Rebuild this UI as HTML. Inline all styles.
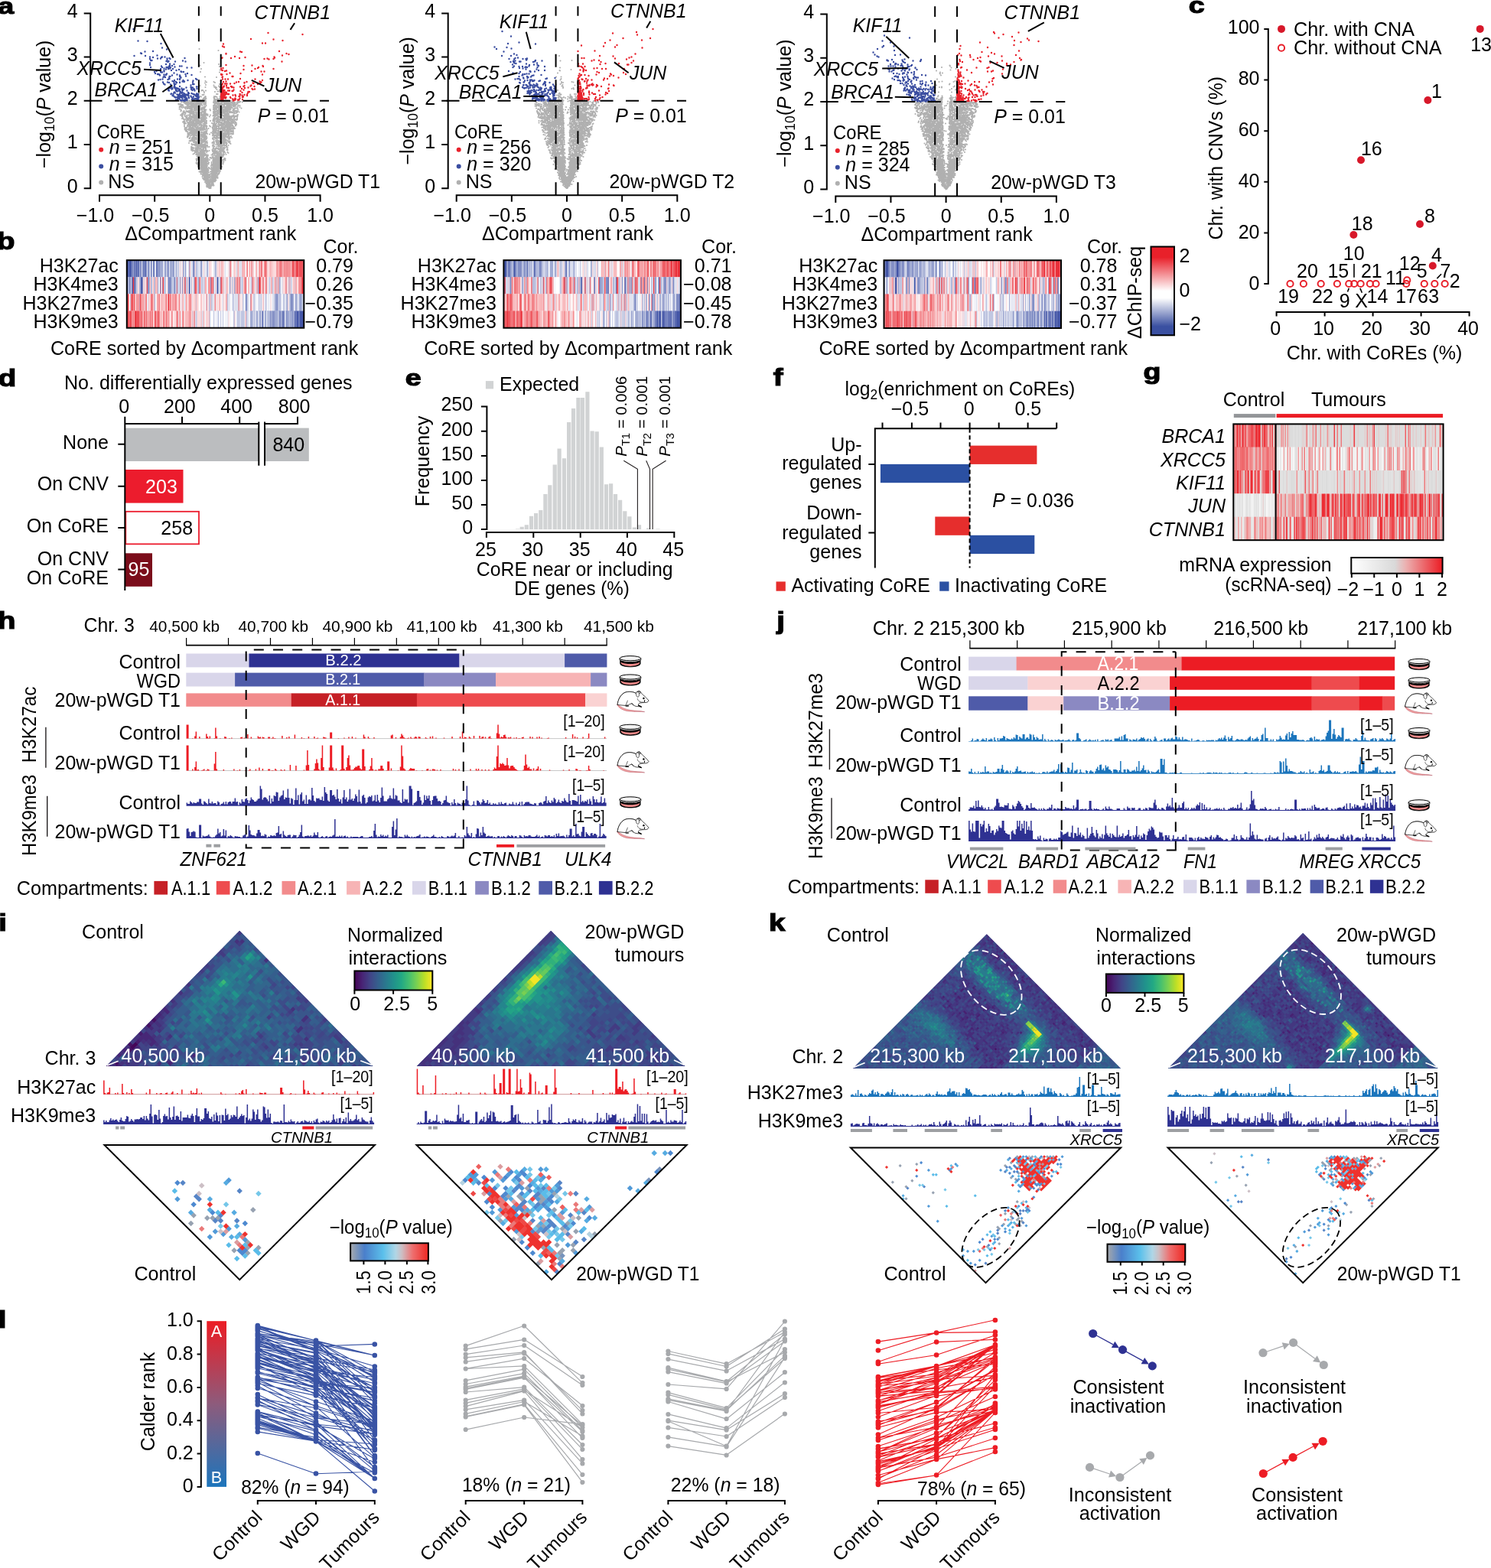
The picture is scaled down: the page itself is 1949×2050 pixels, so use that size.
<!DOCTYPE html>
<html lang="en"><head><meta charset="utf-8"><title>Figure</title>
<style>
html,body{margin:0;padding:0;background:#fff;}
body{width:1949px;height:2050px;overflow:hidden;}
svg{display:block;font-family:'Liberation Sans', sans-serif;font-size:25px;fill:#000;}
</style></head><body>
<svg width="1949" height="2050" viewBox="0 0 1949 2050">
<g id="panel_a">
<text transform="translate(-2.79 17.6) scale(1.25 1)" font-size="30" font-weight="bold" stroke="#000" stroke-width="1.2">a</text>
<polygon points="273.2,246.2 273.3,244.8 273.2,243.3 273.3,241.9 273,240.5 273.5,239 273,237.6 273.7,236.2 272.9,234.8 273.2,233.3 273.7,231.9 273.7,230.5 272.9,229 272.4,227.6 271.8,226.2 271.9,224.8 271.7,223.3 271.9,221.9 271.2,220.5 271.3,219 271.6,217.6 271.7,216.2 271.3,214.7 271.2,213.3 270.7,211.9 271.2,210.4 270.9,209 270.9,207.6 270.6,206.2 270.8,204.7 270.7,203.3 270.3,201.9 270.6,200.4 270.7,199 270.6,197.6 270.3,196.1 270,194.7 270,193.3 270.1,191.9 270.2,190.4 269.7,189 269.5,187.6 269.9,186.1 269.6,184.7 269.3,183.3 269.8,181.8 269.7,180.4 269.9,179 269.4,177.6 269.3,176.1 269.4,174.7 269.3,173.3 268.9,171.8 269.5,170.4 268.9,169 269.4,167.5 268.7,166.1 268.6,164.7 268.9,163.3 269.2,161.8 268.4,160.4 268.6,159 268.5,157.5 268.9,156.1 268.5,154.7 268.8,153.2 268.5,151.8 268.8,150.4 268.5,149 268.5,147.5 268.5,146.1 268.2,144.7 268.6,143.2 267.9,141.8 268.6,140.4 268,138.9 268.5,137.5 267.7,136.1 267.8,134.7 267.8,133.2 268,131.8 267.8,130.4 241.8,130.4 240.3,131.8 239.5,133.2 239.6,134.7 241.8,136.1 244.1,137.5 246.6,138.9 243.7,140.4 243.3,141.8 250.2,143.2 244,144.7 242.4,146.1 245.8,147.5 250.9,149 251.6,150.4 249.4,151.8 247.1,153.2 246.3,154.7 244.2,156.1 246.5,157.5 246.9,159 248.3,160.4 246.5,161.8 244.4,163.3 248.4,164.7 245.8,166.1 248.8,167.5 245.7,169 249.8,170.4 248.1,171.8 246.5,173.3 249.8,174.7 250.8,176.1 251.8,177.6 251.2,179 249.3,180.4 252.3,181.8 253.1,183.3 250.1,184.7 253.3,186.1 253.3,187.6 250.8,189 254.4,190.4 255.1,191.9 255.4,193.3 255.5,194.7 254.5,196.1 254,197.6 257,199 257.3,200.4 254.7,201.9 258.1,203.3 256.2,204.7 259,206.2 256.5,207.6 257.1,209 260.3,210.4 257.9,211.9 258.7,213.3 259.4,214.7 261.2,216.2 261.5,217.6 260.7,219 260.8,220.5 262.6,221.9 263,223.3 263.4,224.8 264.1,226.2 265.4,227.6 265.6,229 265.5,230.5 266.7,231.9 266.5,233.3 266.7,234.8 267.7,236.2 269.1,237.6 269.7,239 269.9,240.5 271,241.9 271.7,243.3 272.5,244.8 273.2,246.2" fill="#b0b0b0"/>
<polygon points="275.4,246.2 274.9,244.8 275.7,243.3 275.5,241.9 275.5,240.5 275.3,239 274.9,237.6 274.9,236.2 275.3,234.8 275.5,233.3 275.4,231.9 275.1,230.5 275.7,229 276,227.6 276.8,226.2 276.6,224.8 276.6,223.3 276.6,221.9 277.3,220.5 277.4,219 277.3,217.6 277,216.2 277.7,214.7 277.7,213.3 277.4,211.9 277.6,210.4 277.5,209 277.9,207.6 277.7,206.2 278.4,204.7 277.7,203.3 278.4,201.9 278.4,200.4 278.1,199 277.9,197.6 278.3,196.1 278.7,194.7 278.2,193.3 278.7,191.9 278.7,190.4 278.9,189 278.9,187.6 278.8,186.1 278.4,184.7 279.1,183.3 278.8,181.8 279.2,180.4 279.2,179 279,177.6 279.5,176.1 279.6,174.7 279,173.3 279.5,171.8 279.3,170.4 279.8,169 279.9,167.5 279.7,166.1 279.8,164.7 279.8,163.3 279.5,161.8 280.2,160.4 279.8,159 279.7,157.5 280.2,156.1 279.6,154.7 280,153.2 279.6,151.8 280.3,150.4 280.4,149 280.2,147.5 280.4,146.1 280.6,144.7 280.3,143.2 280.5,141.8 280.4,140.4 280.7,138.9 280.8,137.5 280.6,136.1 280.6,134.7 281,133.2 280.9,131.8 280.9,130.4 300.8,130.4 305.8,131.8 305.1,133.2 305.7,134.7 301.2,136.1 308.9,137.5 307.9,138.9 301.6,140.4 303.5,141.8 300.9,143.2 298.6,144.7 306.7,146.1 304.3,147.5 298.4,149 298.5,150.4 304.1,151.8 303.5,153.2 303.3,154.7 306.2,156.1 305.2,157.5 305.9,159 305.1,160.4 303.7,161.8 303.9,163.3 300.2,164.7 301.3,166.1 302.7,167.5 301.2,169 302.6,170.4 299.9,171.8 300.9,173.3 297.4,174.7 300.5,176.1 299.9,177.6 298.5,179 297.3,180.4 296.2,181.8 297.1,183.3 295.5,184.7 295.2,186.1 298.1,187.6 296.4,189 295.2,190.4 293.2,191.9 293.6,193.3 292.4,194.7 292.5,196.1 294.6,197.6 293.3,199 291,200.4 290.6,201.9 291.7,203.3 292.6,204.7 291,206.2 290.3,207.6 289.5,209 288.8,210.4 290.6,211.9 289.9,213.3 288.4,214.7 287.5,216.2 287.2,217.6 288.1,219 286.4,220.5 286.5,221.9 286.5,223.3 285.5,224.8 283.9,226.2 284.4,227.6 282.7,229 283.7,230.5 282.4,231.9 281.5,233.3 281.4,234.8 281,236.2 280.4,237.6 279.4,239 278.5,240.5 278.1,241.9 277,243.3 276,244.8 275.4,246.2" fill="#b0b0b0"/>
<path d="M243 131.5h0m3 0.5h0m3.5-1h0m18.5 1h0m33-1.5h0m1.5 2h0m-60 5h0m5.5 0h0m0-3.5h0m4.5-1h0m2 1.5h0m0.5-2h0m4 4.5h0m5.5-1h0m1.5 0h0m16.5 1h0m5.5-3.5h0m3.5 1.5h0m9 0.5h0m-57.5 3.5h0m2 0.5h0m1.5 2h0m1 0h0m5 0.5h0m5-1.5h0m5.5-0.5h0m0.5-1h0m0-0.5h0m1.5 0.5h0m1-1h0m0.5 0.5h0m1 1.5h0m0.5-1.5h0m16-0.5h0m0.5 4.5h0m4-4.5h0m2.5 0.5h0m1.5 3h0m2-3.5h0m0.5 0h0m7 0.5h0m1.5 0.5h0m-50.5 5h0m2 2h0m1.5-0.5h0m1 0h0m2 1h0m0.5-1.5h0m2 0.5h0m1-0.5h0m2.5-1h0m2 2.5h0m14.5-2.5h0m7.5 1h0m6 2h0m3-1h0m3.5-3h0m-47 6h0m5 0h0m3 3h0m2-4h0m18 4.5h0m0-5h0m3 3h0m1.5 1h0m0.5-3h0m1.5 0h0m1.5 4h0m1-3h0m2.5 1.5h0m0 0.5h0m4.5-3.5h0m0 2h0m1.5-1.5h0m4 0.5h0m-59 4h0m1.5 3.5h0m1-3.5h0m2.5 4h0m0.5 0h0m0.5-1h0m1.5-0.5h0m8.5 1h0m18 0.5h0m2-3h0m0.5 3h0m4.5 0h0m0.5-2.5h0m4.5-1h0m3.5-0.5h0m7-0.5h0m-54 7h0m1 2.5h0m1.5-4h0m1 0.5h0m3 1h0m8 2.5h0m1.5-0.5h0m1.5-1h0m1 0h0m0.5 0h0m0.5 1h0m1-4h0m0.5 3.5h0m12.5-2h0m0.5 1.5h0m2.5 1h0m3-0.5h0m1.5-2.5h0m2.5 1h0m2.5 1.5h0m2-3.5h0m4.5 1.5h0m0.5 0h0m1.5-1h0m-52 7.5h0m0.5 0.5h0m3-1h0m0 1.5h0m0.5-2h0m2.5 0.5h0m2-1.5h0m1 2h0m1.5-0.5h0m3 1h0m0.5-3h0m3.5 4h0m0.5-3.5h0m11 2.5h0m1.5 0.5h0m2-3.5h0m1 3.5h0m0.5-2.5h0m2.5 2h0m0.5-0.5h0m4-0.5h0m1-0.5h0m2-2h0m-44.5 7h0m4.5-1.5h0m3 1h0m3.5 3h0m1.5-0.5h0m2-2h0m0 2h0m0.5 0.5h0m1.5-1h0m1 0h0m14.5-0.5h0m1.5 1.5h0m0.5-2.5h0m2 0h0m1 1h0m2-0.5h0m4.5 0.5h0m1.5-2.5h0m-39 7.5h0m3.5 0h0m1.5-1h0m1-0.5h0m0 0h0m1.5 0h0m5.5 0.5h0m10.5 1h0m2-0.5h0m8.5-1.5h0m2-1h0m1.5 0h0m1 0.5h0m2 4h0m-41.5 1.5h0m0.5 1.5h0m1-1h0m0.5 1.5h0m4.5-2.5h0m1 1h0m2 2h0m15 0.5h0m1.5-2.5h0m3.5 3h0m1 0.5h0m0-4h0m0.5 3.5h0m9-1.5h0m0.5 1h0m-42.5 1h0m0.5 2h0m2-1h0m0.5 0.5h0m2.5 1.5h0m0.5 0h0m2.5 0.5h0m5 1h0m13.5-3.5h0m0.5 1.5h0m0.5 1.5h0m0.5-4h0m5.5 0.5h0m0 4h0m2-3h0m1.5-1h0m-37 4.5h0m2 4.5h0m1.5-2.5h0m3-1.5h0m1 4h0m4-4.5h0m15 2h0m0.5-2h0m0.5 3h0m0.5 1h0m0 1h0m0-5h0m0 2h0m1.5 1h0m4 0h0m3.5-2h0m1 3h0m2.5-3h0m-39.5 5h0m0.5 2h0m4.5 0h0m0 0.5h0m1 0h0m3-2h0m3.5 1h0m12 1h0m1-3h0m2.5 3h0m1-0.5h0m0.5-3h0m0.5 4.5h0m1 0h0m0.5-4h0m2 4h0m2-4h0m0.5 1.5h0m-32.5 5.5h0m1.5-2h0m8.5 1h0m1 1.5h0m12.5 1.5h0m4.5-3h0m3.5 0h0m0 0h0m0.5 0h0m0.5 1.5h0m0.5 2h0m-32 3.5h0m1 0h0m7-0.5h0m0.5-0.5h0m0.5-0.5h0m9.5-2h0m1 0h0m1 2h0m0.5 1.5h0m0.5-0.5h0m4-2h0m6 0h0" fill="none" stroke="#fff" stroke-width="1.3" stroke-linecap="round"/>
<path d="M260.5 64h0m25 2h0m-19 16h0m-5 3.5h0m24.5-1.5h0m1 3h0m-24 3h0m24.5 1.5h0m-25.5 2.5h0m25 0.5h0m-19 6h0m15 0.5h0m-14.5 5h0m1.5 1.5h0m9.5-0.5h0m-18 5h0m6.5-3.5h0m1 2.5h0m10.5 0.5h0m1.5-3.5h0m5 4.5h0m1-2.5h0m-18.5 4h0m11.5-0.5h0m1 0.5h0m0.5-0.5h0m0.5 1h0m0 1h0m1-1h0m0.5 2.5h0m3.5-3h0m-27 6h0m3.5-1.5h0m0.5-0.5h0m1 0h0m1.5 1.5h0m0.5 1.5h0m2-2.5h0m12 1.5h0m3.5-0.5h0m2 0h0m0.5-2h0m-26.5 5h0m1 3.5h0m1.5 0.5h0m1.5-2.5h0m1.5 0h0m0.5-0.5h0m1.5 3h0m0.5 0.5h0m0-1h0m0.5 1h0m0 0h0m10.5 0.5h0m0.5-0.5h0m0-1h0m1.5 0.5h0m0.5-0.5h0m1-3h0m0.5 4h0m1-4h0m3 3h0m-52.5 6h0m2.5 0h0m0.5 0h0m2.5 0.5h0m12.5-0.5h0m8.5-0.5h0m0-1h0m0.5 1h0m2.5-1h0m0.5-0.5h0m1-1.5h0m0 3h0m0.5 0h0m0-2.5h0m0.5-1h0m0.5 3h0m0.5-3h0m0 2.5h0m0.5-1.5h0m0.5 0h0m0 2.5h0m0.5-2.5h0m10 3h0m0.5-1h0m0-1.5h0m0-1.5h0m0 1h0m0.5 0h0m0 1.5h0m0-1.5h0m0.5 3h0m1-2h0m1.5 0.5h0m0 0.5h0m0.5-2h0m0.5 1h0m1.5-0.5h0m1.5-0.5h0m0-1h0m1 0.5h0m11 4h0m11.5-0.5h0m-77.5 3.5h0m0 0.5h0m0 0.5h0m1 0h0m1-0.5h0m0.5 0h0m1 0.5h0m0-3h0m0.5 3.5h0m1.5 0h0m0-4h0m1 0h0m0.5 1h0m0.5 0h0m1-0.5h0m0 2h0m0-3h0m1 0h0m0.5 0h0m0 3.5h0m1-0.5h0m0.5 0.5h0m0.5-3h0m1.5 1.5h0m0.5 1.5h0m0-0.5h0m0.5-1h0m0 1h0m1.5-2h0m0 1h0m2-1h0m0.5 2.5h0m0.5 1h0m0.5 0h0m0.5 0h0m0.5-3h0m5 2h0m1.5-3.5h0m0 5h0m2.5-1h0m4.5-0.5h0m0.5-1h0m0.5 1h0m0-2h0m0.5-0.5h0m0 2h0m0 0.5h0m0-1h0m0 1h0m0-3h0m0 2.5h0m10-1.5h0m0.5 0h0m0-1h0m0 1.5h0m0.5-2h0m0 1.5h0m0 0.5h0m0.5-1.5h0m0 4h0m0-3.5h0m0.5 1h0m0 1h0m7 0.5h0m1-3h0m0 2h0m1.5 2h0m0-3h0m5-1.5h0m1 1.5h0m1.5 2h0m1 0.5h0m1-1h0m1.5 1h0m0.5 0h0m0.5-3h0m1.5 2h0m1-2.5h0m0 2h0m0 2h0m0.5 0.5h0m0-1.5h0m1 0h0m0-2.5h0m0.5 0.5h0m0 0.5h0m0 1.5h0m0.5-1.5h0m1 2.5h0m1-2h0m0 1.5h0m0.5-3h0m0.5 1.5h0m1 2.5h0m0.5-4h0m0.5 0.5h0m0.5-1h0m0.5 0h0m1 0h0m2.5 0.5h0m-82.5 6.5h0m0 2.5h0m1-2.5h0m0-1.5h0m1.5-1h0m0 2h0m0-1h0m1 2.5h0m0.5-2.5h0m1 0.5h0m0.5 1.5h0m2-0.5h0m0 1.5h0m1 1h0m0.5-2.5h0m1-2h0m0.5 2h0m0 0h0m0 2h0m0.5-3h0m0 3h0m1.5-3h0m0 2h0m1-2.5h0m0 0h0m0 3.5h0m0-1h0m1.5-1.5h0m0.5 2.5h0m1-1.5h0m0.5 2h0m1-5h0m0.5 2.5h0m1.5-1.5h0m2 1.5h0m1-1.5h0m0.5 2h0m1 0.5h0m2-1h0m0.5-0.5h0m3.5 2h0m2-2h0m0.5 0.5h0m0.5 0h0m0.5-0.5h0m1-1.5h0m9.5 4h0m0-4h0m0 2h0m0.5 1.5h0m0-4h0m0 5h0m0.5-2h0m0.5-2.5h0m0 2.5h0m0.5 1.5h0m0-4h0m0.5 0h0m0 2h0m1 0.5h0m1-2.5h0m4 0h0m0 1h0m4 2h0m0.5-0.5h0m5.5-2.5h0m0.5 3.5h0m0.5-1.5h0m2-1.5h0m0-0.5h0m0.5 1.5h0m0.5 0.5h0m1-1h0m0.5 1.5h0m1.5 1h0m1.5-2h0m1 2h0m1 0h0m0.5-2h0m1.5 2h0m0.5-0.5h0m0.5-2h0m2.5 1h0m0-2h0m2 3.5h0m-80 1h0m1 2h0m0 1h0m0.5-1.5h0m2.5 2h0m0 1h0m1-1.5h0m0-0.5h0m0 0.5h0m1 1h0m0.5 0.5h0m0.5 0.5h0m1-2.5h0m0 0h0m1 1h0m3 0h0m1-1.5h0m1.5-1.5h0m0.5 4.5h0m2-1.5h0m1.5-1.5h0m0.5-1h0m2 2h0m2.5 0.5h0m4-3h0m2-0.5h0m2.5 0.5h0m0 3h0m1 1h0m0-3.5h0m0 0h0m0 2.5h0m0-1h0m1-1.5h0m5-0.5h0m0.5 1.5h0m4 1.5h0m0-2.5h0m0 3h0m0.5-3h0m0 3.5h0m0.5-4h0m0 0h0m0 3h0m0-2.5h0m0.5 3.5h0m0-1h0m0 1h0m0-2h0m0.5 1.5h0m1-3.5h0m2 4.5h0m1-1h0m4.5-4h0m2 2.5h0m4 1.5h0m0-3h0m1.5 3.5h0m0-0.5h0m1-2h0m0.5 0.5h0m1 1.5h0m0.5 0.5h0m0.5-2h0m0-2h0m1 0h0m0.5 3.5h0m2.5-2h0m0-0.5h0m0 0h0m0.5-0.5h0m0.5 3h0m0-2.5h0m0.5 0.5h0m0-1h0m0-0.5h0m0.5 4h0m1-1.5h0m0.5-0.5h0m0.5 0.5h0m0-1h0m0.5 0.5h0m1 2h0m0-0.5h0m1-1.5h0m0-2h0m1.5 3.5h0m-76.5 4h0m1.5-1h0m0 1h0m0.5 0.5h0m0-2.5h0m0 3h0m0.5-2.5h0m0 3h0m0 0h0m0-1h0m0.5-1.5h0m0.5-0.5h0m0.5-1.5h0m1.5 2h0m0 1.5h0m0 0.5h0m0.5-4h0m0 4.5h0m0.5-3.5h0m1.5 2.5h0m0.5 1.5h0m1.5-2h0m1.5 0h0m0.5 2h0m0-2h0m0.5-1.5h0m0-0.5h0m0.5 2.5h0m0-2h0m0.5 3h0m0.5-4.5h0m0 4.5h0m1-3h0m3.5 1h0m1 1.5h0m1.5-1.5h0m3 1h0m3.5 0h0m3.5-2.5h0m1 0h0m0-0.5h0m0 1.5h0m0.5-1h0m0.5 1.5h0m0 2h0m0-3.5h0m0 1.5h0m0-1h0m1 0h0m0 1h0m1.5 1h0m0-1.5h0m2.5 3h0m1-2h0m3.5 1h0m0.5 0h0m0-1h0m0 0h0m0-2.5h0m0.5 3h0m0 0.5h0m0.5-1.5h0m0 1h0m0.5-1.5h0m0 1h0m0-0.5h0m1-2h0m2.5 1h0m0-0.5h0m4.5 0.5h0m3.5 2.5h0m2-1h0m0 2h0m0-5h0m0 4h0m1-0.5h0m1.5 0h0m0.5-1h0m1-0.5h0m0.5 2.5h0m0-3.5h0m0 3h0m0-2h0m0.5 0h0m1 2h0m3 0h0m1-4h0m1 4h0m0-0.5h0m0 1h0m0-1.5h0m1-2h0m0.5 0h0m0.5 3h0m0.5 0h0m1-3.5h0m0.5 4h0m0-4.5h0m1 3h0m0 1.5h0m0.5 0h0m0.5-2h0m-73 2.5h0m0 2.5h0m1-1h0m0.5 0.5h0m0.5 1.5h0m1.5 0.5h0m0.5-0.5h0m1-3h0m0.5 1.5h0m0.5 2.5h0m0-2h0m0.5-1.5h0m0.5 3.5h0m0.5 0h0m0-2h0m0 1h0m0.5 0h0m0 1h0m1-3.5h0m0.5 2h0m1-3h0m1 4.5h0m0.5-0.5h0m1.5 0h0m2-1.5h0m2-0.5h0m6 0.5h0m2 2h0m3.5-2.5h0m0.5 1h0m0.5 0.5h0m0.5-1h0m0.5-0.5h0m0 2.5h0m0.5-3h0m0 0h0m0.5 0.5h0m8.5 3h0m0-0.5h0m0.5-1.5h0m0 2h0m0.5-2h0m0 2h0m0 0h0m0-2h0m0-1.5h0m1 3h0m0-3h0m1 1.5h0m3-2h0m1.5 3h0m2.5 0h0m2-1h0m0.5 0h0m2 1.5h0m2-4h0m1 0.5h0m2.5-1h0m1 2.5h0m1.5-0.5h0m0 2h0m0.5-2.5h0m0-1h0m1.5 0h0m0.5 0h0m0.5 4h0m1.5-2h0m0.5-2h0m0 4.5h0m0-4h0m0.5 0.5h0m0.5-1h0m0 3.5h0m0.5-4h0m0.5 3.5h0m1 1h0m1-0.5h0m0-1h0m0-1.5h0m-71 5.5h0m1-0.5h0m0-0.5h0m0.5 2.5h0m0.5 0.5h0m0 1h0m0-4h0m0.5 0h0m0 2h0m0-1h0m1 1.5h0m0.5 0.5h0m1-3.5h0m0.5 1h0m1 1h0m0 1h0m1-0.5h0m0.5 1h0m0.5-1.5h0m0.5-0.5h0m0 0h0m0.5 1.5h0m2 0h0m0.5-2h0m0.5 0.5h0m0.5 1.5h0m0.5-3h0m0-0.5h0m1 2.5h0m0-0.5h0m0-0.5h0m1.5 3h0m0.5-3.5h0m0 0h0m0 0h0m1 4h0m1.5-1h0m0-3.5h0m4 2.5h0m0.5 1.5h0m0.5-4h0m3.5 3.5h0m1-1.5h0m0.5 1h0m0 0h0m1 0.5h0m0-1.5h0m0.5-1h0m0-0.5h0m0 2h0m0-3h0m0.5 1h0m0-0.5h0m0 3.5h0m0-1h0m5-2.5h0m2 3h0m1.5 0.5h0m0-3h0m0.5 3h0m0-3.5h0m0.5 4h0m0-4h0m0.5 3h0m0-0.5h0m0.5-1h0m4.5 0h0m1.5-1h0m1 1.5h0m3.5-2.5h0m2.5 1h0m0 3h0m0.5-1h0m0 0.5h0m3-2h0m0-1.5h0m0.5 4h0m0-4h0m0.5 5h0m0.5-4.5h0m0.5 1h0m1 1.5h0m0.5-0.5h0m0 1.5h0m0 0.5h0m1-4h0m0 0h0m0.5 3h0m1-3h0m0 3h0m0 0h0m1-0.5h0m1 0.5h0m1-1.5h0m0.5-1.5h0m0.5 3.5h0m0.5-1.5h0m0.5-0.5h0m1 1.5h0m-68 3.5h0m0 0.5h0m0-0.5h0m0 0.5h0m0.5 2h0m1 0h0m1 0h0m0.5 0h0m0.5-1h0m0.5-2h0m1-1h0m0.5 2.5h0m0.5-0.5h0m0 0h0m0 0.5h0m0-2h0m0.5 1h0m1-1.5h0m0 3.5h0m0-1.5h0m0 1h0m0-0.5h0m0.5-2.5h0m0.5 3.5h0m0.5-3.5h0m0.5 3.5h0m0.5-2.5h0m0 3.5h0m1-2h0m0.5 1h0m0-1h0m0.5-1.5h0m1 0.5h0m0-1h0m0.5 1h0m0.5 1.5h0m1.5-1.5h0m2 0.5h0m6.5-0.5h0m0 2.5h0m1-2h0m1 0h0m1-1h0m1 0.5h0m0 0h0m0.5 1.5h0m0-2h0m0.5 3h0m0-2.5h0m0.5 0.5h0m3.5-0.5h0m1 1h0m2.5 1h0m0.5-0.5h0m0 0.5h0m0.5-3h0m0 2.5h0m0.5-2.5h0m0 1.5h0m0 1h0m0-2h0m0.5 1.5h0m0-3h0m0.5 2.5h0m0-0.5h0m0-1.5h0m0.5 1h0m0.5 2.5h0m2 1h0m1-2.5h0m1.5 0h0m2.5-1.5h0m2 0h0m1.5-0.5h0m0.5 2h0m0 0h0m0.5 1.5h0m0.5-1h0m1-2h0m1 2.5h0m0.5-3h0m0 3h0m0-1h0m1 2h0m0.5-3.5h0m0 2h0m0.5-1.5h0m0.5-1h0m0.5 1h0m1 0.5h0m0.5-1h0m0.5 2h0m0-2h0m0.5 0.5h0m0.5 0h0m0.5 1h0m0.5 2h0m1-2.5h0m0.5-1h0m0.5 3h0m0-1h0m0 1.5h0m0-2.5h0m1 2h0m0 0h0m0.5-0.5h0m1.5-3h0m0.5 1h0m0 0.5h0m1-2h0m0 0.5h0m-67.5 6h0m0.5 0h0m0-0.5h0m0.5 2h0m0-0.5h0m0.5 1.5h0m1 0.5h0m0-3h0m0 2h0m0-0.5h0m0.5-1h0m0.5 2.5h0m0 0h0m1-3h0m1 1.5h0m0-2.5h0m1 2h0m0-1.5h0m1 2h0m1-2.5h0m0 1.5h0m0 2h0m0-2h0m0.5 2.5h0m0-1.5h0m0-1h0m1.5 1.5h0m0.5 0h0m1-1h0m1 1.5h0m0-2.5h0m0.5 3h0m1-0.5h0m0.5-0.5h0m1 1.5h0m0-3.5h0m1.5 0h0m1.5-0.5h0m1.5 2h0m3-2h0m0 1h0m0.5-0.5h0m3 3h0m0.5 0h0m0 0h0m1-4h0m0-0.5h0m0 4h0m0.5-0.5h0m0-2h0m0 0.5h0m2-1.5h0m5.5 4h0m0-4h0m0.5 1h0m0 2.5h0m0-3h0m0 2.5h0m0-1.5h0m0.5 1h0m0 1.5h0m0-1h0m0-1h0m0-0.5h0m0-1.5h0m0 4h0m0.5-1.5h0m0.5-1h0m0 2.5h0m2.5-1.5h0m2 0h0m0.5 1h0m1-2.5h0m0 3h0m2 0h0m3 0h0m0-3.5h0m1 0.5h0m0.5 1.5h0m1-0.5h0m0.5 2h0m0-0.5h0m1 0h0m1.5-2.5h0m0.5 2.5h0m0-2h0m0.5-1h0m0.5 3.5h0m0.5-1h0m0.5-1h0m0.5-1.5h0m0.5-0.5h0m1 4.5h0m0.5-3.5h0m0 3h0m0-1h0m0.5-1h0m0.5-2h0m0.5 3.5h0m0.5 1h0m0-4.5h0m0.5 3h0m0.5 0h0m0 1h0m0-3.5h0m0 1h0m0.5 1.5h0m1-3h0m1 0h0m-61.5 7.5h0m0-2.5h0m0 1.5h0m0.5 0h0m0 2.5h0m0.5-1.5h0m1 1h0m0-1.5h0m0-1h0m0 1h0m0.5-1h0m0.5 0.5h0m0.5 3h0m0.5-3h0m0-1h0m0 1.5h0m0 0h0m0.5-1h0m0-1.5h0m0 0.5h0m0.5 4h0m0-3h0m0 0.5h0m0.5-1h0m0.5 1.5h0m0-0.5h0m0.5 1.5h0m1-2h0m0-0.5h0m0 2.5h0m0.5 1h0m0.5 0h0m1-1.5h0m0.5 0.5h0m0.5-1.5h0m0.5 0h0m4.5-1h0m0.5 1.5h0m0.5 1.5h0m1.5-3h0m3-1h0m0 3.5h0m2-3.5h0m0.5 1.5h0m0.5 0.5h0m0.5-1h0m0-0.5h0m0 0h0m0 0h0m0 1h0m0.5 0.5h0m0.5 0.5h0m3 0.5h0m2-2h0m2 4h0m0-3.5h0m0 3h0m0-2h0m0 0h0m0.5 1.5h0m0 0.5h0m0-1.5h0m0.5 1h0m0-1.5h0m0 0.5h0m0.5-2h0m1 3.5h0m1-3.5h0m0.5 0.5h0m3.5 1.5h0m0.5-1.5h0m1.5 3h0m3-2h0m0.5-2h0m2 3h0m0-0.5h0m0.5 1h0m0 0.5h0m0.5-4h0m0 3h0m0.5 1.5h0m0-3h0m1.5 1.5h0m0.5-2h0m1 0.5h0m1-0.5h0m0 0.5h0m0.5 1h0m0.5 1.5h0m0-2.5h0m1.5 0.5h0m1-2.5h0m0.5 2.5h0m0.5 0h0m0.5 0h0m0.5 0.5h0m0-0.5h0m1-2h0m0 2h0m-60 3h0m0 1.5h0m1-1h0m1.5 2.5h0m0.5-0.5h0m0 0.5h0m0.5-1.5h0m2 2.5h0m0.5-1.5h0m0.5 1.5h0m1-1.5h0m2 1h0m0.5-1h0m1-1h0m0.5 1h0m0.5 0h0m2-2.5h0m0.5 4.5h0m2-5h0m0 1h0m1.5-0.5h0m2 0.5h0m4.5 1h0m0-0.5h0m0 3h0m0.5-4h0m0 3.5h0m0.5-1.5h0m7.5 1.5h0m0-1h0m0.5 1.5h0m0-0.5h0m1-2h0m2 0.5h0m1.5 0h0m0.5 0h0m4.5-1.5h0m2 0h0m1 1h0m1 0h0m0 2.5h0m0-1h0m0.5-0.5h0m0.5-1.5h0m1.5 3h0m4-2.5h0m0 1.5h0m1-0.5h0m0-1.5h0m0 3.5h0m1-1.5h0m0 0h0m0-2h0m0.5 0h0m1-1h0m1 2h0m-56 7h0m0.5-2.5h0m0.5-0.5h0m1.5 0.5h0m0-1h0m1.5-0.5h0m1.5 1h0m0.5 2h0m0-3h0m1 0h0m0.5 1h0m0 2h0m1 0.5h0m1.5-0.5h0m1.5 0h0m0.5-0.5h0m0 1.5h0m0-1.5h0m2 1.5h0m1 0h0m4.5-3.5h0m3.5 2h0m0 0.5h0m0-0.5h0m0.5-1h0m0 2.5h0m0.5-0.5h0m0 0.5h0m6.5 0h0m0-0.5h0m0.5 0h0m0-0.5h0m1.5 1h0m9.5-0.5h0m2-3.5h0m0.5 3.5h0m0.5-2h0m2-1h0m0.5 0.5h0m0.5 3h0m1 0h0m0.5-1.5h0m1-2h0m1 1h0m0.5 1.5h0m1-0.5h0m0-0.5h0m0.5 1h0m0 1h0m0-2.5h0m-50.5 7.5h0m0.5-4h0m0 4h0m0.5-2.5h0m0.5 0h0m0-0.5h0m2.5 0.5h0m2-1.5h0m1.5 1.5h0m3 0h0m1 1.5h0m0.5 0.5h0m5 0h0m3.5-1.5h0m0.5-0.5h0m0 1.5h0m0.5 1h0m2 0h0m4.5-2.5h0m0 1.5h0m9.5 0.5h0m0.5-1h0m2.5 0h0m1.5-2.5h0m1 0.5h0m2 1.5h0m1-1.5h0m0 1h0m0 1.5h0m0.5 1h0m2-2h0m0 0h0m3-2h0m-51.5 8h0m0-2h0m0.5-1h0m0.5 1.5h0m0.5 3h0m0-1h0m0.5-0.5h0m0 0h0m0-3h0m1 3.5h0m0-2.5h0m0.5-0.5h0m2 0h0m0 2h0m1.5 0.5h0m0.5-3h0m1 2h0m2 1h0m10.5 1h0m2.5 0h0m4-1h0m0.5 0.5h0m0 0.5h0m0.5-2h0m0-1.5h0m0.5 3.5h0m6.5-2.5h0m2.5 0.5h0m0 1.5h0m1-1.5h0m0-0.5h0m0.5-0.5h0m0 1.5h0m0 0.5h0m0.5 1.5h0m0-4.5h0m1 2h0m0 2.5h0m1.5-2.5h0m0-0.5h0m1 0h0m0-1.5h0m2-0.5h0m1 3.5h0m0 0h0m0.5-1.5h0m0.5 2h0m0-4h0m0 2.5h0m-45 6.5h0m1.5-1h0m0-3h0m1 2h0m0.5-0.5h0m0.5-1h0m0.5 4h0m0-3h0m0.5 0.5h0m0 3h0m0-1.5h0m0.5 0.5h0m0.5-2.5h0m0 2h0m0 1h0m0.5-3.5h0m5 4h0m3-0.5h0m1 0.5h0m1.5 0h0m2.5 0h0m0-4.5h0m5 4.5h0m1.5-1.5h0m0 0.5h0m0-3.5h0m2.5 2.5h0m1.5-0.5h0m1-1.5h0m0.5 1h0m2.5 1.5h0m0-0.5h0m1-2.5h0m0.5 2h0m1-0.5h0m0.5-1.5h0m0 1.5h0m3 1.5h0m0.5 1h0m0.5 0h0m0-3h0m0.5 0h0m1 1h0m1 2h0m2-3h0m1 1h0m-40.5 7h0m1.5 0.5h0m0.5-3.5h0m0-0.5h0m0.5 3.5h0m0.5-3h0m0 1.5h0m2 2h0m5-4.5h0m2 0h0m0.5 2.5h0m0.5 0.5h0m0-1.5h0m0 0.5h0m0.5-1h0m0-1.5h0m0 4.5h0m0.5-4h0m2.5 3.5h0m0.5-0.5h0m1.5 1h0m1-2h0m0 0.5h0m0.5-3h0m0.5 4h0m2.5-0.5h0m4-2.5h0m0.5 3.5h0m0.5-4h0m1 0.5h0m1 2h0m0.5-1h0m1.5 1h0m1-2.5h0m0 1.5h0m1-1.5h0m0 0h0m1.5 4h0m-37 1h0m0.5 2h0m0 0.5h0m0.5-2h0m2-0.5h0m0.5 3h0m0.5 1h0m0 0h0m2-4.5h0m0.5 2h0m1 0.5h0m1.5 0h0m0 2h0m1.5-1h0m2.5-2h0m1.5-0.5h0m0.5 2h0m0 0.5h0m0.5-3h0m0 2h0m0-2h0m1 4.5h0m1-3.5h0m2.5 3h0m2-2h0m3-1h0m3.5 0h0m2 0.5h0m2.5 2h0m0.5-1.5h0m1-1h0m1 2.5h0m0.5-2.5h0m0 2.5h0m0 0h0m0-2.5h0m0.5-1h0m1.5 1.5h0m0-2h0m-38 5.5h0m0.5 0h0m0.5 1.5h0m1.5 2h0m0-1.5h0m0-1.5h0m0.5 0h0m0 1h0m0.5-1h0m0 2.5h0m0 0.5h0m1-1.5h0m0.5 1h0m1 1h0m0-3.5h0m0.5 2h0m0-0.5h0m0.5-0.5h0m1 2.5h0m4-1.5h0m2 1h0m0-2h0m0.5-1h0m0.5 0h0m1 1h0m0-0.5h0m3.5 2.5h0m0.5-2.5h0m0 2h0m0.5-1.5h0m0 0.5h0m1 1.5h0m4-3h0m0 1.5h0m1 1h0m0-0.5h0m3.5-2h0m0.5 3h0m0-1.5h0m1 1.5h0m0.5-1.5h0m0 1h0m0 0h0m3-1.5h0m0-1h0m-32.5 4.5h0m1 1.5h0m0-1.5h0m0.5 2h0m0-0.5h0m0 0.5h0m0.5 0.5h0m0 1h0m2-3.5h0m0.5 4h0m2-3h0m0.5 2.5h0m0.5-2h0m4.5 2.5h0m0-0.5h0m1-1.5h0m0.5 2h0m0 0.5h0m0.5-3.5h0m1 1h0m1.5 1h0m0.5-2.5h0m0 0h0m1 1.5h0m0 0h0m0 1.5h0m1-2h0m1 2h0m0.5-1.5h0m3 1.5h0m0.5-3h0m2.5 1h0m0.5 3h0m1-2h0m0.5-2h0m0.5 2h0m0.5-2h0m0 2h0m1.5-2.5h0m-29.5 6.5h0m1.5 0.5h0m0-1h0m0 0h0m0.5 1.5h0m0 2h0m0.5-2h0m0 2h0m0.5-3.5h0m1 0h0m1 0.5h0m0 2.5h0m0.5-1h0m0 0h0m0.5 0.5h0m1-3.5h0m1 3.5h0m0.5-0.5h0m1.5-3h0m0.5 4.5h0m0 0h0m1-3.5h0m0.5 1.5h0m0.5 0h0m2-1h0m1 2h0m0.5-2h0m0-1h0m1.5 0h0m1.5-0.5h0m4 1.5h0m0 2h0m0-3h0m0.5 0.5h0m0.5 3.5h0m1-3h0m0 2.5h0m1 0h0m0-1.5h0m0.5-0.5h0m0.5-2h0m0.5 0.5h0m-23.5 7.5h0m0-3h0m0.5 2h0m0-1h0m0.5-1h0m0 1h0m1.5 3h0m0-3h0m1 3.5h0m0.5-2.5h0m0 1h0m3.5-2h0m0.5 2.5h0m0.5-3.5h0m0 1h0m0.5-0.5h0m0.5 3h0m0 0h0m0.5 1h0m0-2h0m0 0h0m0-2h0m0 1.5h0m0 1h0m0.5-3.5h0m2 4h0m1-0.5h0m0.5 0.5h0m1.5-1.5h0m1.5-2h0m0.5 3h0m0.5-2.5h0m1 1.5h0m0 1.5h0m0.5-2h0m0 2h0m0.5 0h0m0.5-3h0m-20 4.5h0m0.5 0.5h0m0.5 0.5h0m0 0h0m0.5 1h0m0-2h0m0 0.5h0m0 1h0m0.5-1h0m1-0.5h0m0 0.5h0m0-0.5h0m0 0h0m0.5 3.5h0m0-1h0m2.5 0h0m0 1h0m0-1.5h0m0-1h0m0.5 0h0m1 2.5h0m0.5-1.5h0m0.5 2.5h0m0.5-5h0m0 4.5h0m0.5-1.5h0m0-2.5h0m0 4.5h0m0 0h0m0.5-3h0m0 0h0m0 0h0m0 0h0m0.5 3h0m1.5-4.5h0m1 2.5h0m0 0h0m0.5-3h0m1.5 3.5h0m0 0h0m0-0.5h0m0.5 0h0m0-3h0m0 1h0m0 2.5h0m0-0.5h0m0.5-2h0m0 1.5h0m1 1h0m0-3.5h0m0 1h0m0.5 2h0m1.5-3h0m0.5 0.5h0m-16.5 5h0m1.5 2h0m0-1h0m0.5 0h0m0 0h0m0.5 0h0m0-1h0m0 3.5h0m0.5-1h0m0 0.5h0m0 1.5h0m0.5-3h0m0 1h0m0.5 0.5h0m0-3.5h0m0 2h0m0.5-1h0m0 0h0m0.5 3h0m0.5-1h0m0 0h0m0-1.5h0m0 0h0m0.5 0h0m0.5 0.5h0m0 0.5h0m0.5 1.5h0m0 0.5h0m2-2h0m0-2h0m0.5 3h0m0.5 1h0m1-1.5h0m0.5 2h0m1.5-5h0m-11 5.5h0m0.5 1.5h0m0.5-0.5h0m0.5-0.5h0m0.5 0h0m0.5 0h0m0 1.5h0m0-1h0m0.5 0h0m0 1h0m0 0.5h0m0.5 0h0m0-2h0m0 2.5h0m0-0.5h0m0.5 0h0m0-1h0m0 0.5h0m0.5-2h0m0 3h0m0 0h0m0 0h0m0.5-0.5h0m0.5 0.5h0m0-1.5h0m0 0.5h0m0.5-2h0m2-0.5h0" fill="none" stroke="#b0b0b0" stroke-width="2.1" stroke-linecap="round"/>
<path d="M174.5 38h0m6 15.5h0m12 0.5h0m18 3h0m-10.5 10h0m0 0h0m12-4.5h0m6 2h0m-34 5h0m1 0.5h0m4.5-2.5h0m16 5h0m-30 0.5h0m14.5 0h0m6 1.5h0m0 2.5h0m4-2h0m6 1.5h0m4 0h0m1-1.5h0m1-0.5h0m3.5 0h0m3 2h0m3-0.5h0m1 1h0m19-1h0m-44.5 3h0m1.5 0h0m19 1h0m1-1.5h0m1 2.5h0m1-1h0m8.5 0.5h0m10-1h0m3.5 1h0m-46.5 4.5h0m0-2.5h0m15 4h0m6-2.5h0m4 2.5h0m1-3h0m0 2h0m0 1.5h0m3-1h0m2.5-2h0m1 3.5h0m6.5-1h0m2.5 0h0m-40.5 1.5h0m13 2h0m2-2h0m2.5 4h0m0-2.5h0m2.5 1h0m0.5-2.5h0m1 0h0m1.5 2h0m0.5-2h0m1.5 1.5h0m1-1h0m1 3.5h0m2-2h0m4.5 2h0m3.5-1h0m10.5-2.5h0m6 0h0m-48.5 5.5h0m1 2h0m1.5-3h0m1.5 4h0m1 0h0m3-3h0m1 0.5h0m1 0h0m2.5-1h0m3 3.5h0m0.5-0.5h0m9.5-1h0m4 2h0m5-4h0m1 0.5h0m2.5 0h0m2.5 3h0m2.5-1h0m-36.5 1.5h0m0.5 1h0m4.5 2.5h0m1-3.5h0m0 2h0m1.5 1.5h0m1-3h0m4 4h0m0.5-2h0m1 0h0m2.5-1.5h0m10 1.5h0m0-1.5h0m0.5 1h0m1 2h0m6.5-2h0m7.5-1.5h0m-43.5 6.5h0m2.5-0.5h0m3-0.5h0m7 0.5h0m2-1h0m4 3h0m2 1h0m0.5-2h0m2 2h0m2-3.5h0m3 0.5h0m0-1h0m0 4.5h0m3.5-1h0m1-1.5h0m1 2h0m0.5-0.5h0m4.5-1.5h0m7 0.5h0m3.5-2.5h0m1.5 1h0m-44.5 3.5h0m1 2h0m1.5 1h0m3.5-3h0m2 0.5h0m2 2.5h0m4.5-1.5h0m0.5 3.5h0m0-1.5h0m1.5-1h0m1.5-2h0m4 0h0m14.5 3.5h0m2.5-1.5h0m0-2.5h0m1.5 2.5h0m-33.5 6h0m0 0h0m1-0.5h0m1.5-0.5h0m2 1.5h0m0-2.5h0m1 2h0m2-2h0m1-0.5h0m0 1.5h0m1 1.5h0m1-1.5h0m0 2.5h0m1.5-2h0m0.5 0.5h0m1 0h0m1.5-3h0m0 4h0m2.5-1.5h0m2 1.5h0m1-0.5h0m3-2h0m6-0.5h0m0.5 2.5h0m0-0.5h0m0.5 1h0m0-2.5h0m1.5 0h0m1 2h0m1 0.5h0m0-0.5h0m3-3h0m0.5 2.5h0m2-2.5h0m-39.5 4.5h0m1 0.5h0m6.5 2.5h0m0.5-0.5h0m1 1h0m1-3h0m1 0.5h0m0.5 0.5h0m2-1h0m1.5 4h0m0-4h0m0.5 1.5h0m0.5 0.5h0m0-0.5h0m1.5 2h0m0.5-1h0m0-3.5h0m0.5 3.5h0m0-2.5h0m2 3.5h0m4-3.5h0m1.5 2.5h0m1 1h0m3.5 0h0m1-4h0m3 0.5h0m2.5 4h0m-33.5 0.5h0m0.5-0.5h0m1.5 2.5h0m1-2h0m0.5 2.5h0m1.5 1.5h0m0.5 0h0m0.5 0.5h0m2-0.5h0m0-3.5h0m1.5 2h0m0 0h0m0.5-1.5h0m0 2h0m0.5-0.5h0m0 0h0m0.5-1.5h0m0 1.5h0m0.5-0.5h0m0-0.5h0m0 1.5h0m1 1h0m0.5-2h0m0.5 2h0m1-0.5h0m0.5-2h0m0.5-0.5h0m0 2h0m0.5-1.5h0m0.5 0h0m1 3h0m0-3.5h0m0-1h0m0 3h0m0.5-0.5h0m0.5 0h0m0 0.5h0m0.5-0.5h0m0-1.5h0m0.5-0.5h0m1.5 0.5h0m0.5 0.5h0m1-2h0m0 1h0m0.5 1.5h0m0 2h0m3-1.5h0m0 0.5h0m1 1h0m2-4h0m0.5 3.5h0m1-3h0m0.5 0.5h0m1.5 1.5h0m0-1h0m1-1h0m0 1.5h0m0 1h0m0-2.5h0m0 0h0m1 2.5h0m0 0h0m0 0h0m0.5-3h0m0.5 1h0m0 3.5h0m0-4.5h0m0.5 2.5h0m0.5 2h0m-30 3h0m2-0.5h0m0.5-1.5h0m0.5-0.5h0m0.5 0.5h0m0.5 0.5h0m0-1.5h0m0.5 1h0m0 1h0m1.5 1.5h0m1 0.5h0m1-3.5h0m0 3h0m0.5-2.5h0m1 2.5h0m0.5 0.5h0m1.5 0.5h0m0-1.5h0m0.5-0.5h0m0.5 1h0m0.5-2h0m0-1.5h0m0.5 0.5h0m1 3h0m0-2h0m2.5-1h0m4 2h0m0.5-1h0m0.5 0h0m0.5 0h0m1 1h0m1.5-1h0m1 0.5h0m0.5-0.5h0m0.5 0h0m1 2.5h0m0-0.5h0m0 0h0m0 0.5h0m0.5-3.5h0m0 1.5h0m0 0h0m0 0h0m0.5 2h0m0-0.5h0m0-2h0m1 2.5h0" fill="none" stroke="#3a4da0" stroke-width="2.4" stroke-linecap="round"/>
<path d="M350.5 43h0m45 2h0m-67.5 6h0m29.5 0.5h0m-14.5 5h0m4 0h0m22.5-3.5h0m-78.5 7.5h0m1-3h0m1 4h0m21 6h0m51-0.5h0m-69.5 3h0m0 0.5h0m20.5-2.5h0m58.5 2h0m3 1h0m-87.5 5h0m0.5-0.5h0m11.5 0.5h0m5-2h0m6 2h0m7.5-1h0m25 2h0m4-0.5h0m8 0.5h0m1-2.5h0m0.5 1h0m10-3h0m-17.5 5h0m17 3h0m-73 4.5h0m23 1h0m11-0.5h0m14 0.5h0m0.5 1h0m-55 2.5h0m0.5 2h0m1.5 0.5h0m0.5-3h0m27 2h0m15-1h0m3.5-1h0m1-1h0m19.5 2h0m-68.5 7h0m1.5 0.5h0m3.5-4.5h0m2-0.5h0m0.5 4.5h0m4-1.5h0m14 0.5h0m14.5-3h0m12.5 0.5h0m4 0h0m-56 4.5h0m1 3h0m0.5-0.5h0m12.5-0.5h0m1 0h0m38.5-2.5h0m-54 8h0m2-2h0m1 3.5h0m2.5-3.5h0m1 3h0m2.5-3h0m11 4h0m3-0.5h0m2-4h0m8.5 4h0m11-3.5h0m6 3h0m1.5 1h0m0.5 0h0m1.5-2.5h0m-53 6h0m1-1.5h0m3 0h0m0.5 0h0m1.5 2.5h0m0.5-2.5h0m4.5 0h0m5.5-0.5h0m13-0.5h0m0 3.5h0m0-4h0m9 3.5h0m2-3h0m1 0.5h0m5.5 1h0m3-1h0m-51 6.5h0m0-2h0m0 2.5h0m0-3.5h0m0.5 4.5h0m1-1h0m0 1.5h0m0.5-3h0m0 1h0m0.5-2h0m1 0h0m0.5-1h0m3.5 2h0m2 0.5h0m0.5 0h0m3-2h0m1 1h0m0.5-0.5h0m2 4h0m0-3h0m8.5-1h0m2 2.5h0m2.5-3h0m0 4.5h0m1.5-2.5h0m4.5-0.5h0m3-2h0m2 3.5h0m1 1h0m2-4h0m0.5 3.5h0m-44 2h0m0 2h0m0-1h0m0.5 2.5h0m0-1h0m0 0h0m0.5-2.5h0m0.5 4h0m0.5 0h0m0-1h0m0-2h0m0.5-1h0m0 1h0m0.5-1h0m0.5-0.5h0m0.5 2.5h0m0.5-2.5h0m1 3h0m0.5-0.5h0m0.5 2h0m0.5-1.5h0m2-2.5h0m2 0h0m3.5 0.5h0m1 0h0m10 0h0m2 2h0m7.5 0.5h0m0.5-1.5h0m1.5 0h0m-37 6.5h0m0 0.5h0m0-0.5h0m0 0h0m0-1h0m0-2.5h0m0 2h0m0-0.5h0m0.5-1h0m0 3h0m0 0.5h0m0.5-1h0m0-0.5h0m0-0.5h0m0 1h0m0.5 1h0m0 0h0m0 0h0m0.5-4h0m0 0h0m0.5 2.5h0m0 1.5h0m0 0.5h0m0.5-2h0m0-1.5h0m0 3.5h0m1-0.5h0m0-2.5h0m0-1.5h0m0 2.5h0m1-1h0m1-1h0m0.5 3.5h0m2-4h0m1.5 0h0m2 4h0m3.5-2.5h0m3-0.5h0m0.5 1.5h0m4.5 0.5h0m1-0.5h0m0-2.5h0m0.5 0.5h0m2.5 1h0m0.5 2.5h0m1-0.5h0m1.5-2.5h0m3.5-0.5h0m0 1.5h0m-34 5h0m0 0h0m0 1h0m0-1.5h0m0.5 1h0m0-0.5h0m0-1h0m0 1h0m0-1.5h0m0 0h0m0 1h0m0 1.5h0m0-2h0m0 1.5h0m0.5-3h0m0 1h0m0 2h0m0-2.5h0m0 1.5h0m0.5 0.5h0m0-0.5h0m0 0.5h0m0-1h0m0-1h0m0 0h0m0.5 0.5h0m0-1h0m0 2h0m0 0.5h0m0.5-1h0m0 2.5h0m0-3h0m0-0.5h0m0.5 3.5h0m1-3.5h0m1.5-0.5h0m0.5 1h0m6.5-0.5h0m2.5 1.5h0m1 2h0m1-0.5h0m0.5-1.5h0m1 1h0m0-2h0m0.5 1h0m3 1h0m1.5 0h0m1-2h0m3.5 1.5h0" fill="none" stroke="#e8212b" stroke-width="2.4" stroke-linecap="round"/>
<line x1="259.87" y1="255.2" x2="259.87" y2="8.2" stroke="#000" stroke-width="2" stroke-dasharray="17 16.5"/>
<line x1="288.73" y1="255.2" x2="288.73" y2="8.2" stroke="#000" stroke-width="2" stroke-dasharray="17 16.5"/>
<line x1="430" y1="131.8" x2="109.7" y2="131.8" stroke="#000" stroke-width="2" stroke-dasharray="12 16.5 17 16.5 17 16.5 17 16.5 17 16.5 17 16.5 17 16.5 17 16.5 17 16.5 17 16.5"/>
<path d="M109.7 17.4H118.2V246.2H109.7M109.7 189H118.2M109.7 131.8H118.2M109.7 74.6H118.2" fill="none" stroke="#000" stroke-width="2"/>
<path d="M130 263.7V255.2H418.6V263.7M202.15 255.2v8.5M274.3 255.2v8.5M346.45 255.2v8.5" fill="none" stroke="#000" stroke-width="2"/>
<text x="101.7" y="251.6" font-size="24.9" text-anchor="end" textLength="13.93" lengthAdjust="spacingAndGlyphs">0</text>
<text x="101.7" y="194.4" font-size="24.9" text-anchor="end" textLength="13.93" lengthAdjust="spacingAndGlyphs">1</text>
<text x="101.7" y="137.2" font-size="24.9" text-anchor="end" textLength="13.93" lengthAdjust="spacingAndGlyphs">2</text>
<text x="101.7" y="80" font-size="24.9" text-anchor="end" textLength="13.93" lengthAdjust="spacingAndGlyphs">3</text>
<text x="101.7" y="22.8" font-size="24.9" text-anchor="end" textLength="13.93" lengthAdjust="spacingAndGlyphs">4</text>
<text x="124.5" y="289.7" font-size="24.9" text-anchor="middle" textLength="49.45" lengthAdjust="spacingAndGlyphs">−1.0</text>
<text x="196.65" y="289.7" font-size="24.9" text-anchor="middle" textLength="49.45" lengthAdjust="spacingAndGlyphs">−0.5</text>
<text x="274.3" y="289.7" font-size="24.9" text-anchor="middle" textLength="13.93" lengthAdjust="spacingAndGlyphs">0</text>
<text x="346.45" y="289.7" font-size="24.9" text-anchor="middle" textLength="34.82" lengthAdjust="spacingAndGlyphs">0.5</text>
<text x="418.6" y="289.7" font-size="24.9" text-anchor="middle" textLength="34.82" lengthAdjust="spacingAndGlyphs">1.0</text>
<text x="275.3" y="313.7" font-size="24.9" text-anchor="middle" textLength="224.15" lengthAdjust="spacingAndGlyphs">ΔCompartment rank</text>
<text x="65.7" y="136.3" font-size="24.9" text-anchor="middle" transform="rotate(-90 65.7 136.3)" textLength="167.34" lengthAdjust="spacingAndGlyphs">−log<tspan font-size="70%" dy="0.3em">10</tspan><tspan dy="-0.21em">(</tspan><tspan font-style="italic">P</tspan> value)</text>
<text x="126.4" y="181.2" font-size="24.9" textLength="63.4" lengthAdjust="spacingAndGlyphs">CoRE</text>
<circle cx="132.2" cy="195.7" r="3" fill="#e8212b"/>
<text x="142.7" y="201.4" font-size="24.9" textLength="84.27" lengthAdjust="spacingAndGlyphs"><tspan font-style="italic">n</tspan> = 251</text>
<circle cx="132.2" cy="217.5" r="3" fill="#3a4da0"/>
<text x="142.7" y="223.2" font-size="24.9" textLength="84.27" lengthAdjust="spacingAndGlyphs"><tspan font-style="italic">n</tspan> = 315</text>
<circle cx="132.2" cy="238.5" r="3" fill="#b0b0b0"/>
<text x="141.2" y="245.6" font-size="24.9" textLength="34.8" lengthAdjust="spacingAndGlyphs">NS</text>
<text x="430.2" y="160" font-size="24.9" text-anchor="end" textLength="93.55" lengthAdjust="spacingAndGlyphs"><tspan font-style="italic">P</tspan> = 0.01</text>
<text x="333.4" y="246" font-size="24.9" textLength="163.6" lengthAdjust="spacingAndGlyphs">20w-pWGD T1</text>
<text x="332.6" y="24.8" font-size="24.9" font-style="italic" textLength="99.39" lengthAdjust="spacingAndGlyphs">CTNNB1</text>
<line x1="385.1" y1="30.2" x2="379.5" y2="38.9" stroke="#000" stroke-width="2"/>
<text x="149.7" y="41.5" font-size="24.9" font-style="italic" textLength="64.44" lengthAdjust="spacingAndGlyphs">KIF11</text>
<line x1="209.8" y1="44" x2="226.5" y2="75.5" stroke="#000" stroke-width="2"/>
<text x="100.5" y="98" font-size="24.9" font-style="italic" textLength="84.21" lengthAdjust="spacingAndGlyphs">XRCC5</text>
<line x1="188" y1="90.8" x2="211" y2="92.1" stroke="#000" stroke-width="2"/>
<text x="123.6" y="125.9" font-size="24.9" font-style="italic" textLength="82.84" lengthAdjust="spacingAndGlyphs">BRCA1</text>
<line x1="212.4" y1="120.3" x2="225.2" y2="111.3" stroke="#000" stroke-width="2"/>
<text x="346" y="120.3" font-size="24.9" font-style="italic" textLength="48.31" lengthAdjust="spacingAndGlyphs">JUN</text>
<line x1="328.8" y1="104.9" x2="345.4" y2="112.6" stroke="#000" stroke-width="2"/>
<polygon points="740.3,246.2 739.6,244.8 740.3,243.3 740.1,241.9 740.2,240.5 740.1,239 739.6,237.6 739.6,236.2 740.4,234.8 739.9,233.3 740.3,231.9 739.9,230.5 739.2,229 739,227.6 738.7,226.2 738.3,224.8 738.3,223.3 738.3,221.9 738,220.5 738.5,219 738.1,217.6 737.6,216.2 737.9,214.7 737.7,213.3 737.9,211.9 737.6,210.4 737.5,209 737.5,207.6 737.4,206.2 736.9,204.7 737.3,203.3 736.8,201.9 737.1,200.4 737.4,199 737.3,197.6 737.1,196.1 737,194.7 737.2,193.3 736.5,191.9 736.9,190.4 737,189 736.3,187.6 736.5,186.1 736.4,184.7 736.3,183.3 736.1,181.8 736.1,180.4 736.3,179 735.9,177.6 735.7,176.1 736.1,174.7 736.1,173.3 735.8,171.8 736.1,170.4 735.4,169 736.1,167.5 736,166.1 736,164.7 736,163.3 735.9,161.8 735.3,160.4 735.2,159 735.6,157.5 735.8,156.1 735.4,154.7 735.1,153.2 735.5,151.8 735.6,150.4 734.8,149 735.1,147.5 735.1,146.1 735.5,144.7 734.7,143.2 735.3,141.8 734.6,140.4 734.7,138.9 734.5,137.5 734.5,136.1 734.9,134.7 734.7,133.2 734.2,131.8 734.3,130.4 707.1,130.4 713.4,131.8 708.3,133.2 714.2,134.7 710.8,136.1 710.7,137.5 714.8,138.9 716.7,140.4 713.6,141.8 715,143.2 711.3,144.7 717.4,146.1 712.2,147.5 712.1,149 712.2,150.4 716.5,151.8 712.3,153.2 712.9,154.7 709.5,156.1 714.4,157.5 709.7,159 713.3,160.4 713,161.8 714.3,163.3 711.5,164.7 715.3,166.1 714.9,167.5 716.9,169 715.2,170.4 716.8,171.8 714.9,173.3 718.2,174.7 715.7,176.1 715.2,177.6 716.3,179 717.4,180.4 715.4,181.8 717.9,183.3 716.9,184.7 716.9,186.1 719.5,187.6 718.7,189 719.3,190.4 720.1,191.9 721.9,193.3 721.7,194.7 721.3,196.1 720.3,197.6 722.6,199 721,200.4 723.4,201.9 723.9,203.3 725.2,204.7 723.7,206.2 724.5,207.6 725.7,209 725.9,210.4 724.8,211.9 726.7,213.3 726.8,214.7 728.6,216.2 728.9,217.6 727.8,219 729.6,220.5 728.1,221.9 730.1,223.3 730.7,224.8 730.3,226.2 730.3,227.6 731,229 731.7,230.5 733.2,231.9 732.9,233.3 733.8,234.8 734.4,236.2 735.2,237.6 735.5,239 736.4,240.5 737.4,241.9 738.5,243.3 739.5,244.8 740.3,246.2" fill="#b0b0b0"/>
<polygon points="742.1,246.2 741.7,244.8 741.9,243.3 742,241.9 741.7,240.5 742.3,239 742,237.6 741.6,236.2 742.2,234.8 742.3,233.3 741.6,231.9 742,230.5 742.9,229 743.1,227.6 743,226.2 743.7,224.8 743.8,223.3 743.7,221.9 743.5,220.5 743.4,219 743.7,217.6 743.8,216.2 744,214.7 743.9,213.3 744.2,211.9 744.6,210.4 744.5,209 744.9,207.6 744.2,206.2 744.7,204.7 744.4,203.3 744.6,201.9 744.5,200.4 745.2,199 745,197.6 745.1,196.1 745,194.7 745.6,193.3 745.2,191.9 744.9,190.4 745.7,189 745.3,187.6 745.1,186.1 745.3,184.7 745.9,183.3 745.6,181.8 745.8,180.4 746.1,179 745.7,177.6 746.1,176.1 745.8,174.7 746,173.3 746,171.8 746.2,170.4 745.9,169 746.4,167.5 746.3,166.1 746.4,164.7 746.1,163.3 746.3,161.8 746.3,160.4 746.6,159 746.5,157.5 746.8,156.1 746.7,154.7 746.9,153.2 746.9,151.8 746.7,150.4 746.4,149 746.6,147.5 746.6,146.1 746.9,144.7 747,143.2 747,141.8 746.9,140.4 746.7,138.9 747.5,137.5 747.3,136.1 747.5,134.7 747.2,133.2 747.4,131.8 747.8,130.4 772.3,130.4 768.1,131.8 766.8,133.2 768.5,134.7 769.3,136.1 771.2,137.5 766.7,138.9 767,140.4 771.9,141.8 767.2,143.2 766.2,144.7 765.2,146.1 773.1,147.5 768,149 769.7,150.4 765.5,151.8 764.3,153.2 768.2,154.7 768.4,156.1 768.7,157.5 772.6,159 771.2,160.4 769.5,161.8 769.4,163.3 769.5,164.7 766.7,166.1 769.8,167.5 769.2,169 769.3,170.4 765.2,171.8 766,173.3 768.2,174.7 764.5,176.1 765.8,177.6 762.8,179 765.3,180.4 763,181.8 763.8,183.3 761.8,184.7 762.3,186.1 763.6,187.6 763.3,189 762.6,190.4 762.1,191.9 760.9,193.3 759.3,194.7 761.7,196.1 758.7,197.6 761.6,199 758.1,200.4 758.1,201.9 757.6,203.3 759.7,204.7 757.3,206.2 758.5,207.6 756.3,209 756,210.4 756,211.9 755.1,213.3 754,214.7 753.4,216.2 755.3,217.6 753.1,219 752.9,220.5 753.5,221.9 752.8,223.3 752.8,224.8 751.8,226.2 750.6,227.6 751,229 749.2,230.5 748.5,231.9 749,233.3 748.6,234.8 747.7,236.2 746.8,237.6 746.1,239 745.7,240.5 744.3,241.9 743.4,243.3 742.5,244.8 742.1,246.2" fill="#b0b0b0"/>
<path d="M707 132h0m3 0h0m2 0h0m7-0.5h0m2 0.5h0m4 0h0m10-1h0m15 0.5h0m5.5 1h0m1.5-2h0m-49 5h0m0-1h0m6-1.5h0m0.5 0h0m1 2h0m0-1h0m7.5-0.5h0m4 2.5h0m1-3h0m0.5 2h0m0.5 1h0m0 0h0m3-1h0m19.5-2h0m6.5 3h0m3-1h0m8 0.5h0m0-2.5h0m1.5 2h0m1 0.5h0m1-2.5h0m-57 7h0m1-2h0m0.5 3.5h0m1-1.5h0m11-0.5h0m1.5-2h0m17 2.5h0m2.5-2h0m0.5 3.5h0m5.5-2.5h0m3.5 0.5h0m1 1h0m2-2.5h0m1.5 1h0m-38 7h0m25-3.5h0m1.5 4.5h0m1-1.5h0m0.5-1.5h0m3 3h0m1.5-2.5h0m1-0.5h0m2.5 2.5h0m0 0.5h0m2 0.5h0m2.5-2.5h0m2-1.5h0m-57.5 4h0m2 1.5h0m3.5 0h0m1 0.5h0m1-2h0m1.5 2h0m5.5 0h0m1 1h0m0 0.5h0m1.5-3.5h0m3 4.5h0m0.5-4h0m0.5 3.5h0m14.5-1h0m0.5-0.5h0m1.5 0.5h0m6-0.5h0m8-1h0m4.5-1.5h0m0.5 3h0m0 0h0m0.5-1.5h0m0.5 0.5h0m1.5 2h0m1-3h0m-57.5 6h0m1-1.5h0m3 4.5h0m2-2.5h0m0.5 0.5h0m0 2h0m0.5-1.5h0m2.5-3.5h0m0 4.5h0m24 0.5h0m5.5-1.5h0m14.5-2.5h0m-52.5 6h0m0-0.5h0m5.5-0.5h0m14.5 0.5h0m12 3.5h0m2-1.5h0m0 1h0m4.5-3.5h0m1 1.5h0m1-1.5h0m0.5 2h0m0 2h0m2-4.5h0m1 0.5h0m2.5 0h0m3.5 3.5h0m2.5-3.5h0m1.5-0.5h0m-54 6h0m0.5-1.5h0m3 0.5h0m3.5 3.5h0m7-2h0m4 0h0m0 1h0m2-1.5h0m0.5 2.5h0m1-0.5h0m12 0h0m0 0h0m2.5-2h0m4 3h0m5-2.5h0m5.5 2h0m0-2.5h0m2.5 1.5h0m0.5-2.5h0m-53 6h0m5.5-1h0m0.5 1h0m2-1.5h0m2 2h0m1.5-1.5h0m2 1.5h0m0 2.5h0m0.5-4.5h0m1.5 5h0m0.5-2.5h0m2-1.5h0m2-1h0m0.5 3.5h0m14.5-2.5h0m6.5-0.5h0m2.5 4.5h0m4-2.5h0m2.5-1.5h0m0 1h0m-45.5 5.5h0m3 0.5h0m2-2.5h0m1.5 2h0m4.5 2h0m0.5-0.5h0m1.5-1h0m13-1.5h0m1.5 1.5h0m0.5 2h0m2.5-2h0m6.5-1h0m5 2h0m1-2.5h0m1-1h0m1.5-0.5h0m-47.5 7.5h0m7 1.5h0m4-3h0m5.5 3.5h0m1 0.5h0m0.5-0.5h0m0-1.5h0m9.5-2h0m0.5 0.5h0m1.5 3h0m0.5-1h0m2 0.5h0m3.5 0h0m3.5-2.5h0m0.5 2.5h0m5.5-3.5h0m0.5 0.5h0m-42.5 9h0m2-1.5h0m1.5-2h0m0.5 0h0m6 2h0m0.5 1.5h0m15.5-0.5h0m4.5-0.5h0m4-2.5h0m1 0h0m1.5 3h0m3-3h0m0.5-1h0m-41 7.5h0m0.5-2.5h0m0.5 3.5h0m4.5-3.5h0m3.5 0.5h0m0.5 4h0m0.5-3h0m0.5 2.5h0m2.5-1h0m13.5-2.5h0m1.5 3.5h0m3-1h0m0.5 0.5h0m0-0.5h0m2.5-2.5h0m0.5 2h0m1 0h0m1-3h0m-35 6.5h0m2.5 3.5h0m3.5-4h0m4 4h0m1-4h0m4 0h0m9 2.5h0m1.5-0.5h0m4-1.5h0m1.5 2h0m0-0.5h0m1 1h0m4-1.5h0m1.5 1.5h0m-32 1.5h0m3.5-0.5h0m0 1h0m5.5 1.5h0m8.5-2h0m0 0.5h0m1.5 2.5h0m0.5-2h0m0-1h0m2 1h0m0-1.5h0m0.5 2h0m0.5 0.5h0m5.5-0.5h0m-27 4.5h0m0.5-1h0m3.5 0.5h0m0-0.5h0m1.5 1h0m0-1h0m10.5 0.5h0m0-0.5h0m3 2.5h0m0 0h0m2.5-1h0m2.5 1.5h0m2-2h0m1-1h0m1 0h0m0.5 1.5h0" fill="none" stroke="#fff" stroke-width="1.3" stroke-linecap="round"/>
<path d="M731 73h0m1.5 6.5h0m15-0.5h0m-16 13h0m0.5-3.5h0m14.5 2.5h0m-17.5 4.5h0m3-3h0m-5 8h0m6.5 0h0m-1 4h0m1-1.5h0m0.5 4h0m13.5 0h0m2 0.5h0m5.5-0.5h0m-28 3.5h0m5.5-0.5h0m1.5-1.5h0m0.5 4h0m1-1.5h0m0.5-3h0m15.5 3.5h0m-15.5 2h0m0 1.5h0m11.5 1h0m2-1h0m0.5 1.5h0m-23 2h0m0-0.5h0m2 0h0m2.5 3.5h0m23.5-1h0m-27.5 4h0m2 0h0m0.5 3h0m0.5-1h0m0-1.5h0m0-2.5h0m1 4h0m0.5-3.5h0m0.5 1h0m0 2.5h0m1-3h0m3 4h0m0.5-0.5h0m5.5-0.5h0m3-3h0m0 1h0m0 1h0m0.5 1h0m1 0.5h0m0-1h0m1 1h0m3-4h0m1 2.5h0m1-2.5h0m1.5 3.5h0m-56 6h0m8 0h0m2 0h0m6.5-0.5h0m0.5 0.5h0m1.5 0h0m10.5-4.5h0m0 3h0m3-0.5h0m0-1h0m0.5 0.5h0m1.5 2.5h0m0.5-5h0m1 1h0m0 0.5h0m0.5 0.5h0m0-1.5h0m0 1h0m0 1h0m0.5 1.5h0m0 0.5h0m0-0.5h0m0 0h0m0-0.5h0m0-1h0m0.5 2.5h0m0.5-1h0m0.5 0h0m2.5-3.5h0m3 1.5h0m0.5 3h0m2-4h0m0-1h0m0 4h0m1.5 0.5h0m0-4h0m0.5 0.5h0m0 3h0m0 0h0m0.5 0h0m0-1h0m0-2h0m0 2.5h0m0-2h0m0.5-1.5h0m1 2h0m0 0h0m0.5 0.5h0m0 0h0m1 0.5h0m0-1h0m1.5 1h0m0 0.5h0m0.5-2h0m0.5 1.5h0m0.5-3h0m0.5 0.5h0m0 0.5h0m1 2h0m10.5 1.5h0m11 0h0m2.5 0.5h0m2.5 0h0m1 0h0m-82.5 3.5h0m0.5-3h0m0.5 0.5h0m0.5 0.5h0m0 3h0m0.5-2.5h0m0-1h0m0.5 3h0m1.5 0.5h0m0.5-1.5h0m0.5 2h0m1.5-1.5h0m2 0.5h0m2.5-1.5h0m1 1h0m0.5-1.5h0m0-1h0m1 0.5h0m0 0.5h0m0.5 2.5h0m0-1h0m0-3.5h0m2.5 4h0m0.5 0.5h0m0.5-2.5h0m2 0h0m0 2h0m2-0.5h0m0.5 1h0m0.5-3.5h0m3 3.5h0m1.5-1.5h0m0-1.5h0m0 0.5h0m1 0.5h0m1-1.5h0m5 0.5h0m0-0.5h0m1.5 2.5h0m0.5 0h0m0 0h0m0-3.5h0m0 1.5h0m0.5 2.5h0m0 0h0m10 1h0m0-3h0m0.5 0h0m0 0h0m0 1.5h0m0-0.5h0m0 0.5h0m0-3h0m0 0h0m0.5 1.5h0m0 2h0m0 0h0m0-2h0m0.5 1.5h0m0 0.5h0m1-1h0m2-2.5h0m1 1.5h0m0-1.5h0m3 0.5h0m0.5 4h0m1.5-2h0m0 0.5h0m0.5-2.5h0m6.5 4h0m0.5-1h0m0.5-2h0m0.5 0h0m1-1.5h0m1.5 1h0m0 0h0m0.5 0.5h0m1 0.5h0m0-2.5h0m0 0.5h0m0 1.5h0m2.5-1.5h0m1 4.5h0m1-1h0m0.5 0h0m0-2.5h0m1 1.5h0m0.5-2h0m0.5 3h0m0.5 1h0m1-0.5h0m0.5 0h0m1-3.5h0m0.5 2h0m0-1.5h0m0 0.5h0m2.5-0.5h0m-82.5 4.5h0m1.5 3h0m0-2.5h0m1.5-1.5h0m1 5h0m0-4.5h0m0.5 4.5h0m0-4h0m2 0h0m0.5 2.5h0m0-1h0m1-1.5h0m0 1h0m0.5-0.5h0m0 2.5h0m1.5 0h0m1-1.5h0m0-2h0m1 4.5h0m1-3.5h0m2 2.5h0m0-2h0m0.5 1.5h0m1-3h0m1 3.5h0m0.5 0h0m0.5-1.5h0m0.5-1h0m1-1.5h0m4 4.5h0m0.5-2.5h0m1.5 1.5h0m1.5-1.5h0m2.5-1.5h0m0.5 1.5h0m0 1.5h0m1-2.5h0m2.5 2.5h0m0.5 0.5h0m0.5-3.5h0m0 4h0m0.5-1h0m0-2h0m0 1h0m5 0h0m5 1h0m1 1h0m0-0.5h0m0-2.5h0m0-0.5h0m0 0h0m0.5-0.5h0m0.5 3h0m0-0.5h0m0 1h0m5.5-3.5h0m1.5 2.5h0m0-0.5h0m2-2.5h0m1 0.5h0m3.5 4h0m1-4.5h0m1.5 3.5h0m0-2.5h0m3 0h0m1.5 4h0m2.5-1.5h0m0-3h0m1 1h0m0.5 0.5h0m0 2h0m0-1h0m0.5 2h0m0-3.5h0m0.5 1.5h0m0 1.5h0m1.5-3.5h0m1 2.5h0m0 1.5h0m0.5-4h0m0.5 1h0m2 3h0m0.5-4.5h0m0 0.5h0m1 2h0m0.5 1.5h0m0.5 0.5h0m0-1h0m0.5-1h0m0 0.5h0m2-3h0m-81 7.5h0m0 0.5h0m0-1h0m0.5 2h0m0.5-4h0m0 3.5h0m0.5 0h0m1-3.5h0m0.5 0.5h0m0 0h0m0 0h0m1 1.5h0m0 0h0m0.5-2h0m0 2.5h0m1 2h0m1 0h0m0.5-4.5h0m0.5 1h0m1.5 0.5h0m0.5 1.5h0m0-1.5h0m0.5 1.5h0m0.5 1h0m0-4h0m0.5 4h0m0-2h0m0.5 1h0m0.5 0h0m0.5-3h0m0.5 2h0m1.5 0.5h0m1 0.5h0m0-2h0m1.5-1h0m0 2h0m0.5 0.5h0m2.5-1h0m0-2h0m2 1.5h0m2.5-1h0m0.5 4.5h0m5.5-2.5h0m2.5 1.5h0m0 0h0m0-1.5h0m0 1.5h0m0.5-0.5h0m0 0h0m0 0.5h0m0-1.5h0m0.5-2h0m0.5 4h0m0 0h0m2.5-3.5h0m3 3h0m0.5 0.5h0m0.5-3.5h0m2.5 3h0m0-3h0m0.5 3.5h0m0-4.5h0m0 2h0m0-2h0m0 4h0m0.5 1h0m0-0.5h0m0-2.5h0m0 0h0m0-2h0m0 2h0m0.5-0.5h0m0-1h0m0 1.5h0m0.5 3h0m0-2h0m5.5-1.5h0m0.5 0.5h0m1.5 3h0m2.5-1h0m1-1.5h0m1.5 1h0m0.5 1.5h0m1-4h0m1-0.5h0m2 0h0m2 4h0m0-4h0m0.5 1h0m0.5 3.5h0m1-1h0m0.5 1h0m0.5-4h0m2.5 2h0m0 0h0m1-3h0m0.5 4h0m0-1h0m0 1h0m0-4h0m0.5 4.5h0m1.5 0h0m0-1.5h0m1 0h0m1 1.5h0m1.5-2h0m0.5-2.5h0m0.5 0.5h0m0-0.5h0m0.5 3.5h0m0-3.5h0m-77.5 6h0m1 3h0m0-1.5h0m0.5 1h0m0-2.5h0m0.5-0.5h0m0.5 1.5h0m1.5 0h0m0.5 1h0m0 1h0m0 0.5h0m0.5-3.5h0m1 0.5h0m0 0.5h0m0.5 0.5h0m1-2h0m0 1h0m1 2.5h0m0-2h0m0.5 2h0m1-3.5h0m0.5 0.5h0m1-1h0m1 3.5h0m0.5 0.5h0m0.5-4h0m0 3.5h0m0 0.5h0m3-0.5h0m0-0.5h0m0.5 0h0m0.5-2.5h0m0.5 3.5h0m0-2h0m1 3h0m4-0.5h0m2-2.5h0m0.5-1.5h0m0 2h0m3 0.5h0m1.5 1h0m0-3h0m1.5-1h0m0 2.5h0m0.5 1h0m0-2.5h0m0.5 2h0m0-1h0m0 2h0m0.5 1h0m0.5-0.5h0m0-2h0m0 1.5h0m5-3.5h0m4.5 1h0m0 1h0m1.5-2h0m1 3.5h0m2.5-1.5h0m0 2.5h0m2.5-4.5h0m3.5 4.5h0m3.5-2h0m1.5-1h0m1 3h0m0-2.5h0m0.5 0.5h0m0-1.5h0m1 0h0m1 0h0m0 2.5h0m0.5-4h0m3.5 5h0m0-3.5h0m1.5 1.5h0m0-3h0m0.5 4h0m0-2.5h0m0.5 1.5h0m0-1.5h0m0.5 2.5h0m0.5 0h0m0-1h0m0 1h0m0.5-3h0m0.5 2.5h0m0.5-1.5h0m0-0.5h0m0.5 0h0m1 2h0m1 1h0m0-0.5h0m0.5-1.5h0m0 1h0m0.5-2.5h0m0-1h0m0.5 1.5h0m1 2h0m-76 2h0m1.5 1h0m1-1h0m0 1h0m0.5-1h0m0.5 0h0m0.5 2h0m1-0.5h0m0 3h0m0.5-4.5h0m0.5 2.5h0m0-3h0m0.5 1h0m0.5 1h0m0.5 0h0m0.5-1.5h0m0.5 4h0m0.5-2.5h0m0.5 2.5h0m0-1h0m0.5-3.5h0m0.5 1h0m0.5 2.5h0m0-2.5h0m4.5 4h0m0.5-4.5h0m0 0.5h0m0.5 0h0m2 2h0m3-2.5h0m2-0.5h0m1.5 0.5h0m1 4h0m1.5-1.5h0m1 0h0m3.5-3h0m0 2h0m0 1h0m0 1.5h0m0 0h0m0.5-3.5h0m0 2h0m0 1h0m1-2h0m7.5 0h0m1 2h0m0-0.5h0m0 1.5h0m0-2.5h0m0 2h0m0 0.5h0m0.5-4.5h0m0 2h0m0-0.5h0m0.5 1.5h0m0-3h0m3 2h0m1.5-0.5h0m3-1.5h0m1 2.5h0m1.5-2h0m1 0h0m0 4h0m1 0h0m1.5-1h0m0.5 0.5h0m1 0h0m1.5-1.5h0m0.5 0h0m0.5 1h0m0-1.5h0m0 2h0m0.5-4h0m0 3.5h0m1-2h0m0.5-2h0m0 1.5h0m0.5 1h0m0.5-1.5h0m0 0.5h0m0.5 1h0m0.5-2h0m0.5 4h0m1-3.5h0m1 1.5h0m0 2h0m0.5-2h0m0-0.5h0m0.5 1.5h0m0.5 0.5h0m0 0h0m1 0.5h0m0-2h0m0 1.5h0m1 1h0m1-0.5h0m0-1.5h0m0.5-2.5h0m1.5 4h0m1-4h0m-73.5 7.5h0m0-2.5h0m2.5 0.5h0m0 0h0m0.5-0.5h0m0.5 3h0m1-2.5h0m0.5-0.5h0m0 2h0m0.5-0.5h0m1 1h0m0.5-2h0m0.5 2h0m2-2.5h0m0.5-0.5h0m0.5 3h0m1-0.5h0m0-2h0m1.5 1.5h0m2.5 1.5h0m1-1h0m1 1.5h0m0.5-2h0m3.5-1h0m3.5 1.5h0m1 0.5h0m0.5-2h0m4 2.5h0m0-2h0m1 3.5h0m0-3h0m0 2.5h0m0.5 0.5h0m0-4h0m0-0.5h0m0 0h0m0 3.5h0m0 0.5h0m0.5-1.5h0m0 1h0m7.5 0.5h0m0.5-1.5h0m0 0h0m0-0.5h0m0 2h0m0 0h0m0.5-4h0m0 4.5h0m0-2h0m0.5 1.5h0m0.5 0h0m0 0h0m1.5 0h0m6.5-1h0m3.5 0.5h0m2.5-1h0m0.5 1h0m1-1h0m1 0.5h0m0-1h0m1-1h0m0.5 1.5h0m0.5 2h0m0-4.5h0m1 4h0m1-2h0m0.5 1h0m1.5-0.5h0m0.5 0.5h0m0-3h0m0 0.5h0m1.5 1h0m0.5 0.5h0m0 1h0m0.5 0.5h0m1-2h0m1-2h0m0.5 0.5h0m0.5 4h0m0.5-0.5h0m-68 1.5h0m1 3.5h0m0-3.5h0m0.5-0.5h0m0.5 1h0m1 3h0m0-3h0m0 2.5h0m0 0h0m0-1.5h0m0.5 1.5h0m0 1h0m0.5-4h0m0.5 1h0m0.5 0.5h0m0.5 1.5h0m0.5 0h0m0 1h0m1-3.5h0m0.5 1.5h0m0-1h0m0.5 3.5h0m0.5-2h0m0.5-2h0m0.5 0.5h0m0.5-1h0m0.5 3h0m0.5 1h0m0.5-3h0m0 3h0m0 0.5h0m0-2.5h0m0.5 1h0m0-3h0m0.5 2h0m2 2.5h0m3.5-5h0m1 2.5h0m3 1.5h0m1-2.5h0m1.5 3h0m1.5-3h0m1 3.5h0m0.5-4.5h0m0 0.5h0m1-1h0m0 4h0m0-2.5h0m0.5-0.5h0m0 1.5h0m0 1h0m0 1h0m0.5 0.5h0m0 0h0m5.5-4h0m2.5 1.5h0m0.5 2h0m0-2h0m0.5 1h0m0 0h0m0 1h0m0.5-2h0m0.5 1h0m1.5-3h0m2.5 3.5h0m3-2.5h0m1.5 0h0m1 3h0m1.5-2h0m0 1.5h0m1.5-1h0m0 0h0m0.5 1.5h0m0.5-2h0m0.5 0.5h0m0-2.5h0m0 1h0m1 1h0m0.5-1.5h0m0.5 3h0m0 1h0m1.5-2.5h0m0 2.5h0m0-4h0m1.5 2.5h0m0.5-3h0m0 1.5h0m0.5-2h0m0 0.5h0m1 0.5h0m0.5-0.5h0m1.5-0.5h0m0.5 4.5h0m0.5-4h0m1 3.5h0m0.5 0.5h0m0-1h0m1 1h0m0.5-2h0m0.5-2.5h0m-65.5 7.5h0m1 0.5h0m0.5 1.5h0m0.5-4h0m1.5 0.5h0m0 2h0m1-1.5h0m1.5 1h0m0.5-2h0m0.5 1h0m2.5 1h0m1-1.5h0m0-0.5h0m0.5 4.5h0m0-3.5h0m1 0.5h0m0.5 1h0m1 0.5h0m0.5 1h0m0-1h0m1 0.5h0m1 0.5h0m1.5 0h0m5.5-0.5h0m2-3h0m1 2h0m0.5 1.5h0m0.5-1.5h0m0-1h0m0 0h0m0.5 0.5h0m0.5 2.5h0m0-5h0m0 3h0m0-2h0m8 4h0m0-0.5h0m0-1.5h0m0 0h0m0.5-1h0m0 2.5h0m1.5-2.5h0m1 1.5h0m1.5-1h0m2 0.5h0m2.5-3h0m6 3h0m0.5-0.5h0m0 1.5h0m0.5-3h0m0.5 4h0m1.5-1h0m0.5-2.5h0m0 3.5h0m1-1.5h0m0 1.5h0m0.5-3h0m0.5 1.5h0m0-0.5h0m0.5-1h0m0 1.5h0m0 0h0m1.5 0h0m0 0.5h0m1-1h0m0.5-1.5h0m0-0.5h0m0-0.5h0m0 4h0m1 0h0m0-1h0m0 0.5h0m0.5 0.5h0m0.5-2.5h0m1.5-1.5h0m0.5 2h0m0.5-2h0m0 1.5h0m-63.5 3h0m0.5 3.5h0m1.5-2.5h0m0.5 3h0m0 0h0m1.5-2.5h0m2 3h0m0-3h0m0-0.5h0m0-0.5h0m1 2.5h0m0 1.5h0m0 0.5h0m0-1.5h0m0-2.5h0m1.5 1.5h0m0 1.5h0m1-0.5h0m0-1h0m0.5-2.5h0m0 3h0m1 2h0m0.5-3h0m1.5 0.5h0m0.5-2.5h0m1 2h0m0 1.5h0m2-3.5h0m6.5 4h0m1.5-3.5h0m0.5 0h0m1-0.5h0m0 4.5h0m0.5-4.5h0m0 2.5h0m0 1.5h0m0.5-3h0m0 0.5h0m0-0.5h0m0.5 2.5h0m0 0.5h0m7-3.5h0m0.5 0.5h0m0 2h0m0 1h0m0 1h0m0-1h0m0 0h0m0-2h0m0.5 1h0m0-2h0m0 0h0m0.5-0.5h0m0 3h0m0 0h0m0.5 1h0m0.5 0h0m0.5-1h0m1-0.5h0m1.5-1h0m4.5 1.5h0m3 0.5h0m0-1.5h0m0-1h0m0 2.5h0m0.5-1h0m1-2.5h0m0 1.5h0m0.5 0h0m0.5 0h0m0.5 2h0m0.5-1h0m0 0h0m0.5-2h0m0.5 0.5h0m1.5-1h0m0 1.5h0m0.5 0.5h0m0.5-1.5h0m0.5 0.5h0m0 0h0m0-0.5h0m1 3.5h0m2-1h0m0 1.5h0m0.5-5h0m0 2h0m0 2.5h0m0.5-1.5h0m0.5 1h0m0.5-2.5h0m0 2h0m0-2.5h0m0.5 3.5h0m0-0.5h0m0 0h0m0-1h0m0.5-1h0m0.5 2h0m0.5-0.5h0m-60 6h0m1-1.5h0m0 0.5h0m0.5 0.5h0m1-3h0m1.5 2.5h0m3.5-2h0m0 0h0m0.5 3h0m2.5-2h0m2 1h0m2 0.5h0m9-1.5h0m0.5-2h0m0 4.5h0m0.5-1.5h0m0-1.5h0m0.5 3h0m0.5-3h0m0 1h0m7 1.5h0m0.5-4h0m0.5 0h0m0.5 2.5h0m0.5-2h0m10.5 2h0m0.5 1h0m0-2h0m0.5-0.5h0m0.5 1.5h0m0.5 1.5h0m1.5-1.5h0m2 1.5h0m0-4h0m2 0h0m1 4h0m0.5-0.5h0m0.5-1h0m0 0h0m0 0.5h0m1 0h0m0-3h0m2 1h0m1-1.5h0m0 1.5h0m-56.5 6h0m0.5 2h0m1.5-1h0m0-2h0m1.5 3h0m0-2.5h0m1.5 2h0m0-1h0m2-0.5h0m3-2.5h0m9.5 2h0m1-1h0m3 0h0m0 1.5h0m0 0h0m0 1.5h0m0-0.5h0m0-2.5h0m5.5 3.5h0m1.5-2.5h0m0-1h0m0 3.5h0m3-2h0m1 2h0m0.5-4h0m0.5 3h0m3 0h0m4 0.5h0m0-0.5h0m0.5-2h0m0 0.5h0m0 1h0m1 0h0m0.5 0h0m0 0.5h0m1.5-3h0m1 0.5h0m0 1.5h0m3-2.5h0m1.5 3h0m1-0.5h0m1-2h0m0.5 2.5h0m-53.5 2.5h0m0.5 0h0m0 1.5h0m0.5 0h0m0.5-0.5h0m0 1h0m1-2h0m0.5 3.5h0m0.5-3.5h0m1.5 1h0m3 1.5h0m3 1.5h0m0-0.5h0m0.5 0.5h0m2.5-3h0m1.5 1h0m6 1.5h0m0.5 0h0m1-3h0m0.5 0.5h0m6-1.5h0m1 2h0m8.5 0.5h0m0.5 1h0m1-0.5h0m1-1h0m0.5-0.5h0m1-0.5h0m0.5 2h0m1-2.5h0m0 0h0m1 0h0m0.5 3h0m0.5-0.5h0m1 1.5h0m0.5-2.5h0m0.5 1h0m0.5 0h0m0 0.5h0m1 0h0m2.5-1h0m0 0h0m-50.5 3h0m1 3h0m1 0.5h0m2-1h0m1-2h0m1 3.5h0m1-3.5h0m0 0.5h0m1 3h0m0-3h0m0 0.5h0m0.5 2h0m0.5-1.5h0m2.5 2h0m3.5-1h0m3.5-3h0m1 4h0m0-3.5h0m1 2h0m0.5 1h0m0.5-1h0m0-0.5h0m6 0h0m0 2h0m0-4h0m1.5 2h0m7 0.5h0m1 1.5h0m0.5-2.5h0m1.5 3h0m1-3h0m0 1h0m1-2h0m0 1.5h0m1 2.5h0m2-4.5h0m2 3h0m0-2.5h0m2 0.5h0m1 2.5h0m-46.5 1.5h0m0 1.5h0m0.5 1h0m2-0.5h0m0.5 0.5h0m0.5 1.5h0m0-1h0m2.5-2.5h0m0.5 0h0m2 3h0m0.5 0h0m0-1.5h0m1 0h0m0.5-1h0m7-0.5h0m0.5 1.5h0m0 2.5h0m1-2.5h0m0.5 0.5h0m5 1.5h0m1 0h0m0-2h0m0-1.5h0m0 3h0m0.5-3h0m0 1.5h0m0.5-2h0m1 4.5h0m3-0.5h0m4-2.5h0m2 2h0m3 0.5h0m0.5 0h0m1-3h0m0.5-1h0m0.5 2h0m0.5 1.5h0m0-3h0m0.5-1h0m0.5 2h0m0-0.5h0m1.5 0.5h0m-44 7h0m1 1h0m0-4h0m0.5-1h0m0.5 4.5h0m0-4.5h0m0.5 1h0m1 1.5h0m0.5 2h0m0-1.5h0m0.5-1h0m1 1.5h0m0.5-1h0m0.5-1.5h0m2 0h0m8 3.5h0m0-2.5h0m1 0.5h0m0.5 0.5h0m0.5 0.5h0m0 1h0m0-2h0m0.5 1.5h0m4.5-1.5h0m0.5 1h0m0.5-1h0m0.5 0h0m0 0h0m0 2h0m1-2.5h0m1.5-1h0m1 4h0m1-3.5h0m0.5 2.5h0m1-3h0m2.5 0h0m1 1h0m0.5-0.5h0m1 0h0m0 0h0m0.5-1h0m0-0.5h0m2 4h0m0-3h0m0.5 0h0m1.5 0.5h0m0-0.5h0m2 1.5h0m-38.5 5.5h0m0 0h0m1.5 0h0m1-2.5h0m2.5 2.5h0m1-1h0m0.5 1.5h0m0.5-2.5h0m2-0.5h0m1 2.5h0m3 2h0m0.5-1h0m0.5-2.5h0m0 1.5h0m0.5 1.5h0m0-1.5h0m0 1.5h0m0-2h0m0.5 0.5h0m2.5-3h0m1 0.5h0m1 0.5h0m0.5 4h0m0-4.5h0m2.5 3h0m1.5-1.5h0m1.5-1h0m0.5 1h0m1 0.5h0m1 1h0m0.5-3h0m0.5 4h0m0.5 0h0m3.5-2.5h0m0.5 2h0m0-1.5h0m1 2.5h0m0-3.5h0m1.5 1h0m0 0h0m-36.5 5h0m1.5-2.5h0m1.5 3.5h0m0-3h0m1 1.5h0m0.5-0.5h0m1.5 3h0m0.5-1.5h0m0.5 0.5h0m0.5 1.5h0m0.5-1.5h0m0-1.5h0m0 2.5h0m1-1h0m3.5-2.5h0m2 3h0m0-1.5h0m0.5-2.5h0m0 4.5h0m0.5-4h0m5 4.5h0m0.5-3h0m0.5-1.5h0m0 0.5h0m0.5 3.5h0m1 0h0m0.5-3h0m3.5 0.5h0m1 1.5h0m1.5-1.5h0m1-0.5h0m0-0.5h0m2.5 0.5h0m0.5 1.5h0m0 0h0m0.5-2h0m1 1h0m0 0h0m-33 6.5h0m1.5-2h0m0 0.5h0m0 0h0m0.5-1.5h0m0 2.5h0m0.5 0.5h0m1 1h0m0.5-4.5h0m1.5 2.5h0m0 0h0m0.5-1.5h0m0.5-0.5h0m0.5 0.5h0m3-1h0m0 2.5h0m0.5 1h0m2 1h0m0-4.5h0m0 0.5h0m0.5 1.5h0m0.5 1.5h0m0-3.5h0m2 4h0m2-3h0m0.5 3.5h0m0.5-3.5h0m0-1h0m3 2h0m1-2h0m0.5 4.5h0m0.5-1.5h0m0.5 2h0m2.5-2.5h0m0.5-1h0m0 2.5h0m1.5-2h0m0.5 2.5h0m0.5-2.5h0m0.5-0.5h0m1 0.5h0m-27.5 6h0m1 1h0m0-3h0m2-0.5h0m3.5 4h0m0.5-3.5h0m3 2.5h0m0 0.5h0m1-3h0m2 3.5h0m0.5-2h0m0 0.5h0m0-2h0m0-1h0m0 5h0m0-1.5h0m0.5-1.5h0m0.5-1h0m0.5 0.5h0m3 0h0m0.5 1h0m0.5 1.5h0m2 0h0m0.5-0.5h0m0-1h0m0.5-1.5h0m0 3h0m0.5-2h0m0.5-1h0m1 0.5h0m0-1.5h0m2 1.5h0m-25 5h0m1-1h0m0.5 2h0m0 1h0m0 0h0m0-2h0m0 3h0m0.5-3h0m0 0.5h0m0.5-1.5h0m1 0h0m0 2.5h0m0.5 1h0m0.5 0h0m0-2h0m0.5-0.5h0m0-0.5h0m1 1h0m0.5 2h0m0.5 0.5h0m0-3.5h0m1.5 3.5h0m0-0.5h0m0.5-2h0m1 3h0m0-1h0m1 0h0m0 0.5h0m0-4h0m0 3.5h0m0 0.5h0m0 0.5h0m0.5-1h0m0 0h0m0 0.5h0m1.5-4h0m2 1.5h0m0.5 2.5h0m0-1.5h0m0.5 1.5h0m1-2h0m0.5 0h0m1 2h0m0.5 0.5h0m0.5-2h0m0.5 1.5h0m0-2h0m0 0h0m0-1.5h0m0.5-0.5h0m0-0.5h0m0.5 4.5h0m1-3.5h0m1 2.5h0m-22 2h0m1 1.5h0m1 3h0m1-3h0m0.5-0.5h0m0 3h0m0-1.5h0m0.5 0h0m0-1h0m0 1h0m2-1h0m1.5 2.5h0m0.5-2h0m0 1h0m0-0.5h0m0.5-1h0m0 1h0m0.5 2h0m0.5-1.5h0m0-1.5h0m0-1h0m0 2.5h0m0.5-1.5h0m0-0.5h0m0 2h0m0-2h0m0 2.5h0m0-1h0m0.5 0h0m0 1.5h0m0-2.5h0m0-2h0m0.5 4.5h0m0.5-4.5h0m0.5 0.5h0m0.5 1.5h0m0.5 2.5h0m1 0h0m0 0h0m1 0h0m0.5-3.5h0m0 2.5h0m0-2h0m0.5 2h0m0-1h0m0-1.5h0m0.5 0.5h0m0.5 0.5h0m0-1h0m0-1h0m1 1.5h0m0.5 3h0m0-4.5h0m-14.5 5.5h0m0 0.5h0m0.5 0h0m0.5 3.5h0m0.5-1.5h0m1-2.5h0m0.5 2.5h0m0.5-2h0m2-0.5h0m0 4.5h0m0.5 0h0m0-1.5h0m0 1h0m0-4h0m0 1.5h0m0 0.5h0m0.5-2h0m0 2.5h0m0 0h0m0-2h0m0.5 2h0m0.5 2h0m0-0.5h0m0-2h0m0 1.5h0m0.5-0.5h0m0 1h0m0.5-0.5h0m0-0.5h0m0-0.5h0m0.5-1.5h0m0.5 0.5h0m0-1h0m0-0.5h0m0.5 2.5h0m0.5 0h0m0-0.5h0m0 1h0m0-2.5h0m0-0.5h0m0 1h0m2 2h0m-10 2.5h0m1.5 1h0m0-2h0m0.5 2.5h0m0.5-1.5h0m0 1.5h0m0.5 0h0m0 1h0m0-0.5h0m0 0.5h0m0 0h0m0.5 0h0m0-1.5h0m0-2h0m0.5 2h0m0 1h0m0-2.5h0m0 1.5h0m0 1.5h0m0-1h0m0.5 0h0m0 0.5h0m0-1h0m0 1h0m0 0h0m0.5-1h0m0-0.5h0m0 0.5h0m0.5-1.5h0m0.5 0h0m1 0h0" fill="none" stroke="#b0b0b0" stroke-width="2.1" stroke-linecap="round"/>
<path d="M656.5 41h0m11.5 6.5h0m-4 9.5h0m14.5-1.5h0m21.5 2h0m-53.5 4h0m16 0.5h0m-13.5 2h0m9.5 3.5h0m10-4h0m3.5 7h0m3.5 1.5h0m-19.5 1h0m9.5 4h0m2.5-4h0m5.5 3h0m3.5-0.5h0m6.5 1.5h0m4 0h0m1.5-0.5h0m-21.5 4.5h0m3.5-1h0m0.5 1.5h0m0.5-0.5h0m0-3.5h0m0.5 5h0m1-3h0m5.5 1h0m1.5 0h0m7.5-2h0m0.5-0.5h0m8.5 3h0m2-0.5h0m0.5-1h0m0 0.5h0m0.5-1h0m2 3.5h0m6.5-3h0m-38.5 5h0m2 2h0m2.5-3.5h0m4 4h0m4.5 0h0m5-3.5h0m3.5 3h0m0.5-1.5h0m6-0.5h0m4.5 0.5h0m1.5 1h0m8 1h0m-41.5 1h0m8.5 1h0m4.5 0.5h0m3-1.5h0m1 2.5h0m0-3h0m1.5 0.5h0m12.5 2.5h0m1-2.5h0m1.5 4h0m8 0h0m-47 1h0m5.5 2.5h0m8 0.5h0m1.5-2h0m3.5 3h0m2.5 0h0m2.5-0.5h0m3 0h0m1-3.5h0m1 0.5h0m0 0.5h0m5.5-0.5h0m-20.5 6.5h0m4-1.5h0m1-0.5h0m0.5 3.5h0m5-1.5h0m0.5 2h0m1-1h0m3.5-0.5h0m1.5-1.5h0m2-0.5h0m10-0.5h0m7.5 4.5h0m10.5-0.5h0m-52 1.5h0m3-0.5h0m2 0h0m1.5 1.5h0m4.5-2h0m0 5h0m0.5 0h0m1-2h0m3.5-0.5h0m3.5-0.5h0m0 1.5h0m2-1.5h0m1 1.5h0m0.5-0.5h0m1 0.5h0m1-1h0m6 1h0m1.5-0.5h0m6 1.5h0m1 0.5h0m0.5-4.5h0m-34.5 5h0m1 0.5h0m4 3h0m0.5-0.5h0m3 0h0m1 0.5h0m3-3h0m1 2h0m0-2.5h0m0.5 4h0m0.5-1h0m1 0.5h0m2 1h0m1-2h0m1.5 1h0m1.5 0.5h0m1-2.5h0m0.5 1.5h0m0.5 0h0m0-0.5h0m7.5 0h0m1-1.5h0m1-0.5h0m1 3.5h0m0-1.5h0m5.5-2.5h0m4.5 2.5h0m1.5 2h0m-41.5 1.5h0m1.5 1h0m1 0.5h0m1-0.5h0m2-0.5h0m1-1.5h0m0.5 0h0m0.5 0h0m0.5 2.5h0m2-1h0m3.5 0h0m1.5 2.5h0m0.5-3h0m0.5-0.5h0m3.5-0.5h0m0 0.5h0m1.5 1h0m1.5 2.5h0m0.5-1h0m0.5 0.5h0m0-2h0m1.5 1h0m4 1h0m2-1h0m2.5 2h0m2.5-1h0m0 1h0m0-3h0m1-0.5h0m0.5 0h0m0 2h0m4 0h0m0.5-2.5h0m0 2.5h0m0.5-1h0m0 1.5h0m0-2.5h0m-36 5.5h0m0 2.5h0m0.5-2h0m1-1.5h0m0.5 2.5h0m1.5 1h0m0-2.5h0m0 0.5h0m0.5 0h0m0-1.5h0m0.5 0.5h0m0.5 2h0m1-3h0m2 1.5h0m1.5-1h0m0.5 1.5h0m0.5 0h0m0.5 2.5h0m0.5-1.5h0m0.5-3h0m2.5 0h0m1.5 3h0m0.5-3.5h0m1 0h0m1 2.5h0m0 1h0m1.5-1h0m1 0h0m1.5-0.5h0m0-1h0m1 0.5h0m3.5-1.5h0m0 3.5h0m0.5-2.5h0m4-0.5h0m0-0.5h0m0.5 0.5h0m0 3.5h0m0.5-2.5h0m0.5 1.5h0m1.5-1.5h0m0 2.5h0m1 0.5h0m0-2h0m1-1.5h0m0 1.5h0m0.5-0.5h0m-34.5 3h0m0.5 1h0m3 1.5h0m1 2.5h0m1.5-3.5h0m1 1.5h0m0.5-1h0m0 2h0m0-3.5h0m0.5 3h0m1 0h0m0-1.5h0m0-1h0m0.5 4h0m0-4.5h0m0.5 4h0m0-1.5h0m1-2.5h0m0.5 3h0m0.5-3h0m1.5 3.5h0m0-2h0m0.5 2.5h0m0 0h0m0-0.5h0m0.5 0h0m1-2h0m0.5 2.5h0m0.5-3.5h0m0.5 2h0m0.5-3h0m0.5 4.5h0m1-1.5h0m0 0h0m1-0.5h0m0.5-2h0m1 1.5h0m1.5-2h0m0.5 2.5h0m1 1h0m1 1h0m1.5-4h0m4 0h0m0 2.5h0m0.5-2.5h0m1 2h0m0-2h0m0 1h0m-28.5 5.5h0m2-1h0m2 3h0m0-3h0m0.5-0.5h0m0.5 3h0m1-2h0m0.5 0.5h0m0.5 1.5h0m0.5-1h0m1-0.5h0m0 2h0m0 0h0m0-1h0m1.5 0h0m1-2.5h0m0 0h0m0.5 0h0m0 0h0m0.5 2h0m0 1.5h0m0-3.5h0m0 3.5h0m1-1.5h0m0-1h0m1.5 0.5h0m0 2h0m0-0.5h0m1.5-0.5h0m3.5 0h0m0 0h0m1 1.5h0m0-1.5h0m0.5 0.5h0m0.5-2.5h0m0 1h0m0.5 1.5h0m1.5-1.5h0m1 1.5h0m0 0h0m2.5 0h0m0-0.5h0m0.5-2.5h0m0 0.5h0m0.5 2.5h0m0-1h0m0 1h0m1 0h0m0.5-3h0m0 1.5h0m0 0.5h0m0.5 0.5h0m0.5-2h0" fill="none" stroke="#3a4da0" stroke-width="2.4" stroke-linecap="round"/>
<path d="M832 42h0m21.5-4h0m-52.5 5.5h0m32 2h0m-18.5 4.5h0m35.5 0h0m-59 6h0m6.5-3.5h0m41.5 0h0m-79 7h0m29 1h0m15 1h0m2.5-2.5h0m-51 8h0m22-0.5h0m62-4h0m-9 8h0m-70 5.5h0m3 0h0m20.5-3h0m17.5 0.5h0m2.5 3h0m18.5-1h0m3-1h0m-52 5h0m3-1h0m6.5 0.5h0m2.5 2h0m33.5-3.5h0m6.5 4.5h0m2.5-2.5h0m-72 4h0m1 3h0m2.5 0.5h0m2.5-3.5h0m2.5 3.5h0m20-3h0m7-1h0m17.5 0h0m11 1.5h0m1.5 0h0m-63 7h0m2.5-3.5h0m1.5 4h0m0-2.5h0m1 2h0m0 0h0m2.5 0.5h0m10.5-2.5h0m4-0.5h0m6.5 1h0m5 0h0m24 0h0m-58.5 6.5h0m5-3h0m18 0.5h0m2.5 1h0m15 1.5h0m17-1.5h0m3 2h0m-62 5h0m0.5-3h0m1 1.5h0m1.5-2h0m1-0.5h0m4.5 0h0m5 1h0m10-1.5h0m10.5 5h0m7-3h0m2-2h0m3 1.5h0m6.5 2.5h0m-53 1.5h0m0.5 3.5h0m1-1.5h0m1 2.5h0m2.5-4h0m1 0.5h0m2.5 2.5h0m0.5-0.5h0m1.5-3h0m1.5 3h0m1-1.5h0m5 0h0m15.5 0h0m5-1.5h0m-38.5 6.5h0m0-1.5h0m0.5 4.5h0m1.5-3h0m0 0.5h0m1 0h0m8.5-1.5h0m0.5 3h0m2 0.5h0m1-1h0m0 1h0m2.5-1.5h0m1.5 1h0m0-2h0m1 1.5h0m4.5 0h0m1 1h0m15-1.5h0m6 1h0m0.5 0.5h0m-47 2.5h0m0.5 3h0m0-0.5h0m0-2h0m0.5-2h0m0.5 3h0m1 0h0m0.5-1.5h0m0.5 1.5h0m0-3h0m0.5 2h0m3 2h0m3.5-1.5h0m1.5-1.5h0m0 1h0m12-1.5h0m6.5-0.5h0m0 0h0m9 3h0m0.5-0.5h0m-39.5 3h0m0 4h0m0-1h0m0-1h0m0.5-0.5h0m0-2.5h0m0 4.5h0m0.5 0h0m0-2h0m0.5-0.5h0m0.5 2h0m0.5 1h0m0-1.5h0m0-1.5h0m0.5-1h0m1 4h0m0-1h0m0 0h0m1.5-2h0m0-1.5h0m1.5 4h0m7-1h0m0-1.5h0m4 2h0m9-3h0m9 2.5h0m2 1h0m2-3h0m-40.5 6h0m0 1h0m0.5 1h0m0-0.5h0m0 0h0m0-0.5h0m0.5 1.5h0m0-1.5h0m0-3h0m0 3.5h0m0 0h0m0-1.5h0m0 2h0m0-4h0m0 0.5h0m0 3h0m0.5 0.5h0m0-3.5h0m0 2h0m0 0.5h0m0-1.5h0m0.5 2.5h0m0-2h0m0 2h0m0-0.5h0m0.5-2h0m0 2.5h0m0.5-1.5h0m0 0.5h0m0-0.5h0m0.5-1.5h0m0 2h0m0-2.5h0m0.5 0h0m0 1.5h0m0 1.5h0m0.5 0h0m0-2h0m0.5 1h0m0-1h0m1 3h0m1.5-3.5h0m6.5 3h0m1-3.5h0m5.5-0.5h0m2 0h0m1 4h0m5-2.5h0m3.5 2.5h0m4-3.5h0m-36 7h0m0-2h0m0 0.5h0m0 2.5h0m0.5-1.5h0m0-0.5h0m0 2h0m0-3.5h0m0.5 1.5h0m0-0.5h0m0 2.5h0m0 0h0m0-4h0m0.5 3.5h0m0-2.5h0m0 0h0m0 2h0m0-0.5h0m0-0.5h0m0-1h0m0.5-0.5h0m0 0h0m0 1h0m0 2.5h0m0-1.5h0m0.5-2.5h0m0 3.5h0m0 0.5h0m0-1h0m0-1.5h0m0 1h0m0.5-2.5h0m0 2.5h0m0-0.5h0m0.5 1.5h0m0.5-1.5h0m1-1.5h0m0.5 3h0m0.5-2h0m2 0.5h0m1-0.5h0m2 0h0m1 0.5h0m1.5 1h0m1-1h0m8 2h0m0-2.5h0m2.5 1.5h0m0.5 0.5h0m2.5-1h0m1-2h0" fill="none" stroke="#e8212b" stroke-width="2.4" stroke-linecap="round"/>
<line x1="726.57" y1="255.2" x2="726.57" y2="8.2" stroke="#000" stroke-width="2" stroke-dasharray="17 16.5"/>
<line x1="755.43" y1="255.2" x2="755.43" y2="8.2" stroke="#000" stroke-width="2" stroke-dasharray="17 16.5"/>
<line x1="897" y1="131.8" x2="577.2" y2="131.8" stroke="#000" stroke-width="2" stroke-dasharray="12 16.5 17 16.5 17 16.5 17 16.5 17 16.5 17 16.5 17 16.5 17 16.5 17 16.5 17 16.5"/>
<path d="M577.2 17.4H585.7V246.2H577.2M577.2 189H585.7M577.2 131.8H585.7M577.2 74.6H585.7" fill="none" stroke="#000" stroke-width="2"/>
<path d="M596.7 263.7V255.2H885.3V263.7M668.85 255.2v8.5M741 255.2v8.5M813.15 255.2v8.5" fill="none" stroke="#000" stroke-width="2"/>
<text x="569.2" y="251.6" font-size="24.9" text-anchor="end" textLength="13.93" lengthAdjust="spacingAndGlyphs">0</text>
<text x="569.2" y="194.4" font-size="24.9" text-anchor="end" textLength="13.93" lengthAdjust="spacingAndGlyphs">1</text>
<text x="569.2" y="137.2" font-size="24.9" text-anchor="end" textLength="13.93" lengthAdjust="spacingAndGlyphs">2</text>
<text x="569.2" y="80" font-size="24.9" text-anchor="end" textLength="13.93" lengthAdjust="spacingAndGlyphs">3</text>
<text x="569.2" y="22.8" font-size="24.9" text-anchor="end" textLength="13.93" lengthAdjust="spacingAndGlyphs">4</text>
<text x="591.2" y="289.7" font-size="24.9" text-anchor="middle" textLength="49.45" lengthAdjust="spacingAndGlyphs">−1.0</text>
<text x="663.35" y="289.7" font-size="24.9" text-anchor="middle" textLength="49.45" lengthAdjust="spacingAndGlyphs">−0.5</text>
<text x="741" y="289.7" font-size="24.9" text-anchor="middle" textLength="13.93" lengthAdjust="spacingAndGlyphs">0</text>
<text x="813.15" y="289.7" font-size="24.9" text-anchor="middle" textLength="34.82" lengthAdjust="spacingAndGlyphs">0.5</text>
<text x="885.3" y="289.7" font-size="24.9" text-anchor="middle" textLength="34.82" lengthAdjust="spacingAndGlyphs">1.0</text>
<text x="742" y="313.7" font-size="24.9" text-anchor="middle" textLength="224.15" lengthAdjust="spacingAndGlyphs">ΔCompartment rank</text>
<text x="540.7" y="131.8" font-size="24.9" text-anchor="middle" transform="rotate(-90 540.7 131.8)" textLength="167.34" lengthAdjust="spacingAndGlyphs">−log<tspan font-size="70%" dy="0.3em">10</tspan><tspan dy="-0.21em">(</tspan><tspan font-style="italic">P</tspan> value)</text>
<text x="593.9" y="181.2" font-size="24.9" textLength="63.4" lengthAdjust="spacingAndGlyphs">CoRE</text>
<circle cx="599.7" cy="195.7" r="3" fill="#e8212b"/>
<text x="610.2" y="201.4" font-size="24.9" textLength="84.27" lengthAdjust="spacingAndGlyphs"><tspan font-style="italic">n</tspan> = 256</text>
<circle cx="599.7" cy="217.5" r="3" fill="#3a4da0"/>
<text x="610.2" y="223.2" font-size="24.9" textLength="84.27" lengthAdjust="spacingAndGlyphs"><tspan font-style="italic">n</tspan> = 320</text>
<circle cx="599.7" cy="238.5" r="3" fill="#b0b0b0"/>
<text x="608.7" y="245.6" font-size="24.9" textLength="34.8" lengthAdjust="spacingAndGlyphs">NS</text>
<text x="897.7" y="160" font-size="24.9" text-anchor="end" textLength="93.55" lengthAdjust="spacingAndGlyphs"><tspan font-style="italic">P</tspan> = 0.01</text>
<text x="796.5" y="246" font-size="24.9" textLength="163.6" lengthAdjust="spacingAndGlyphs">20w-pWGD T2</text>
<text x="798.07" y="22.8" font-size="24.9" font-style="italic" textLength="99.39" lengthAdjust="spacingAndGlyphs">CTNNB1</text>
<line x1="850.27" y1="27.64" x2="845.15" y2="36.59" stroke="#000" stroke-width="2"/>
<text x="652.72" y="37" font-size="24.9" font-style="italic" textLength="64.44" lengthAdjust="spacingAndGlyphs">KIF11</text>
<line x1="687.78" y1="41.71" x2="693.66" y2="63.97" stroke="#000" stroke-width="2"/>
<text x="568.28" y="104" font-size="24.9" font-style="italic" textLength="84.21" lengthAdjust="spacingAndGlyphs">XRCC5</text>
<line x1="657.33" y1="100.31" x2="676.52" y2="95.19" stroke="#000" stroke-width="2"/>
<text x="599.75" y="128.5" font-size="24.9" font-style="italic" textLength="82.84" lengthAdjust="spacingAndGlyphs">BRCA1</text>
<line x1="684.2" y1="125.9" x2="711.58" y2="125.9" stroke="#000" stroke-width="2"/>
<text x="822.89" y="104" font-size="24.9" font-style="italic" textLength="48.31" lengthAdjust="spacingAndGlyphs">JUN</text>
<line x1="802.93" y1="81.37" x2="821.61" y2="95.19" stroke="#000" stroke-width="2"/>
<polygon points="1235.5,247.4 1235.8,246 1235.3,244.5 1235.9,243.1 1235.5,241.7 1235.2,240.2 1235.6,238.8 1235.5,237.4 1235.8,236 1236,234.5 1235.4,233.1 1235.3,231.7 1235,230.2 1235,228.8 1234,227.4 1234.5,225.9 1233.9,224.5 1234.2,223.1 1234.1,221.7 1233.8,220.2 1233.8,218.8 1233.9,217.4 1233.2,215.9 1233.4,214.5 1233.6,213.1 1233.4,211.7 1233.4,210.2 1233.4,208.8 1233.1,207.4 1233.1,205.9 1232.6,204.5 1233.2,203.1 1232.8,201.6 1233,200.2 1233,198.8 1232.6,197.3 1232.1,195.9 1232.7,194.5 1232.2,193.1 1232.6,191.6 1232,190.2 1232.2,188.8 1232.3,187.3 1231.6,185.9 1232.4,184.5 1231.7,183.1 1232.2,181.6 1231.6,180.2 1231.9,178.8 1231.5,177.3 1231.4,175.9 1231.3,174.5 1231.2,173 1231.4,171.6 1231.1,170.2 1231.2,168.8 1231.7,167.3 1231.2,165.9 1231.5,164.5 1230.8,163 1230.8,161.6 1231,160.2 1230.9,158.7 1230.6,157.3 1230.6,155.9 1231.2,154.4 1230.6,153 1231.2,151.6 1230.6,150.2 1230.5,148.7 1231.1,147.3 1230.8,145.9 1230.7,144.4 1230.8,143 1230.8,141.6 1230.8,140.2 1230.5,138.7 1230.8,137.3 1230.5,135.9 1230,134.4 1230.4,133 1230.4,131.6 1210.4,131.6 1208.1,133 1211.2,134.4 1208.9,135.9 1210.9,137.3 1205.4,138.7 1204,140.2 1211.4,141.6 1211.8,143 1208,144.4 1211.9,145.9 1205,147.3 1205.6,148.7 1205.6,150.2 1210.6,151.6 1206.9,153 1214.1,154.4 1207.2,155.9 1209.9,157.3 1204.6,158.7 1206.2,160.2 1210.4,161.6 1210.1,163 1208.3,164.5 1210.3,165.9 1210.8,167.3 1209.1,168.8 1210,170.2 1209.2,171.6 1208.6,173 1211.5,174.5 1209.2,175.9 1211.2,177.3 1211.6,178.8 1214,180.2 1213.7,181.6 1213.7,183.1 1213.7,184.5 1212.3,185.9 1214.3,187.3 1214.9,188.8 1214.7,190.2 1217.4,191.6 1215.9,193.1 1215.5,194.5 1217.4,195.9 1216.9,197.3 1216,198.8 1216.8,200.2 1218.3,201.6 1219.3,203.1 1218.9,204.5 1219.5,205.9 1219.4,207.4 1221.2,208.8 1222.1,210.2 1222.3,211.7 1222.7,213.1 1221.3,214.5 1223.7,215.9 1223.8,217.4 1223.9,218.8 1225.1,220.2 1224.9,221.7 1225.7,223.1 1224.4,224.5 1226.2,225.9 1227.2,227.4 1226.5,228.8 1226.6,230.2 1228,231.7 1228.3,233.1 1229,234.5 1229.9,236 1229.7,237.4 1230.9,238.8 1231.6,240.2 1232.2,241.7 1232.8,243.1 1233.9,244.5 1234.9,246 1235.5,247.4" fill="#b0b0b0"/>
<polygon points="1238,247.4 1237.3,246 1237.7,244.5 1237.5,243.1 1237.2,241.7 1237.9,240.2 1237.9,238.8 1237.9,237.4 1237.7,236 1237.3,234.5 1237.5,233.1 1237.4,231.7 1238.5,230.2 1238.3,228.8 1239.2,227.4 1238.9,225.9 1238.7,224.5 1238.9,223.1 1238.9,221.7 1239.3,220.2 1239.2,218.8 1239.8,217.4 1239.4,215.9 1240.1,214.5 1239.9,213.1 1240.3,211.7 1240.4,210.2 1240,208.8 1240.4,207.4 1240.3,205.9 1240.2,204.5 1240.4,203.1 1240.4,201.6 1240.3,200.2 1240.4,198.8 1240.5,197.3 1241.1,195.9 1241.1,194.5 1240.8,193.1 1240.7,191.6 1241.3,190.2 1240.9,188.8 1240.7,187.3 1241.2,185.9 1241.5,184.5 1241.4,183.1 1241.2,181.6 1241.3,180.2 1241.1,178.8 1241.8,177.3 1241.7,175.9 1241.5,174.5 1242,173 1241.7,171.6 1241.5,170.2 1241.4,168.8 1241.9,167.3 1242.1,165.9 1242.4,164.5 1241.9,163 1241.8,161.6 1242.3,160.2 1241.9,158.7 1242.1,157.3 1242.1,155.9 1242.4,154.4 1242,153 1242.2,151.6 1242.6,150.2 1242.6,148.7 1242.5,147.3 1242.8,145.9 1242.3,144.4 1243.1,143 1242.6,141.6 1242.9,140.2 1243,138.7 1242.9,137.3 1243,135.9 1243.1,134.4 1243.3,133 1243.3,131.6 1266.3,131.6 1270,133 1271.8,134.4 1268.1,135.9 1265.6,137.3 1270.6,138.7 1261.9,140.2 1270.3,141.6 1263.7,143 1263.7,144.4 1260.2,145.9 1261.8,147.3 1262.4,148.7 1263.3,150.2 1267.3,151.6 1263.9,153 1261.6,154.4 1265.3,155.9 1267.9,157.3 1263.7,158.7 1268.1,160.2 1264.2,161.6 1262.5,163 1263.2,164.5 1265.4,165.9 1261.2,167.3 1262.1,168.8 1262.4,170.2 1262.4,171.6 1261.5,173 1259.9,174.5 1259.4,175.9 1262.8,177.3 1260,178.8 1261.4,180.2 1261.8,181.6 1260.6,183.1 1258.6,184.5 1258.4,185.9 1257.2,187.3 1260.3,188.8 1258.5,190.2 1259,191.6 1256.1,193.1 1258.4,194.5 1257.8,195.9 1257.5,197.3 1254.9,198.8 1256.9,200.2 1254.2,201.6 1254.7,203.1 1254.2,204.5 1255.4,205.9 1253.6,207.4 1253,208.8 1254,210.2 1250.8,211.7 1252.9,213.1 1251.3,214.5 1249.6,215.9 1250.1,217.4 1249.8,218.8 1248.5,220.2 1248.2,221.7 1249,223.1 1247.7,224.5 1248,225.9 1247.2,227.4 1246.6,228.8 1246.3,230.2 1245.8,231.7 1245.4,233.1 1243.7,234.5 1243,236 1242.8,237.4 1242.3,238.8 1241.4,240.2 1241.1,241.7 1240.4,243.1 1239.5,244.5 1238.2,246 1238,247.4" fill="#b0b0b0"/>
<path d="M1258.5 132.5h0m-55 2h0m7 2.5h0m0.5-2h0m2 0.5h0m2 2h0m6.5-3.5h0m1-1h0m2 0h0m2.5 1h0m3-0.5h0m15.5 2.5h0m0.5-2.5h0m1 0.5h0m0.5-1.5h0m2 1.5h0m1 3h0m1.5-2h0m0.5 1.5h0m2 0h0m6-1h0m1.5 2h0m2.5-3h0m4.5 0h0m-64 7h0m0.5-3h0m7 3h0m9-1.5h0m0.5 2.5h0m8.5-1h0m15.5-3.5h0m0.5 0.5h0m0.5 1h0m0.5 1.5h0m2-0.5h0m2-2.5h0m1 1h0m5 0h0m3.5-0.5h0m1.5 1.5h0m2 0h0m1.5-2.5h0m-60 5h0m2 2.5h0m5 0h0m0.5 2.5h0m3-2h0m1 1.5h0m1.5-4.5h0m3 5h0m6.5 0h0m0-4.5h0m0.5 1h0m0.5 1h0m1 2.5h0m13.5-1h0m2.5-1h0m3 2h0m7-1.5h0m2.5-0.5h0m0.5-1.5h0m1.5 2h0m5.5 0h0m-60 1.5h0m4.5 3.5h0m4.5-2.5h0m6 0.5h0m4 1h0m0.5-1.5h0m2 3.5h0m2 0h0m1 0.5h0m12-2h0m1 0.5h0m0.5 0h0m0.5-2.5h0m1.5 0h0m5 1h0m3.5 0.5h0m0.5 0.5h0m0.5 1.5h0m2-2.5h0m3-0.5h0m1.5 3h0m2.5-2.5h0m0-0.5h0m1 3.5h0m-56.5 1.5h0m7.5 0h0m2 3h0m1-2.5h0m3 1.5h0m4 1h0m0.5-4.5h0m2 1h0m14 2.5h0m2.5 1.5h0m0.5-3h0m0.5-1.5h0m2.5 1h0m4 3.5h0m13-5h0m-53 6.5h0m0-1.5h0m1.5 0h0m2.5 3h0m0 0.5h0m6.5-1h0m3-2h0m15 4h0m6.5-1.5h0m1.5-0.5h0m3-0.5h0m1.5 0h0m5.5 2h0m1 1h0m0.5-1h0m2.5-3h0m-44 8.5h0m2.5-4.5h0m8.5 3.5h0m10.5-2h0m1.5 0h0m8 0.5h0m2 0.5h0m3.5-1h0m1-1h0m2 3h0m0-2h0m-46 4h0m4 4.5h0m0.5-4h0m11-0.5h0m2.5 3h0m0-0.5h0m11.5-0.5h0m2.5 0h0m2 1h0m6 1.5h0m0.5-3.5h0m0.5 0.5h0m1.5 0.5h0m4 1.5h0m2.5-1.5h0m-49.5 4.5h0m2.5 1h0m1 1h0m10.5-0.5h0m1.5-0.5h0m1.5 1h0m15 0.5h0m1.5 0h0m3.5-2.5h0m0.5-0.5h0m4.5 2h0m1-2.5h0m0.5 4h0m2-2.5h0m-44 4h0m4-0.5h0m2.5-0.5h0m1.5 4.5h0m3.5-3h0m4.5 2.5h0m10.5 0.5h0m2-4h0m0 1.5h0m1.5 0h0m1-0.5h0m0 0h0m1 2.5h0m0.5 0h0m2 0h0m0.5-1h0m2 0.5h0m1-4h0m3.5 1.5h0m3 0h0m-43.5 4h0m0.5 4h0m4.5-0.5h0m28 0.5h0m1.5-1.5h0m5-1h0m1.5 2h0m0.5-0.5h0m2-2h0m-40 4h0m2 2.5h0m2.5 2h0m3-4h0m0-1h0m1.5 2h0m2.5 2.5h0m0.5-2h0m11.5 0.5h0m2.5 0h0m2-2.5h0m2.5 3.5h0m7.5-3.5h0m1 0h0m-40.5 6h0m0.5 0.5h0m0 0.5h0m2.5-0.5h0m2-2h0m1 3h0m1-2h0m5-0.5h0m13.5-0.5h0m2.5 4h0m0-2h0m1 2.5h0m1-2h0m1-0.5h0m4.5-1h0m1.5 2.5h0m0.5-1.5h0m-37 4h0m1 2h0m1-2.5h0m1.5 3.5h0m3.5-3.5h0m0.5 0h0m0 0h0m2 1h0m2.5 3.5h0m2-1h0m9-1h0m1-1.5h0m0.5 1h0m1.5-2h0m1 2.5h0m0-2h0m0.5 3.5h0m7-2.5h0m-32 5.5h0m1-1h0m0-1.5h0m0.5 3h0m3.5 1.5h0m0-2h0m0.5 0h0m4.5 1h0m1 0.5h0m8.5 0.5h0m0-1.5h0m0.5 0h0m3.5 1.5h0m0.5-1h0m1 0.5h0m2-1.5h0m0.5 1.5h0m3 0h0m1-1h0m0.5-2.5h0m0 2h0m0.5-2.5h0m1 1h0m0-1h0" fill="none" stroke="#fff" stroke-width="1.3" stroke-linecap="round"/>
<path d="M1241.5 85.5h0m0.5 1h0m-11 1.5h0m11.5 3.5h0m1-3h0m6 1.5h0m-25.5 2.5h0m4.5 3.5h0m0.5 0.5h0m0-2h0m3 1h0m-2 3h0m19 2h0m-24 3h0m2.5 3.5h0m4-0.5h0m15 0.5h0m2-1h0m-26 4h0m1.5 1.5h0m17-1h0m0.5-1h0m6.5 3h0m-25.5 2.5h0m5.5-1h0m3 0.5h0m0-1h0m13 2.5h0m2.5-2.5h0m3.5 3h0m-27.5 4.5h0m4.5-0.5h0m14.5-3h0m2.5 3h0m5-3h0m-26.5 6h0m3.5 3h0m0.5-1.5h0m5 0.5h0m0 2h0m11 0h0m0.5-2.5h0m0.5 2.5h0m0.5-0.5h0m2 0.5h0m2.5 0h0m1-1h0m-26 5h0m0 1h0m0.5-4h0m0 0.5h0m0.5 0.5h0m0.5-0.5h0m1 2.5h0m1-1h0m0-0.5h0m1 2.5h0m0-2h0m1.5 1h0m0-2h0m1-1.5h0m0 0h0m0.5 3h0m0 0h0m0-1h0m0.5-0.5h0m0-0.5h0m0 1h0m0.5-2.5h0m9.5 1h0m1 0h0m0 1.5h0m0-1h0m0 1h0m0.5 2h0m0.5 0h0m0-4h0m0.5 2h0m0.5 2h0m0.5-2.5h0m2 2.5h0m0.5-1h0m1-0.5h0m1-3h0m0 3.5h0m0.5-2h0m-55 4.5h0m1 3.5h0m1-1h0m0.5-1.5h0m1-0.5h0m0.5 1h0m0-1.5h0m0.5 1.5h0m0-1.5h0m0.5 3h0m0.5-2.5h0m0.5 0.5h0m1 1.5h0m0-0.5h0m0.5-2.5h0m0.5 1h0m1.5 0.5h0m1 1.5h0m1-1.5h0m1 3h0m1.5-1h0m0.5-3.5h0m1 0.5h0m1 3.5h0m1.5-2.5h0m0.5 2.5h0m0.5-2h0m2 0h0m5 0.5h0m2-2.5h0m2 2h0m4-2.5h0m0.5 3.5h0m1-3h0m0 3h0m0-1h0m0-1h0m0-1h0m0 0h0m0 3h0m0.5-1h0m0-2.5h0m0 4h0m0.5-3h0m7 2h0m0.5-3h0m2.5 2.5h0m0 0h0m0 2h0m0-1.5h0m0-2h0m0.5 2h0m0-2.5h0m0 4.5h0m0.5-4.5h0m0 1h0m1 0h0m6 0h0m1-1h0m8 3h0m0-2h0m0.5 1h0m1.5 1.5h0m0.5 0.5h0m0.5-2.5h0m0.5 2.5h0m0-1.5h0m1-2h0m0.5 2h0m1-1.5h0m0 0.5h0m2 2h0m0.5 0h0m0.5-2h0m0.5 1h0m0.5 0h0m0.5 1.5h0m0-2h0m0.5-1.5h0m0 0h0m0 4h0m1-3h0m0.5-0.5h0m1 1.5h0m0.5 1h0m0.5-2.5h0m1 0h0m0.5-0.5h0m0 0h0m0 1.5h0m0.5-1h0m0.5 2.5h0m0.5-1h0m0-1h0m0.5-1.5h0m0 3h0m0.5 1h0m0 0h0m0-1.5h0m0.5 1.5h0m-81.5 3.5h0m0.5 1h0m1 0.5h0m0-4.5h0m0.5 2h0m0-1.5h0m0 2.5h0m0 1.5h0m1-1.5h0m0-2h0m0.5 3.5h0m0-3.5h0m0.5 3.5h0m0-4.5h0m0.5 4.5h0m1 0h0m0.5-3h0m0 2h0m0-2h0m0-0.5h0m1.5 2.5h0m0 1h0m0.5-0.5h0m0.5-3.5h0m0 1.5h0m1 0h0m0 0.5h0m0 2h0m1-1h0m0-1h0m0 0.5h0m1-1h0m0 2.5h0m1-2h0m0-1.5h0m0 2.5h0m0.5-2.5h0m0 4h0m2.5-2h0m0.5-1h0m1 0h0m0 3h0m1-3h0m2.5-1.5h0m2 4.5h0m3-4.5h0m1 1h0m3.5 2h0m1-3h0m0 1.5h0m3 2.5h0m0-4h0m0.5-0.5h0m0 3.5h0m0 0.5h0m0-3.5h0m0.5 2h0m0 1h0m0.5-0.5h0m0.5 2h0m2.5-1h0m0.5-3h0m2-0.5h0m4.5 0.5h0m0 0h0m0 2.5h0m0-2.5h0m0 1.5h0m0 0h0m0 1h0m0 1.5h0m0-3.5h0m0.5 0.5h0m0-1h0m0.5 0.5h0m0 1h0m0-2h0m0-0.5h0m0.5 1.5h0m0 0.5h0m0.5-1h0m0.5 3h0m11.5-1h0m0.5 0.5h0m4.5 1h0m1.5 0.5h0m1.5-3h0m1-0.5h0m0.5 1.5h0m0 1h0m2 0h0m0.5 0h0m1-3.5h0m0.5 0h0m0.5 1h0m0.5-1.5h0m0.5 4.5h0m0.5-3.5h0m0 3.5h0m0-3.5h0m1.5 4h0m1-3.5h0m0.5-1h0m0.5 0.5h0m0.5 0.5h0m0.5 0h0m0 1.5h0m0-2h0m1 1.5h0m0.5-0.5h0m0.5 0.5h0m1-0.5h0m-80.5 5.5h0m0.5-0.5h0m0.5 1h0m0 0.5h0m0 0h0m1-2.5h0m0 4h0m0-4h0m1.5 3.5h0m0.5-4.5h0m1 2h0m1 2.5h0m1-3h0m0.5 2.5h0m0.5-2.5h0m0.5 1h0m0.5-2h0m0.5 0h0m0.5-0.5h0m2.5 0.5h0m0 1h0m1.5 3h0m0.5-2h0m0.5-1h0m2 1.5h0m2-1h0m0 0h0m0.5 2.5h0m0.5-1h0m2.5-3h0m1 1h0m0.5 2.5h0m6.5-3h0m1 3.5h0m0.5-0.5h0m0.5 0h0m0-2h0m0-0.5h0m0 0h0m0.5 2.5h0m0.5-4h0m0 0.5h0m0 0.5h0m0.5 0.5h0m0 2.5h0m0 0h0m9-3.5h0m0.5 1.5h0m0 1.5h0m0.5 1h0m0-3h0m0 0.5h0m0 2.5h0m0-1h0m0-2.5h0m0 0h0m0.5 1.5h0m0.5-1h0m0-0.5h0m2 0h0m0.5-0.5h0m0.5 0h0m1 0h0m3.5 2h0m2 1h0m1.5-1.5h0m0 0h0m1 0h0m0.5 0.5h0m1.5 1h0m0-3h0m0 0.5h0m0.5 1.5h0m1-1h0m0-0.5h0m1-0.5h0m1.5 3.5h0m1-3.5h0m1 2.5h0m0 1.5h0m1-4h0m0.5 4h0m0.5-0.5h0m0-0.5h0m0.5-2h0m1.5-1h0m0.5 1h0m0.5-1h0m0.5 4h0m0.5-2.5h0m0 3h0m0.5-1.5h0m0-2.5h0m1 2h0m0 1.5h0m1.5 0h0m2-3.5h0m0 0h0m0.5 3.5h0m0.5-1.5h0m0-2.5h0m0.5 3.5h0m0.5-1.5h0m-79.5 4h0m3 1.5h0m0.5 0.5h0m0-1h0m0 1.5h0m0.5 0.5h0m0.5 0h0m1-1h0m0.5 0h0m0-2h0m0 0.5h0m0 2h0m0.5-2h0m0.5-1h0m0.5 1h0m0 0.5h0m1.5-2h0m0.5 0.5h0m1 1h0m1 2h0m0-2.5h0m1 0h0m0-1h0m0.5 4.5h0m0.5-3h0m1.5-0.5h0m0 3.5h0m1-4.5h0m1.5 3.5h0m2.5 0.5h0m1.5-0.5h0m0.5-1.5h0m2.5 1h0m0.5-1h0m1 0h0m0.5 0h0m1-0.5h0m0.5 3h0m4.5-1.5h0m1 1h0m0.5-2.5h0m0.5 1.5h0m0-0.5h0m0 2h0m0.5-3.5h0m0 1.5h0m0.5-1.5h0m0 2.5h0m0-4h0m0 2h0m1.5 0.5h0m6 2h0m2 0h0m0-1h0m0-2h0m0 0.5h0m0.5 1h0m0-1h0m0 0.5h0m1.5-1.5h0m1 3.5h0m3-3h0m5 0.5h0m0 1.5h0m3 1.5h0m0-2h0m4-2h0m0 1.5h0m1.5 2.5h0m1.5-4h0m0 2h0m0.5 0.5h0m0.5 0.5h0m0-3h0m1 2h0m0.5 0.5h0m0.5 0.5h0m0-1.5h0m2 0.5h0m0-1h0m0-2h0m1 2h0m0.5-0.5h0m1 3h0m0.5-3.5h0m0 1.5h0m0.5-2.5h0m0.5 0.5h0m0 3h0m0-0.5h0m0-2h0m0 2h0m0.5 1.5h0m1-4h0m1 3h0m-71.5 4.5h0m1-1.5h0m1 3.5h0m0.5-1h0m2-2h0m0.5-1h0m0-0.5h0m1 3h0m0 1h0m1.5-4h0m0 3.5h0m0-2.5h0m2 2.5h0m0.5-4h0m1 4.5h0m1 0h0m0.5-2.5h0m0.5-0.5h0m0 3h0m1-4.5h0m0 2.5h0m0-0.5h0m0-2h0m0.5 0h0m1 1.5h0m0.5 1.5h0m5.5-0.5h0m4.5-2h0m2 0.5h0m0-0.5h0m0.5 0.5h0m0.5 2.5h0m0-2.5h0m0 2h0m0-0.5h0m0.5-1.5h0m0 3h0m0-2.5h0m2 0h0m2.5 1h0m1.5 1h0m0.5-2h0m2.5 1.5h0m0-1.5h0m0 2.5h0m0-3.5h0m0.5 1h0m0 2.5h0m0-3.5h0m0 1.5h0m0 3h0m0-1h0m0-1h0m0.5 1.5h0m0-3.5h0m0-1h0m2 3.5h0m0.5-1.5h0m3.5 2h0m1-3.5h0m2.5 0.5h0m1.5 3h0m2-3.5h0m1 0h0m0.5 3.5h0m0.5-1h0m0 0.5h0m0-0.5h0m0.5-0.5h0m0.5 0h0m1 0h0m0.5-2h0m0 1.5h0m1.5-1.5h0m0 3h0m1-2h0m0 2.5h0m0.5 0.5h0m0.5-0.5h0m0-3.5h0m0 0h0m0.5 1.5h0m1-1.5h0m1 2h0m0 0h0m0.5-1h0m0.5 0h0m0.5 0h0m0 1h0m0 0h0m0.5 1.5h0m1-0.5h0m0 0h0m1.5-3h0m0 3h0m0.5 0h0m0.5-0.5h0m0-2h0m0 0h0m0.5-0.5h0m0 0.5h0m1.5-0.5h0m1-0.5h0m-73.5 7.5h0m0.5-1.5h0m2.5 2.5h0m0.5 1h0m0-3h0m0.5 0h0m1.5 2h0m0.5-1h0m0 0.5h0m0-1h0m0.5-1.5h0m1.5 1.5h0m0 0h0m0-0.5h0m1 1.5h0m0.5 1h0m0.5-1h0m1.5 1h0m0-3.5h0m0.5 1h0m0 0.5h0m1 1h0m0-1h0m0.5 1h0m0 0h0m0.5 1.5h0m0-0.5h0m0-3h0m1 2.5h0m1-3h0m1 4h0m0.5-1h0m0.5-0.5h0m1.5-0.5h0m0.5 0h0m1 0.5h0m0.5 0.5h0m3.5 0.5h0m0.5-3h0m0.5 2.5h0m4.5 1h0m0-0.5h0m0 1h0m0-2.5h0m0.5-2.5h0m0.5 1.5h0m0.5 2h0m0-1h0m3.5 1.5h0m5-1.5h0m0 1.5h0m0-0.5h0m0.5-2h0m0-0.5h0m0 2.5h0m0-3h0m0.5 4.5h0m0-0.5h0m0-2.5h0m0 0.5h0m0.5-2h0m1 4h0m4-1h0m1.5 1h0m4.5-4.5h0m2.5 1.5h0m2-1h0m0 1h0m0.5-1h0m0 3h0m0.5 0h0m0-2h0m0.5 3h0m0 0h0m0.5-2h0m1-2.5h0m1 3.5h0m0.5-2.5h0m0 1.5h0m0 1.5h0m1-1h0m0 1.5h0m0.5 0h0m1-2.5h0m0.5 2h0m0.5-2.5h0m1 3h0m0.5-3h0m0.5 3h0m0.5-1.5h0m0 0h0m1 0h0m0.5 2h0m0-4.5h0m0 4h0m0-3.5h0m0.5 0h0m0.5-0.5h0m0 4h0m0-0.5h0m1-1.5h0m0-2h0m-68.5 8h0m0.5-1.5h0m0.5 2h0m0-2h0m2 1.5h0m1 0h0m0-1.5h0m0.5 0h0m0.5-1h0m0 2.5h0m1-3h0m2 1h0m0.5 1h0m1-1h0m0-1h0m0.5 1.5h0m0.5 0.5h0m0.5 0h0m0-2.5h0m0 2h0m0.5 0.5h0m0.5-2h0m1 3h0m0 0h0m0.5 0h0m0-1h0m1.5-1.5h0m0.5 0.5h0m0.5-0.5h0m2 4h0m0.5-2h0m1 2h0m0.5-2.5h0m1.5 1h0m0-3.5h0m3.5 0.5h0m0.5 4h0m0.5 0.5h0m2-1.5h0m0 0.5h0m0.5-1h0m0-2h0m0 2h0m0-0.5h0m0.5 0h0m0 1h0m0 1.5h0m8-2h0m0.5-0.5h0m0 1.5h0m0.5 0h0m0-1.5h0m1.5 0h0m0-0.5h0m0.5 1.5h0m2-2h0m2.5 1h0m1-1.5h0m0.5 1.5h0m3.5 1h0m1-2h0m0 0h0m0-0.5h0m0.5 1h0m0 0.5h0m0.5 2.5h0m1-0.5h0m0-1.5h0m1-1h0m1-0.5h0m0.5-0.5h0m0.5-0.5h0m1 0.5h0m0 0.5h0m2.5 3.5h0m0-1.5h0m0.5 0h0m1-3h0m0.5-0.5h0m0.5 2h0m0 2.5h0m0-0.5h0m0-3.5h0m1.5 0.5h0m1 2h0m0.5-2.5h0m0 1.5h0m0.5 2h0m0-1h0m0 1h0m1 0.5h0m0.5-3.5h0m1 1h0m-66.5 4.5h0m0.5-0.5h0m0.5 3h0m0 0h0m0.5 0h0m0-0.5h0m0-3.5h0m0.5 1.5h0m0 2h0m0.5 0.5h0m1.5-3.5h0m0.5 1.5h0m0 2.5h0m0.5-3.5h0m0.5 2.5h0m0-0.5h0m0.5 1.5h0m0-2.5h0m0-1h0m0 2.5h0m0.5 0.5h0m0.5 0h0m0.5-2.5h0m0.5 3.5h0m1-2h0m0-2h0m1.5-0.5h0m0 2h0m0.5-2h0m0.5 3.5h0m0.5 0.5h0m2-3h0m0.5 1.5h0m0.5 1.5h0m0.5-4h0m0 3h0m3.5 1h0m6.5-2.5h0m0 0.5h0m1-1h0m1-1h0m0 2h0m0 2.5h0m0.5-4h0m0-1h0m0 3h0m2 0.5h0m2 0.5h0m4-3h0m0-0.5h0m0 1h0m0.5-1.5h0m0.5 0h0m0 2.5h0m1.5 2h0m0.5-2.5h0m1.5-1.5h0m0.5 2h0m1.5 1h0m7.5-0.5h0m2 1h0m0.5-1.5h0m0 0.5h0m1 1h0m0.5-2.5h0m0 2h0m1 1h0m0-0.5h0m0.5 1h0m0-4h0m0.5-1h0m0.5 5h0m0-4h0m1 0h0m0 0.5h0m0.5 1.5h0m0.5-0.5h0m0-1h0m0.5 2.5h0m1-0.5h0m0-0.5h0m0 1.5h0m0-2h0m1.5 2h0m0.5-0.5h0m0.5-2.5h0m0-1h0m1 0.5h0m0.5 1.5h0m0-1h0m-62 6h0m0.5 1.5h0m0-1h0m0.5-1h0m0.5 1.5h0m0 1h0m0-3h0m0 2h0m0.5-3.5h0m0 1h0m0 2.5h0m0.5 0h0m0-3h0m0 4h0m0.5 0.5h0m1.5-1.5h0m0 1h0m2.5-1h0m0.5-0.5h0m0.5 0h0m0 1h0m2-4h0m1 1.5h0m1 0.5h0m2.5 2h0m3 1h0m1.5-4.5h0m1 0h0m0 1.5h0m0 0h0m1.5-2h0m2 4h0m0.5-2h0m1-0.5h0m0 0h0m0.5-0.5h0m0 0.5h0m0 2h0m0.5-3h0m0 0h0m0 3h0m0 1h0m0-1h0m0-3h0m0.5 2h0m0 0.5h0m0 1.5h0m6-1.5h0m1.5 0h0m0.5 0.5h0m0-1.5h0m0 1.5h0m0 0h0m1-2h0m0.5-1h0m1.5 3.5h0m0.5-1h0m4.5 1h0m1 0h0m1.5 0h0m0.5-0.5h0m0.5 1h0m0.5-2.5h0m1.5 2.5h0m0.5 0.5h0m0.5-4h0m1-0.5h0m0.5 4.5h0m1-2h0m0.5 0.5h0m0.5-2.5h0m0.5 0.5h0m0.5 0h0m0-1h0m1 2h0m0 2h0m0.5-2.5h0m0.5 1.5h0m0.5-3.5h0m1 4.5h0m0 0.5h0m1-4.5h0m0-0.5h0m0.5 2h0m0.5 3h0m0-1h0m0.5-2.5h0m1.5 1.5h0m-60.5 2.5h0m1.5-0.5h0m0.5 4h0m0-1h0m0-2.5h0m0.5 4h0m1-4.5h0m0.5 4h0m0-1.5h0m0-2.5h0m0.5 0h0m0 2h0m0.5-2h0m1.5 0h0m0.5 2.5h0m0-1h0m0.5-0.5h0m2.5-0.5h0m1 1h0m2 3.5h0m0.5 0h0m0.5-1.5h0m0-3h0m1 0h0m0 0h0m2.5 3h0m5-3h0m1 0h0m1-0.5h0m0.5 2h0m0 1.5h0m0-3.5h0m0.5 4h0m0-3h0m0.5 3h0m7-0.5h0m1.5-3.5h0m1 1.5h0m0.5 2.5h0m0.5-3.5h0m5.5 2.5h0m0-0.5h0m3.5-2h0m1.5 2h0m5-1.5h0m0-1h0m0 1h0m1-0.5h0m0.5 0.5h0m0.5 0h0m0 0h0m1 0h0m1 0h0m0.5 3h0m0.5-3h0m0 0h0m1 4h0m0.5-2h0m0-2h0m0 3h0m-54.5 1.5h0m0-0.5h0m0.5 0.5h0m0 3h0m0.5-1h0m0.5 1h0m0.5-1h0m1-2.5h0m0.5 4.5h0m0.5-2h0m0.5 1.5h0m0.5 0.5h0m0-1h0m0-3.5h0m1 4h0m0-4h0m0 2.5h0m0.5 0h0m0 1h0m0.5-0.5h0m2.5-1.5h0m1.5 0h0m8 2.5h0m1 0h0m0.5-3.5h0m0.5-0.5h0m0.5 0h0m0.5 1h0m7.5 1h0m0-0.5h0m8.5-1.5h0m0.5 3.5h0m4-3h0m0.5 0h0m0 2.5h0m0.5-1h0m0.5-1.5h0m2 2.5h0m0 2h0m0.5-3h0m0.5-2h0m0 1.5h0m4-1h0m1 1.5h0m-54.5 3h0m1.5 2h0m0.5-0.5h0m0 0h0m1-1.5h0m1.5 3.5h0m0-1.5h0m1.5 3h0m1.5-4h0m1.5 4h0m0-3.5h0m1.5 1.5h0m1-0.5h0m0.5-0.5h0m1 0h0m1 3h0m8 0h0m1-3.5h0m0 3.5h0m1-1.5h0m0.5-2h0m4 1h0m2.5 2.5h0m0-0.5h0m0.5 0h0m0-3h0m0 2.5h0m1-2.5h0m0 2h0m1 1.5h0m13-5h0m0 4h0m0-3h0m1.5 3.5h0m0.5-4h0m0.5 0h0m0 4h0m1.5 0h0m0.5-3h0m0.5 3.5h0m0.5-3h0m1-1h0m0 2h0m0-1.5h0m0.5 2h0m1-2.5h0m0.5 0h0m0.5 0.5h0m-53 3.5h0m0.5 0h0m0.5 1h0m0-0.5h0m0.5 1h0m1 2.5h0m0.5-2h0m0-1h0m1 3.5h0m3-3h0m0.5 1h0m0.5 0.5h0m0 0h0m1 1h0m0-1h0m0.5 0h0m0 0.5h0m0.5-0.5h0m6 0.5h0m5.5-1h0m0.5 0h0m0.5-1h0m0.5 1h0m6 1h0m1 0h0m2.5-1.5h0m5.5-0.5h0m1 3h0m1-1h0m0-1.5h0m2.5-0.5h0m1-1h0m0.5 0.5h0m0.5 4h0m0-5h0m0 1.5h0m4 1.5h0m0 1.5h0m0-1h0m0-2.5h0m1.5-1h0m1 3h0m-48.5 2.5h0m1 3.5h0m1-3h0m2 0h0m1-1h0m0 2.5h0m0.5 1.5h0m0-1h0m0 0h0m0.5 2h0m1-1h0m2-2h0m2-0.5h0m3.5 2.5h0m1-1h0m0.5 1h0m1-2h0m3-1h0m0-0.5h0m0 1h0m6 0h0m0 1.5h0m9-1h0m0.5 2.5h0m0.5-2h0m0 2h0m1.5-0.5h0m0.5 1h0m1.5-5h0m1.5 2h0m0.5 1h0m1 0h0m1.5-0.5h0m3.5-1h0m-45 6h0m1 0.5h0m1 1h0m0-3.5h0m0 4.5h0m0-3h0m0 0.5h0m2 1.5h0m0.5-3.5h0m0 3.5h0m0.5-2.5h0m0.5 3h0m1.5-3.5h0m1.5-0.5h0m3.5 3h0m1.5-0.5h0m2-0.5h0m1 0h0m0.5 1h0m0-2.5h0m0.5-0.5h0m5 0.5h0m0.5 3.5h0m0-0.5h0m0.5-1h0m0.5 2h0m0-3.5h0m0-1.5h0m1.5 2.5h0m4-2h0m4 1.5h0m0.5-1h0m2.5 3h0m0-1.5h0m0-1.5h0m1 3.5h0m0.5-4.5h0m0 0.5h0m0 3.5h0m1 0h0m0 1h0m1.5-2.5h0m0-2h0m1.5 0.5h0m-38.5 5h0m0.5 2.5h0m1-1h0m5.5 0h0m0.5-0.5h0m0.5 0.5h0m0-1h0m0.5 1h0m2.5 2h0m0 0h0m0-0.5h0m3-2.5h0m0 1h0m0.5-0.5h0m0.5 2h0m0-0.5h0m5-2.5h0m0.5 3h0m2-3.5h0m0.5 1h0m5-1.5h0m0 1h0m4 1h0m0 0.5h0m0-2.5h0m0.5 3h0m2-1h0m0-0.5h0m0.5-0.5h0m0 3.5h0m2.5-3h0m-38 5.5h0m1 0.5h0m0.5-2.5h0m1 5h0m0-1.5h0m0.5 0.5h0m3 0h0m0 1h0m1.5-3h0m0.5 2.5h0m1.5-3.5h0m0.5 2.5h0m4 1.5h0m0-2h0m1.5-2.5h0m0 3h0m0.5-2h0m2 0h0m1.5 1.5h0m0.5-1h0m0 1.5h0m0 1h0m0.5-1h0m1-1h0m1.5-1h0m0 0h0m4.5-0.5h0m1 1h0m1-1h0m0 1h0m1 1h0m2-1.5h0m1-1h0m0 2.5h0m0.5 1h0m1.5-2h0m-33 6.5h0m0.5 1h0m0.5-4h0m0-0.5h0m0.5 0.5h0m0.5 3.5h0m1-0.5h0m0-1h0m0 0.5h0m0.5 1h0m1.5 0.5h0m0.5 0.5h0m1.5-5h0m5 2h0m0.5-0.5h0m0.5 2.5h0m0.5-2.5h0m3-0.5h0m0.5-0.5h0m0.5 4h0m1-3h0m1.5 2.5h0m1.5-1.5h0m1-1.5h0m0.5 1h0m1 1h0m0.5-1h0m1.5 2.5h0m0.5-1h0m0-2.5h0m0 0.5h0m0-0.5h0m1 1.5h0m0.5 0.5h0m0.5-2.5h0m1 4.5h0m0-3.5h0m-29 3.5h0m0.5 1h0m0.5-0.5h0m0 0h0m0 0.5h0m0-0.5h0m1.5 3h0m1-0.5h0m0.5-2.5h0m0 3.5h0m0.5-0.5h0m0.5-1.5h0m0-1h0m0.5 1.5h0m0 0h0m0 0h0m1 0h0m0-1h0m1 1.5h0m4.5-2h0m0-1h0m0 1.5h0m0.5 2h0m0.5-1h0m0 1.5h0m0.5 0h0m0.5-3h0m1 3h0m1-4h0m0.5 1h0m0 4h0m0-0.5h0m2-2.5h0m0-1.5h0m1 3h0m3-2.5h0m0 0.5h0m0.5 3.5h0m0-1.5h0m1-3h0m0.5 0.5h0m0.5 4h0m0-3.5h0m0.5-0.5h0m0.5-0.5h0m0.5 4h0m1-4h0m-25.5 5.5h0m0.5-0.5h0m1 1h0m0.5-1h0m0.5 2.5h0m0.5 1.5h0m0.5-2.5h0m0-0.5h0m0.5 1.5h0m0 1h0m1-1h0m0-2.5h0m0.5 0h0m0.5 2h0m1 2h0m3-4h0m0.5 3.5h0m1-1.5h0m0-0.5h0m0-1h0m0.5 3h0m0.5 1h0m0-0.5h0m0-1h0m0 0h0m0.5 0.5h0m0-3h0m1.5 0h0m0.5 0h0m1.5 0h0m1 3h0m1 1h0m2-3.5h0m0 2.5h0m0-2h0m1 1h0m1 1.5h0m0.5 0h0m0-2h0m0-0.5h0m1.5-0.5h0m0 0h0m-22 6.5h0m0.5-3h0m1 4.5h0m0-4.5h0m0 1.5h0m0 0.5h0m0.5 0h0m0-0.5h0m0 2h0m0.5-1h0m1-1h0m0 2h0m1 0.5h0m0.5 0.5h0m1.5-3h0m0 2h0m0.5-2h0m0 0h0m0.5-1h0m0.5 0h0m0-0.5h0m0.5 2h0m1 2.5h0m0-1h0m0.5 1h0m0.5 0.5h0m0-3.5h0m0 2h0m0-1h0m0.5 1.5h0m3.5 0.5h0m0-3.5h0m0 0.5h0m0.5-0.5h0m0 3h0m0.5-1.5h0m0 1h0m2-1.5h0m0 3h0m0-3.5h0m1 1.5h0m-14.5 2.5h0m0.5 3h0m0.5 0.5h0m0 1h0m0-4h0m0 3h0m0.5-2.5h0m0 1.5h0m0-1.5h0m0 1h0m0-0.5h0m0.5 0h0m0 1.5h0m0-1.5h0m0.5 1h0m0-2.5h0m0 2h0m0 2h0m0.5-3.5h0m0 3.5h0m0-4h0m0 4h0m1-1h0m0-3.5h0m1 4.5h0m1 0h0m0 0h0m0-2h0m1-1h0m0.5 0h0m0.5 0.5h0m0 0.5h0m0-0.5h0m1.5 1h0m0.5-3h0m0 2.5h0m0.5 1.5h0m0-4h0m0 2h0m0.5 2.5h0m0.5-1h0m0 1.5h0m0.5-4h0m0.5 1.5h0m0-1.5h0m0.5 0h0m0.5-1h0m-12 5.5h0m0.5 0.5h0m0.5-0.5h0m1 0.5h0m0.5-0.5h0m0 2.5h0m0-1h0m0 1h0m0-1.5h0m0.5 1.5h0m0-2h0m0 1h0m0.5 1.5h0m0-1h0m0 0.5h0m0-0.5h0m0 0h0m0 1h0m0.5-2h0m0.5 3h0m0-4h0m0 2.5h0m0-2.5h0m0 4.5h0m0.5-1h0m0-3h0m0 2.5h0m0-1.5h0m0.5 1.5h0m0 1h0m0-2.5h0m0.5 0.5h0m0 1.5h0m0.5-2.5h0m0 1.5h0m0.5-2h0m0-0.5h0m0.5-0.5h0m0 2h0m0.5-2h0m0.5 0.5h0" fill="none" stroke="#b0b0b0" stroke-width="2.1" stroke-linecap="round"/>
<path d="M1156 46.5h0m33 3h0m-35.5 4h0m10.5 2h0m-10.5 6h0m1.5-1.5h0m13.5 0.5h0m-21.5 3.5h0m22 2h0m-27.5 2.5h0m2 3h0m26.5 0.5h0m7-0.5h0m-30.5 2h0m2 1h0m11 4h0m0 0.5h0m1.5 0.5h0m5-1.5h0m2 3h0m11.5-2.5h0m0.5 1.5h0m1 1h0m1.5-3.5h0m0.5 4.5h0m10.5-2.5h0m9.5 0.5h0m0.5-0.5h0m0.5-1.5h0m-42.5 8.5h0m2.5-2.5h0m0.5 2.5h0m3 0h0m2.5-2h0m0.5-1.5h0m0 4.5h0m1-4h0m2.5 1h0m3.5 1.5h0m1-2.5h0m0.5 2h0m1 1h0m6.5-2h0m0 2.5h0m2 0h0m2.5-1h0m1-1h0m-31 5h0m1.5 1h0m5 1h0m1-0.5h0m5.5-2h0m4.5 3h0m1.5-2h0m0.5-2h0m2 3h0m2-1.5h0m2-1h0m2 2.5h0m0.5-1h0m7.5-2h0m0 0.5h0m2 2h0m-36 2.5h0m3 0h0m2.5 2.5h0m4.5 0h0m3 1h0m4.5-0.5h0m0 0h0m0.5-1h0m1.5 0h0m1-3h0m3.5 2h0m0 0h0m0.5 0.5h0m4.5 0h0m3 2.5h0m0.5-1h0m0-2.5h0m-28.5 8.5h0m3-2.5h0m1.5-0.5h0m1.5 1h0m1.5 1h0m0-1.5h0m6 1h0m0.5 1h0m2.5-1.5h0m2.5-3h0m1 2.5h0m0 0.5h0m7.5 1.5h0m1.5-2h0m1 1h0m1.5 0.5h0m2 0h0m5-3.5h0m5 0.5h0m-41 5.5h0m4.5 1h0m2 0h0m1.5 1h0m3.5-0.5h0m0.5-2h0m0 2h0m1-1h0m2.5 2.5h0m2.5-1h0m0-3.5h0m0.5 1h0m1.5 0.5h0m0 0h0m1.5 3h0m0.5 0h0m0.5-1.5h0m3-2.5h0m3.5 1.5h0m5 2h0m2.5-0.5h0m5 1.5h0m6.5-1.5h0m-40 3h0m2.5 0h0m2 2h0m2-2.5h0m1 3h0m0.5 0h0m0-3.5h0m2 1.5h0m2.5 3h0m2.5-3h0m1.5 3h0m2.5-1.5h0m7-1.5h0m2 1h0m1-1.5h0m3.5 2h0m0.5-0.5h0m0 1.5h0m3.5-0.5h0m5-2.5h0m-36.5 7.5h0m0-0.5h0m1-0.5h0m0-1h0m2.5 2.5h0m0-4h0m0.5 3.5h0m3.5 1h0m1.5-2.5h0m0.5-1.5h0m1.5 3h0m0.5-1.5h0m0.5-1h0m0.5 3h0m1-3.5h0m1.5 0.5h0m1.5 2h0m0.5 1h0m1.5 0h0m0.5-1.5h0m1 1.5h0m0.5-0.5h0m0.5 0h0m0.5-3h0m0.5 3h0m2 1h0m1.5-1.5h0m3 0h0m2.5 1h0m0.5 0h0m2.5-0.5h0m0.5-2.5h0m1.5 2.5h0m0 0.5h0m1.5-2h0m0.5-1.5h0m0.5 4h0m1-3h0m0.5-1h0m-40.5 5h0m0.5-1h0m2 1h0m3.5 2h0m0-2.5h0m1.5 1h0m0 2h0m2 0h0m0 1h0m0.5-2h0m1-0.5h0m2-1h0m1 1.5h0m0.5 1.5h0m1.5 0h0m0-0.5h0m0.5-1.5h0m0.5 1h0m0 1h0m1.5-0.5h0m1.5-3h0m1 2.5h0m2.5 1h0m0.5-0.5h0m0 0h0m1.5-0.5h0m0-0.5h0m1.5 2h0m1-4.5h0m0.5 4h0m1.5 1h0m1-0.5h0m0 0.5h0m0.5-1h0m1.5-2h0m2.5 1.5h0m1 1h0m0.5-3h0m0 0.5h0m2.5 0h0m0.5 0h0m0-0.5h0m-36 4.5h0m2.5 0.5h0m0.5-0.5h0m1 1.5h0m0.5 0h0m5.5 2h0m0.5-3h0m1-1h0m2 3h0m0-3.5h0m0.5 2h0m1.5 0h0m0-1.5h0m0.5 0h0m2 1.5h0m0.5-0.5h0m0-1.5h0m0.5 4.5h0m0.5-1h0m1-3h0m0 4h0m1-1h0m1-3h0m1.5 2.5h0m0-2h0m3.5 1h0m1 3h0m1.5-2h0m0.5 1.5h0m1-1.5h0m0.5 2h0m2.5-4h0m0 1h0m0-1h0m0.5 1.5h0m0-0.5h0m1 0h0m-29.5 5h0m0.5 1.5h0m2-3h0m0.5 4h0m0-3h0m1 2.5h0m1-4h0m0 1h0m0.5 2h0m0-1h0m1.5 2.5h0m0.5-1h0m0.5-1h0m0 1.5h0m0 0h0m0.5-3h0m0.5-0.5h0m0 0h0m1 4h0m0.5-4.5h0m1.5 0.5h0m0.5 0.5h0m0 3.5h0m0 0h0m0.5-1.5h0m0-1.5h0m1 0.5h0m0-0.5h0m0.5 3h0m1-1h0m0-0.5h0m0.5 0.5h0m0.5-1h0m0-2.5h0m0 0h0m1 5h0m1-1.5h0m0 1.5h0m1-3.5h0m0.5 2h0m0-2h0m1.5-1h0m0.5 4h0m0-1h0m0.5-3h0m0.5 4.5h0m1-4h0m1 2h0m1.5 1h0m0-3.5h0m1 3h0m0-2.5h0m0 1.5h0m0.5 1.5h0m0-0.5h0m1 0.5h0m0-3h0m0.5 2.5h0m0.5 0.5h0m-22.5 1h0m4 0.5h0m6-0.5h0m4 0h0m3 0h0" fill="none" stroke="#3a4da0" stroke-width="2.4" stroke-linecap="round"/>
<path d="M1299 42h0m32.5 0.5h0m-31.5 1h0m11.5 1.5h0m-6 4.5h0m17.5-1.5h0m20 2.5h0m2 2h0m-64 3h0m45-2.5h0m8.5 2h0m23-1h0m-102 6h0m35.5 2h0m34.5-3h0m-71 5h0m77.5 2.5h0m-80 5.5h0m2-2h0m2.5 2.5h0m11.5-0.5h0m15.5-4h0m12.5 1h0m4 1.5h0m28 1.5h0m-59.5 2.5h0m9.5 1.5h0m3.5-1h0m10.5-1.5h0m17.5 0h0m23.5 2.5h0m-78.5 2h0m0.5 2h0m3 1h0m14.5-3h0m8 1.5h0m1.5 1h0m12.5 1.5h0m9 0h0m6.5-2.5h0m15.5 1.5h0m9-2.5h0m0.5-0.5h0m-83.5 6h0m1.5-1h0m0 1.5h0m63 0.5h0m0-2h0m5 1.5h0m-68.5 7h0m3.5-3h0m1-0.5h0m7 3.5h0m12.5-3h0m14 0.5h0m2-1h0m18.5 2.5h0m-58.5 6h0m0-3.5h0m0.5 1.5h0m2 2h0m0.5-2h0m0 0h0m14.5 0.5h0m21-1.5h0m5 0h0m2-1h0m12 4h0m-58.5 6h0m1-4.5h0m0 2.5h0m0.5-2h0m1 2h0m0.5-0.5h0m1-2h0m0-0.5h0m1 2h0m3 2h0m39.5 0.5h0m-47.5 2.5h0m0.5 3h0m1-3h0m0.5 0.5h0m0.5 1.5h0m3-0.5h0m8.5-0.5h0m8.5 1.5h0m6 0h0m13 0.5h0m4-1.5h0m0.5-3h0m-45 7.5h0m0 1h0m0 0.5h0m0.5-4h0m1 0h0m0.5 2h0m1.5-1h0m0 1.5h0m2-0.5h0m3.5-0.5h0m7 2h0m1.5-1.5h0m4 1.5h0m2.5 0.5h0m21.5-1.5h0m-46.5 3.5h0m0.5 0.5h0m0.5 1.5h0m0 0h0m0-2h0m1-0.5h0m0 2.5h0m0.5-1.5h0m1.5-0.5h0m1.5-0.5h0m0 1.5h0m0.5-1h0m0 0.5h0m4.5 1.5h0m5 1h0m10.5-2.5h0m0-1h0m2 0.5h0m4 3.5h0m6-4h0m-38.5 6.5h0m0 1.5h0m1-0.5h0m0.5-2h0m0.5 2.5h0m0.5-3h0m0 0.5h0m0.5 0.5h0m0 2.5h0m0.5 0h0m0.5-0.5h0m1.5-2.5h0m8.5-1h0m2 4h0m1-3h0m1.5 0.5h0m1 2h0m4-4h0m5 1h0m0.5 0.5h0m0.5 1h0m4.5 0h0m0.5 2h0m1-2h0m4 2h0m-39.5 2h0m0.5 2h0m0-0.5h0m0 0.5h0m0-1.5h0m0 2.5h0m0.5-2.5h0m0-0.5h0m0 0h0m0 0h0m0 0h0m0.5 2h0m0 1h0m0-3h0m0 1.5h0m0.5 0.5h0m0 1h0m0-2h0m0-1h0m0.5 3h0m0-1h0m0 1h0m0-1h0m0.5-0.5h0m0 0.5h0m0 1h0m0-1h0m0-3h0m0.5 2h0m1 1h0m0-0.5h0m0.5 0.5h0m0-1h0m0.5 0h0m0.5-2.5h0m1.5 4.5h0m1-2.5h0m3.5 3h0m0-0.5h0m3-3h0m0.5 3.5h0m1-4h0m3.5 3.5h0m0-4.5h0m1.5 2h0m2 2.5h0m0.5-3h0m1.5 0h0m0.5 1.5h0m0.5 0.5h0m5-0.5h0m3-1h0m3.5-1h0m-38 7h0m0-2h0m0 2.5h0m0.5-3.5h0m0 0.5h0m0 1h0m0-1h0m0 3h0m0-2h0m0 1.5h0m0 1.5h0m0-3.5h0m0.5 0.5h0m0 2h0m0 1h0m0 0h0m0-2.5h0m0 2.5h0m0-4h0m0 4h0m0 0.5h0m0-1.5h0m0.5-1.5h0m0-1h0m0 3.5h0m0-2.5h0m0 2.5h0m0-3h0m0 2.5h0m0.5-0.5h0m0.5-2h0m0 1h0m0 1h0m0-2.5h0m0 4h0m0-3h0m0-1h0m0 3.5h0m0.5-2h0m0 0.5h0m0-0.5h0m0.5 0.5h0m0-2h0m0 3.5h0m0.5-3h0m0-0.5h0m0 0.5h0m0.5-0.5h0m0 3.5h0m0 0.5h0m0-4h0m0.5-1h0m0 1h0m0.5 0.5h0m0.5 1.5h0m1-1.5h0m0.5 2.5h0m0.5-3h0m0 2.5h0m2-2h0m0.5 0h0m3 3h0m1-3.5h0m0.5 2h0m0.5 1.5h0m3.5-0.5h0m2.5-1h0m1.5 0.5h0m1.5 0h0m1 1h0m0 0h0m2.5-2h0m1 0h0m2.5-0.5h0m-31 3.5h0m0-0.5h0m0 0h0m0.5 0.5h0m6.5-0.5h0m2 0.5h0m14.5-0.5h0" fill="none" stroke="#e8212b" stroke-width="2.4" stroke-linecap="round"/>
<line x1="1222.17" y1="256.4" x2="1222.17" y2="8.2" stroke="#000" stroke-width="2" stroke-dasharray="17 16.5"/>
<line x1="1251.03" y1="256.4" x2="1251.03" y2="8.2" stroke="#000" stroke-width="2" stroke-dasharray="17 16.5"/>
<line x1="1392.3" y1="133" x2="1072.3" y2="133" stroke="#000" stroke-width="2" stroke-dasharray="12 16.5 17 16.5 17 16.5 17 16.5 17 16.5 17 16.5 17 16.5 17 16.5 17 16.5 17 16.5"/>
<path d="M1072.3 18.6H1080.8V247.4H1072.3M1072.3 190.2H1080.8M1072.3 133H1080.8M1072.3 75.8H1080.8" fill="none" stroke="#000" stroke-width="2"/>
<path d="M1092.3 264.9V256.4H1380.9V264.9M1164.45 256.4v8.5M1236.6 256.4v8.5M1308.75 256.4v8.5" fill="none" stroke="#000" stroke-width="2"/>
<text x="1064.3" y="252.8" font-size="24.9" text-anchor="end" textLength="13.93" lengthAdjust="spacingAndGlyphs">0</text>
<text x="1064.3" y="195.6" font-size="24.9" text-anchor="end" textLength="13.93" lengthAdjust="spacingAndGlyphs">1</text>
<text x="1064.3" y="138.4" font-size="24.9" text-anchor="end" textLength="13.93" lengthAdjust="spacingAndGlyphs">2</text>
<text x="1064.3" y="81.2" font-size="24.9" text-anchor="end" textLength="13.93" lengthAdjust="spacingAndGlyphs">3</text>
<text x="1064.3" y="24" font-size="24.9" text-anchor="end" textLength="13.93" lengthAdjust="spacingAndGlyphs">4</text>
<text x="1086.8" y="290.9" font-size="24.9" text-anchor="middle" textLength="49.45" lengthAdjust="spacingAndGlyphs">−1.0</text>
<text x="1158.95" y="290.9" font-size="24.9" text-anchor="middle" textLength="49.45" lengthAdjust="spacingAndGlyphs">−0.5</text>
<text x="1236.6" y="290.9" font-size="24.9" text-anchor="middle" textLength="13.93" lengthAdjust="spacingAndGlyphs">0</text>
<text x="1308.75" y="290.9" font-size="24.9" text-anchor="middle" textLength="34.82" lengthAdjust="spacingAndGlyphs">0.5</text>
<text x="1380.9" y="290.9" font-size="24.9" text-anchor="middle" textLength="34.82" lengthAdjust="spacingAndGlyphs">1.0</text>
<text x="1237.6" y="314.9" font-size="24.9" text-anchor="middle" textLength="224.15" lengthAdjust="spacingAndGlyphs">ΔCompartment rank</text>
<text x="1034" y="135" font-size="24.9" text-anchor="middle" transform="rotate(-90 1034 135)" textLength="167.34" lengthAdjust="spacingAndGlyphs">−log<tspan font-size="70%" dy="0.3em">10</tspan><tspan dy="-0.21em">(</tspan><tspan font-style="italic">P</tspan> value)</text>
<text x="1089" y="182.4" font-size="24.9" textLength="63.4" lengthAdjust="spacingAndGlyphs">CoRE</text>
<circle cx="1094.8" cy="196.9" r="3" fill="#e8212b"/>
<text x="1105.3" y="202.6" font-size="24.9" textLength="84.27" lengthAdjust="spacingAndGlyphs"><tspan font-style="italic">n</tspan> = 285</text>
<circle cx="1094.8" cy="218.7" r="3" fill="#3a4da0"/>
<text x="1105.3" y="224.4" font-size="24.9" textLength="84.27" lengthAdjust="spacingAndGlyphs"><tspan font-style="italic">n</tspan> = 324</text>
<circle cx="1094.8" cy="239.7" r="3" fill="#b0b0b0"/>
<text x="1103.8" y="246.8" font-size="24.9" textLength="34.8" lengthAdjust="spacingAndGlyphs">NS</text>
<text x="1392.8" y="161.2" font-size="24.9" text-anchor="end" textLength="93.55" lengthAdjust="spacingAndGlyphs"><tspan font-style="italic">P</tspan> = 0.01</text>
<text x="1295.2" y="247.2" font-size="24.9" textLength="163.6" lengthAdjust="spacingAndGlyphs">20w-pWGD T3</text>
<text x="1312.61" y="24.5" font-size="24.9" font-style="italic" textLength="99.39" lengthAdjust="spacingAndGlyphs">CTNNB1</text>
<line x1="1343.83" y1="40.94" x2="1364.81" y2="29.43" stroke="#000" stroke-width="2"/>
<text x="1114.81" y="41.5" font-size="24.9" font-style="italic" textLength="64.44" lengthAdjust="spacingAndGlyphs">KIF11</text>
<line x1="1158.31" y1="47.85" x2="1188.25" y2="76" stroke="#000" stroke-width="2"/>
<text x="1063.63" y="99" font-size="24.9" font-style="italic" textLength="84.21" lengthAdjust="spacingAndGlyphs">XRCC5</text>
<line x1="1153.19" y1="89.56" x2="1186.46" y2="89.05" stroke="#000" stroke-width="2"/>
<text x="1086.15" y="129.3" font-size="24.9" font-style="italic" textLength="82.84" lengthAdjust="spacingAndGlyphs">BRCA1</text>
<line x1="1169.83" y1="126.66" x2="1194.14" y2="127.18" stroke="#000" stroke-width="2"/>
<text x="1309.28" y="102.5" font-size="24.9" font-style="italic" textLength="48.31" lengthAdjust="spacingAndGlyphs">JUN</text>
<line x1="1293.42" y1="79.84" x2="1312.61" y2="88.79" stroke="#000" stroke-width="2"/>
</g>
<g id="panel_b">
<text transform="translate(-3.89 325.6) scale(1.22 1)" font-size="31.5" font-weight="bold" stroke="#000" stroke-width="1.2">b</text>
<path d="M165.8 351.3h2.3M168.8 351.3h3.3M174.8 351.3h1.3M177.8 351.3h1.3M179.8 351.3h1.3M199.7 351.3h1.3M204.7 351.3h1.3M226.7 351.3h1.3M262.6 351.3h1.3" fill="none" stroke="#4456a7" stroke-width="22.32"/>
<path d="M167.8 351.3h1.3M172.8 351.3h1.3M176.8 351.3h1.3M180.8 351.3h1.3M183.8 351.3h1.3M186.8 351.3h1.3M188.8 351.3h3.3M197.7 351.3h1.3M203.7 351.3h1.3M218.7 351.3h1.3M241.6 351.3h1.3M246.6 351.3h1.3" fill="none" stroke="#6372b6" stroke-width="22.32"/>
<path d="M171.8 351.3h1.3M175.8 351.3h1.3M178.8 351.3h1.3M182.8 351.3h1.3M185.8 351.3h1.3M187.8 351.3h1.3M192.7 351.3h2.3M196.7 351.3h1.3M200.7 351.3h1.3M206.7 351.3h2.3M211.7 351.3h1.3M215.7 351.3h1.3M219.7 351.3h1.3M229.7 351.3h1.3M238.6 351.3h1.3M251.6 351.3h3.3M280.6 351.3h1.3" fill="none" stroke="#828ec5" stroke-width="22.32"/>
<path d="M173.8 351.3h1.3M181.8 351.3h1.3M194.7 351.3h1.3M201.7 351.3h1.3M205.7 351.3h1.3M208.7 351.3h3.3M214.7 351.3h1.3M221.7 351.3h5.3M239.6 351.3h1.3M255.6 351.3h1.3M261.6 351.3h1.3M269.6 351.3h2.3M293.5 351.3h1.3M299.5 351.3h1.3" fill="none" stroke="#a1abd3" stroke-width="22.32"/>
<path d="M216.7 351.3h2.3M228.7 351.3h1.3M231.7 351.3h2.3M235.6 351.3h1.3M242.6 351.3h1.3M256.6 351.3h2.3M267.6 351.3h1.3M271.6 351.3h1.3M281.6 351.3h2.3M308.5 351.3h1.3M312.5 351.3h1.3" fill="none" stroke="#c1c7e2" stroke-width="22.32"/>
<path d="M184.8 351.3h1.3M191.7 351.3h1.3M195.7 351.3h1.3M212.7 351.3h2.3M220.7 351.3h1.3M230.7 351.3h1.3M233.7 351.3h1.3M240.6 351.3h1.3M245.6 351.3h1.3M248.6 351.3h3.3M258.6 351.3h3.3M263.6 351.3h2.3M266.6 351.3h1.3M278.6 351.3h2.3M287.5 351.3h1.3M295.5 351.3h1.3M297.5 351.3h1.3M303.5 351.3h1.3M309.5 351.3h1.3M313.5 351.3h3.3M320.5 351.3h1.3M329.4 351.3h1.3M332.4 351.3h1.3M336.4 351.3h1.3" fill="none" stroke="#e0e3f0" stroke-width="22.32"/>
<path d="M198.7 351.3h1.3M202.7 351.3h1.3M227.7 351.3h1.3M236.6 351.3h1.3M243.6 351.3h2.3M268.6 351.3h1.3M272.6 351.3h1.3M274.6 351.3h1.3M276.6 351.3h2.3M290.5 351.3h1.3M292.5 351.3h1.3M294.5 351.3h1.3M296.5 351.3h1.3M302.5 351.3h1.3M304.5 351.3h1.3M321.5 351.3h1.3M323.5 351.3h2.3M331.4 351.3h1.3M333.4 351.3h1.3M337.4 351.3h1.3M340.4 351.3h1.3M343.4 351.3h1.3M350.4 351.3h1.3M354.4 351.3h1.3" fill="none" stroke="#ffffff" stroke-width="22.32"/>
<path d="M234.7 351.3h1.3M237.6 351.3h1.3M254.6 351.3h1.3M265.6 351.3h1.3M275.6 351.3h1.3M283.5 351.3h3.3M288.5 351.3h1.3M298.5 351.3h1.3M306.5 351.3h2.3M311.5 351.3h1.3M317.5 351.3h1.3M319.5 351.3h1.3M326.5 351.3h2.3M335.4 351.3h1.3M342.4 351.3h1.3M349.4 351.3h1.3M352.4 351.3h1.3M356.4 351.3h5.3M363.4 351.3h1.3" fill="none" stroke="#fbdcde" stroke-width="22.32"/>
<path d="M247.6 351.3h1.3M273.6 351.3h1.3M286.5 351.3h1.3M291.5 351.3h1.3M301.5 351.3h1.3M305.5 351.3h1.3M330.4 351.3h1.3M344.4 351.3h1.3M348.4 351.3h1.3M351.4 351.3h1.3M355.4 351.3h1.3M369.4 351.3h1.3M377.3 351.3h1.3M379.3 351.3h2.3" fill="none" stroke="#f8babd" stroke-width="22.32"/>
<path d="M289.5 351.3h1.3M310.5 351.3h1.3M316.5 351.3h1.3M318.5 351.3h1.3M325.5 351.3h1.3M334.4 351.3h1.3M339.4 351.3h1.3M353.4 351.3h1.3M362.4 351.3h1.3M365.4 351.3h1.3M367.4 351.3h2.3M370.4 351.3h1.3M372.4 351.3h2.3M375.3 351.3h1.3M385.3 351.3h1.3" fill="none" stroke="#f4979c" stroke-width="22.32"/>
<path d="M300.5 351.3h1.3M328.4 351.3h1.3M338.4 351.3h1.3M345.4 351.3h1.3M347.4 351.3h1.3M361.4 351.3h1.3M364.4 351.3h1.3M371.4 351.3h1.3M374.3 351.3h1.3M376.3 351.3h1.3M378.3 351.3h1.3M381.3 351.3h1.3M384.3 351.3h1.3M389.3 351.3h1.3M395.3 351.3h1.3" fill="none" stroke="#f1757b" stroke-width="22.32"/>
<path d="M322.5 351.3h1.3M346.4 351.3h1.3M366.4 351.3h1.3M383.3 351.3h1.3M386.3 351.3h1.3M390.3 351.3h2.3M393.3 351.3h1.3" fill="none" stroke="#ed525a" stroke-width="22.32"/>
<path d="M341.4 351.3h1.3M382.3 351.3h1.3M387.3 351.3h2.3M392.3 351.3h1.3M394.3 351.3h1.3M396.3 351.3h1.3" fill="none" stroke="#ea2f39" stroke-width="22.32"/>
<path d="M166.8 373.4h1.3M168.8 373.4h1.3M171.8 373.4h1.3M183.8 373.4h2.3M208.7 373.4h1.3M234.7 373.4h1.3M237.6 373.4h1.3M246.6 373.4h2.3M274.6 373.4h1.3M283.5 373.4h2.3M313.5 373.4h1.3M377.3 373.4h1.3" fill="none" stroke="#4456a7" stroke-width="22.32"/>
<path d="M172.8 373.4h1.3M174.8 373.4h2.3M185.8 373.4h1.3M219.7 373.4h1.3M222.7 373.4h1.3M243.6 373.4h1.3M263.6 373.4h1.3M299.5 373.4h1.3M315.5 373.4h1.3M328.4 373.4h1.3" fill="none" stroke="#6372b6" stroke-width="22.32"/>
<path d="M169.8 373.4h1.3M176.8 373.4h1.3M192.7 373.4h2.3M197.7 373.4h1.3M205.7 373.4h1.3M214.7 373.4h1.3M220.7 373.4h2.3M226.7 373.4h2.3M231.7 373.4h1.3M240.6 373.4h1.3M249.6 373.4h1.3M258.6 373.4h1.3M265.6 373.4h1.3M360.4 373.4h1.3" fill="none" stroke="#828ec5" stroke-width="22.32"/>
<path d="M181.8 373.4h2.3M194.7 373.4h1.3M201.7 373.4h1.3M211.7 373.4h1.3M224.7 373.4h1.3M229.7 373.4h1.3M252.6 373.4h2.3M282.5 373.4h1.3M287.5 373.4h1.3M300.5 373.4h1.3M303.5 373.4h1.3M305.5 373.4h2.3M336.4 373.4h2.3M362.4 373.4h1.3M364.4 373.4h2.3M368.4 373.4h1.3" fill="none" stroke="#a1abd3" stroke-width="22.32"/>
<path d="M177.8 373.4h2.3M187.8 373.4h1.3M190.7 373.4h1.3M196.7 373.4h1.3M200.7 373.4h1.3M215.7 373.4h1.3M218.7 373.4h1.3M223.7 373.4h1.3M228.7 373.4h1.3M245.6 373.4h1.3M257.6 373.4h1.3M259.6 373.4h1.3M262.6 373.4h1.3M270.6 373.4h1.3M278.6 373.4h1.3M280.6 373.4h1.3M286.5 373.4h1.3M291.5 373.4h1.3M302.5 373.4h1.3M316.5 373.4h1.3M321.5 373.4h1.3M326.5 373.4h1.3M333.4 373.4h1.3M351.4 373.4h2.3M355.4 373.4h2.3M366.4 373.4h1.3M374.3 373.4h1.3M379.3 373.4h2.3M385.3 373.4h1.3" fill="none" stroke="#c1c7e2" stroke-width="22.32"/>
<path d="M165.8 373.4h1.3M167.8 373.4h1.3M170.8 373.4h1.3M206.7 373.4h1.3M210.7 373.4h1.3M213.7 373.4h1.3M225.7 373.4h1.3M232.7 373.4h2.3M236.6 373.4h1.3M242.6 373.4h1.3M266.6 373.4h1.3M279.6 373.4h1.3M285.5 373.4h1.3M293.5 373.4h2.3M308.5 373.4h1.3M327.5 373.4h1.3M334.4 373.4h1.3M344.4 373.4h1.3M348.4 373.4h1.3M350.4 373.4h1.3M357.4 373.4h1.3M381.3 373.4h1.3" fill="none" stroke="#e0e3f0" stroke-width="22.32"/>
<path d="M198.7 373.4h1.3M207.7 373.4h1.3M216.7 373.4h1.3M248.6 373.4h1.3M251.6 373.4h1.3M264.6 373.4h1.3M269.6 373.4h1.3M271.6 373.4h1.3M276.6 373.4h1.3M298.5 373.4h1.3M314.5 373.4h1.3M317.5 373.4h1.3M319.5 373.4h1.3M322.5 373.4h2.3M325.5 373.4h1.3M367.4 373.4h1.3M388.3 373.4h1.3" fill="none" stroke="#ffffff" stroke-width="22.32"/>
<path d="M179.8 373.4h2.3M186.8 373.4h1.3M188.8 373.4h2.3M217.7 373.4h1.3M235.6 373.4h1.3M238.6 373.4h1.3M244.6 373.4h1.3M250.6 373.4h1.3M261.6 373.4h1.3M273.6 373.4h1.3M281.6 373.4h1.3M292.5 373.4h1.3M297.5 373.4h1.3M301.5 373.4h1.3M304.5 373.4h1.3M332.4 373.4h1.3M340.4 373.4h1.3M342.4 373.4h1.3M345.4 373.4h1.3M349.4 373.4h1.3M353.4 373.4h1.3M369.4 373.4h3.3M375.3 373.4h2.3M382.3 373.4h1.3M389.3 373.4h1.3" fill="none" stroke="#fbdcde" stroke-width="22.32"/>
<path d="M195.7 373.4h1.3M199.7 373.4h1.3M202.7 373.4h3.3M209.7 373.4h1.3M239.6 373.4h1.3M256.6 373.4h1.3M267.6 373.4h1.3M289.5 373.4h1.3M295.5 373.4h2.3M310.5 373.4h1.3M331.4 373.4h1.3M341.4 373.4h1.3M346.4 373.4h1.3M358.4 373.4h1.3M361.4 373.4h1.3M372.4 373.4h1.3M378.3 373.4h1.3M383.3 373.4h2.3M387.3 373.4h1.3" fill="none" stroke="#f8babd" stroke-width="22.32"/>
<path d="M230.7 373.4h1.3M268.6 373.4h1.3M290.5 373.4h1.3M307.5 373.4h1.3M311.5 373.4h1.3M324.5 373.4h1.3M330.4 373.4h1.3M335.4 373.4h1.3M354.4 373.4h1.3M359.4 373.4h1.3M363.4 373.4h1.3M386.3 373.4h1.3M391.3 373.4h1.3M393.3 373.4h1.3" fill="none" stroke="#f4979c" stroke-width="22.32"/>
<path d="M312.5 373.4h1.3M318.5 373.4h1.3M329.4 373.4h1.3M373.4 373.4h1.3M390.3 373.4h1.3M392.3 373.4h1.3M396.3 373.4h1.3" fill="none" stroke="#f1757b" stroke-width="22.32"/>
<path d="M191.7 373.4h1.3M241.6 373.4h1.3M254.6 373.4h2.3M260.6 373.4h1.3M272.6 373.4h1.3M275.6 373.4h1.3M309.5 373.4h1.3M343.4 373.4h1.3M347.4 373.4h1.3" fill="none" stroke="#ed525a" stroke-width="22.32"/>
<path d="M173.8 373.4h1.3M212.7 373.4h1.3M277.6 373.4h1.3M288.5 373.4h1.3M320.5 373.4h1.3M338.4 373.4h2.3M394.3 373.4h2.3" fill="none" stroke="#ea2f39" stroke-width="22.32"/>
<path d="M321.5 395.5h1.3M375.3 395.5h1.3M378.3 395.5h1.3M381.3 395.5h1.3" fill="none" stroke="#4456a7" stroke-width="22.32"/>
<path d="M320.5 395.5h1.3M331.4 395.5h1.3M360.4 395.5h1.3M373.4 395.5h1.3M380.3 395.5h1.3M386.3 395.5h1.3M391.3 395.5h1.3" fill="none" stroke="#6372b6" stroke-width="22.32"/>
<path d="M201.7 395.5h1.3M276.6 395.5h1.3M296.5 395.5h1.3M303.5 395.5h1.3M346.4 395.5h1.3M361.4 395.5h2.3M365.4 395.5h1.3M383.3 395.5h1.3M392.3 395.5h1.3M394.3 395.5h1.3" fill="none" stroke="#828ec5" stroke-width="22.32"/>
<path d="M240.6 395.5h1.3M273.6 395.5h1.3M278.6 395.5h1.3M290.5 395.5h1.3M310.5 395.5h1.3M317.5 395.5h1.3M326.5 395.5h1.3M337.4 395.5h1.3M340.4 395.5h1.3M350.4 395.5h1.3M358.4 395.5h2.3M371.4 395.5h1.3M379.3 395.5h1.3M382.3 395.5h1.3M385.3 395.5h1.3M387.3 395.5h1.3M393.3 395.5h1.3M396.3 395.5h1.3" fill="none" stroke="#a1abd3" stroke-width="22.32"/>
<path d="M169.8 395.5h1.3M181.8 395.5h1.3M192.7 395.5h1.3M255.6 395.5h1.3M268.6 395.5h1.3M272.6 395.5h1.3M275.6 395.5h1.3M299.5 395.5h1.3M304.5 395.5h1.3M307.5 395.5h1.3M312.5 395.5h1.3M316.5 395.5h1.3M322.5 395.5h2.3M333.4 395.5h1.3M338.4 395.5h1.3M341.4 395.5h1.3M344.4 395.5h1.3M347.4 395.5h1.3M356.4 395.5h1.3M363.4 395.5h2.3M366.4 395.5h1.3M369.4 395.5h2.3M374.3 395.5h1.3M388.3 395.5h1.3M390.3 395.5h1.3" fill="none" stroke="#c1c7e2" stroke-width="22.32"/>
<path d="M188.8 395.5h1.3M235.6 395.5h1.3M237.6 395.5h1.3M250.6 395.5h1.3M265.6 395.5h1.3M270.6 395.5h1.3M281.6 395.5h1.3M297.5 395.5h2.3M301.5 395.5h1.3M305.5 395.5h2.3M308.5 395.5h2.3M324.5 395.5h1.3M330.4 395.5h1.3M332.4 395.5h1.3M335.4 395.5h1.3M339.4 395.5h1.3M348.4 395.5h1.3M352.4 395.5h1.3M355.4 395.5h1.3M357.4 395.5h1.3M367.4 395.5h1.3M389.3 395.5h1.3M395.3 395.5h1.3" fill="none" stroke="#e0e3f0" stroke-width="22.32"/>
<path d="M165.8 395.5h1.3M168.8 395.5h1.3M191.7 395.5h1.3M202.7 395.5h2.3M208.7 395.5h1.3M223.7 395.5h1.3M230.7 395.5h1.3M232.7 395.5h1.3M239.6 395.5h1.3M241.6 395.5h1.3M244.6 395.5h1.3M259.6 395.5h2.3M263.6 395.5h1.3M267.6 395.5h1.3M277.6 395.5h1.3M279.6 395.5h1.3M285.5 395.5h1.3M287.5 395.5h1.3M289.5 395.5h1.3M292.5 395.5h1.3M300.5 395.5h1.3M302.5 395.5h1.3M314.5 395.5h1.3M318.5 395.5h2.3M325.5 395.5h1.3M334.4 395.5h1.3M336.4 395.5h1.3M342.4 395.5h1.3M345.4 395.5h1.3M349.4 395.5h1.3M351.4 395.5h1.3M354.4 395.5h1.3M368.4 395.5h1.3M372.4 395.5h1.3M377.3 395.5h1.3M384.3 395.5h1.3" fill="none" stroke="#ffffff" stroke-width="22.32"/>
<path d="M176.8 395.5h1.3M183.8 395.5h1.3M185.8 395.5h1.3M193.7 395.5h2.3M213.7 395.5h1.3M217.7 395.5h1.3M234.7 395.5h1.3M236.6 395.5h1.3M251.6 395.5h3.3M257.6 395.5h2.3M261.6 395.5h1.3M264.6 395.5h1.3M266.6 395.5h1.3M271.6 395.5h1.3M282.5 395.5h3.3M288.5 395.5h1.3M291.5 395.5h1.3M293.5 395.5h2.3M313.5 395.5h1.3M315.5 395.5h1.3M328.4 395.5h2.3M353.4 395.5h1.3M376.3 395.5h1.3" fill="none" stroke="#fbdcde" stroke-width="22.32"/>
<path d="M167.8 395.5h1.3M173.8 395.5h1.3M175.8 395.5h1.3M187.8 395.5h1.3M195.7 395.5h2.3M199.7 395.5h2.3M204.7 395.5h1.3M206.7 395.5h1.3M209.7 395.5h4.3M214.7 395.5h2.3M218.7 395.5h1.3M226.7 395.5h1.3M231.7 395.5h1.3M243.6 395.5h1.3M245.6 395.5h2.3M249.6 395.5h1.3M254.6 395.5h1.3M256.6 395.5h1.3M262.6 395.5h1.3M274.6 395.5h1.3M343.4 395.5h1.3" fill="none" stroke="#f8babd" stroke-width="22.32"/>
<path d="M177.8 395.5h4.3M186.8 395.5h1.3M189.7 395.5h1.3M198.7 395.5h1.3M205.7 395.5h1.3M220.7 395.5h2.3M224.7 395.5h2.3M227.7 395.5h2.3M238.6 395.5h1.3M242.6 395.5h1.3M248.6 395.5h1.3M269.6 395.5h1.3M286.5 395.5h1.3M295.5 395.5h1.3M311.5 395.5h1.3" fill="none" stroke="#f4979c" stroke-width="22.32"/>
<path d="M170.8 395.5h1.3M184.8 395.5h1.3M190.7 395.5h1.3M207.7 395.5h1.3M216.7 395.5h1.3M222.7 395.5h1.3M229.7 395.5h1.3M233.7 395.5h1.3M247.6 395.5h1.3M280.6 395.5h1.3M327.5 395.5h1.3" fill="none" stroke="#f1757b" stroke-width="22.32"/>
<path d="M171.8 395.5h2.3M174.8 395.5h1.3M197.7 395.5h1.3" fill="none" stroke="#ed525a" stroke-width="22.32"/>
<path d="M166.8 395.5h1.3M182.8 395.5h1.3M219.7 395.5h1.3" fill="none" stroke="#ea2f39" stroke-width="22.32"/>
<path d="M339.4 417.6h1.3M342.4 417.6h2.3M346.4 417.6h1.3M349.4 417.6h1.3M364.4 417.6h1.3M368.4 417.6h1.3M379.3 417.6h1.3M387.3 417.6h3.3M391.3 417.6h6.3" fill="none" stroke="#4456a7" stroke-width="22.32"/>
<path d="M329.4 417.6h1.3M353.4 417.6h1.3M355.4 417.6h1.3M358.4 417.6h1.3M369.4 417.6h2.3M374.3 417.6h1.3M377.3 417.6h1.3M384.3 417.6h3.3M390.3 417.6h1.3" fill="none" stroke="#6372b6" stroke-width="22.32"/>
<path d="M273.6 417.6h1.3M284.5 417.6h1.3M305.5 417.6h1.3M321.5 417.6h1.3M331.4 417.6h1.3M334.4 417.6h1.3M352.4 417.6h1.3M356.4 417.6h2.3M365.4 417.6h2.3M371.4 417.6h1.3M373.4 417.6h1.3M375.3 417.6h1.3M381.3 417.6h2.3" fill="none" stroke="#828ec5" stroke-width="22.32"/>
<path d="M278.6 417.6h1.3M287.5 417.6h1.3M290.5 417.6h1.3M312.5 417.6h1.3M315.5 417.6h1.3M317.5 417.6h1.3M326.5 417.6h3.3M335.4 417.6h2.3M338.4 417.6h1.3M345.4 417.6h1.3M351.4 417.6h1.3M354.4 417.6h1.3M359.4 417.6h4.3M367.4 417.6h1.3M376.3 417.6h1.3M380.3 417.6h1.3M383.3 417.6h1.3" fill="none" stroke="#a1abd3" stroke-width="22.32"/>
<path d="M250.6 417.6h1.3M255.6 417.6h2.3M264.6 417.6h1.3M281.6 417.6h1.3M294.5 417.6h1.3M304.5 417.6h1.3M309.5 417.6h3.3M314.5 417.6h1.3M316.5 417.6h1.3M318.5 417.6h1.3M322.5 417.6h1.3M324.5 417.6h1.3M332.4 417.6h1.3M340.4 417.6h2.3M347.4 417.6h1.3M350.4 417.6h1.3M363.4 417.6h1.3M378.3 417.6h1.3" fill="none" stroke="#c1c7e2" stroke-width="22.32"/>
<path d="M232.7 417.6h1.3M236.6 417.6h1.3M252.6 417.6h1.3M254.6 417.6h1.3M261.6 417.6h1.3M263.6 417.6h1.3M267.6 417.6h1.3M271.6 417.6h1.3M279.6 417.6h1.3M283.5 417.6h1.3M285.5 417.6h1.3M288.5 417.6h1.3M291.5 417.6h1.3M296.5 417.6h2.3M300.5 417.6h1.3M308.5 417.6h1.3M313.5 417.6h1.3M319.5 417.6h1.3M323.5 417.6h1.3M330.4 417.6h1.3M333.4 417.6h1.3M337.4 417.6h1.3M348.4 417.6h1.3M372.4 417.6h1.3" fill="none" stroke="#e0e3f0" stroke-width="22.32"/>
<path d="M208.7 417.6h1.3M221.7 417.6h1.3M225.7 417.6h1.3M228.7 417.6h1.3M235.6 417.6h1.3M240.6 417.6h1.3M268.6 417.6h1.3M274.6 417.6h4.3M280.6 417.6h1.3M282.5 417.6h1.3M286.5 417.6h1.3M289.5 417.6h1.3M292.5 417.6h2.3M295.5 417.6h1.3M299.5 417.6h1.3M301.5 417.6h3.3M307.5 417.6h1.3M325.5 417.6h1.3M344.4 417.6h1.3" fill="none" stroke="#ffffff" stroke-width="22.32"/>
<path d="M186.8 417.6h1.3M199.7 417.6h2.3M210.7 417.6h2.3M222.7 417.6h1.3M226.7 417.6h2.3M233.7 417.6h1.3M249.6 417.6h1.3M257.6 417.6h4.3M266.6 417.6h1.3M270.6 417.6h1.3M298.5 417.6h1.3M306.5 417.6h1.3" fill="none" stroke="#fbdcde" stroke-width="22.32"/>
<path d="M172.8 417.6h1.3M174.8 417.6h1.3M185.8 417.6h1.3M192.7 417.6h1.3M194.7 417.6h1.3M204.7 417.6h1.3M214.7 417.6h2.3M218.7 417.6h1.3M220.7 417.6h1.3M237.6 417.6h1.3M239.6 417.6h1.3M241.6 417.6h5.3M251.6 417.6h1.3M262.6 417.6h1.3M265.6 417.6h1.3M269.6 417.6h1.3M272.6 417.6h1.3M320.5 417.6h1.3" fill="none" stroke="#f8babd" stroke-width="22.32"/>
<path d="M168.8 417.6h1.3M183.8 417.6h1.3M188.8 417.6h2.3M191.7 417.6h1.3M193.7 417.6h1.3M196.7 417.6h2.3M203.7 417.6h1.3M209.7 417.6h1.3M212.7 417.6h1.3M217.7 417.6h1.3M219.7 417.6h1.3M223.7 417.6h2.3M229.7 417.6h2.3M246.6 417.6h3.3" fill="none" stroke="#f4979c" stroke-width="22.32"/>
<path d="M170.8 417.6h2.3M173.8 417.6h1.3M178.8 417.6h1.3M180.8 417.6h3.3M190.7 417.6h1.3M195.7 417.6h1.3M198.7 417.6h1.3M201.7 417.6h1.3M206.7 417.6h2.3M213.7 417.6h1.3M216.7 417.6h1.3M231.7 417.6h1.3M234.7 417.6h1.3M238.6 417.6h1.3M253.6 417.6h1.3" fill="none" stroke="#f1757b" stroke-width="22.32"/>
<path d="M165.8 417.6h3.3M175.8 417.6h1.3M177.8 417.6h1.3M184.8 417.6h1.3M187.8 417.6h1.3M202.7 417.6h1.3M205.7 417.6h1.3" fill="none" stroke="#ed525a" stroke-width="22.32"/>
<path d="M169.8 417.6h1.3M176.8 417.6h1.3M179.8 417.6h1.3" fill="none" stroke="#ea2f39" stroke-width="22.32"/>
<rect x="165.8" y="340.2" width="231.5" height="88.5" fill="none" stroke="#000" stroke-width="2"/>
<text x="154.8" y="355.8" font-size="24.9" text-anchor="end" textLength="103.04" lengthAdjust="spacingAndGlyphs">H3K27ac</text>
<text x="461.9" y="355.8" font-size="24.9" text-anchor="end" textLength="48.75" lengthAdjust="spacingAndGlyphs">0.79</text>
<text x="154.8" y="380.15" font-size="24.9" text-anchor="end" textLength="111.38" lengthAdjust="spacingAndGlyphs">H3K4me3</text>
<text x="461.9" y="380.15" font-size="24.9" text-anchor="end" textLength="48.75" lengthAdjust="spacingAndGlyphs">0.26</text>
<text x="154.8" y="404.5" font-size="24.9" text-anchor="end" textLength="125.31" lengthAdjust="spacingAndGlyphs">H3K27me3</text>
<text x="461.9" y="404.5" font-size="24.9" text-anchor="end" textLength="63.38" lengthAdjust="spacingAndGlyphs">−0.35</text>
<text x="154.8" y="428.85" font-size="24.9" text-anchor="end" textLength="111.38" lengthAdjust="spacingAndGlyphs">H3K9me3</text>
<text x="461.9" y="428.85" font-size="24.9" text-anchor="end" textLength="63.38" lengthAdjust="spacingAndGlyphs">−0.79</text>
<text x="468.4" y="330.7" font-size="24.9" text-anchor="end" textLength="45.94" lengthAdjust="spacingAndGlyphs">Cor.</text>
<text x="66" y="463.5" font-size="24.9" textLength="402.3" lengthAdjust="spacingAndGlyphs">CoRE sorted by Δcompartment rank</text>
<path d="M658.4 351.3h4.3M664.4 351.3h1.3M666.4 351.3h1.3M671.4 351.3h2.3M677.4 351.3h1.3M679.4 351.3h1.3M685.3 351.3h1.3M694.3 351.3h1.3M701.3 351.3h1.3" fill="none" stroke="#4456a7" stroke-width="22.32"/>
<path d="M663.4 351.3h1.3M665.4 351.3h1.3M668.4 351.3h1.3M670.4 351.3h1.3M673.4 351.3h1.3M681.4 351.3h1.3M688.3 351.3h2.3M697.3 351.3h3.3M739.2 351.3h2.3M758.2 351.3h1.3" fill="none" stroke="#6372b6" stroke-width="22.32"/>
<path d="M674.4 351.3h1.3M676.4 351.3h1.3M678.4 351.3h1.3M680.4 351.3h1.3M684.3 351.3h1.3M691.3 351.3h1.3M704.3 351.3h4.3M709.3 351.3h1.3M714.3 351.3h1.3M722.3 351.3h1.3M726.3 351.3h1.3M733.2 351.3h1.3M738.2 351.3h1.3M743.2 351.3h2.3M750.2 351.3h1.3M773.2 351.3h1.3M781.1 351.3h1.3" fill="none" stroke="#828ec5" stroke-width="22.32"/>
<path d="M662.4 351.3h1.3M667.4 351.3h1.3M675.4 351.3h1.3M683.3 351.3h1.3M686.3 351.3h2.3M692.3 351.3h1.3M703.3 351.3h1.3M712.3 351.3h1.3M715.3 351.3h1.3M718.3 351.3h4.3M724.3 351.3h2.3M749.2 351.3h1.3M772.2 351.3h1.3" fill="none" stroke="#a1abd3" stroke-width="22.32"/>
<path d="M669.4 351.3h1.3M682.3 351.3h1.3M690.3 351.3h1.3M693.3 351.3h1.3M696.3 351.3h1.3M700.3 351.3h1.3M702.3 351.3h1.3M708.3 351.3h1.3M711.3 351.3h1.3M713.3 351.3h1.3M716.3 351.3h1.3M731.2 351.3h2.3M735.2 351.3h1.3M737.2 351.3h1.3M746.2 351.3h1.3M748.2 351.3h1.3M756.2 351.3h1.3M763.2 351.3h1.3M766.2 351.3h1.3M768.2 351.3h1.3M771.2 351.3h1.3M776.1 351.3h1.3M778.1 351.3h1.3M790.1 351.3h1.3M799.1 351.3h1.3M812.1 351.3h1.3" fill="none" stroke="#c1c7e2" stroke-width="22.32"/>
<path d="M695.3 351.3h1.3M710.3 351.3h1.3M727.3 351.3h1.3M730.2 351.3h1.3M734.2 351.3h1.3M741.2 351.3h2.3M745.2 351.3h1.3M747.2 351.3h1.3M751.2 351.3h3.3M760.2 351.3h1.3M764.2 351.3h1.3M767.2 351.3h1.3M775.1 351.3h1.3M777.1 351.3h1.3M784.1 351.3h1.3M796.1 351.3h2.3M800.1 351.3h1.3M814.1 351.3h2.3M825 351.3h1.3" fill="none" stroke="#e0e3f0" stroke-width="22.32"/>
<path d="M717.3 351.3h1.3M723.3 351.3h1.3M754.2 351.3h2.3M757.2 351.3h1.3M759.2 351.3h1.3M769.2 351.3h2.3M782.1 351.3h2.3M785.1 351.3h1.3M793.1 351.3h1.3M806.1 351.3h4.3M821 351.3h1.3M823 351.3h1.3M831 351.3h1.3" fill="none" stroke="#ffffff" stroke-width="22.32"/>
<path d="M736.2 351.3h1.3M761.2 351.3h2.3M765.2 351.3h1.3M774.1 351.3h1.3M779.1 351.3h2.3M787.1 351.3h1.3M792.1 351.3h1.3M798.1 351.3h1.3M801.1 351.3h1.3M824 351.3h1.3M829 351.3h1.3M832 351.3h1.3M841 351.3h1.3M848 351.3h2.3M862 351.3h1.3" fill="none" stroke="#fbdcde" stroke-width="22.32"/>
<path d="M728.2 351.3h2.3M788.1 351.3h2.3M794.1 351.3h1.3M802.1 351.3h4.3M811.1 351.3h1.3M813.1 351.3h1.3M819.1 351.3h1.3M830 351.3h1.3M837 351.3h1.3M839 351.3h1.3M843 351.3h1.3M845 351.3h1.3M852 351.3h1.3M857 351.3h1.3M861 351.3h1.3" fill="none" stroke="#f8babd" stroke-width="22.32"/>
<path d="M786.1 351.3h1.3M791.1 351.3h1.3M810.1 351.3h1.3M816.1 351.3h3.3M822 351.3h1.3M828 351.3h1.3M835 351.3h2.3M838 351.3h1.3M840 351.3h1.3M844 351.3h1.3M851 351.3h1.3M853 351.3h1.3M855 351.3h1.3M858 351.3h3.3M863 351.3h3.3M873.9 351.3h1.3M878.9 351.3h1.3" fill="none" stroke="#f4979c" stroke-width="22.32"/>
<path d="M795.1 351.3h1.3M820.1 351.3h1.3M826 351.3h2.3M833 351.3h1.3M842 351.3h1.3M847 351.3h1.3M850 351.3h1.3M866.9 351.3h1.3M868.9 351.3h3.3M874.9 351.3h2.3M884.9 351.3h1.3" fill="none" stroke="#f1757b" stroke-width="22.32"/>
<path d="M834 351.3h1.3M846 351.3h1.3M854 351.3h1.3M856 351.3h1.3M866 351.3h1.3M867.9 351.3h1.3M871.9 351.3h2.3M877.9 351.3h1.3M879.9 351.3h3.3" fill="none" stroke="#ed525a" stroke-width="22.32"/>
<path d="M876.9 351.3h1.3M882.9 351.3h2.3M885.9 351.3h4.3" fill="none" stroke="#ea2f39" stroke-width="22.32"/>
<path d="M658.4 373.4h1.3M667.4 373.4h1.3M682.3 373.4h1.3M687.3 373.4h1.3M709.3 373.4h1.3M759.2 373.4h2.3M784.1 373.4h1.3M786.1 373.4h1.3M792.1 373.4h1.3M795.1 373.4h1.3M805.1 373.4h1.3M813.1 373.4h1.3M816.1 373.4h2.3M822 373.4h1.3M824 373.4h1.3M842 373.4h1.3M861 373.4h1.3M867.9 373.4h1.3M869.9 373.4h1.3M874.9 373.4h1.3M888.9 373.4h1.3" fill="none" stroke="#4456a7" stroke-width="22.32"/>
<path d="M697.3 373.4h1.3M703.3 373.4h1.3M713.3 373.4h1.3M740.2 373.4h1.3M749.2 373.4h1.3M770.2 373.4h1.3M776.1 373.4h2.3M793.1 373.4h1.3M819.1 373.4h1.3M838 373.4h1.3M846 373.4h1.3M857 373.4h1.3" fill="none" stroke="#6372b6" stroke-width="22.32"/>
<path d="M660.4 373.4h1.3M663.4 373.4h1.3M666.4 373.4h1.3M738.2 373.4h1.3M754.2 373.4h1.3M757.2 373.4h1.3M765.2 373.4h1.3M783.1 373.4h1.3M788.1 373.4h1.3M794.1 373.4h1.3M864 373.4h1.3M866 373.4h1.3M878.9 373.4h2.3" fill="none" stroke="#828ec5" stroke-width="22.32"/>
<path d="M665.4 373.4h1.3M683.3 373.4h1.3M695.3 373.4h1.3M732.2 373.4h1.3M742.2 373.4h1.3M755.2 373.4h1.3M758.2 373.4h1.3M767.2 373.4h1.3M801.1 373.4h2.3M804.1 373.4h1.3M825 373.4h1.3M829 373.4h1.3M851 373.4h1.3M856 373.4h1.3M860 373.4h1.3M868.9 373.4h1.3M872.9 373.4h1.3" fill="none" stroke="#a1abd3" stroke-width="22.32"/>
<path d="M681.4 373.4h1.3M696.3 373.4h1.3M698.3 373.4h3.3M705.3 373.4h3.3M712.3 373.4h1.3M731.2 373.4h1.3M733.2 373.4h1.3M741.2 373.4h1.3M751.2 373.4h2.3M763.2 373.4h1.3M780.1 373.4h1.3M785.1 373.4h1.3M787.1 373.4h1.3M808.1 373.4h3.3M812.1 373.4h1.3M827 373.4h1.3M834 373.4h1.3M836 373.4h1.3M852 373.4h1.3M855 373.4h1.3M863 373.4h1.3M866.9 373.4h1.3M871.9 373.4h1.3M873.9 373.4h1.3M875.9 373.4h2.3M880.9 373.4h1.3M887.9 373.4h1.3" fill="none" stroke="#c1c7e2" stroke-width="22.32"/>
<path d="M661.4 373.4h2.3M670.4 373.4h1.3M684.3 373.4h1.3M686.3 373.4h1.3M723.3 373.4h1.3M725.3 373.4h1.3M753.2 373.4h1.3M768.2 373.4h1.3M772.2 373.4h1.3M774.1 373.4h1.3M779.1 373.4h1.3M789.1 373.4h1.3M791.1 373.4h1.3M800.1 373.4h1.3M803.1 373.4h1.3M818.1 373.4h1.3M831 373.4h1.3M835 373.4h1.3M847 373.4h1.3M849 373.4h1.3M853 373.4h1.3M859 373.4h1.3M881.9 373.4h3.3M885.9 373.4h2.3" fill="none" stroke="#e0e3f0" stroke-width="22.32"/>
<path d="M693.3 373.4h1.3M704.3 373.4h1.3M711.3 373.4h1.3M717.3 373.4h1.3M724.3 373.4h1.3M726.3 373.4h5.3M743.2 373.4h1.3M773.2 373.4h1.3M781.1 373.4h1.3M797.1 373.4h1.3M814.1 373.4h1.3M850 373.4h1.3M858 373.4h1.3M865 373.4h1.3" fill="none" stroke="#ffffff" stroke-width="22.32"/>
<path d="M664.4 373.4h1.3M671.4 373.4h1.3M679.4 373.4h2.3M690.3 373.4h3.3M701.3 373.4h1.3M708.3 373.4h1.3M721.3 373.4h1.3M746.2 373.4h1.3M748.2 373.4h1.3M761.2 373.4h2.3M766.2 373.4h1.3M769.2 373.4h1.3M775.1 373.4h1.3M778.1 373.4h1.3M796.1 373.4h1.3M811.1 373.4h1.3M815.1 373.4h1.3M823 373.4h1.3M828 373.4h1.3M833 373.4h1.3M870.9 373.4h1.3M877.9 373.4h1.3M884.9 373.4h1.3" fill="none" stroke="#fbdcde" stroke-width="22.32"/>
<path d="M673.4 373.4h1.3M677.4 373.4h1.3M715.3 373.4h1.3M734.2 373.4h2.3M756.2 373.4h1.3M799.1 373.4h1.3M821 373.4h1.3M839 373.4h1.3M844 373.4h1.3" fill="none" stroke="#f8babd" stroke-width="22.32"/>
<path d="M668.4 373.4h1.3M676.4 373.4h1.3M688.3 373.4h1.3M716.3 373.4h1.3M722.3 373.4h1.3M739.2 373.4h1.3M747.2 373.4h1.3M798.1 373.4h1.3M820.1 373.4h1.3M841 373.4h1.3M843 373.4h1.3M845 373.4h1.3M848 373.4h1.3" fill="none" stroke="#f4979c" stroke-width="22.32"/>
<path d="M669.4 373.4h1.3M674.4 373.4h2.3M678.4 373.4h1.3M685.3 373.4h1.3M689.3 373.4h1.3M702.3 373.4h1.3M714.3 373.4h1.3M736.2 373.4h1.3M744.2 373.4h1.3M771.2 373.4h1.3M807.1 373.4h1.3M826 373.4h1.3M837 373.4h1.3M840 373.4h1.3" fill="none" stroke="#f1757b" stroke-width="22.32"/>
<path d="M694.3 373.4h1.3M710.3 373.4h1.3M719.3 373.4h1.3M745.2 373.4h1.3M750.2 373.4h1.3M764.2 373.4h1.3M782.1 373.4h1.3M862 373.4h1.3" fill="none" stroke="#ed525a" stroke-width="22.32"/>
<path d="M659.4 373.4h1.3M672.4 373.4h1.3M718.3 373.4h1.3M720.3 373.4h1.3M737.2 373.4h1.3M790.1 373.4h1.3M806.1 373.4h1.3M830 373.4h1.3M832 373.4h1.3M854 373.4h1.3" fill="none" stroke="#ea2f39" stroke-width="22.32"/>
<path d="M788.1 395.5h1.3M830 395.5h1.3M852 395.5h1.3M887.9 395.5h1.3" fill="none" stroke="#4456a7" stroke-width="22.32"/>
<path d="M797.1 395.5h1.3M869.9 395.5h1.3M883.9 395.5h1.3" fill="none" stroke="#6372b6" stroke-width="22.32"/>
<path d="M816.1 395.5h1.3M842 395.5h1.3M848 395.5h1.3M855 395.5h1.3M866 395.5h1.3M867.9 395.5h1.3M879.9 395.5h1.3M884.9 395.5h3.3" fill="none" stroke="#828ec5" stroke-width="22.32"/>
<path d="M720.3 395.5h1.3M774.1 395.5h1.3M784.1 395.5h1.3M795.1 395.5h1.3M800.1 395.5h1.3M808.1 395.5h1.3M811.1 395.5h1.3M828 395.5h2.3M832 395.5h1.3M840 395.5h1.3M844 395.5h2.3M849 395.5h1.3M853 395.5h2.3M859 395.5h1.3M862 395.5h2.3M866.9 395.5h1.3M873.9 395.5h1.3M875.9 395.5h1.3M880.9 395.5h1.3" fill="none" stroke="#a1abd3" stroke-width="22.32"/>
<path d="M714.3 395.5h1.3M725.3 395.5h1.3M743.2 395.5h1.3M754.2 395.5h1.3M756.2 395.5h1.3M761.2 395.5h2.3M772.2 395.5h1.3M776.1 395.5h1.3M786.1 395.5h1.3M792.1 395.5h3.3M798.1 395.5h1.3M806.1 395.5h1.3M809.1 395.5h1.3M818.1 395.5h2.3M839 395.5h1.3M865 395.5h1.3M871.9 395.5h2.3M878.9 395.5h1.3M881.9 395.5h1.3" fill="none" stroke="#c1c7e2" stroke-width="22.32"/>
<path d="M683.3 395.5h1.3M711.3 395.5h1.3M724.3 395.5h1.3M744.2 395.5h1.3M755.2 395.5h1.3M757.2 395.5h1.3M767.2 395.5h2.3M771.2 395.5h1.3M778.1 395.5h1.3M780.1 395.5h1.3M783.1 395.5h1.3M785.1 395.5h1.3M799.1 395.5h1.3M802.1 395.5h1.3M804.1 395.5h2.3M813.1 395.5h2.3M822 395.5h6.3M831 395.5h1.3M833 395.5h1.3M835 395.5h1.3M837 395.5h1.3M857 395.5h2.3M861 395.5h1.3M864 395.5h1.3M870.9 395.5h1.3M877.9 395.5h1.3M882.9 395.5h1.3M888.9 395.5h1.3" fill="none" stroke="#e0e3f0" stroke-width="22.32"/>
<path d="M661.4 395.5h1.3M674.4 395.5h1.3M676.4 395.5h1.3M682.3 395.5h1.3M688.3 395.5h1.3M708.3 395.5h1.3M713.3 395.5h1.3M729.2 395.5h1.3M732.2 395.5h1.3M740.2 395.5h1.3M742.2 395.5h1.3M746.2 395.5h2.3M750.2 395.5h2.3M760.2 395.5h1.3M769.2 395.5h1.3M781.1 395.5h1.3M787.1 395.5h1.3M791.1 395.5h1.3M803.1 395.5h1.3M834 395.5h1.3M836 395.5h1.3M841 395.5h1.3M846 395.5h1.3M850 395.5h1.3M868.9 395.5h1.3M874.9 395.5h1.3M876.9 395.5h1.3" fill="none" stroke="#ffffff" stroke-width="22.32"/>
<path d="M670.4 395.5h1.3M677.4 395.5h1.3M693.3 395.5h1.3M696.3 395.5h1.3M698.3 395.5h1.3M702.3 395.5h1.3M712.3 395.5h1.3M717.3 395.5h1.3M719.3 395.5h1.3M721.3 395.5h1.3M727.3 395.5h2.3M733.2 395.5h2.3M739.2 395.5h1.3M745.2 395.5h1.3M748.2 395.5h1.3M752.2 395.5h1.3M777.1 395.5h1.3M782.1 395.5h1.3M810.1 395.5h1.3M820.1 395.5h1.3M838 395.5h1.3M843 395.5h1.3M860 395.5h1.3" fill="none" stroke="#fbdcde" stroke-width="22.32"/>
<path d="M659.4 395.5h2.3M664.4 395.5h1.3M671.4 395.5h3.3M678.4 395.5h1.3M681.4 395.5h1.3M684.3 395.5h1.3M687.3 395.5h1.3M691.3 395.5h1.3M694.3 395.5h1.3M699.3 395.5h1.3M703.3 395.5h4.3M715.3 395.5h1.3M718.3 395.5h1.3M726.3 395.5h1.3M731.2 395.5h1.3M735.2 395.5h4.3M749.2 395.5h1.3M753.2 395.5h1.3M758.2 395.5h1.3M763.2 395.5h4.3M770.2 395.5h1.3M779.1 395.5h1.3M789.1 395.5h1.3M796.1 395.5h1.3M807.1 395.5h1.3M821 395.5h1.3M847 395.5h1.3M856 395.5h1.3" fill="none" stroke="#f8babd" stroke-width="22.32"/>
<path d="M668.4 395.5h1.3M689.3 395.5h1.3M692.3 395.5h1.3M700.3 395.5h2.3M707.3 395.5h1.3M709.3 395.5h2.3M716.3 395.5h1.3M722.3 395.5h1.3M730.2 395.5h1.3M741.2 395.5h1.3M773.2 395.5h1.3M775.1 395.5h1.3M801.1 395.5h1.3M812.1 395.5h1.3M815.1 395.5h1.3M817.1 395.5h1.3M851 395.5h1.3" fill="none" stroke="#f4979c" stroke-width="22.32"/>
<path d="M658.4 395.5h1.3M665.4 395.5h2.3M669.4 395.5h1.3M675.4 395.5h1.3M685.3 395.5h2.3M723.3 395.5h1.3M790.1 395.5h1.3" fill="none" stroke="#f1757b" stroke-width="22.32"/>
<path d="M663.4 395.5h1.3M679.4 395.5h2.3M690.3 395.5h1.3M695.3 395.5h1.3M697.3 395.5h1.3M759.2 395.5h1.3" fill="none" stroke="#ed525a" stroke-width="22.32"/>
<path d="M662.4 395.5h1.3M667.4 395.5h1.3" fill="none" stroke="#ea2f39" stroke-width="22.32"/>
<path d="M839 417.6h1.3M851 417.6h1.3M858 417.6h2.3M861 417.6h3.3M866 417.6h2.3M876.9 417.6h1.3M881.9 417.6h1.3M883.9 417.6h6.3" fill="none" stroke="#4456a7" stroke-width="22.32"/>
<path d="M789.1 417.6h1.3M825 417.6h1.3M827 417.6h1.3M845 417.6h1.3M850 417.6h1.3M853 417.6h1.3M856 417.6h1.3M865 417.6h1.3M867.9 417.6h2.3M870.9 417.6h1.3M872.9 417.6h4.3M879.9 417.6h1.3M882.9 417.6h1.3" fill="none" stroke="#6372b6" stroke-width="22.32"/>
<path d="M792.1 417.6h1.3M810.1 417.6h1.3M814.1 417.6h1.3M816.1 417.6h1.3M844 417.6h1.3M846 417.6h2.3M849 417.6h1.3M855 417.6h1.3M857 417.6h1.3M860 417.6h1.3M869.9 417.6h1.3M871.9 417.6h1.3M878.9 417.6h1.3M880.9 417.6h1.3" fill="none" stroke="#828ec5" stroke-width="22.32"/>
<path d="M773.2 417.6h1.3M781.1 417.6h1.3M783.1 417.6h1.3M788.1 417.6h1.3M796.1 417.6h2.3M800.1 417.6h1.3M804.1 417.6h1.3M806.1 417.6h1.3M812.1 417.6h1.3M821 417.6h1.3M830 417.6h4.3M835 417.6h1.3M837 417.6h1.3M840 417.6h3.3M877.9 417.6h1.3" fill="none" stroke="#a1abd3" stroke-width="22.32"/>
<path d="M805.1 417.6h1.3M807.1 417.6h2.3M818.1 417.6h1.3M820.1 417.6h1.3M822 417.6h1.3M834 417.6h1.3M836 417.6h1.3M843 417.6h1.3M848 417.6h1.3M854 417.6h1.3M864 417.6h1.3" fill="none" stroke="#c1c7e2" stroke-width="22.32"/>
<path d="M729.2 417.6h1.3M746.2 417.6h1.3M753.2 417.6h2.3M760.2 417.6h1.3M764.2 417.6h1.3M767.2 417.6h1.3M772.2 417.6h1.3M777.1 417.6h1.3M779.1 417.6h2.3M782.1 417.6h1.3M784.1 417.6h1.3M787.1 417.6h1.3M790.1 417.6h1.3M794.1 417.6h1.3M802.1 417.6h2.3M813.1 417.6h1.3M815.1 417.6h1.3M819.1 417.6h1.3M823 417.6h2.3M826 417.6h1.3M829 417.6h1.3M838 417.6h1.3M852 417.6h1.3" fill="none" stroke="#e0e3f0" stroke-width="22.32"/>
<path d="M723.3 417.6h2.3M728.2 417.6h1.3M730.2 417.6h2.3M741.2 417.6h1.3M750.2 417.6h3.3M755.2 417.6h2.3M766.2 417.6h1.3M770.2 417.6h1.3M775.1 417.6h2.3M785.1 417.6h1.3M791.1 417.6h1.3M798.1 417.6h2.3M801.1 417.6h1.3M809.1 417.6h1.3M828 417.6h1.3" fill="none" stroke="#ffffff" stroke-width="22.32"/>
<path d="M708.3 417.6h2.3M727.3 417.6h1.3M732.2 417.6h1.3M736.2 417.6h1.3M745.2 417.6h1.3M748.2 417.6h1.3M761.2 417.6h3.3M769.2 417.6h1.3M786.1 417.6h1.3M793.1 417.6h1.3M811.1 417.6h1.3M817.1 417.6h1.3" fill="none" stroke="#fbdcde" stroke-width="22.32"/>
<path d="M673.4 417.6h1.3M682.3 417.6h3.3M700.3 417.6h1.3M703.3 417.6h1.3M705.3 417.6h3.3M711.3 417.6h1.3M713.3 417.6h3.3M719.3 417.6h2.3M726.3 417.6h1.3M733.2 417.6h2.3M738.2 417.6h3.3M744.2 417.6h1.3M747.2 417.6h1.3M759.2 417.6h1.3M765.2 417.6h1.3M771.2 417.6h1.3M774.1 417.6h1.3M778.1 417.6h1.3M795.1 417.6h1.3" fill="none" stroke="#f8babd" stroke-width="22.32"/>
<path d="M659.4 417.6h1.3M668.4 417.6h1.3M674.4 417.6h1.3M676.4 417.6h1.3M678.4 417.6h1.3M685.3 417.6h3.3M690.3 417.6h2.3M695.3 417.6h1.3M697.3 417.6h2.3M704.3 417.6h1.3M712.3 417.6h1.3M718.3 417.6h1.3M721.3 417.6h2.3M725.3 417.6h1.3M735.2 417.6h1.3M742.2 417.6h2.3M757.2 417.6h2.3M768.2 417.6h1.3" fill="none" stroke="#f4979c" stroke-width="22.32"/>
<path d="M661.4 417.6h1.3M664.4 417.6h1.3M666.4 417.6h1.3M670.4 417.6h1.3M672.4 417.6h1.3M689.3 417.6h1.3M692.3 417.6h2.3M696.3 417.6h1.3M699.3 417.6h1.3M702.3 417.6h1.3M710.3 417.6h1.3M717.3 417.6h1.3M737.2 417.6h1.3M749.2 417.6h1.3" fill="none" stroke="#f1757b" stroke-width="22.32"/>
<path d="M667.4 417.6h1.3M669.4 417.6h1.3M677.4 417.6h1.3M679.4 417.6h1.3M688.3 417.6h1.3" fill="none" stroke="#ed525a" stroke-width="22.32"/>
<path d="M658.4 417.6h1.3M660.4 417.6h1.3M662.4 417.6h2.3M665.4 417.6h1.3M671.4 417.6h1.3M675.4 417.6h1.3M680.4 417.6h2.3M694.3 417.6h1.3M701.3 417.6h1.3M716.3 417.6h1.3" fill="none" stroke="#ea2f39" stroke-width="22.32"/>
<rect x="658.4" y="340.2" width="231.5" height="88.5" fill="none" stroke="#000" stroke-width="2"/>
<text x="648.9" y="355.8" font-size="24.9" text-anchor="end" textLength="103.04" lengthAdjust="spacingAndGlyphs">H3K27ac</text>
<text x="956.5" y="355.8" font-size="24.9" text-anchor="end" textLength="48.75" lengthAdjust="spacingAndGlyphs">0.71</text>
<text x="648.9" y="380.15" font-size="24.9" text-anchor="end" textLength="111.38" lengthAdjust="spacingAndGlyphs">H3K4me3</text>
<text x="956.5" y="380.15" font-size="24.9" text-anchor="end" textLength="63.38" lengthAdjust="spacingAndGlyphs">−0.08</text>
<text x="648.9" y="404.5" font-size="24.9" text-anchor="end" textLength="125.31" lengthAdjust="spacingAndGlyphs">H3K27me3</text>
<text x="956.5" y="404.5" font-size="24.9" text-anchor="end" textLength="63.38" lengthAdjust="spacingAndGlyphs">−0.45</text>
<text x="648.9" y="428.85" font-size="24.9" text-anchor="end" textLength="111.38" lengthAdjust="spacingAndGlyphs">H3K9me3</text>
<text x="956.5" y="428.85" font-size="24.9" text-anchor="end" textLength="63.38" lengthAdjust="spacingAndGlyphs">−0.78</text>
<text x="963" y="330.7" font-size="24.9" text-anchor="end" textLength="45.94" lengthAdjust="spacingAndGlyphs">Cor.</text>
<text x="554.2" y="463.5" font-size="24.9" textLength="403" lengthAdjust="spacingAndGlyphs">CoRE sorted by Δcompartment rank</text>
<path d="M1155.5 351.4h1.3M1157.5 351.4h4.3M1167.5 351.4h1.3M1171.5 351.4h3.3M1198.4 351.4h1.3M1201.4 351.4h1.3M1222.4 351.4h1.3M1228.3 351.4h1.3" fill="none" stroke="#4456a7" stroke-width="22.37"/>
<path d="M1156.5 351.4h1.3M1174.5 351.4h1.3M1178.5 351.4h1.3M1181.4 351.4h1.3M1185.4 351.4h2.3M1192.4 351.4h1.3M1195.4 351.4h1.3M1207.4 351.4h1.3M1214.4 351.4h1.3M1218.4 351.4h1.3M1223.4 351.4h1.3M1227.3 351.4h1.3M1245.3 351.4h1.3" fill="none" stroke="#6372b6" stroke-width="22.37"/>
<path d="M1161.5 351.4h2.3M1164.5 351.4h3.3M1169.5 351.4h2.3M1175.5 351.4h2.3M1179.4 351.4h2.3M1187.4 351.4h2.3M1191.4 351.4h1.3M1193.4 351.4h1.3M1202.4 351.4h1.3M1204.4 351.4h1.3M1216.4 351.4h1.3M1219.4 351.4h1.3M1231.3 351.4h1.3M1241.3 351.4h1.3M1248.3 351.4h1.3" fill="none" stroke="#828ec5" stroke-width="22.37"/>
<path d="M1163.5 351.4h1.3M1168.5 351.4h1.3M1177.5 351.4h1.3M1183.4 351.4h1.3M1189.4 351.4h2.3M1196.4 351.4h2.3M1199.4 351.4h1.3M1203.4 351.4h1.3M1206.4 351.4h1.3M1213.4 351.4h1.3M1217.4 351.4h1.3M1220.4 351.4h1.3M1230.3 351.4h1.3M1246.3 351.4h1.3M1251.3 351.4h1.3M1267.3 351.4h1.3M1298.2 351.4h1.3M1313.2 351.4h1.3" fill="none" stroke="#a1abd3" stroke-width="22.37"/>
<path d="M1184.4 351.4h1.3M1194.4 351.4h1.3M1205.4 351.4h1.3M1208.4 351.4h2.3M1212.4 351.4h1.3M1215.4 351.4h1.3M1224.4 351.4h1.3M1229.3 351.4h1.3M1234.3 351.4h2.3M1249.3 351.4h1.3M1259.3 351.4h2.3M1263.3 351.4h1.3M1272.2 351.4h1.3M1274.2 351.4h2.3M1326.1 351.4h1.3" fill="none" stroke="#c1c7e2" stroke-width="22.37"/>
<path d="M1182.4 351.4h1.3M1200.4 351.4h1.3M1210.4 351.4h2.3M1221.4 351.4h1.3M1226.3 351.4h1.3M1232.3 351.4h1.3M1236.3 351.4h1.3M1238.3 351.4h3.3M1244.3 351.4h1.3M1254.3 351.4h2.3M1257.3 351.4h1.3M1262.3 351.4h1.3M1266.3 351.4h1.3M1268.3 351.4h3.3M1299.2 351.4h1.3M1321.1 351.4h1.3" fill="none" stroke="#e0e3f0" stroke-width="22.37"/>
<path d="M1225.3 351.4h1.3M1233.3 351.4h1.3M1242.3 351.4h2.3M1247.3 351.4h1.3M1250.3 351.4h1.3M1253.3 351.4h1.3M1256.3 351.4h1.3M1279.2 351.4h3.3M1283.2 351.4h2.3M1286.2 351.4h1.3M1291.2 351.4h3.3M1295.2 351.4h1.3M1303.2 351.4h1.3M1306.2 351.4h1.3M1309.2 351.4h1.3M1314.2 351.4h1.3M1316.2 351.4h1.3M1328.1 351.4h1.3M1330.1 351.4h1.3M1349.1 351.4h2.3M1367 351.4h1.3" fill="none" stroke="#ffffff" stroke-width="22.37"/>
<path d="M1237.3 351.4h1.3M1252.3 351.4h1.3M1258.3 351.4h1.3M1261.3 351.4h1.3M1264.3 351.4h1.3M1276.2 351.4h1.3M1278.2 351.4h1.3M1282.2 351.4h1.3M1285.2 351.4h1.3M1287.2 351.4h2.3M1290.2 351.4h1.3M1296.2 351.4h1.3M1300.2 351.4h3.3M1305.2 351.4h1.3M1310.2 351.4h3.3M1317.2 351.4h1.3M1322.1 351.4h2.3M1342.1 351.4h1.3M1352.1 351.4h3.3M1360.1 351.4h1.3" fill="none" stroke="#fbdcde" stroke-width="22.37"/>
<path d="M1265.3 351.4h1.3M1271.2 351.4h1.3M1273.2 351.4h1.3M1277.2 351.4h1.3M1294.2 351.4h1.3M1304.2 351.4h1.3M1308.2 351.4h1.3M1331.1 351.4h1.3M1333.1 351.4h2.3M1336.1 351.4h2.3M1340.1 351.4h1.3M1344.1 351.4h1.3M1358.1 351.4h1.3M1363.1 351.4h1.3M1374 351.4h1.3" fill="none" stroke="#f8babd" stroke-width="22.37"/>
<path d="M1289.2 351.4h1.3M1297.2 351.4h1.3M1315.2 351.4h1.3M1318.1 351.4h2.3M1324.1 351.4h2.3M1327.1 351.4h1.3M1329.1 351.4h1.3M1335.1 351.4h1.3M1345.1 351.4h1.3M1347.1 351.4h1.3M1359.1 351.4h1.3M1366 351.4h1.3M1369 351.4h2.3M1379 351.4h1.3" fill="none" stroke="#f4979c" stroke-width="22.37"/>
<path d="M1320.1 351.4h1.3M1332.1 351.4h1.3M1339.1 351.4h1.3M1343.1 351.4h1.3M1346.1 351.4h1.3M1348.1 351.4h1.3M1351.1 351.4h1.3M1356.1 351.4h1.3M1361.1 351.4h1.3M1371 351.4h2.3M1378 351.4h1.3M1385 351.4h1.3" fill="none" stroke="#f1757b" stroke-width="22.37"/>
<path d="M1307.2 351.4h1.3M1338.1 351.4h1.3M1355.1 351.4h1.3M1357.1 351.4h1.3M1365 351.4h1.3M1375 351.4h1.3" fill="none" stroke="#ed525a" stroke-width="22.37"/>
<path d="M1341.1 351.4h1.3M1362.1 351.4h1.3M1364 351.4h1.3M1368 351.4h1.3M1373 351.4h1.3M1376 351.4h2.3M1380 351.4h5.3M1386 351.4h1.3" fill="none" stroke="#ea2f39" stroke-width="22.37"/>
<path d="M1155.5 373.6h1.3M1169.5 373.6h3.3M1173.5 373.6h1.3M1184.4 373.6h1.3M1187.4 373.6h1.3M1194.4 373.6h2.3M1201.4 373.6h1.3M1203.4 373.6h1.3M1205.4 373.6h1.3M1208.4 373.6h1.3M1211.4 373.6h1.3M1222.4 373.6h1.3M1228.3 373.6h1.3M1252.3 373.6h1.3M1259.3 373.6h1.3M1281.2 373.6h1.3M1309.2 373.6h1.3M1314.2 373.6h1.3M1364 373.6h1.3" fill="none" stroke="#4456a7" stroke-width="22.37"/>
<path d="M1158.5 373.6h1.3M1167.5 373.6h1.3M1199.4 373.6h1.3M1212.4 373.6h1.3M1243.3 373.6h1.3M1265.3 373.6h1.3M1273.2 373.6h2.3M1376 373.6h1.3M1379 373.6h1.3" fill="none" stroke="#6372b6" stroke-width="22.37"/>
<path d="M1177.5 373.6h1.3M1185.4 373.6h1.3M1188.4 373.6h1.3M1196.4 373.6h1.3M1198.4 373.6h1.3M1200.4 373.6h1.3M1207.4 373.6h1.3M1231.3 373.6h1.3M1237.3 373.6h1.3M1247.3 373.6h2.3M1270.3 373.6h1.3M1302.2 373.6h1.3M1313.2 373.6h1.3M1318.1 373.6h1.3M1362.1 373.6h1.3M1370 373.6h1.3M1382 373.6h2.3" fill="none" stroke="#828ec5" stroke-width="22.37"/>
<path d="M1159.5 373.6h1.3M1163.5 373.6h1.3M1175.5 373.6h1.3M1183.4 373.6h1.3M1210.4 373.6h1.3M1214.4 373.6h1.3M1226.3 373.6h1.3M1262.3 373.6h1.3M1266.3 373.6h1.3M1279.2 373.6h1.3M1282.2 373.6h1.3M1285.2 373.6h1.3M1294.2 373.6h1.3M1308.2 373.6h1.3M1311.2 373.6h1.3M1315.2 373.6h1.3M1330.1 373.6h1.3M1347.1 373.6h1.3M1359.1 373.6h1.3" fill="none" stroke="#a1abd3" stroke-width="22.37"/>
<path d="M1157.5 373.6h1.3M1161.5 373.6h1.3M1174.5 373.6h1.3M1176.5 373.6h1.3M1180.4 373.6h1.3M1191.4 373.6h1.3M1202.4 373.6h1.3M1225.3 373.6h1.3M1234.3 373.6h1.3M1242.3 373.6h1.3M1244.3 373.6h1.3M1269.3 373.6h1.3M1295.2 373.6h1.3M1319.1 373.6h1.3M1374 373.6h1.3" fill="none" stroke="#c1c7e2" stroke-width="22.37"/>
<path d="M1178.5 373.6h1.3M1193.4 373.6h1.3M1204.4 373.6h1.3M1206.4 373.6h1.3M1213.4 373.6h1.3M1238.3 373.6h1.3M1241.3 373.6h1.3M1246.3 373.6h1.3M1257.3 373.6h1.3M1283.2 373.6h1.3M1286.2 373.6h1.3M1291.2 373.6h1.3M1297.2 373.6h1.3M1301.2 373.6h1.3M1306.2 373.6h1.3M1317.2 373.6h1.3M1333.1 373.6h1.3M1343.1 373.6h1.3M1360.1 373.6h1.3M1363.1 373.6h1.3M1365 373.6h1.3M1384 373.6h1.3M1386 373.6h1.3" fill="none" stroke="#e0e3f0" stroke-width="22.37"/>
<path d="M1156.5 373.6h1.3M1160.5 373.6h1.3M1181.4 373.6h1.3M1218.4 373.6h1.3M1221.4 373.6h1.3M1229.3 373.6h1.3M1239.3 373.6h1.3M1261.3 373.6h1.3M1267.3 373.6h2.3M1280.2 373.6h1.3M1290.2 373.6h1.3M1293.2 373.6h1.3M1296.2 373.6h1.3M1298.2 373.6h3.3M1310.2 373.6h1.3M1325.1 373.6h1.3M1331.1 373.6h1.3M1337.1 373.6h1.3M1340.1 373.6h1.3M1357.1 373.6h1.3M1369 373.6h1.3M1375 373.6h1.3" fill="none" stroke="#ffffff" stroke-width="22.37"/>
<path d="M1164.5 373.6h1.3M1168.5 373.6h1.3M1172.5 373.6h1.3M1182.4 373.6h1.3M1189.4 373.6h2.3M1192.4 373.6h1.3M1197.4 373.6h1.3M1209.4 373.6h1.3M1215.4 373.6h3.3M1220.4 373.6h1.3M1232.3 373.6h1.3M1235.3 373.6h1.3M1251.3 373.6h1.3M1253.3 373.6h2.3M1256.3 373.6h1.3M1258.3 373.6h1.3M1284.2 373.6h1.3M1287.2 373.6h2.3M1303.2 373.6h1.3M1305.2 373.6h1.3M1307.2 373.6h1.3M1322.1 373.6h1.3M1341.1 373.6h1.3M1346.1 373.6h1.3M1348.1 373.6h1.3M1352.1 373.6h1.3M1355.1 373.6h2.3M1361.1 373.6h1.3M1368 373.6h1.3M1385 373.6h1.3" fill="none" stroke="#fbdcde" stroke-width="22.37"/>
<path d="M1162.5 373.6h1.3M1186.4 373.6h1.3M1223.4 373.6h1.3M1236.3 373.6h1.3M1240.3 373.6h1.3M1245.3 373.6h1.3M1278.2 373.6h1.3M1289.2 373.6h1.3M1292.2 373.6h1.3M1320.1 373.6h2.3M1326.1 373.6h1.3M1335.1 373.6h1.3M1349.1 373.6h1.3M1380 373.6h1.3" fill="none" stroke="#f8babd" stroke-width="22.37"/>
<path d="M1165.5 373.6h2.3M1219.4 373.6h1.3M1224.4 373.6h1.3M1250.3 373.6h1.3M1260.3 373.6h1.3M1272.2 373.6h1.3M1276.2 373.6h1.3M1304.2 373.6h1.3M1312.2 373.6h1.3M1324.1 373.6h1.3M1332.1 373.6h1.3M1351.1 373.6h1.3M1354.1 373.6h1.3M1358.1 373.6h1.3M1366 373.6h2.3M1372 373.6h1.3" fill="none" stroke="#f4979c" stroke-width="22.37"/>
<path d="M1179.4 373.6h1.3M1263.3 373.6h1.3M1328.1 373.6h2.3M1334.1 373.6h1.3M1336.1 373.6h1.3M1344.1 373.6h2.3M1353.1 373.6h1.3M1377 373.6h2.3M1381 373.6h1.3" fill="none" stroke="#f1757b" stroke-width="22.37"/>
<path d="M1227.3 373.6h1.3M1233.3 373.6h1.3M1255.3 373.6h1.3M1264.3 373.6h1.3M1275.2 373.6h1.3M1316.2 373.6h1.3M1323.1 373.6h1.3M1339.1 373.6h1.3M1350.1 373.6h1.3M1373 373.6h1.3" fill="none" stroke="#ed525a" stroke-width="22.37"/>
<path d="M1230.3 373.6h1.3M1249.3 373.6h1.3M1271.2 373.6h1.3M1277.2 373.6h1.3M1327.1 373.6h1.3M1338.1 373.6h1.3M1342.1 373.6h1.3M1371 373.6h1.3" fill="none" stroke="#ea2f39" stroke-width="22.37"/>
<path d="M1337.1 395.7h1.3M1340.1 395.7h1.3M1345.1 395.7h1.3M1365 395.7h1.3M1383 395.7h1.3" fill="none" stroke="#6372b6" stroke-width="22.37"/>
<path d="M1298.2 395.7h1.3M1307.2 395.7h1.3M1319.1 395.7h1.3M1349.1 395.7h3.3M1361.1 395.7h2.3M1376 395.7h1.3M1385 395.7h1.3" fill="none" stroke="#828ec5" stroke-width="22.37"/>
<path d="M1180.4 395.7h1.3M1212.4 395.7h1.3M1263.3 395.7h1.3M1267.3 395.7h2.3M1276.2 395.7h1.3M1310.2 395.7h2.3M1325.1 395.7h1.3M1334.1 395.7h1.3M1348.1 395.7h1.3M1357.1 395.7h2.3M1366 395.7h2.3M1371 395.7h1.3M1374 395.7h1.3M1380 395.7h2.3M1384 395.7h1.3" fill="none" stroke="#a1abd3" stroke-width="22.37"/>
<path d="M1266.3 395.7h1.3M1274.2 395.7h1.3M1281.2 395.7h1.3M1288.2 395.7h2.3M1295.2 395.7h1.3M1299.2 395.7h1.3M1308.2 395.7h1.3M1313.2 395.7h1.3M1322.1 395.7h1.3M1328.1 395.7h1.3M1330.1 395.7h1.3M1342.1 395.7h1.3M1346.1 395.7h1.3M1364 395.7h1.3M1369 395.7h2.3M1377 395.7h1.3M1382 395.7h1.3M1386 395.7h1.3" fill="none" stroke="#c1c7e2" stroke-width="22.37"/>
<path d="M1168.5 395.7h1.3M1183.4 395.7h1.3M1186.4 395.7h1.3M1198.4 395.7h1.3M1224.4 395.7h1.3M1226.3 395.7h1.3M1233.3 395.7h1.3M1237.3 395.7h1.3M1244.3 395.7h1.3M1247.3 395.7h1.3M1251.3 395.7h1.3M1257.3 395.7h1.3M1261.3 395.7h1.3M1270.3 395.7h1.3M1272.2 395.7h1.3M1280.2 395.7h1.3M1283.2 395.7h1.3M1287.2 395.7h1.3M1290.2 395.7h1.3M1303.2 395.7h1.3M1305.2 395.7h1.3M1309.2 395.7h1.3M1318.1 395.7h1.3M1320.1 395.7h1.3M1323.1 395.7h1.3M1329.1 395.7h1.3M1332.1 395.7h1.3M1335.1 395.7h2.3M1343.1 395.7h2.3M1352.1 395.7h1.3M1354.1 395.7h2.3M1359.1 395.7h2.3M1363.1 395.7h1.3M1368 395.7h1.3M1375 395.7h1.3M1378 395.7h1.3" fill="none" stroke="#e0e3f0" stroke-width="22.37"/>
<path d="M1161.5 395.7h1.3M1169.5 395.7h1.3M1181.4 395.7h1.3M1192.4 395.7h1.3M1197.4 395.7h1.3M1200.4 395.7h2.3M1213.4 395.7h1.3M1242.3 395.7h1.3M1246.3 395.7h1.3M1253.3 395.7h1.3M1259.3 395.7h1.3M1262.3 395.7h1.3M1271.2 395.7h1.3M1273.2 395.7h1.3M1275.2 395.7h1.3M1277.2 395.7h1.3M1282.2 395.7h1.3M1286.2 395.7h1.3M1291.2 395.7h1.3M1296.2 395.7h1.3M1300.2 395.7h3.3M1304.2 395.7h1.3M1312.2 395.7h1.3M1314.2 395.7h1.3M1316.2 395.7h2.3M1321.1 395.7h1.3M1324.1 395.7h1.3M1326.1 395.7h1.3M1333.1 395.7h1.3M1339.1 395.7h1.3M1341.1 395.7h1.3M1372 395.7h2.3" fill="none" stroke="#ffffff" stroke-width="22.37"/>
<path d="M1163.5 395.7h2.3M1174.5 395.7h1.3M1178.5 395.7h1.3M1188.4 395.7h1.3M1199.4 395.7h1.3M1203.4 395.7h1.3M1206.4 395.7h1.3M1208.4 395.7h1.3M1222.4 395.7h1.3M1229.3 395.7h2.3M1232.3 395.7h1.3M1234.3 395.7h1.3M1240.3 395.7h2.3M1250.3 395.7h1.3M1254.3 395.7h1.3M1278.2 395.7h2.3M1285.2 395.7h1.3M1292.2 395.7h2.3M1306.2 395.7h1.3M1315.2 395.7h1.3M1338.1 395.7h1.3M1347.1 395.7h1.3M1353.1 395.7h1.3M1379 395.7h1.3" fill="none" stroke="#fbdcde" stroke-width="22.37"/>
<path d="M1162.5 395.7h1.3M1165.5 395.7h1.3M1170.5 395.7h4.3M1177.5 395.7h1.3M1179.4 395.7h1.3M1182.4 395.7h1.3M1185.4 395.7h1.3M1187.4 395.7h1.3M1191.4 395.7h1.3M1193.4 395.7h2.3M1196.4 395.7h1.3M1202.4 395.7h1.3M1204.4 395.7h1.3M1210.4 395.7h1.3M1214.4 395.7h1.3M1217.4 395.7h1.3M1221.4 395.7h1.3M1223.4 395.7h1.3M1227.3 395.7h1.3M1235.3 395.7h2.3M1245.3 395.7h1.3M1248.3 395.7h1.3M1252.3 395.7h1.3M1260.3 395.7h1.3M1269.3 395.7h1.3M1327.1 395.7h1.3M1331.1 395.7h1.3M1356.1 395.7h1.3" fill="none" stroke="#f8babd" stroke-width="22.37"/>
<path d="M1155.5 395.7h2.3M1166.5 395.7h1.3M1176.5 395.7h1.3M1184.4 395.7h1.3M1189.4 395.7h2.3M1195.4 395.7h1.3M1205.4 395.7h1.3M1215.4 395.7h1.3M1219.4 395.7h2.3M1231.3 395.7h1.3M1249.3 395.7h1.3M1255.3 395.7h2.3M1265.3 395.7h1.3M1284.2 395.7h1.3" fill="none" stroke="#f4979c" stroke-width="22.37"/>
<path d="M1157.5 395.7h2.3M1167.5 395.7h1.3M1175.5 395.7h1.3M1209.4 395.7h1.3M1211.4 395.7h1.3M1218.4 395.7h1.3M1225.3 395.7h1.3M1238.3 395.7h2.3M1243.3 395.7h1.3M1264.3 395.7h1.3M1294.2 395.7h1.3" fill="none" stroke="#f1757b" stroke-width="22.37"/>
<path d="M1160.5 395.7h1.3M1228.3 395.7h1.3M1258.3 395.7h1.3M1297.2 395.7h1.3" fill="none" stroke="#ed525a" stroke-width="22.37"/>
<path d="M1159.5 395.7h1.3M1207.4 395.7h1.3M1216.4 395.7h1.3" fill="none" stroke="#ea2f39" stroke-width="22.37"/>
<path d="M1346.1 417.9h1.3M1357.1 417.9h1.3M1364 417.9h1.3M1368 417.9h1.3M1371 417.9h1.3M1373 417.9h1.3M1375 417.9h1.3M1379 417.9h2.3M1382 417.9h5.3" fill="none" stroke="#4456a7" stroke-width="22.37"/>
<path d="M1303.2 417.9h1.3M1311.2 417.9h1.3M1314.2 417.9h1.3M1329.1 417.9h1.3M1349.1 417.9h1.3M1352.1 417.9h1.3M1355.1 417.9h1.3M1359.1 417.9h1.3M1361.1 417.9h1.3M1365 417.9h1.3M1367 417.9h1.3M1370 417.9h1.3M1376 417.9h1.3M1378 417.9h1.3M1381 417.9h1.3" fill="none" stroke="#6372b6" stroke-width="22.37"/>
<path d="M1288.2 417.9h1.3M1308.2 417.9h1.3M1324.1 417.9h1.3M1330.1 417.9h1.3M1337.1 417.9h2.3M1341.1 417.9h3.3M1348.1 417.9h1.3M1351.1 417.9h1.3M1356.1 417.9h1.3M1366 417.9h1.3M1372 417.9h1.3" fill="none" stroke="#828ec5" stroke-width="22.37"/>
<path d="M1276.2 417.9h1.3M1285.2 417.9h2.3M1293.2 417.9h1.3M1301.2 417.9h1.3M1305.2 417.9h1.3M1320.1 417.9h1.3M1322.1 417.9h1.3M1325.1 417.9h1.3M1328.1 417.9h1.3M1331.1 417.9h1.3M1333.1 417.9h1.3M1335.1 417.9h1.3M1340.1 417.9h1.3M1344.1 417.9h2.3M1347.1 417.9h1.3M1350.1 417.9h1.3M1353.1 417.9h1.3M1360.1 417.9h1.3M1362.1 417.9h1.3M1374 417.9h1.3M1377 417.9h1.3" fill="none" stroke="#a1abd3" stroke-width="22.37"/>
<path d="M1192.4 417.9h1.3M1232.3 417.9h1.3M1258.3 417.9h1.3M1260.3 417.9h1.3M1273.2 417.9h1.3M1282.2 417.9h1.3M1289.2 417.9h2.3M1292.2 417.9h1.3M1294.2 417.9h4.3M1302.2 417.9h1.3M1306.2 417.9h1.3M1310.2 417.9h1.3M1312.2 417.9h1.3M1316.2 417.9h3.3M1323.1 417.9h1.3M1327.1 417.9h1.3M1332.1 417.9h1.3M1334.1 417.9h1.3M1339.1 417.9h1.3M1354.1 417.9h1.3M1369 417.9h1.3" fill="none" stroke="#c1c7e2" stroke-width="22.37"/>
<path d="M1253.3 417.9h1.3M1261.3 417.9h3.3M1266.3 417.9h1.3M1277.2 417.9h1.3M1281.2 417.9h1.3M1283.2 417.9h1.3M1287.2 417.9h1.3M1291.2 417.9h1.3M1298.2 417.9h1.3M1307.2 417.9h1.3M1309.2 417.9h1.3M1313.2 417.9h1.3M1315.2 417.9h1.3M1319.1 417.9h1.3M1321.1 417.9h1.3M1336.1 417.9h1.3M1358.1 417.9h1.3M1363.1 417.9h1.3" fill="none" stroke="#e0e3f0" stroke-width="22.37"/>
<path d="M1217.4 417.9h1.3M1223.4 417.9h1.3M1244.3 417.9h1.3M1250.3 417.9h2.3M1256.3 417.9h1.3M1265.3 417.9h1.3M1269.3 417.9h2.3M1272.2 417.9h1.3M1278.2 417.9h1.3M1280.2 417.9h1.3M1284.2 417.9h1.3M1299.2 417.9h1.3M1326.1 417.9h1.3" fill="none" stroke="#ffffff" stroke-width="22.37"/>
<path d="M1180.4 417.9h1.3M1190.4 417.9h1.3M1211.4 417.9h1.3M1214.4 417.9h1.3M1226.3 417.9h1.3M1230.3 417.9h2.3M1233.3 417.9h1.3M1236.3 417.9h2.3M1239.3 417.9h1.3M1242.3 417.9h1.3M1245.3 417.9h3.3M1252.3 417.9h1.3M1254.3 417.9h2.3M1257.3 417.9h1.3M1259.3 417.9h1.3M1264.3 417.9h1.3M1267.3 417.9h1.3M1271.2 417.9h1.3M1279.2 417.9h1.3M1300.2 417.9h1.3M1304.2 417.9h1.3" fill="none" stroke="#fbdcde" stroke-width="22.37"/>
<path d="M1164.5 417.9h1.3M1179.4 417.9h1.3M1199.4 417.9h3.3M1205.4 417.9h1.3M1208.4 417.9h1.3M1210.4 417.9h1.3M1219.4 417.9h1.3M1221.4 417.9h2.3M1225.3 417.9h1.3M1227.3 417.9h3.3M1234.3 417.9h1.3M1240.3 417.9h1.3M1248.3 417.9h1.3M1268.3 417.9h1.3" fill="none" stroke="#f8babd" stroke-width="22.37"/>
<path d="M1156.5 417.9h1.3M1165.5 417.9h1.3M1170.5 417.9h1.3M1173.5 417.9h1.3M1175.5 417.9h1.3M1191.4 417.9h1.3M1194.4 417.9h1.3M1197.4 417.9h2.3M1203.4 417.9h2.3M1207.4 417.9h1.3M1209.4 417.9h1.3M1213.4 417.9h1.3M1216.4 417.9h1.3M1220.4 417.9h1.3M1224.4 417.9h1.3M1235.3 417.9h1.3M1238.3 417.9h1.3M1241.3 417.9h1.3M1243.3 417.9h1.3M1274.2 417.9h2.3" fill="none" stroke="#f4979c" stroke-width="22.37"/>
<path d="M1155.5 417.9h1.3M1159.5 417.9h1.3M1161.5 417.9h2.3M1166.5 417.9h1.3M1168.5 417.9h1.3M1176.5 417.9h2.3M1183.4 417.9h1.3M1185.4 417.9h2.3M1188.4 417.9h1.3M1193.4 417.9h1.3M1195.4 417.9h1.3M1202.4 417.9h1.3M1206.4 417.9h1.3M1212.4 417.9h1.3M1215.4 417.9h1.3M1218.4 417.9h1.3M1249.3 417.9h1.3" fill="none" stroke="#f1757b" stroke-width="22.37"/>
<path d="M1157.5 417.9h1.3M1163.5 417.9h1.3M1167.5 417.9h1.3M1169.5 417.9h1.3M1171.5 417.9h1.3M1178.5 417.9h1.3M1181.4 417.9h2.3M1187.4 417.9h1.3" fill="none" stroke="#ed525a" stroke-width="22.37"/>
<path d="M1158.5 417.9h1.3M1160.5 417.9h1.3M1172.5 417.9h1.3M1174.5 417.9h1.3M1184.4 417.9h1.3M1189.4 417.9h1.3M1196.4 417.9h1.3" fill="none" stroke="#ea2f39" stroke-width="22.37"/>
<rect x="1155.5" y="340.3" width="231.5" height="88.7" fill="none" stroke="#000" stroke-width="2"/>
<text x="1147.2" y="355.9" font-size="24.9" text-anchor="end" textLength="103.04" lengthAdjust="spacingAndGlyphs">H3K27ac</text>
<text x="1460.4" y="355.9" font-size="24.9" text-anchor="end" textLength="48.75" lengthAdjust="spacingAndGlyphs">0.78</text>
<text x="1147.2" y="380.25" font-size="24.9" text-anchor="end" textLength="111.38" lengthAdjust="spacingAndGlyphs">H3K4me3</text>
<text x="1460.4" y="380.25" font-size="24.9" text-anchor="end" textLength="48.75" lengthAdjust="spacingAndGlyphs">0.31</text>
<text x="1147.2" y="404.6" font-size="24.9" text-anchor="end" textLength="125.31" lengthAdjust="spacingAndGlyphs">H3K27me3</text>
<text x="1460.4" y="404.6" font-size="24.9" text-anchor="end" textLength="63.38" lengthAdjust="spacingAndGlyphs">−0.37</text>
<text x="1147.2" y="428.95" font-size="24.9" text-anchor="end" textLength="111.38" lengthAdjust="spacingAndGlyphs">H3K9me3</text>
<text x="1460.4" y="428.95" font-size="24.9" text-anchor="end" textLength="63.38" lengthAdjust="spacingAndGlyphs">−0.77</text>
<text x="1466.9" y="330.8" font-size="24.9" text-anchor="end" textLength="45.94" lengthAdjust="spacingAndGlyphs">Cor.</text>
<text x="1070.4" y="463.6" font-size="24.9" textLength="403.6" lengthAdjust="spacingAndGlyphs">CoRE sorted by Δcompartment rank</text>
<defs><linearGradient id="gb" x1="0" y1="0" x2="0" y2="1"><stop offset="0" stop-color="#e8202a"/><stop offset="0.12" stop-color="#e8202a"/><stop offset="0.5" stop-color="#fff"/><stop offset="0.58" stop-color="#fff"/><stop offset="0.9" stop-color="#3a50a1"/><stop offset="1" stop-color="#3a50a1"/></linearGradient></defs>
<rect x="1504.5" y="322.5" width="30.5" height="115.8" fill="url(#gb)" stroke="#000" stroke-width="2"/>
<text x="1541.5" y="343.4" font-size="24.9" textLength="13.93" lengthAdjust="spacingAndGlyphs">2</text>
<text x="1541.5" y="387.6" font-size="24.9" textLength="13.93" lengthAdjust="spacingAndGlyphs">0</text>
<text x="1541.5" y="432.2" font-size="24.9" textLength="28.56" lengthAdjust="spacingAndGlyphs">−2</text>
<text x="1491.5" y="382.5" font-size="24.9" text-anchor="middle" transform="rotate(-90 1491.5 382.5)" textLength="121.15" lengthAdjust="spacingAndGlyphs">ΔChIP-seq</text>
</g>
<g id="panel_c">
<text transform="translate(1553.86 17.4) scale(1.25 1)" font-size="30" font-weight="bold" stroke="#000" stroke-width="1.2">c</text>
<path d="M1652.3 37.9H1657.8V371H1652.3M1652.3 304.38H1657.8M1652.3 237.76H1657.8M1652.3 171.14H1657.8M1652.3 104.52H1657.8" fill="none" stroke="#000" stroke-width="2"/>
<path d="M1668.6 413.6V408.1H1920.6V413.6M1731.6 408.1v5.5M1794.6 408.1v5.5M1857.6 408.1v5.5" fill="none" stroke="#000" stroke-width="2"/>
<text x="1646.5" y="378.9" font-size="24.9" text-anchor="end" textLength="13.93" lengthAdjust="spacingAndGlyphs">0</text>
<text x="1646.5" y="311.82" font-size="24.9" text-anchor="end" textLength="27.86" lengthAdjust="spacingAndGlyphs">20</text>
<text x="1646.5" y="244.74" font-size="24.9" text-anchor="end" textLength="27.86" lengthAdjust="spacingAndGlyphs">40</text>
<text x="1646.5" y="177.66" font-size="24.9" text-anchor="end" textLength="27.86" lengthAdjust="spacingAndGlyphs">60</text>
<text x="1646.5" y="110.58" font-size="24.9" text-anchor="end" textLength="27.86" lengthAdjust="spacingAndGlyphs">80</text>
<text x="1646.5" y="43.5" font-size="24.9" text-anchor="end" textLength="41.79" lengthAdjust="spacingAndGlyphs">100</text>
<text x="1667.1" y="437.6" font-size="24.9" text-anchor="middle" textLength="13.93" lengthAdjust="spacingAndGlyphs">0</text>
<text x="1730.1" y="437.6" font-size="24.9" text-anchor="middle" textLength="27.86" lengthAdjust="spacingAndGlyphs">10</text>
<text x="1793.1" y="437.6" font-size="24.9" text-anchor="middle" textLength="27.86" lengthAdjust="spacingAndGlyphs">20</text>
<text x="1856.1" y="437.6" font-size="24.9" text-anchor="middle" textLength="27.86" lengthAdjust="spacingAndGlyphs">30</text>
<text x="1919.1" y="437.6" font-size="24.9" text-anchor="middle" textLength="27.86" lengthAdjust="spacingAndGlyphs">40</text>
<text x="1796.5" y="469.9" font-size="24.9" text-anchor="middle" textLength="229.66" lengthAdjust="spacingAndGlyphs">Chr. with CoREs (%)</text>
<text x="1598" y="313.5" font-size="24.9" transform="rotate(-90 1598 313.5)" textLength="213.6" lengthAdjust="spacingAndGlyphs">Chr. with CNVs (%)</text>
<circle cx="1675" cy="37.9" r="5" fill="#d7182a"/>
<text x="1691" y="46.5" font-size="24.9" textLength="157.9" lengthAdjust="spacingAndGlyphs">Chr. with CNA</text>
<circle cx="1675" cy="62.7" r="4.1" fill="#fff" stroke="#e8202a" stroke-width="2"/>
<text x="1691" y="71.4" font-size="24.9" textLength="193.7" lengthAdjust="spacingAndGlyphs">Chr. without CNA</text>
<circle cx="1934.7" cy="37.9" r="5" fill="#d7182a"/>
<circle cx="1866.4" cy="131" r="5" fill="#d7182a"/>
<circle cx="1779" cy="209.3" r="5" fill="#d7182a"/>
<circle cx="1856" cy="293" r="5" fill="#d7182a"/>
<circle cx="1769.4" cy="307" r="5" fill="#d7182a"/>
<circle cx="1872.8" cy="347.5" r="5" fill="#d7182a"/>
<circle cx="1686.5" cy="371" r="4.1" fill="none" stroke="#e8202a" stroke-width="2"/>
<circle cx="1703.9" cy="371" r="4.1" fill="none" stroke="#e8202a" stroke-width="2"/>
<circle cx="1726.68" cy="371" r="4.1" fill="none" stroke="#e8202a" stroke-width="2"/>
<circle cx="1747.92" cy="371" r="4.1" fill="none" stroke="#e8202a" stroke-width="2"/>
<circle cx="1763.27" cy="371" r="4.1" fill="none" stroke="#e8202a" stroke-width="2"/>
<circle cx="1770.18" cy="371" r="4.1" fill="none" stroke="#e8202a" stroke-width="2"/>
<circle cx="1778.62" cy="371" r="4.1" fill="none" stroke="#e8202a" stroke-width="2"/>
<circle cx="1790.9" cy="371" r="4.1" fill="none" stroke="#e8202a" stroke-width="2"/>
<circle cx="1798.58" cy="371" r="4.1" fill="none" stroke="#e8202a" stroke-width="2"/>
<circle cx="1838.24" cy="371" r="4.1" fill="none" stroke="#e8202a" stroke-width="2"/>
<circle cx="1861.78" cy="371" r="4.1" fill="none" stroke="#e8202a" stroke-width="2"/>
<circle cx="1875.35" cy="371" r="4.1" fill="none" stroke="#e8202a" stroke-width="2"/>
<circle cx="1888.65" cy="371" r="4.1" fill="none" stroke="#e8202a" stroke-width="2"/>
<circle cx="1839.27" cy="366.41" r="4.1" fill="none" stroke="#e8202a" stroke-width="2"/>
<text x="1922.2" y="67" font-size="24.9" textLength="27.86" lengthAdjust="spacingAndGlyphs">13</text>
<text x="1871.02" y="128.2" font-size="24.9" textLength="13.93" lengthAdjust="spacingAndGlyphs">1</text>
<text x="1778.9" y="203" font-size="24.9" textLength="27.86" lengthAdjust="spacingAndGlyphs">16</text>
<text x="1862.06" y="290.7" font-size="24.9" textLength="13.93" lengthAdjust="spacingAndGlyphs">8</text>
<text x="1766.87" y="301" font-size="24.9" textLength="27.86" lengthAdjust="spacingAndGlyphs">18</text>
<text x="1755.87" y="340.3" font-size="24.9" textLength="27.86" lengthAdjust="spacingAndGlyphs">10</text>
<text x="1871.02" y="342" font-size="24.9" textLength="13.93" lengthAdjust="spacingAndGlyphs">4</text>
<text x="1828.8" y="352.8" font-size="24.9" textLength="27.86" lengthAdjust="spacingAndGlyphs">12</text>
<text x="1694.97" y="362.5" font-size="24.9" textLength="27.86" lengthAdjust="spacingAndGlyphs">20</text>
<text x="1735.4" y="362.5" font-size="24.9" textLength="27.86" lengthAdjust="spacingAndGlyphs">15</text>
<text x="1778.9" y="362.5" font-size="24.9" textLength="27.86" lengthAdjust="spacingAndGlyphs">21</text>
<text x="1810.89" y="371.5" font-size="24.9" textLength="26" lengthAdjust="spacingAndGlyphs">11</text>
<text x="1851.83" y="363" font-size="24.9" textLength="13.93" lengthAdjust="spacingAndGlyphs">5</text>
<text x="1882.53" y="362.5" font-size="24.9" textLength="13.93" lengthAdjust="spacingAndGlyphs">7</text>
<text x="1894.82" y="375.9" font-size="24.9" textLength="13.93" lengthAdjust="spacingAndGlyphs">2</text>
<text x="1670.15" y="395.8" font-size="24.9" textLength="27.86" lengthAdjust="spacingAndGlyphs">19</text>
<text x="1714.93" y="395.8" font-size="24.9" textLength="27.86" lengthAdjust="spacingAndGlyphs">22</text>
<text x="1750.75" y="401.7" font-size="24.9" textLength="13.93" lengthAdjust="spacingAndGlyphs">9</text>
<text x="1771.22" y="402" font-size="24.9" textLength="16.71" lengthAdjust="spacingAndGlyphs">X</text>
<text x="1786.58" y="395.8" font-size="24.9" textLength="27.86" lengthAdjust="spacingAndGlyphs">14</text>
<text x="1824.19" y="395.8" font-size="24.9" textLength="27.86" lengthAdjust="spacingAndGlyphs">17</text>
<text x="1853.11" y="395.8" font-size="24.9" textLength="13.93" lengthAdjust="spacingAndGlyphs">6</text>
<text x="1867.18" y="395.8" font-size="24.9" textLength="13.93" lengthAdjust="spacingAndGlyphs">3</text>
<line x1="1770" y1="345" x2="1770" y2="362.8" stroke="#000" stroke-width="1.6"/>
<line x1="1763.3" y1="376.9" x2="1761.5" y2="381.5" stroke="#000" stroke-width="1.6"/>
<line x1="1777.9" y1="376.9" x2="1780.4" y2="382.8" stroke="#000" stroke-width="1.6"/>
<line x1="1878.4" y1="364.1" x2="1884" y2="358.2" stroke="#000" stroke-width="1.6"/>
</g>
<g id="panel_d">
<text transform="translate(-2.28 504.9) scale(1.22 1)" font-size="31.5" font-weight="bold" stroke="#000" stroke-width="1.2">d</text>
<text x="84" y="509" font-size="24.9" textLength="376.6" lengthAdjust="spacingAndGlyphs">No. differentially expressed genes</text>
<text x="162.2" y="539.7" font-size="24.9" text-anchor="middle" textLength="13.93" lengthAdjust="spacingAndGlyphs">0</text>
<text x="234.9" y="539.7" font-size="24.9" text-anchor="middle" textLength="41.79" lengthAdjust="spacingAndGlyphs">200</text>
<text x="309.1" y="539.7" font-size="24.9" text-anchor="middle" textLength="41.79" lengthAdjust="spacingAndGlyphs">400</text>
<text x="384.6" y="539.7" font-size="24.9" text-anchor="middle" textLength="41.79" lengthAdjust="spacingAndGlyphs">800</text>
<rect x="163.3" y="559.6" width="240.5" height="43.4" fill="#bbbdbf"/>
<rect x="338.3" y="551" width="7.7" height="58" fill="#fff"/>
<rect x="163.3" y="614" width="76.2" height="43.6" fill="#ec1c2d"/>
<rect x="164.3" y="668.8" width="95.7" height="42.5" fill="#fff" stroke="#ec1c2d" stroke-width="1.8"/>
<rect x="163.3" y="723.3" width="35.7" height="43.5" fill="#7b0d1b"/>
<path d="M163.3 772V544.7M163.3 553.9H337.8M346 553.9H389V544.7M238 553.9V544.7M313.2 553.9V544.7M338.3 551.4V608.7M346 551.4V608.7M154.3 580.8H163.3M154.3 635.8H163.3M154.3 690H163.3M154.3 744.6H163.3" fill="none" stroke="#000" stroke-width="2"/>
<text x="356.4" y="589.6" font-size="24.9" textLength="41.79" lengthAdjust="spacingAndGlyphs">840</text>
<text x="190.1" y="644.6" font-size="24.9" fill="#fff" textLength="41.79" lengthAdjust="spacingAndGlyphs">203</text>
<text x="210.3" y="698.8" font-size="24.9" textLength="41.79" lengthAdjust="spacingAndGlyphs">258</text>
<text x="167.6" y="753.4" font-size="24.9" fill="#fff" textLength="27.86" lengthAdjust="spacingAndGlyphs">95</text>
<text x="142" y="587.1" font-size="24.9" text-anchor="end" textLength="59.88" lengthAdjust="spacingAndGlyphs">None</text>
<text x="142" y="640.9" font-size="24.9" text-anchor="end" textLength="93.26" lengthAdjust="spacingAndGlyphs">On CNV</text>
<text x="142" y="695.9" font-size="24.9" text-anchor="end" textLength="107.19" lengthAdjust="spacingAndGlyphs">On CoRE</text>
<text x="142" y="739.4" font-size="24.9" text-anchor="end" textLength="93.26" lengthAdjust="spacingAndGlyphs">On CNV</text>
<text x="142" y="763.7" font-size="24.9" text-anchor="end" textLength="107.19" lengthAdjust="spacingAndGlyphs">On CoRE</text>
</g>
<g id="panel_e">
<text transform="translate(529.86 503.8) scale(1.25 1)" font-size="30" font-weight="bold" stroke="#000" stroke-width="1.2">e</text>
<rect x="634.9" y="498.1" width="10.2" height="10.3" fill="#d1d3d4"/>
<text x="653" y="511" font-size="24.9" textLength="104.2" lengthAdjust="spacingAndGlyphs">Expected</text>
<path d="M674 692.11V691.6h5.2V692.11zM679.6 692.11V688.8h5.2V692.11zM685.7 692.11V686.2h5.2V692.11zM691.9 692.11V674.7h5.2V692.11zM698 692.11V671.1h5.2V692.11zM704.2 692.11V667h5.2V692.11zM710.3 692.11V646h5.2V692.11zM716.2 692.11V634.3h5.2V692.11zM722.6 692.11V607.4h5.2V692.11zM728.5 692.11V586.4h5.2V692.11zM734.9 692.11V599.2h5.2V692.11zM741 692.11V551.9h5.2V692.11zM746.9 692.11V534h5.2V692.11zM753.3 692.11V519.9h5.2V692.11zM758.9 692.11V519.9h5.2V692.11zM765.3 692.11V512.2h5.2V692.11zM771.5 692.11V563.4h5.2V692.11zM777.6 692.11V564.2h5.2V692.11zM783.7 692.11V584.6h5.2V692.11zM789.9 692.11V633.3h5.2V692.11zM796 692.11V632.2h5.2V692.11zM801.9 692.11V646h5.2V692.11zM808 692.11V653.7h5.2V692.11zM814.2 692.11V668.3h5.2V692.11zM820.3 692.11V675.2h5.2V692.11zM826.7 692.11V689.5h5.2V692.11zM832.9 692.11V686.2h5.2V692.11zM845.1 692.11V690.6h5.2V692.11zM857.4 692.11V691.6h5.2V692.11z" fill="#d1d3d4"/>
<path d="M628.9 531.4H636.4V692.1H628.9M628.9 563.7H636.4M628.9 595.9H636.4M628.9 628.1H636.4M628.9 660.1H636.4" fill="none" stroke="#000" stroke-width="2"/>
<path d="M635.9 703V696H881.3V703M697.3 696v7M758.7 696v7M819.9 696v7" fill="none" stroke="#000" stroke-width="2"/>
<text x="618.2" y="537.3" font-size="24.9" text-anchor="end" textLength="41.79" lengthAdjust="spacingAndGlyphs">250</text>
<text x="618.2" y="569.6" font-size="24.9" text-anchor="end" textLength="41.79" lengthAdjust="spacingAndGlyphs">200</text>
<text x="618.2" y="601.8" font-size="24.9" text-anchor="end" textLength="41.79" lengthAdjust="spacingAndGlyphs">150</text>
<text x="618.2" y="634" font-size="24.9" text-anchor="end" textLength="41.79" lengthAdjust="spacingAndGlyphs">100</text>
<text x="618.2" y="666" font-size="24.9" text-anchor="end" textLength="27.86" lengthAdjust="spacingAndGlyphs">50</text>
<text x="618.2" y="698" font-size="24.9" text-anchor="end" textLength="13.93" lengthAdjust="spacingAndGlyphs">0</text>
<text x="634.9" y="727.4" font-size="24.9" text-anchor="middle" textLength="27.86" lengthAdjust="spacingAndGlyphs">25</text>
<text x="696.3" y="727.4" font-size="24.9" text-anchor="middle" textLength="27.86" lengthAdjust="spacingAndGlyphs">30</text>
<text x="757.7" y="727.4" font-size="24.9" text-anchor="middle" textLength="27.86" lengthAdjust="spacingAndGlyphs">35</text>
<text x="818.9" y="727.4" font-size="24.9" text-anchor="middle" textLength="27.86" lengthAdjust="spacingAndGlyphs">40</text>
<text x="880.3" y="727.4" font-size="24.9" text-anchor="middle" textLength="27.86" lengthAdjust="spacingAndGlyphs">45</text>
<text x="622.8" y="753" font-size="24.9" textLength="256.7" lengthAdjust="spacingAndGlyphs">CoRE near or including</text>
<text x="672.2" y="777.8" font-size="24.9" textLength="150.7" lengthAdjust="spacingAndGlyphs">DE genes (%)</text>
<text x="561.4" y="603" font-size="24.9" text-anchor="middle" transform="rotate(-90 561.4 603)" textLength="118.34" lengthAdjust="spacingAndGlyphs">Frequency</text>
<path d="M833.4 692.1V613.3L815.3 602.3" fill="none" stroke="#231f20" stroke-width="1.1"/>
<path d="M849.5 692.1V613.3L844.7 602.3M853.1 692.1V613.3L870.5 602.3" fill="none" stroke="#231f20" stroke-width="1.1"/>
<text x="818.6" y="596.7" font-size="21" transform="rotate(-90 818.6 596.7)" textLength="105" lengthAdjust="spacingAndGlyphs"><tspan font-style="italic">P</tspan><tspan font-size="72%" dy="0.3em">T1</tspan><tspan dy="-0.216em"> = 0.006</tspan></text>
<text x="846" y="596.7" font-size="21" transform="rotate(-90 846 596.7)" textLength="105" lengthAdjust="spacingAndGlyphs"><tspan font-style="italic">P</tspan><tspan font-size="72%" dy="0.3em">T2</tspan><tspan dy="-0.216em"> = 0.001</tspan></text>
<text x="876.2" y="596.7" font-size="21" transform="rotate(-90 876.2 596.7)" textLength="105" lengthAdjust="spacingAndGlyphs"><tspan font-style="italic">P</tspan><tspan font-size="72%" dy="0.3em">T3</tspan><tspan dy="-0.216em"> = 0.001</tspan></text>
</g>
<g id="panel_f">
<text transform="translate(1010.86 503.8) scale(1.22 1)" font-size="31.5" font-weight="bold" stroke="#000" stroke-width="1.2">f</text>
<text x="1104.6" y="517" font-size="24.9" textLength="300.7" lengthAdjust="spacingAndGlyphs">log<tspan font-size="70%" dy="0.3em">2</tspan><tspan dy="-0.21em">(enrichment on CoREs)</tspan></text>
<text x="1164.7" y="543" font-size="24.9" textLength="49.45" lengthAdjust="spacingAndGlyphs">−0.5</text>
<text x="1266.6" y="543" font-size="24.9" text-anchor="middle" textLength="13.93" lengthAdjust="spacingAndGlyphs">0</text>
<text x="1343.9" y="543" font-size="24.9" text-anchor="middle" textLength="34.82" lengthAdjust="spacingAndGlyphs">0.5</text>
<rect x="1267.6" y="582.6" width="87.8" height="24.3" fill="#e62e2d"/>
<rect x="1150.9" y="606.9" width="116.7" height="24.3" fill="#2b50a2"/>
<rect x="1222.3" y="675.5" width="45.3" height="24.3" fill="#e62e2d"/>
<rect x="1267.6" y="699.8" width="84.7" height="24.3" fill="#2b50a2"/>
<path d="M1143.8 742.5V560.3H1381.2M1153.5 560.3V552.4M1191.9 560.3V552.4M1229.5 560.3V552.4M1267.6 560.3V552.4M1305.7 560.3V552.4M1343.6 560.3V552.4M1381.2 560.3V552.4M1135.3 606.9H1143.8M1135.3 696.5H1143.8" fill="none" stroke="#000" stroke-width="2"/>
<line x1="1267.6" y1="560.3" x2="1267.6" y2="742.5" stroke="#000" stroke-width="2" stroke-dasharray="5.5 3.5"/>
<text x="1126.6" y="590" font-size="24.9" text-anchor="end" textLength="40.36" lengthAdjust="spacingAndGlyphs">Up-</text>
<text x="1126.6" y="614" font-size="24.9" text-anchor="end" textLength="104.44" lengthAdjust="spacingAndGlyphs">regulated</text>
<text x="1126.6" y="638.8" font-size="24.9" text-anchor="end" textLength="68.24" lengthAdjust="spacingAndGlyphs">genes</text>
<text x="1126.6" y="679.2" font-size="24.9" text-anchor="end" textLength="72.38" lengthAdjust="spacingAndGlyphs">Down-</text>
<text x="1126.6" y="704.6" font-size="24.9" text-anchor="end" textLength="104.44" lengthAdjust="spacingAndGlyphs">regulated</text>
<text x="1126.6" y="729.6" font-size="24.9" text-anchor="end" textLength="68.24" lengthAdjust="spacingAndGlyphs">genes</text>
<text x="1297.3" y="663.2" font-size="24.9" textLength="106.7" lengthAdjust="spacingAndGlyphs"><tspan font-style="italic">P</tspan> = 0.036</text>
<rect x="1014.5" y="760.4" width="12.3" height="12.3" fill="#e62e2d"/>
<text x="1034.5" y="774.3" font-size="24.9" textLength="181.4" lengthAdjust="spacingAndGlyphs">Activating CoRE</text>
<rect x="1228.2" y="760.4" width="12.3" height="12.3" fill="#2b50a2"/>
<text x="1247.9" y="774.3" font-size="24.9" textLength="199.1" lengthAdjust="spacingAndGlyphs">Inactivating CoRE</text>
</g>
<g id="panel_g">
<text transform="translate(1494.44 496) scale(1.25 1)" font-size="30" font-weight="bold" stroke="#000" stroke-width="1.2">g</text>
<text x="1598.7" y="530.6" font-size="24.9" textLength="80.6" lengthAdjust="spacingAndGlyphs">Control</text>
<text x="1713.9" y="530.6" font-size="24.9" textLength="98" lengthAdjust="spacingAndGlyphs">Tumours</text>
<rect x="1612.8" y="541.1" width="54.5" height="4.9" fill="#939598"/>
<rect x="1668.6" y="541.1" width="217.5" height="4.9" fill="#ec1c24"/>
<path d="M1639.4 569.6h1.3M1647.5 569.6h2.3M1650.5 569.6h1.3M1656.5 569.6h1.3M1663.6 569.6h1.3" fill="none" stroke="#dcdcdc" stroke-width="30.56"/>
<path d="M1618.3 569.6h1.3M1622.4 569.6h1.3M1658.6 569.6h1.3M1664.6 569.6h1.3" fill="none" stroke="#e1c9c9" stroke-width="30.56"/>
<path d="M1612.3 569.6h1.3M1615.3 569.6h1.3M1629.4 569.6h2.3M1632.4 569.6h1.3M1634.4 569.6h1.3M1637.4 569.6h1.3M1657.5 569.6h1.3M1660.6 569.6h2.3M1665.6 569.6h1.3" fill="none" stroke="#f0a8a8" stroke-width="30.56"/>
<path d="M1614.3 569.6h1.3M1621.3 569.6h1.3M1625.4 569.6h2.3M1628.4 569.6h1.3" fill="none" stroke="#ef898b" stroke-width="30.56"/>
<path d="M1613.3 569.6h1.3M1654.5 569.6h1.3" fill="none" stroke="#ee6a6d" stroke-width="30.56"/>
<path d="M1619.3 569.6h1.3M1631.4 569.6h1.3M1643.5 569.6h1.3M1653.5 569.6h1.3M1655.5 569.6h1.3M1659.6 569.6h1.3M1666.6 569.6h1.3" fill="none" stroke="#ed4b50" stroke-width="30.56"/>
<path d="M1616.3 569.6h2.3M1620.3 569.6h1.3M1623.4 569.6h2.3M1627.4 569.6h1.3M1633.4 569.6h1.3M1635.4 569.6h2.3M1638.4 569.6h1.3M1640.5 569.6h3.3M1644.5 569.6h3.3M1649.5 569.6h1.3M1651.5 569.6h2.3M1662.6 569.6h1.3" fill="none" stroke="#ec2c33" stroke-width="30.56"/>
<path d="M1680.6 569.6h1.3M1690.6 569.6h1.3M1694.6 569.6h1.3M1698.6 569.6h1.3M1708.6 569.6h2.3M1821.6 569.6h1.3M1835.6 569.6h1.3M1855.6 569.6h1.3M1858.6 569.6h1.3M1873.6 569.6h1.3M1878.6 569.6h2.3" fill="none" stroke="#e2e2e2" stroke-width="30.56"/>
<path d="M1667.6 569.6h2.3M1670.6 569.6h3.3M1675.6 569.6h1.3M1677.6 569.6h1.3M1681.6 569.6h1.3M1683.6 569.6h1.3M1685.6 569.6h5.3M1691.6 569.6h3.3M1695.6 569.6h3.3M1699.6 569.6h3.3M1703.6 569.6h2.3M1706.6 569.6h1.3M1710.6 569.6h1.3M1712.6 569.6h3.3M1720.6 569.6h5.3M1726.6 569.6h3.3M1730.6 569.6h4.3M1737.6 569.6h6.3M1744.6 569.6h3.3M1748.6 569.6h4.3M1753.6 569.6h11.3M1765.6 569.6h3.3M1771.6 569.6h3.3M1775.6 569.6h8.3M1784.6 569.6h2.3M1787.6 569.6h1.3M1791.6 569.6h2.3M1794.6 569.6h1.3M1796.6 569.6h5.3M1802.6 569.6h8.3M1811.6 569.6h1.3M1814.6 569.6h1.3M1816.6 569.6h1.3M1818.6 569.6h3.3M1822.6 569.6h1.3M1824.6 569.6h1.3M1826.6 569.6h2.3M1829.6 569.6h6.3M1837.6 569.6h3.3M1841.6 569.6h1.3M1843.6 569.6h3.3M1847.6 569.6h3.3M1851.6 569.6h4.3M1857.6 569.6h1.3M1859.6 569.6h3.3M1864.6 569.6h2.3M1868.6 569.6h3.3M1874.6 569.6h1.3M1876.6 569.6h2.3M1880.6 569.6h1.3M1883.6 569.6h2.3" fill="none" stroke="#dcdcdc" stroke-width="30.56"/>
<path d="M1669.6 569.6h1.3M1673.6 569.6h1.3M1678.6 569.6h1.3M1684.6 569.6h1.3M1702.6 569.6h1.3M1705.6 569.6h1.3M1711.6 569.6h1.3M1716.6 569.6h3.3M1729.6 569.6h1.3M1735.6 569.6h2.3M1764.6 569.6h1.3M1768.6 569.6h1.3M1770.6 569.6h1.3M1774.6 569.6h1.3M1783.6 569.6h1.3M1788.6 569.6h3.3M1801.6 569.6h1.3M1810.6 569.6h1.3M1812.6 569.6h1.3M1815.6 569.6h1.3M1817.6 569.6h1.3M1823.6 569.6h1.3M1825.6 569.6h1.3M1828.6 569.6h1.3M1846.6 569.6h1.3M1850.6 569.6h1.3M1856.6 569.6h1.3M1863.6 569.6h1.3M1866.6 569.6h2.3M1871.6 569.6h2.3" fill="none" stroke="#e1c9c9" stroke-width="30.56"/>
<path d="M1674.6 569.6h1.3M1676.6 569.6h1.3M1679.6 569.6h1.3M1682.6 569.6h1.3M1715.6 569.6h1.3M1725.6 569.6h1.3M1734.6 569.6h1.3M1786.6 569.6h1.3M1793.6 569.6h1.3M1842.6 569.6h1.3M1875.6 569.6h1.3M1882.6 569.6h1.3" fill="none" stroke="#ef898b" stroke-width="30.56"/>
<path d="M1707.6 569.6h1.3M1719.6 569.6h1.3M1747.6 569.6h1.3M1752.6 569.6h1.3M1813.6 569.6h1.3M1840.6 569.6h1.3M1862.6 569.6h1.3M1881.6 569.6h1.3" fill="none" stroke="#ee6a6d" stroke-width="30.56"/>
<path d="M1836.6 569.6h1.3M1885.6 569.6h1.3" fill="none" stroke="#ed4b50" stroke-width="30.56"/>
<path d="M1743.6 569.6h1.3M1769.6 569.6h1.3M1795.6 569.6h1.3" fill="none" stroke="#ec2c33" stroke-width="30.56"/>
<path d="M1638.4 599.9h2.3M1643.5 599.9h1.3M1647.5 599.9h2.3" fill="none" stroke="#e1c9c9" stroke-width="30.56"/>
<path d="M1631.4 599.9h2.3M1637.4 599.9h1.3M1645.5 599.9h1.3M1652.5 599.9h1.3M1658.6 599.9h1.3M1660.6 599.9h1.3M1663.6 599.9h1.3" fill="none" stroke="#f0a8a8" stroke-width="30.56"/>
<path d="M1613.3 599.9h1.3M1617.3 599.9h1.3M1619.3 599.9h2.3M1627.4 599.9h1.3M1634.4 599.9h3.3M1640.5 599.9h1.3M1642.5 599.9h1.3M1644.5 599.9h1.3M1649.5 599.9h2.3M1653.5 599.9h1.3M1655.5 599.9h1.3M1661.6 599.9h1.3M1664.6 599.9h2.3" fill="none" stroke="#ef898b" stroke-width="30.56"/>
<path d="M1612.3 599.9h1.3M1615.3 599.9h2.3M1618.3 599.9h1.3M1622.4 599.9h1.3M1624.4 599.9h3.3M1628.4 599.9h1.3M1630.4 599.9h1.3M1633.4 599.9h1.3M1641.5 599.9h1.3M1651.5 599.9h1.3M1654.5 599.9h1.3M1657.5 599.9h1.3M1659.6 599.9h1.3M1662.6 599.9h1.3M1666.6 599.9h1.3" fill="none" stroke="#ee6a6d" stroke-width="30.56"/>
<path d="M1614.3 599.9h1.3M1621.3 599.9h1.3M1623.4 599.9h1.3M1629.4 599.9h1.3M1646.5 599.9h1.3M1656.5 599.9h1.3" fill="none" stroke="#ed4b50" stroke-width="30.56"/>
<path d="M1674.6 599.9h2.3M1686.6 599.9h1.3M1695.6 599.9h1.3M1705.6 599.9h1.3M1719.6 599.9h1.3M1726.6 599.9h1.3M1735.6 599.9h1.3M1752.6 599.9h1.3M1770.6 599.9h1.3M1791.6 599.9h1.3M1799.6 599.9h1.3M1805.6 599.9h1.3M1844.6 599.9h1.3M1848.6 599.9h1.3M1853.6 599.9h1.3M1864.6 599.9h1.3M1871.6 599.9h1.3" fill="none" stroke="#fcfcfc" stroke-width="30.56"/>
<path d="M1668.6 599.9h1.3M1671.6 599.9h2.3M1679.6 599.9h2.3M1684.6 599.9h1.3M1689.6 599.9h2.3M1697.6 599.9h1.3M1721.6 599.9h1.3M1725.6 599.9h1.3M1727.6 599.9h1.3M1734.6 599.9h1.3M1741.6 599.9h1.3M1743.6 599.9h3.3M1748.6 599.9h1.3M1755.6 599.9h2.3M1768.6 599.9h1.3M1774.6 599.9h1.3M1776.6 599.9h1.3M1781.6 599.9h1.3M1785.6 599.9h1.3M1790.6 599.9h1.3M1795.6 599.9h1.3M1803.6 599.9h1.3M1806.6 599.9h1.3M1810.6 599.9h1.3M1819.6 599.9h1.3M1822.6 599.9h1.3M1827.6 599.9h1.3M1830.6 599.9h1.3M1845.6 599.9h1.3M1866.6 599.9h1.3M1877.6 599.9h1.3M1881.6 599.9h1.3" fill="none" stroke="#f6f6f6" stroke-width="30.56"/>
<path d="M1667.6 599.9h1.3M1670.6 599.9h1.3M1676.6 599.9h1.3M1681.6 599.9h1.3M1683.6 599.9h1.3M1688.6 599.9h1.3M1691.6 599.9h1.3M1698.6 599.9h1.3M1702.6 599.9h1.3M1709.6 599.9h1.3M1713.6 599.9h1.3M1716.6 599.9h1.3M1720.6 599.9h1.3M1730.6 599.9h1.3M1737.6 599.9h1.3M1749.6 599.9h1.3M1753.6 599.9h1.3M1759.6 599.9h1.3M1761.6 599.9h1.3M1765.6 599.9h1.3M1769.6 599.9h1.3M1771.6 599.9h2.3M1775.6 599.9h1.3M1777.6 599.9h1.3M1782.6 599.9h2.3M1797.6 599.9h2.3M1823.6 599.9h1.3M1832.6 599.9h1.3M1834.6 599.9h1.3M1855.6 599.9h1.3M1857.6 599.9h2.3M1862.6 599.9h1.3M1865.6 599.9h1.3M1868.6 599.9h1.3M1880.6 599.9h1.3" fill="none" stroke="#efefef" stroke-width="30.56"/>
<path d="M1687.6 599.9h1.3M1708.6 599.9h1.3M1715.6 599.9h1.3M1717.6 599.9h1.3M1742.6 599.9h1.3M1751.6 599.9h1.3M1757.6 599.9h1.3M1788.6 599.9h1.3M1801.6 599.9h1.3M1807.6 599.9h1.3M1812.6 599.9h1.3M1816.6 599.9h1.3M1821.6 599.9h1.3M1829.6 599.9h1.3M1831.6 599.9h1.3M1838.6 599.9h1.3M1849.6 599.9h1.3M1851.6 599.9h1.3M1872.6 599.9h1.3M1874.6 599.9h1.3" fill="none" stroke="#e9e9e9" stroke-width="30.56"/>
<path d="M1669.6 599.9h1.3M1673.6 599.9h1.3M1678.6 599.9h1.3M1692.6 599.9h1.3M1694.6 599.9h1.3M1699.6 599.9h2.3M1703.6 599.9h1.3M1706.6 599.9h1.3M1711.6 599.9h1.3M1722.6 599.9h1.3M1729.6 599.9h1.3M1732.6 599.9h2.3M1736.6 599.9h1.3M1739.6 599.9h2.3M1754.6 599.9h1.3M1758.6 599.9h1.3M1764.6 599.9h1.3M1767.6 599.9h1.3M1778.6 599.9h1.3M1786.6 599.9h2.3M1792.6 599.9h2.3M1802.6 599.9h1.3M1804.6 599.9h1.3M1808.6 599.9h1.3M1811.6 599.9h1.3M1814.6 599.9h1.3M1818.6 599.9h1.3M1824.6 599.9h1.3M1835.6 599.9h1.3M1843.6 599.9h1.3M1850.6 599.9h1.3M1852.6 599.9h1.3M1854.6 599.9h1.3M1856.6 599.9h1.3M1863.6 599.9h1.3M1876.6 599.9h1.3M1878.6 599.9h1.3M1882.6 599.9h4.3" fill="none" stroke="#e2e2e2" stroke-width="30.56"/>
<path d="M1693.6 599.9h1.3M1707.6 599.9h1.3M1784.6 599.9h1.3M1825.6 599.9h1.3M1840.6 599.9h1.3M1860.6 599.9h1.3M1873.6 599.9h1.3M1875.6 599.9h1.3" fill="none" stroke="#dcdcdc" stroke-width="30.56"/>
<path d="M1677.6 599.9h1.3M1723.6 599.9h2.3M1731.6 599.9h1.3M1746.6 599.9h1.3M1760.6 599.9h1.3M1780.6 599.9h1.3M1833.6 599.9h1.3M1839.6 599.9h1.3M1841.6 599.9h1.3M1846.6 599.9h1.3M1867.6 599.9h1.3M1869.6 599.9h1.3" fill="none" stroke="#f0a8a8" stroke-width="30.56"/>
<path d="M1682.6 599.9h1.3M1685.6 599.9h1.3M1696.6 599.9h1.3M1701.6 599.9h1.3M1712.6 599.9h1.3M1714.6 599.9h1.3M1718.6 599.9h1.3M1728.6 599.9h1.3M1763.6 599.9h1.3M1766.6 599.9h1.3M1773.6 599.9h1.3M1779.6 599.9h1.3M1789.6 599.9h1.3M1800.6 599.9h1.3M1809.6 599.9h1.3M1813.6 599.9h1.3M1820.6 599.9h1.3M1828.6 599.9h1.3M1836.6 599.9h2.3M1847.6 599.9h1.3M1870.6 599.9h1.3" fill="none" stroke="#ef898b" stroke-width="30.56"/>
<path d="M1704.6 599.9h1.3M1710.6 599.9h1.3M1738.6 599.9h1.3M1747.6 599.9h1.3M1750.6 599.9h1.3M1762.6 599.9h1.3M1794.6 599.9h1.3M1796.6 599.9h1.3M1815.6 599.9h1.3M1817.6 599.9h1.3M1826.6 599.9h1.3M1842.6 599.9h1.3M1859.6 599.9h1.3M1861.6 599.9h1.3M1879.6 599.9h1.3" fill="none" stroke="#ee6a6d" stroke-width="30.56"/>
<path d="M1637.4 630.3h2.3M1641.5 630.3h1.3M1652.5 630.3h1.3M1661.6 630.3h1.3" fill="none" stroke="#e9e9e9" stroke-width="30.56"/>
<path d="M1633.4 630.3h1.3" fill="none" stroke="#e2e2e2" stroke-width="30.56"/>
<path d="M1615.3 630.3h1.3M1619.3 630.3h1.3M1622.4 630.3h1.3M1629.4 630.3h1.3M1646.5 630.3h2.3M1662.6 630.3h1.3" fill="none" stroke="#dcdcdc" stroke-width="30.56"/>
<path d="M1624.4 630.3h3.3M1632.4 630.3h1.3M1648.5 630.3h1.3M1650.5 630.3h1.3M1658.6 630.3h1.3M1660.6 630.3h1.3" fill="none" stroke="#e1c9c9" stroke-width="30.56"/>
<path d="M1612.3 630.3h1.3" fill="none" stroke="#f0a8a8" stroke-width="30.56"/>
<path d="M1642.5 630.3h1.3" fill="none" stroke="#ef898b" stroke-width="30.56"/>
<path d="M1623.4 630.3h1.3M1628.4 630.3h1.3M1649.5 630.3h1.3M1659.6 630.3h1.3M1666.6 630.3h1.3" fill="none" stroke="#ee6a6d" stroke-width="30.56"/>
<path d="M1613.3 630.3h1.3M1620.3 630.3h1.3M1639.4 630.3h1.3M1643.5 630.3h1.3M1645.5 630.3h1.3M1655.5 630.3h1.3M1664.6 630.3h1.3" fill="none" stroke="#ed4b50" stroke-width="30.56"/>
<path d="M1614.3 630.3h1.3M1616.3 630.3h3.3M1621.3 630.3h1.3M1627.4 630.3h1.3M1630.4 630.3h2.3M1634.4 630.3h3.3M1640.5 630.3h1.3M1644.5 630.3h1.3M1651.5 630.3h1.3M1653.5 630.3h2.3M1656.5 630.3h2.3M1663.6 630.3h1.3M1665.6 630.3h1.3" fill="none" stroke="#ec2c33" stroke-width="30.56"/>
<path d="M1701.6 630.3h1.3M1716.6 630.3h1.3M1737.6 630.3h1.3M1745.6 630.3h1.3M1764.6 630.3h1.3M1826.6 630.3h1.3M1857.6 630.3h1.3M1862.6 630.3h1.3" fill="none" stroke="#e9e9e9" stroke-width="30.56"/>
<path d="M1673.6 630.3h3.3M1678.6 630.3h2.3M1682.6 630.3h2.3M1685.6 630.3h1.3M1692.6 630.3h2.3M1696.6 630.3h3.3M1707.6 630.3h1.3M1717.6 630.3h2.3M1724.6 630.3h1.3M1726.6 630.3h1.3M1729.6 630.3h1.3M1731.6 630.3h1.3M1735.6 630.3h1.3M1739.6 630.3h1.3M1741.6 630.3h1.3M1746.6 630.3h1.3M1748.6 630.3h1.3M1758.6 630.3h1.3M1762.6 630.3h1.3M1768.6 630.3h1.3M1774.6 630.3h1.3M1787.6 630.3h2.3M1794.6 630.3h1.3M1805.6 630.3h2.3M1809.6 630.3h4.3M1815.6 630.3h1.3M1817.6 630.3h3.3M1823.6 630.3h2.3M1834.6 630.3h1.3M1838.6 630.3h1.3M1843.6 630.3h1.3M1846.6 630.3h1.3M1849.6 630.3h2.3M1852.6 630.3h5.3M1858.6 630.3h3.3M1864.6 630.3h2.3M1868.6 630.3h1.3M1873.6 630.3h1.3M1878.6 630.3h1.3M1884.6 630.3h2.3" fill="none" stroke="#e2e2e2" stroke-width="30.56"/>
<path d="M1668.6 630.3h1.3M1670.6 630.3h1.3M1672.6 630.3h1.3M1676.6 630.3h2.3M1680.6 630.3h1.3M1684.6 630.3h1.3M1686.6 630.3h6.3M1695.6 630.3h1.3M1699.6 630.3h2.3M1702.6 630.3h2.3M1709.6 630.3h1.3M1711.6 630.3h2.3M1714.6 630.3h1.3M1720.6 630.3h1.3M1722.6 630.3h2.3M1725.6 630.3h1.3M1727.6 630.3h2.3M1730.6 630.3h1.3M1732.6 630.3h3.3M1736.6 630.3h1.3M1738.6 630.3h1.3M1740.6 630.3h1.3M1742.6 630.3h3.3M1749.6 630.3h2.3M1752.6 630.3h4.3M1759.6 630.3h3.3M1765.6 630.3h2.3M1770.6 630.3h4.3M1775.6 630.3h1.3M1777.6 630.3h6.3M1784.6 630.3h3.3M1789.6 630.3h1.3M1791.6 630.3h2.3M1796.6 630.3h2.3M1799.6 630.3h6.3M1808.6 630.3h1.3M1813.6 630.3h2.3M1816.6 630.3h1.3M1820.6 630.3h1.3M1822.6 630.3h1.3M1825.6 630.3h1.3M1827.6 630.3h3.3M1832.6 630.3h1.3M1836.6 630.3h1.3M1840.6 630.3h1.3M1845.6 630.3h1.3M1851.6 630.3h1.3M1867.6 630.3h1.3M1869.6 630.3h4.3M1874.6 630.3h2.3M1877.6 630.3h1.3M1879.6 630.3h5.3" fill="none" stroke="#dcdcdc" stroke-width="30.56"/>
<path d="M1667.6 630.3h1.3M1669.6 630.3h1.3M1681.6 630.3h1.3M1704.6 630.3h1.3M1706.6 630.3h1.3M1708.6 630.3h1.3M1713.6 630.3h1.3M1719.6 630.3h1.3M1751.6 630.3h1.3M1757.6 630.3h1.3M1763.6 630.3h1.3M1767.6 630.3h1.3M1793.6 630.3h1.3M1795.6 630.3h1.3M1798.6 630.3h1.3M1807.6 630.3h1.3M1821.6 630.3h1.3M1830.6 630.3h1.3M1839.6 630.3h1.3M1842.6 630.3h1.3M1844.6 630.3h1.3M1847.6 630.3h2.3M1863.6 630.3h1.3M1866.6 630.3h1.3M1876.6 630.3h1.3" fill="none" stroke="#e1c9c9" stroke-width="30.56"/>
<path d="M1694.6 630.3h1.3M1747.6 630.3h1.3M1769.6 630.3h1.3M1776.6 630.3h1.3M1783.6 630.3h1.3" fill="none" stroke="#ef898b" stroke-width="30.56"/>
<path d="M1710.6 630.3h1.3M1715.6 630.3h1.3M1721.6 630.3h1.3M1756.6 630.3h1.3M1790.6 630.3h1.3M1837.6 630.3h1.3M1841.6 630.3h1.3M1861.6 630.3h1.3" fill="none" stroke="#ee6a6d" stroke-width="30.56"/>
<path d="M1671.6 630.3h1.3M1705.6 630.3h1.3M1831.6 630.3h1.3" fill="none" stroke="#ed4b50" stroke-width="30.56"/>
<path d="M1833.6 630.3h1.3M1835.6 630.3h1.3" fill="none" stroke="#ec2c33" stroke-width="30.56"/>
<path d="M1655.5 660.7h1.3" fill="none" stroke="#fcfcfc" stroke-width="30.56"/>
<path d="M1616.3 660.7h1.3M1621.3 660.7h1.3M1625.4 660.7h1.3M1631.4 660.7h1.3M1636.4 660.7h1.3M1645.5 660.7h2.3M1649.5 660.7h1.3M1654.5 660.7h1.3M1659.6 660.7h1.3" fill="none" stroke="#f6f6f6" stroke-width="30.56"/>
<path d="M1624.4 660.7h1.3M1626.4 660.7h2.3M1634.4 660.7h2.3M1637.4 660.7h2.3M1640.5 660.7h1.3M1643.5 660.7h1.3M1656.5 660.7h2.3M1660.6 660.7h2.3M1663.6 660.7h2.3" fill="none" stroke="#efefef" stroke-width="30.56"/>
<path d="M1615.3 660.7h1.3M1618.3 660.7h1.3M1647.5 660.7h1.3M1651.5 660.7h2.3M1658.6 660.7h1.3M1662.6 660.7h1.3M1666.6 660.7h1.3" fill="none" stroke="#e9e9e9" stroke-width="30.56"/>
<path d="M1619.3 660.7h1.3M1622.4 660.7h1.3M1629.4 660.7h2.3M1632.4 660.7h2.3M1642.5 660.7h1.3M1648.5 660.7h1.3M1653.5 660.7h1.3" fill="none" stroke="#e2e2e2" stroke-width="30.56"/>
<path d="M1612.3 660.7h3.3M1617.3 660.7h1.3M1620.3 660.7h1.3M1623.4 660.7h1.3M1628.4 660.7h1.3M1639.4 660.7h1.3M1641.5 660.7h1.3M1644.5 660.7h1.3M1665.6 660.7h1.3" fill="none" stroke="#dcdcdc" stroke-width="30.56"/>
<path d="M1650.5 660.7h1.3" fill="none" stroke="#e1c9c9" stroke-width="30.56"/>
<path d="M1697.6 660.7h1.3M1749.6 660.7h1.3M1807.6 660.7h1.3M1869.6 660.7h1.3" fill="none" stroke="#e2e2e2" stroke-width="30.56"/>
<path d="M1671.6 660.7h1.3M1676.6 660.7h1.3M1678.6 660.7h1.3M1681.6 660.7h1.3M1692.6 660.7h1.3M1703.6 660.7h1.3M1708.6 660.7h1.3M1725.6 660.7h1.3M1732.6 660.7h1.3M1737.6 660.7h1.3M1750.6 660.7h1.3M1754.6 660.7h1.3M1766.6 660.7h1.3M1778.6 660.7h1.3M1782.6 660.7h1.3M1789.6 660.7h1.3M1800.6 660.7h1.3M1809.6 660.7h1.3M1814.6 660.7h1.3M1823.6 660.7h1.3M1846.6 660.7h1.3M1851.6 660.7h1.3M1853.6 660.7h1.3M1860.6 660.7h1.3M1863.6 660.7h1.3M1872.6 660.7h1.3M1874.6 660.7h1.3M1881.6 660.7h1.3M1883.6 660.7h1.3" fill="none" stroke="#dcdcdc" stroke-width="30.56"/>
<path d="M1667.6 660.7h1.3M1672.6 660.7h1.3M1675.6 660.7h1.3M1680.6 660.7h1.3M1682.6 660.7h1.3M1687.6 660.7h1.3M1689.6 660.7h1.3M1693.6 660.7h1.3M1695.6 660.7h1.3M1704.6 660.7h3.3M1721.6 660.7h3.3M1726.6 660.7h1.3M1739.6 660.7h1.3M1743.6 660.7h1.3M1746.6 660.7h1.3M1758.6 660.7h1.3M1765.6 660.7h1.3M1770.6 660.7h3.3M1777.6 660.7h1.3M1784.6 660.7h1.3M1792.6 660.7h1.3M1799.6 660.7h1.3M1804.6 660.7h2.3M1808.6 660.7h1.3M1815.6 660.7h1.3M1822.6 660.7h1.3M1827.6 660.7h1.3M1835.6 660.7h1.3M1841.6 660.7h1.3M1843.6 660.7h1.3M1864.6 660.7h1.3M1866.6 660.7h1.3M1871.6 660.7h1.3M1876.6 660.7h1.3M1878.6 660.7h1.3M1882.6 660.7h1.3" fill="none" stroke="#e1c9c9" stroke-width="30.56"/>
<path d="M1669.6 660.7h1.3M1677.6 660.7h1.3M1683.6 660.7h4.3M1691.6 660.7h1.3M1698.6 660.7h1.3M1724.6 660.7h1.3M1738.6 660.7h1.3" fill="none" stroke="#f0a8a8" stroke-width="30.56"/>
<path d="M1668.6 660.7h1.3M1673.6 660.7h2.3M1694.6 660.7h1.3M1696.6 660.7h1.3M1699.6 660.7h1.3M1701.6 660.7h1.3M1715.6 660.7h1.3M1717.6 660.7h1.3M1720.6 660.7h1.3M1781.6 660.7h1.3M1824.6 660.7h1.3M1840.6 660.7h1.3M1865.6 660.7h1.3" fill="none" stroke="#ef898b" stroke-width="30.56"/>
<path d="M1670.6 660.7h1.3M1679.6 660.7h1.3M1688.6 660.7h1.3M1690.6 660.7h1.3M1700.6 660.7h1.3M1707.6 660.7h1.3M1709.6 660.7h2.3M1742.6 660.7h1.3M1748.6 660.7h1.3M1760.6 660.7h1.3M1763.6 660.7h1.3M1769.6 660.7h1.3M1773.6 660.7h1.3M1793.6 660.7h1.3M1796.6 660.7h2.3M1801.6 660.7h1.3M1828.6 660.7h1.3M1838.6 660.7h1.3M1842.6 660.7h1.3M1848.6 660.7h1.3M1852.6 660.7h1.3M1854.6 660.7h1.3M1859.6 660.7h1.3M1861.6 660.7h1.3" fill="none" stroke="#ee6a6d" stroke-width="30.56"/>
<path d="M1702.6 660.7h1.3M1713.6 660.7h2.3M1716.6 660.7h1.3M1731.6 660.7h1.3M1733.6 660.7h1.3M1740.6 660.7h1.3M1744.6 660.7h1.3M1747.6 660.7h1.3M1752.6 660.7h2.3M1755.6 660.7h1.3M1761.6 660.7h1.3M1767.6 660.7h2.3M1774.6 660.7h2.3M1779.6 660.7h2.3M1785.6 660.7h2.3M1791.6 660.7h1.3M1794.6 660.7h2.3M1798.6 660.7h1.3M1806.6 660.7h1.3M1813.6 660.7h1.3M1818.6 660.7h1.3M1821.6 660.7h1.3M1829.6 660.7h1.3M1833.6 660.7h2.3M1839.6 660.7h1.3M1857.6 660.7h1.3M1862.6 660.7h1.3M1870.6 660.7h1.3M1875.6 660.7h1.3M1885.6 660.7h1.3" fill="none" stroke="#ed4b50" stroke-width="30.56"/>
<path d="M1711.6 660.7h2.3M1718.6 660.7h2.3M1727.6 660.7h4.3M1734.6 660.7h3.3M1741.6 660.7h1.3M1745.6 660.7h1.3M1751.6 660.7h1.3M1756.6 660.7h2.3M1759.6 660.7h1.3M1762.6 660.7h1.3M1764.6 660.7h1.3M1776.6 660.7h1.3M1783.6 660.7h1.3M1787.6 660.7h2.3M1790.6 660.7h1.3M1802.6 660.7h2.3M1810.6 660.7h3.3M1816.6 660.7h2.3M1819.6 660.7h2.3M1825.6 660.7h2.3M1830.6 660.7h3.3M1836.6 660.7h2.3M1844.6 660.7h2.3M1847.6 660.7h1.3M1849.6 660.7h2.3M1855.6 660.7h2.3M1858.6 660.7h1.3M1867.6 660.7h2.3M1873.6 660.7h1.3M1877.6 660.7h1.3M1879.6 660.7h2.3M1884.6 660.7h1.3" fill="none" stroke="#ec2c33" stroke-width="30.56"/>
<path d="M1623.4 691h1.3M1651.5 691h1.3" fill="none" stroke="#f6f6f6" stroke-width="30.56"/>
<path d="M1617.3 691h1.3M1624.4 691h1.3M1632.4 691h1.3M1634.4 691h1.3M1637.4 691h1.3M1645.5 691h1.3M1647.5 691h1.3M1658.6 691h1.3M1662.6 691h1.3" fill="none" stroke="#efefef" stroke-width="30.56"/>
<path d="M1612.3 691h1.3M1619.3 691h2.3M1636.4 691h1.3M1656.5 691h1.3M1660.6 691h1.3M1665.6 691h2.3" fill="none" stroke="#e9e9e9" stroke-width="30.56"/>
<path d="M1614.3 691h2.3M1641.5 691h1.3" fill="none" stroke="#e2e2e2" stroke-width="30.56"/>
<path d="M1616.3 691h1.3M1621.3 691h1.3M1625.4 691h1.3M1628.4 691h1.3M1635.4 691h1.3M1638.4 691h1.3M1643.5 691h1.3M1661.6 691h1.3M1663.6 691h1.3" fill="none" stroke="#dcdcdc" stroke-width="30.56"/>
<path d="M1626.4 691h1.3M1644.5 691h1.3" fill="none" stroke="#e1c9c9" stroke-width="30.56"/>
<path d="M1613.3 691h1.3M1622.4 691h1.3M1627.4 691h1.3M1630.4 691h1.3M1642.5 691h1.3M1650.5 691h1.3M1652.5 691h1.3M1654.5 691h2.3M1657.5 691h1.3M1664.6 691h1.3" fill="none" stroke="#f0a8a8" stroke-width="30.56"/>
<path d="M1618.3 691h1.3M1631.4 691h1.3M1633.4 691h1.3M1640.5 691h1.3M1648.5 691h2.3M1659.6 691h1.3" fill="none" stroke="#ef898b" stroke-width="30.56"/>
<path d="M1629.4 691h1.3M1639.4 691h1.3M1646.5 691h1.3M1653.5 691h1.3" fill="none" stroke="#ee6a6d" stroke-width="30.56"/>
<path d="M1711.6 691h1.3" fill="none" stroke="#fcfcfc" stroke-width="30.56"/>
<path d="M1674.6 691h1.3M1676.6 691h1.3M1687.6 691h1.3M1692.6 691h1.3M1795.6 691h1.3M1797.6 691h1.3M1844.6 691h1.3M1867.6 691h1.3" fill="none" stroke="#f6f6f6" stroke-width="30.56"/>
<path d="M1679.6 691h1.3M1740.6 691h1.3M1761.6 691h1.3M1799.6 691h1.3M1827.6 691h1.3M1835.6 691h1.3M1857.6 691h1.3M1873.6 691h1.3M1885.6 691h1.3" fill="none" stroke="#efefef" stroke-width="30.56"/>
<path d="M1688.6 691h1.3M1699.6 691h1.3M1734.6 691h2.3M1782.6 691h1.3M1796.6 691h1.3M1798.6 691h1.3M1810.6 691h1.3M1834.6 691h1.3M1870.6 691h1.3" fill="none" stroke="#e9e9e9" stroke-width="30.56"/>
<path d="M1672.6 691h1.3M1689.6 691h1.3M1697.6 691h1.3M1725.6 691h1.3M1733.6 691h1.3M1741.6 691h2.3M1754.6 691h1.3M1760.6 691h1.3M1791.6 691h1.3M1794.6 691h1.3M1813.6 691h1.3M1839.6 691h1.3M1843.6 691h1.3M1882.6 691h1.3" fill="none" stroke="#e2e2e2" stroke-width="30.56"/>
<path d="M1682.6 691h3.3M1695.6 691h1.3M1708.6 691h1.3M1713.6 691h1.3M1716.6 691h1.3M1728.6 691h1.3M1738.6 691h1.3M1745.6 691h1.3M1750.6 691h1.3M1778.6 691h1.3M1790.6 691h1.3M1793.6 691h1.3M1826.6 691h1.3M1836.6 691h1.3M1847.6 691h2.3M1850.6 691h1.3M1861.6 691h1.3M1869.6 691h1.3M1878.6 691h1.3" fill="none" stroke="#dcdcdc" stroke-width="30.56"/>
<path d="M1667.6 691h1.3M1675.6 691h1.3M1678.6 691h1.3M1690.6 691h1.3M1706.6 691h2.3M1719.6 691h1.3M1722.6 691h2.3M1727.6 691h1.3M1730.6 691h1.3M1732.6 691h1.3M1765.6 691h1.3M1767.6 691h1.3M1772.6 691h1.3M1784.6 691h2.3M1788.6 691h1.3M1792.6 691h1.3M1801.6 691h1.3M1807.6 691h1.3M1823.6 691h1.3M1825.6 691h1.3M1830.6 691h1.3M1849.6 691h1.3M1863.6 691h1.3M1871.6 691h1.3M1884.6 691h1.3" fill="none" stroke="#e1c9c9" stroke-width="30.56"/>
<path d="M1729.6 691h1.3M1731.6 691h1.3M1747.6 691h1.3M1762.6 691h1.3M1775.6 691h1.3M1780.6 691h1.3M1802.6 691h1.3M1811.6 691h1.3M1814.6 691h1.3M1842.6 691h1.3M1846.6 691h1.3M1851.6 691h1.3M1854.6 691h1.3M1866.6 691h1.3M1881.6 691h1.3" fill="none" stroke="#f0a8a8" stroke-width="30.56"/>
<path d="M1671.6 691h1.3M1709.6 691h2.3M1724.6 691h1.3M1737.6 691h1.3M1753.6 691h1.3M1763.6 691h2.3M1766.6 691h1.3M1774.6 691h1.3M1787.6 691h1.3M1806.6 691h1.3M1808.6 691h1.3M1815.6 691h1.3M1822.6 691h1.3M1845.6 691h1.3M1860.6 691h1.3M1880.6 691h1.3M1883.6 691h1.3" fill="none" stroke="#ef898b" stroke-width="30.56"/>
<path d="M1668.6 691h3.3M1685.6 691h2.3M1702.6 691h1.3M1704.6 691h2.3M1718.6 691h1.3M1720.6 691h2.3M1743.6 691h1.3M1748.6 691h2.3M1768.6 691h1.3M1777.6 691h1.3M1779.6 691h1.3M1783.6 691h1.3M1789.6 691h1.3M1812.6 691h1.3M1816.6 691h1.3M1818.6 691h1.3M1824.6 691h1.3M1829.6 691h1.3M1832.6 691h1.3M1838.6 691h1.3M1852.6 691h1.3M1856.6 691h1.3M1858.6 691h2.3M1862.6 691h1.3M1864.6 691h1.3M1874.6 691h1.3M1879.6 691h1.3" fill="none" stroke="#ee6a6d" stroke-width="30.56"/>
<path d="M1673.6 691h1.3M1680.6 691h1.3M1693.6 691h1.3M1698.6 691h1.3M1700.6 691h2.3M1712.6 691h1.3M1715.6 691h1.3M1717.6 691h1.3M1726.6 691h1.3M1739.6 691h1.3M1752.6 691h1.3M1755.6 691h4.3M1770.6 691h2.3M1773.6 691h1.3M1776.6 691h1.3M1809.6 691h1.3M1817.6 691h1.3M1820.6 691h2.3M1833.6 691h1.3M1837.6 691h1.3M1841.6 691h1.3M1865.6 691h1.3M1872.6 691h1.3M1875.6 691h1.3M1877.6 691h1.3" fill="none" stroke="#ed4b50" stroke-width="30.56"/>
<path d="M1677.6 691h1.3M1681.6 691h1.3M1691.6 691h1.3M1694.6 691h1.3M1696.6 691h1.3M1703.6 691h1.3M1714.6 691h1.3M1736.6 691h1.3M1744.6 691h1.3M1746.6 691h1.3M1751.6 691h1.3M1759.6 691h1.3M1769.6 691h1.3M1781.6 691h1.3M1786.6 691h1.3M1800.6 691h1.3M1803.6 691h3.3M1819.6 691h1.3M1828.6 691h1.3M1831.6 691h1.3M1840.6 691h1.3M1853.6 691h1.3M1855.6 691h1.3M1868.6 691h1.3M1876.6 691h1.3" fill="none" stroke="#ec2c33" stroke-width="30.56"/>
<rect x="1612.3" y="554.4" width="274.3" height="151.8" fill="none" stroke="#000" stroke-width="2"/>
<line x1="1667.6" y1="554.4" x2="1667.6" y2="706.2" stroke="#000" stroke-width="2"/>
<text x="1602" y="578.8" font-size="24.9" text-anchor="end" font-style="italic" textLength="83.53" lengthAdjust="spacingAndGlyphs">BRCA1</text>
<text x="1602" y="609.5" font-size="24.9" text-anchor="end" font-style="italic" textLength="84.91" lengthAdjust="spacingAndGlyphs">XRCC5</text>
<text x="1602" y="639.7" font-size="24.9" text-anchor="end" font-style="italic" textLength="64.97" lengthAdjust="spacingAndGlyphs">KIF11</text>
<text x="1602" y="670.1" font-size="24.9" text-anchor="end" font-style="italic" textLength="48.71" lengthAdjust="spacingAndGlyphs">JUN</text>
<text x="1602" y="700.8" font-size="24.9" text-anchor="end" font-style="italic" textLength="100.21" lengthAdjust="spacingAndGlyphs">CTNNB1</text>
<defs><linearGradient id="gg" x1="0" y1="0" x2="1" y2="0"><stop offset="0" stop-color="#fff"/><stop offset="0.48" stop-color="#d9d9d9"/><stop offset="0.6" stop-color="#ecb0b0"/><stop offset="1" stop-color="#ec1c24"/></linearGradient></defs>
<rect x="1766.3" y="729" width="119.3" height="20.7" fill="url(#gg)" stroke="#000" stroke-width="2"/>
<path d="M1766.85 749.7v5.6M1796.28 749.7v5.6M1825.96 749.7v5.6M1855.39 749.7v5.6M1885.07 749.7v5.6" fill="none" stroke="#000" stroke-width="2"/>
<text x="1761.95" y="778.9" font-size="24.9" text-anchor="middle" textLength="28.56" lengthAdjust="spacingAndGlyphs">−2</text>
<text x="1795.68" y="778.9" font-size="24.9" text-anchor="middle" textLength="28.56" lengthAdjust="spacingAndGlyphs">−1</text>
<text x="1825.96" y="778.9" font-size="24.9" text-anchor="middle" textLength="13.93" lengthAdjust="spacingAndGlyphs">0</text>
<text x="1855.39" y="778.9" font-size="24.9" text-anchor="middle" textLength="13.93" lengthAdjust="spacingAndGlyphs">1</text>
<text x="1885.07" y="778.9" font-size="24.9" text-anchor="middle" textLength="13.93" lengthAdjust="spacingAndGlyphs">2</text>
<text x="1541.2" y="746.5" font-size="24.9" textLength="199.5" lengthAdjust="spacingAndGlyphs">mRNA expression</text>
<text x="1601.3" y="772.6" font-size="24.9" textLength="139.4" lengthAdjust="spacingAndGlyphs">(scRNA-seq)</text>
</g>
<g id="panel_h">
<text transform="translate(-2.98 822) scale(1.22 1)" font-size="31.5" font-weight="bold" stroke="#000" stroke-width="1.2">h</text>
<text x="109.5" y="825.8" font-size="24.9" textLength="66.3" lengthAdjust="spacingAndGlyphs">Chr. 3</text>
<text x="195.2" y="825.8" font-size="21" textLength="91.9" lengthAdjust="spacingAndGlyphs">40,500 kb</text>
<text x="311.4" y="825.8" font-size="21" textLength="91.6" lengthAdjust="spacingAndGlyphs">40,700 kb</text>
<text x="421.4" y="825.8" font-size="21" textLength="92" lengthAdjust="spacingAndGlyphs">40,900 kb</text>
<text x="531.6" y="825.8" font-size="21" textLength="92.1" lengthAdjust="spacingAndGlyphs">41,100 kb</text>
<text x="643.9" y="825.8" font-size="21" textLength="92.1" lengthAdjust="spacingAndGlyphs">41,300 kb</text>
<text x="762.9" y="825.8" font-size="21" textLength="92.1" lengthAdjust="spacingAndGlyphs">41,500 kb</text>
<line x1="243" y1="843.7" x2="793.7" y2="843.7" stroke="#000" stroke-width="1.8"/>
<path d="M243.6 843.7V834M298.55 843.7V834M353.5 843.7V834M408.45 843.7V834M463.4 843.7V834M518.35 843.7V834M573.3 843.7V834M628.25 843.7V834M683.2 843.7V834M738.15 843.7V834M793.1 843.7V834" fill="none" stroke="#000" stroke-width="1.2"/>
<rect x="243.3" y="854.5" width="82.5" height="17.9" fill="#d9d6ea"/>
<rect x="325.5" y="854.5" width="275.2" height="17.9" fill="#2e3192"/>
<rect x="600.4" y="854.5" width="138" height="17.9" fill="#d9d6ea"/>
<rect x="738.1" y="854.5" width="55.3" height="17.9" fill="#4f5ba9"/>
<rect x="243.3" y="879.6" width="64.1" height="17.9" fill="#d9d6ea"/>
<rect x="307.1" y="879.6" width="247.6" height="17.9" fill="#4f5ba9"/>
<rect x="554.4" y="879.6" width="93.9" height="17.9" fill="#8b89c2"/>
<rect x="648" y="879.6" width="124.4" height="17.9" fill="#f7b4b5"/>
<rect x="772.1" y="879.6" width="21.3" height="17.9" fill="#8b89c2"/>
<rect x="243.3" y="906.4" width="137.8" height="17.4" fill="#f28b8c"/>
<rect x="380.8" y="906.4" width="164.4" height="17.4" fill="#c62026"/>
<rect x="544.9" y="906.4" width="220.4" height="17.4" fill="#ee4b4e"/>
<rect x="765" y="906.4" width="28.4" height="17.4" fill="#fad2d2"/>
<text x="425.3" y="870.1" font-size="21" fill="#fff" textLength="47.2" lengthAdjust="spacingAndGlyphs">B.2.2</text>
<text x="425.3" y="894.9" font-size="21" fill="#fff" textLength="46" lengthAdjust="spacingAndGlyphs">B.2.1</text>
<text x="425.3" y="921.8" font-size="21" fill="#fff" textLength="46" lengthAdjust="spacingAndGlyphs">A.1.1</text>
<text x="155.5" y="873.6" font-size="24.9" textLength="80.5" lengthAdjust="spacingAndGlyphs">Control</text>
<text x="178.4" y="899.2" font-size="24.9" textLength="57.6" lengthAdjust="spacingAndGlyphs">WGD</text>
<text x="71.6" y="924.2" font-size="24.9" textLength="164.4" lengthAdjust="spacingAndGlyphs">20w-pWGD T1</text>
<text x="155.5" y="967" font-size="24.9" textLength="80.5" lengthAdjust="spacingAndGlyphs">Control</text>
<text x="71.6" y="1006.1" font-size="24.9" textLength="164.4" lengthAdjust="spacingAndGlyphs">20w-pWGD T1</text>
<text x="155.5" y="1057.8" font-size="24.9" textLength="80.5" lengthAdjust="spacingAndGlyphs">Control</text>
<text x="71.6" y="1096.2" font-size="24.9" textLength="164.4" lengthAdjust="spacingAndGlyphs">20w-pWGD T1</text>
<line x1="243.6" y1="965.6" x2="793.1" y2="965.6" stroke="#c8c8c8" stroke-width="1"/>
<path d="M243.6 965.6V947.5h3V965.5h4.5V965h1.5V965.5h1.5V962.5h1.5V956.5h1.5V965.5h3V963h1.5V965.5h7.51V959.5h1.5V963h1.5V965h1.5V962.5h1.5V965.5h4.5V965h1.5V951.5h1.5V962.5h1.5V965.5h3V965h1.5V965.5h4.5V963h1.5V963.5h1.5V965.5h3V965h1.5V965.5h1.5V964.5h1.5V965.5h10.51V964h1.5V963.5h1.5V965.5h1.5V964.5h1.5V965.5h3V960h1.5V965.5h3V963.5h1.5V965.5h7.51V962.5h1.5V964h1.5V963.5h1.5V965.5h1.5V963.5h1.5V964h1.5V965.5h4.5V963.5h3V965.5h1.5V965h1.5V963.5h1.5V965h3V965.5h7.51V962h1.5V965.5h4.5V964h1.5V965.5h1.5V963h1.5V965.5h6.01V960.5h1.5V965.5h7.51V964h1.5V965.5h1.5V965h1.5V965.5h4.5V963h1.5V965.5h6.01V963h1.5V965.5h1.5V965h1.5V964.5h1.5V965.5h6.01V963.5h1.5V964h1.5V964.5h1.5V965.5h4.5V957.5h3V965.5h7.51V965h1.5V965.5h6.01V964.5h1.5V965.5h4.5V963.5h1.5V965.5h3V963h1.5V965.5h3V964.5h1.5V965.5h9.01V960.5h1.5V963.5h1.5V965.5h3V963h1.5V965h1.5V965.5h4.5V964h1.5V965.5h21.02V961.5h1.5V960.5h1.5V965.5h3V964h1.5V965.5h4.5V963.5h1.5V959.5h1.5V961.5h1.5V964h1.5V965h1.5V965.5h1.5V965h1.5V964.5h1.5V965.5h1.5V963.5h1.5V965h1.5V965.5h1.5V964.5h1.5V963h1.5V963.5h1.5V965.5h1.5V963h1.5V963.5h1.5V965.5h6.01V964h1.5V965h1.5V965.5h3V963h1.5V965.5h1.5V962.5h1.5V965.5h3V964.5h1.5V965.5h9.01V964.5h1.5V965.5h9.01V963h1.5V965.5h9.01V963h1.5V965.5h1.5V956.5h1.5V965h1.5V963.5h1.5V964h1.5V965.5h3V963h1.5V964.5h1.5V965.5h3V962h1.5V965.5h6.01V962h1.5V965h1.5V963.5h1.5V963h1.5V965.5h1.5V963.5h1.5V965.5h3V963.5h1.5V962.5h1.5V965h1.5V965.5h6.01V958.5h1.5V947.5h1.5V959.5h1.5V964.5h1.5V963h1.5V964h1.5V961h1.5V960.5h1.5V963.5h1.5V965.5h1.5V964h1.5V964.5h1.5V963.5h1.5V965.5h3V964.5h1.5V965.5h1.5V964h1.5V965.5h1.5V965h3V965.5h1.5V964h1.5V963.5h1.5V965.5h7.51V963h1.5V965.5h1.5V963.5h1.5V965.5h4.5V963.5h1.5V965.5h1.5V963h1.5V965.5h1.5V964.5h1.5V965.5h6.01V965h1.5V964.5h1.5V965.5h21.02V964h1.5V965.5h7.51V960h1.5V965.5h1.5V963h1.5V965.5h1.5V964h1.5V965.5h6.01V963.5h1.5V965.5h4.5V965h1.5V959h1.5V965.5h19.52V963.5h1.5V965.5h1.5V965.6z" fill="#ed1c24"/>
<line x1="243.6" y1="1007.5" x2="793.1" y2="1007.5" stroke="#c8c8c8" stroke-width="1"/>
<path d="M243.6 1007.5V974.5h3V1007.5h4.5V1005.5h1.5V1007.5h1.5V1003h1.5V995.5h1.5V1006.5h1.5V1006h1.5V1007.5h3V1007h1.5V1006.5h1.5V1005.5h1.5V1007.5h1.5V1007h1.5V1005.5h1.5V1006h1.5V1007.5h6.01V998.5h1.5V983h1.5V1005.5h1.5V1007.5h7.51V1006h1.5V1007.5h12.01V1005.5h1.5V1007.5h3V1007h1.5V1007.5h1.5V1006h1.5V1007.5h6.01V1007h1.5V1007.5h3V1007h1.5V1005.5h1.5V1007.5h6.01V1005.5h1.5V1007.5h3V1003.5h1.5V1007.5h3V1005h1.5V1007.5h6.01V1005.5h3V1007.5h1.5V1007h3V1007.5h1.5V1005h1.5V1006.5h1.5V1007.5h4.5V1006h1.5V1007h1.5V1007.5h1.5V1006h1.5V1007.5h6.01V1000h1.5V1007.5h6.01V1001h1.5V1007.5h9.01V1006.5h1.5V1007.5h1.5V1000.5h1.5V981h1.5V1000h1.5V1007.5h6.01V1005.5h1.5V998h1.5V992.5h1.5V997.5h1.5V1005.5h1.5V1007h1.5V991h1.5V974.5h1.5V1003h1.5V1007.5h6.01V1003.5h1.5V974.5h3V1003.5h1.5V1006.5h1.5V1007.5h1.5V1004.5h1.5V1007.5h3V1007h1.5V1006h1.5V974.5h3V1005h1.5V1007h1.5V1003h1.5V991h1.5V987.5h1.5V1000.5h1.5V1006.5h3V1006h1.5V1004h1.5V1002.5h3V1001h3V1004.5h1.5V1006h1.5V979.5h3V1002h1.5V1007.5h4.5V1006h1.5V1001.5h1.5V991h1.5V1005.5h1.5V1007.5h1.5V1006.5h3V1007.5h1.5V1005.5h3V1001h3V1005h1.5V1007.5h3V1007h1.5V995.5h3V1007.5h1.5V1004.5h1.5V1007.5h7.51V1007h1.5V1007.5h1.5V1002.5h1.5V974.5h1.5V988.5h1.5V1004.5h1.5V1006h1.5V1007.5h3V1007h1.5V1005.5h1.5V1004h1.5V1005h4.5V1007.5h1.5V1007h1.5V1007.5h6.01V1007h1.5V1007.5h4.5V1005.5h1.5V1005h1.5V1007.5h1.5V1006.5h1.5V1007.5h1.5V1005.5h3V1006h1.5V1007.5h1.5V1006.5h1.5V1007.5h3V1006h1.5V1007.5h15.01V1005h1.5V1007.5h1.5V1006h1.5V1007.5h3V1005.5h1.5V1007.5h13.51V1005.5h1.5V1007.5h6.01V1005h1.5V1007h1.5V1005h1.5V1007.5h3V1006h1.5V1007.5h3V1006h1.5V1007.5h3V1006h1.5V1007.5h4.5V1006h1.5V1003.5h1.5V1005h1.5V989h1.5V974.5h1.5V1003h1.5V998h1.5V999h1.5V997.5h1.5V999h1.5V1001h1.5V1000.5h1.5V991h1.5V1000.5h1.5V1004.5h1.5V1001.5h1.5V1001h3V1003h1.5V1005h1.5V1006h1.5V1007h1.5V1007.5h6.01V1006.5h1.5V1001h1.5V986.5h1.5V999.5h1.5V1004h1.5V1002.5h1.5V1005.5h3V1007.5h1.5V1004.5h1.5V1007.5h1.5V1006.5h1.5V1005h1.5V1002h1.5V1007.5h1.5V1005h1.5V1007.5h10.51V1006.5h1.5V1007.5h16.52V1006.5h1.5V1007.5h6.01V1006h1.5V1007.5h7.51V1005h1.5V1005.5h1.5V1007.5h1.5V1007h3V1007.5h6.01V1007h3V1001h1.5V1006h1.5V1007.5h16.52V1007h1.5V1007.5h3V1007.5z" fill="#ed1c24"/>
<path d="M243.6 1053.7V1049.5h1.5V1051h3V1047.5h1.5V1049h1.5V1050.5h1.5V1049h1.5V1050h3V1048.5h3V1044.5h3V1050.5h1.5V1052h1.5V1047.5h1.5V1048.5h1.5V1050h1.5V1051.5h1.5V1044.5h1.5V1050h1.5V1050.5h1.5V1048h1.5V1050.5h1.5V1050h3V1052h1.5V1047.5h1.5V1049h1.5V1052.5h1.5V1051h1.5V1050.5h1.5V1048.5h1.5V1051.5h1.5V1048h1.5V1051.5h1.5V1049h1.5V1048h3V1050.5h1.5V1048h3V1043.5h1.5V1048.5h1.5V1048h1.5V1052.5h1.5V1049h1.5V1050.5h1.5V1045h1.5V1048h1.5V1048.5h1.5V1044.5h1.5V1043.5h1.5V1046h1.5V1050h1.5V1046.5h1.5V1042.5h1.5V1045h1.5V1046h1.5V1048h3V1046.5h1.5V1044.5h1.5V1044h1.5V1027.5h1.5V1031.5h1.5V1045.5h1.5V1043h1.5V1042h1.5V1043h1.5V1045h1.5V1047.5h1.5V1040h1.5V1050.5h1.5V1044h1.5V1048h1.5V1040h1.5V1041h1.5V1035.5h1.5V1036h1.5V1047h1.5V1042.5h1.5V1040.5h1.5V1039.5h1.5V1033.5h1.5V1045h1.5V1042.5h1.5V1043h1.5V1031.5h1.5V1043h1.5V1050.5h1.5V1043.5h1.5V1044.5h1.5V1052h1.5V1046h1.5V1030.5h1.5V1046h1.5V1039.5h1.5V1051.5h1.5V1038.5h1.5V1036h1.5V1047.5h1.5V1045.5h1.5V1051h1.5V1039.5h1.5V1051h1.5V1045.5h1.5V1045h1.5V1046.5h1.5V1030h1.5V1040h1.5V1047h1.5V1048.5h1.5V1043.5h1.5V1044h1.5V1043.5h1.5V1045.5h1.5V1046h1.5V1041.5h1.5V1047h1.5V1029h1.5V1036h1.5V1038h1.5V1046.5h1.5V1048h1.5V1033h3V1040h1.5V1039h1.5V1041.5h1.5V1045h1.5V1032h1.5V1044h1.5V1048h1.5V1045h1.5V1050.5h1.5V1042.5h1.5V1033h1.5V1045h1.5V1042.5h1.5V1048h1.5V1045.5h1.5V1031.5h1.5V1045.5h1.5V1044h1.5V1047h1.5V1044h1.5V1038.5h1.5V1041h1.5V1048.5h1.5V1032.5h1.5V1048h1.5V1050.5h1.5V1040.5h1.5V1039h1.5V1043h1.5V1050.5h1.5V1049h1.5V1042.5h1.5V1041h1.5V1042h1.5V1040h1.5V1047.5h1.5V1046.5h1.5V1039.5h1.5V1048h1.5V1039h1.5V1046.5h1.5V1049h1.5V1043h1.5V1029.5h1.5V1040.5h1.5V1047.5h4.5V1045h1.5V1043.5h1.5V1040h1.5V1043.5h1.5V1044.5h1.5V1030.5h1.5V1044.5h1.5V1039.5h1.5V1040.5h1.5V1046.5h3V1049h1.5V1050h1.5V1032h1.5V1048h1.5V1044.5h1.5V1045.5h1.5V1045h1.5V1049.5h1.5V1027.5h3V1031.5h1.5V1052.5h1.5V1050h1.5V1049h1.5V1047.5h1.5V1034h3V1042h1.5V1046.5h1.5V1052h1.5V1049.5h1.5V1039.5h1.5V1046h1.5V1040.5h1.5V1044h1.5V1040h1.5V1047h1.5V1052h1.5V1046h1.5V1041h1.5V1040.5h3V1044h1.5V1047.5h1.5V1047h1.5V1048h1.5V1052h1.5V1050h1.5V1046.5h1.5V1046h1.5V1040.5h1.5V1048.5h1.5V1049.5h1.5V1050h1.5V1053h1.5V1049h1.5V1051.5h1.5V1045h1.5V1050h1.5V1052.5h1.5V1049.5h1.5V1050.5h1.5V1051h1.5V1052.5h1.5V1049.5h1.5V1050.5h1.5V1050h1.5V1045h1.5V1027.5h1.5V1046.5h1.5V1052h1.5V1053h3V1052h1.5V1047.5h1.5V1052.5h1.5V1053h1.5V1046.5h1.5V1047h1.5V1049h1.5V1051.5h1.5V1049h1.5V1045h1.5V1047h1.5V1050h1.5V1049.5h1.5V1046h1.5V1051h1.5V1049.5h1.5V1052h3V1050h1.5V1051.5h1.5V1050.5h1.5V1052h3V1049h1.5V1051.5h1.5V1048.5h1.5V1051h1.5V1051.5h1.5V1050h1.5V1049.5h1.5V1052.5h3V1050.5h1.5V1051.5h3V1048.5h1.5V1051.5h1.5V1052.5h1.5V1049.5h1.5V1052.5h1.5V1051h1.5V1048.5h1.5V1053h1.5V1048h1.5V1052.5h1.5V1051h1.5V1049h1.5V1048.5h4.5V1050.5h1.5V1051h1.5V1051.5h1.5V1052h1.5V1050h1.5V1050.5h1.5V1053h3V1050h1.5V1049h1.5V1049.5h1.5V1051.5h1.5V1048h1.5V1047h1.5V1041h1.5V1050h1.5V1046.5h1.5V1049h1.5V1050h1.5V1046.5h1.5V1048.5h1.5V1043h1.5V1045h1.5V1050h1.5V1048.5h1.5V1045.5h1.5V1049h1.5V1050h1.5V1047h1.5V1048h1.5V1043.5h1.5V1046.5h1.5V1048.5h1.5V1049h1.5V1038h1.5V1047h1.5V1052h1.5V1046h3V1046.5h1.5V1047h1.5V1048h1.5V1040.5h1.5V1051.5h1.5V1039h1.5V1048.5h1.5V1047h1.5V1049h1.5V1047h1.5V1048h1.5V1045.5h1.5V1051h1.5V1044.5h1.5V1047.5h1.5V1052h1.5V1041h1.5V1045h1.5V1049h1.5V1045h1.5V1049h1.5V1049.5h1.5V1048.5h1.5V1041.5h1.5V1050h1.5V1049h1.5V1043.5h1.5V1049.5h1.5V1053.7z" fill="#2e3192"/>
<path d="M243.6 1096V1083.5h1.5V1083h1.5V1087.5h1.5V1093h1.5V1088h1.5V1087.5h1.5V1086.5h1.5V1087.5h1.5V1094.5h1.5V1095h3V1078.5h3V1095h1.5V1092.5h1.5V1093.5h3V1093h1.5V1092.5h1.5V1091h1.5V1093.5h1.5V1094.5h1.5V1095h1.5V1094.5h3V1092.5h1.5V1091h1.5V1083.5h1.5V1089.5h1.5V1088h1.5V1093.5h1.5V1092.5h1.5V1084h1.5V1092.5h1.5V1085.5h1.5V1095h1.5V1093h1.5V1093.5h1.5V1092h1.5V1093h1.5V1094.5h1.5V1095h1.5V1093h1.5V1093.5h3V1094h3V1095h3V1092.5h1.5V1091.5h1.5V1091h1.5V1094.5h1.5V1093.5h1.5V1079h1.5V1085.5h1.5V1091h1.5V1092h3V1092.5h1.5V1093.5h1.5V1089.5h1.5V1085h3V1088.5h1.5V1093h1.5V1092.5h1.5V1093h1.5V1090.5h1.5V1091.5h1.5V1095h1.5V1093.5h1.5V1094h1.5V1092h1.5V1092.5h1.5V1093h1.5V1092h1.5V1093h1.5V1089h1.5V1088.5h1.5V1080h1.5V1091h1.5V1090h1.5V1095h1.5V1086.5h1.5V1091.5h1.5V1093h1.5V1094h1.5V1092h1.5V1091.5h3V1095h1.5V1093.5h1.5V1091.5h1.5V1092h3V1095h1.5V1094h1.5V1091.5h1.5V1088h1.5V1078.5h1.5V1093.5h1.5V1094.5h1.5V1093h3V1092.5h3V1093.5h1.5V1092h1.5V1094h1.5V1092.5h1.5V1088.5h1.5V1091.5h1.5V1092h1.5V1088h1.5V1094.5h1.5V1095h1.5V1094h1.5V1093h1.5V1094.5h1.5V1095h1.5V1093.5h1.5V1093h1.5V1095h1.5V1094h1.5V1093.5h1.5V1094h1.5V1092.5h1.5V1091.5h1.5V1071h1.5V1094h1.5V1093.5h1.5V1094h1.5V1092.5h1.5V1094h1.5V1092.5h1.5V1094.5h1.5V1093h1.5V1092.5h1.5V1094.5h1.5V1093.5h1.5V1095h3V1093.5h1.5V1094.5h1.5V1094h7.51V1095h1.5V1094h1.5V1093h3V1095h7.51V1094h3V1093h1.5V1094.5h1.5V1086h1.5V1077h1.5V1091.5h1.5V1094.5h1.5V1093.5h1.5V1094h1.5V1091h1.5V1093h1.5V1091.5h1.5V1094h1.5V1092.5h1.5V1093.5h1.5V1091.5h1.5V1095h4.5V1081h1.5V1073.5h1.5V1092h1.5V1084.5h1.5V1070h1.5V1095h1.5V1093.5h1.5V1094h3V1094.5h1.5V1095h1.5V1091.5h1.5V1093.5h1.5V1091.5h1.5V1093.5h1.5V1094h1.5V1095h1.5V1093.5h1.5V1095h1.5V1094h1.5V1094.5h1.5V1093.5h1.5V1093h1.5V1092.5h1.5V1091h1.5V1095h1.5V1094.5h3V1093.5h1.5V1094.5h1.5V1093.5h1.5V1094h1.5V1094.5h1.5V1095h1.5V1094h1.5V1093h1.5V1091.5h1.5V1094h3V1095h3V1094h1.5V1095h1.5V1093h1.5V1094h1.5V1095h4.5V1093h1.5V1093.5h1.5V1094.5h1.5V1093.5h1.5V1092.5h1.5V1093.5h1.5V1092.5h1.5V1089h1.5V1095h3V1093h1.5V1095h3V1094.5h1.5V1095h1.5V1092h1.5V1093.5h1.5V1081h1.5V1089.5h1.5V1092h1.5V1093.5h1.5V1089h1.5V1095h1.5V1094h1.5V1095h1.5V1090.5h1.5V1083h1.5V1083.5h1.5V1093.5h1.5V1088.5h1.5V1092h1.5V1081h1.5V1088.5h1.5V1090h1.5V1094h1.5V1093h1.5V1092.5h1.5V1093.5h3V1093h1.5V1095h1.5V1094h1.5V1095h3V1093h3V1095h1.5V1093.5h1.5V1094.5h1.5V1093h1.5V1094h1.5V1095h1.5V1093.5h1.5V1092h1.5V1093h1.5V1094h1.5V1092h1.5V1093h1.5V1095h1.5V1093h3V1095h3V1092h1.5V1092.5h1.5V1094h1.5V1095h1.5V1092h1.5V1093.5h1.5V1093h1.5V1093.5h1.5V1092h3V1093.5h1.5V1094h4.5V1093h1.5V1091.5h1.5V1094h1.5V1092.5h1.5V1095h1.5V1094h1.5V1093.5h1.5V1095h1.5V1092h1.5V1092.5h1.5V1093.5h1.5V1092h3V1094h1.5V1093h1.5V1094h1.5V1092h1.5V1094.5h1.5V1090h1.5V1093h1.5V1089.5h1.5V1093.5h1.5V1093h3V1092.5h1.5V1093.5h1.5V1095h1.5V1091.5h1.5V1094.5h1.5V1092h1.5V1083.5h3V1093.5h1.5V1092h1.5V1094h1.5V1077h1.5V1090.5h1.5V1090h1.5V1092.5h1.5V1093.5h1.5V1087.5h1.5V1081h3V1094h1.5V1088h1.5V1090h1.5V1092h1.5V1093h1.5V1089.5h1.5V1089h1.5V1092h1.5V1090h3V1091.5h1.5V1095h1.5V1093.5h1.5V1077h1.5V1094h1.5V1092.5h1.5V1090h1.5V1091.5h1.5V1093h1.5V1096z" fill="#2e3192"/>
<text x="736.3" y="950.4" font-size="21.5" textLength="54.3" lengthAdjust="spacingAndGlyphs">[1–20]</text>
<text x="736.3" y="990" font-size="21.5" textLength="54.3" lengthAdjust="spacingAndGlyphs">[1–20]</text>
<text x="748.1" y="1033.8" font-size="21.5" textLength="42.5" lengthAdjust="spacingAndGlyphs">[1–5]</text>
<text x="748.1" y="1075.3" font-size="21.5" textLength="42.5" lengthAdjust="spacingAndGlyphs">[1–5]</text>
<text x="46.8" y="997.3" font-size="24.9" transform="rotate(-90 46.8 997.3)" textLength="99.8" lengthAdjust="spacingAndGlyphs">H3K27ac</text>
<text x="46.8" y="1119" font-size="24.9" transform="rotate(-90 46.8 1119)" textLength="106.4" lengthAdjust="spacingAndGlyphs">H3K9me3</text>
<line x1="59.9" y1="950.7" x2="59.9" y2="1003.7" stroke="#231f20" stroke-width="1.4"/>
<line x1="61.7" y1="1040.8" x2="61.7" y2="1093.7" stroke="#231f20" stroke-width="1.4"/>
<path d="M606.8 1108.6H321.7V849.4H600M605.8 1109.6V849.4" fill="none" stroke="#000" stroke-width="2" stroke-dasharray="13 12.2"/>
<g transform="translate(823.9 864.5)"><path d="M-13.2 -1.5V3.2C-13.2 5.6 -7 7.3 0 7.3S13.2 5.6 13.2 3.2V-1.5z" fill="#000" stroke="#000" stroke-width="0.8"/><path d="M-12.4 1.2C-9 3 -4 3.6 0 3.6S9 3 12.4 1.2C12.6 4.6 6 6.4 0 6.4S-12.6 4.6 -12.4 1.2z" fill="#f48b8b"/><path d="M-9 0.4C-5 1.2 5 1.2 9 0.4" stroke="#f9b7b7" stroke-width="0.7" fill="none"/><path d="M-13.9 -3.7V-2.2C-13.9 -0.3 -7 1 0 1S13.9 -0.3 13.9 -2.2V-3.7z" fill="#f4f4f4" stroke="#000" stroke-width="0.9"/><ellipse cx="0" cy="-3.8" rx="13.8" ry="3.1" fill="#f2f2f2" stroke="#000" stroke-width="1"/></g>
<g transform="translate(823.9 888.8)"><path d="M-13.2 -1.5V3.2C-13.2 5.6 -7 7.3 0 7.3S13.2 5.6 13.2 3.2V-1.5z" fill="#000" stroke="#000" stroke-width="0.8"/><path d="M-12.4 1.2C-9 3 -4 3.6 0 3.6S9 3 12.4 1.2C12.6 4.6 6 6.4 0 6.4S-12.6 4.6 -12.4 1.2z" fill="#f48b8b"/><path d="M-9 0.4C-5 1.2 5 1.2 9 0.4" stroke="#f9b7b7" stroke-width="0.7" fill="none"/><path d="M-13.9 -3.7V-2.2C-13.9 -0.3 -7 1 0 1S13.9 -0.3 13.9 -2.2V-3.7z" fill="#f4f4f4" stroke="#000" stroke-width="0.9"/><ellipse cx="0" cy="-3.8" rx="13.8" ry="3.1" fill="#f2f2f2" stroke="#000" stroke-width="1"/></g>
<g transform="translate(823.9 954.1)"><path d="M-13.2 -1.5V3.2C-13.2 5.6 -7 7.3 0 7.3S13.2 5.6 13.2 3.2V-1.5z" fill="#000" stroke="#000" stroke-width="0.8"/><path d="M-12.4 1.2C-9 3 -4 3.6 0 3.6S9 3 12.4 1.2C12.6 4.6 6 6.4 0 6.4S-12.6 4.6 -12.4 1.2z" fill="#f48b8b"/><path d="M-9 0.4C-5 1.2 5 1.2 9 0.4" stroke="#f9b7b7" stroke-width="0.7" fill="none"/><path d="M-13.9 -3.7V-2.2C-13.9 -0.3 -7 1 0 1S13.9 -0.3 13.9 -2.2V-3.7z" fill="#f4f4f4" stroke="#000" stroke-width="0.9"/><ellipse cx="0" cy="-3.8" rx="13.8" ry="3.1" fill="#f2f2f2" stroke="#000" stroke-width="1"/></g>
<g transform="translate(823.9 1048.7)"><path d="M-13.2 -1.5V3.2C-13.2 5.6 -7 7.3 0 7.3S13.2 5.6 13.2 3.2V-1.5z" fill="#000" stroke="#000" stroke-width="0.8"/><path d="M-12.4 1.2C-9 3 -4 3.6 0 3.6S9 3 12.4 1.2C12.6 4.6 6 6.4 0 6.4S-12.6 4.6 -12.4 1.2z" fill="#f48b8b"/><path d="M-9 0.4C-5 1.2 5 1.2 9 0.4" stroke="#f9b7b7" stroke-width="0.7" fill="none"/><path d="M-13.9 -3.7V-2.2C-13.9 -0.3 -7 1 0 1S13.9 -0.3 13.9 -2.2V-3.7z" fill="#f4f4f4" stroke="#000" stroke-width="0.9"/><ellipse cx="0" cy="-3.8" rx="13.8" ry="3.1" fill="#f2f2f2" stroke="#000" stroke-width="1"/></g>
<g transform="translate(806.4 902.9) scale(0.05070) translate(-225 -1240)" fill="none" stroke="#000" stroke-width="16" stroke-linecap="round" stroke-linejoin="round"><path d="M232 1600C270 1700 400 1760 560 1775C700 1788 850 1780 940 1787C850 1760 700 1765 580 1745C430 1720 320 1670 250 1595z" fill="#f4a3a3" stroke="#a45" stroke-width="9"/><path d="M240 1600C250 1480 320 1340 430 1290C520 1255 640 1265 715 1308" fill="#fff"/><path d="M240 1600C250 1480 320 1340 430 1290C520 1255 640 1265 715 1308C735 1275 760 1255 790 1248C820 1250 840 1275 850 1300C910 1365 990 1420 1045 1500C1030 1535 990 1552 945 1548C900 1550 850 1550 815 1560C780 1580 770 1600 785 1625L850 1655L780 1650C720 1650 660 1640 630 1580C600 1560 540 1600 520 1612L440 1625L300 1612z" fill="#fff" stroke-width="14"/><path d="M715 1308C720 1360 735 1400 765 1408C800 1400 805 1340 790 1290C780 1262 760 1262 740 1275" stroke-width="13"/><ellipse cx="806" cy="1283" rx="18" ry="34" transform="rotate(-28 806 1283)" fill="#fff" stroke-width="12"/><path d="M755 1450C770 1510 830 1550 900 1540" stroke-width="12"/><path d="M500 1500C485 1540 475 1580 450 1618" stroke-width="12"/><path d="M605 1565C615 1590 630 1610 650 1625" stroke-width="12"/><circle cx="915" cy="1440" r="24" fill="#000" stroke="none"/><path d="M942 1490L932 1528" stroke-width="20"/><ellipse cx="490" cy="1636" rx="52" ry="13" fill="#000" stroke="none"/><path d="M780 1620L855 1660" stroke-width="26"/></g>
<g transform="translate(806.4 982.3) scale(0.05070) translate(-225 -1240)" fill="none" stroke="#000" stroke-width="16" stroke-linecap="round" stroke-linejoin="round"><path d="M232 1600C270 1700 400 1760 560 1775C700 1788 850 1780 940 1787C850 1760 700 1765 580 1745C430 1720 320 1670 250 1595z" fill="#f4a3a3" stroke="#a45" stroke-width="9"/><path d="M240 1600C250 1480 320 1340 430 1290C520 1255 640 1265 715 1308" fill="#fff"/><path d="M240 1600C250 1480 320 1340 430 1290C520 1255 640 1265 715 1308C735 1275 760 1255 790 1248C820 1250 840 1275 850 1300C910 1365 990 1420 1045 1500C1030 1535 990 1552 945 1548C900 1550 850 1550 815 1560C780 1580 770 1600 785 1625L850 1655L780 1650C720 1650 660 1640 630 1580C600 1560 540 1600 520 1612L440 1625L300 1612z" fill="#fff" stroke-width="14"/><path d="M715 1308C720 1360 735 1400 765 1408C800 1400 805 1340 790 1290C780 1262 760 1262 740 1275" stroke-width="13"/><ellipse cx="806" cy="1283" rx="18" ry="34" transform="rotate(-28 806 1283)" fill="#fff" stroke-width="12"/><path d="M755 1450C770 1510 830 1550 900 1540" stroke-width="12"/><path d="M500 1500C485 1540 475 1580 450 1618" stroke-width="12"/><path d="M605 1565C615 1590 630 1610 650 1625" stroke-width="12"/><circle cx="915" cy="1440" r="24" fill="#000" stroke="none"/><path d="M942 1490L932 1528" stroke-width="20"/><ellipse cx="490" cy="1636" rx="52" ry="13" fill="#000" stroke="none"/><path d="M780 1620L855 1660" stroke-width="26"/></g>
<g transform="translate(806.4 1069) scale(0.05070) translate(-225 -1240)" fill="none" stroke="#000" stroke-width="16" stroke-linecap="round" stroke-linejoin="round"><path d="M232 1600C270 1700 400 1760 560 1775C700 1788 850 1780 940 1787C850 1760 700 1765 580 1745C430 1720 320 1670 250 1595z" fill="#f4a3a3" stroke="#a45" stroke-width="9"/><path d="M240 1600C250 1480 320 1340 430 1290C520 1255 640 1265 715 1308" fill="#fff"/><path d="M240 1600C250 1480 320 1340 430 1290C520 1255 640 1265 715 1308C735 1275 760 1255 790 1248C820 1250 840 1275 850 1300C910 1365 990 1420 1045 1500C1030 1535 990 1552 945 1548C900 1550 850 1550 815 1560C780 1580 770 1600 785 1625L850 1655L780 1650C720 1650 660 1640 630 1580C600 1560 540 1600 520 1612L440 1625L300 1612z" fill="#fff" stroke-width="14"/><path d="M715 1308C720 1360 735 1400 765 1408C800 1400 805 1340 790 1290C780 1262 760 1262 740 1275" stroke-width="13"/><ellipse cx="806" cy="1283" rx="18" ry="34" transform="rotate(-28 806 1283)" fill="#fff" stroke-width="12"/><path d="M755 1450C770 1510 830 1550 900 1540" stroke-width="12"/><path d="M500 1500C485 1540 475 1580 450 1618" stroke-width="12"/><path d="M605 1565C615 1590 630 1610 650 1625" stroke-width="12"/><circle cx="915" cy="1440" r="24" fill="#000" stroke="none"/><path d="M942 1490L932 1528" stroke-width="20"/><ellipse cx="490" cy="1636" rx="52" ry="13" fill="#000" stroke="none"/><path d="M780 1620L855 1660" stroke-width="26"/></g>
<rect x="269.4" y="1103.7" width="7" height="4" fill="#9d9fa2"/>
<rect x="279.4" y="1103.7" width="8.5" height="4" fill="#9d9fa2"/>
<rect x="649" y="1104" width="23.1" height="3.8" fill="#ed1c24"/>
<rect x="675.4" y="1104" width="115.7" height="3.8" fill="#9d9fa2"/>
<text x="235.4" y="1132.4" font-size="24.9" font-style="italic" textLength="87.5" lengthAdjust="spacingAndGlyphs">ZNF621</text>
<text x="611.4" y="1132.4" font-size="24.9" font-style="italic" textLength="97.3" lengthAdjust="spacingAndGlyphs">CTNNB1</text>
<text x="738.1" y="1132.4" font-size="24.9" font-style="italic" textLength="61.4" lengthAdjust="spacingAndGlyphs">ULK4</text>
<text x="21.8" y="1169.8" font-size="24.9" textLength="171.9" lengthAdjust="spacingAndGlyphs">Compartments:</text>
<rect x="201.4" y="1151.9" width="17.7" height="17.7" fill="#c62026"/>
<text x="223.9" y="1169.8" font-size="24.9" textLength="51.2" lengthAdjust="spacingAndGlyphs">A.1.1</text>
<rect x="282.8" y="1151.9" width="17.7" height="17.7" fill="#ee4b4e"/>
<text x="304.5" y="1169.8" font-size="24.9" textLength="51.9" lengthAdjust="spacingAndGlyphs">A.1.2</text>
<rect x="368.5" y="1151.9" width="17.7" height="17.7" fill="#f28b8c"/>
<text x="388.9" y="1169.8" font-size="24.9" textLength="51.2" lengthAdjust="spacingAndGlyphs">A.2.1</text>
<rect x="453.1" y="1151.9" width="17.7" height="17.7" fill="#f7b4b5"/>
<text x="474" y="1169.8" font-size="24.9" textLength="52.5" lengthAdjust="spacingAndGlyphs">A.2.2</text>
<rect x="539" y="1151.9" width="17.7" height="17.7" fill="#d9d6ea"/>
<text x="559.8" y="1169.8" font-size="24.9" textLength="51.1" lengthAdjust="spacingAndGlyphs">B.1.1</text>
<rect x="621.2" y="1151.9" width="17.7" height="17.7" fill="#8b89c2"/>
<text x="642.1" y="1169.8" font-size="24.9" textLength="51.7" lengthAdjust="spacingAndGlyphs">B.1.2</text>
<rect x="704.3" y="1151.9" width="17.7" height="17.7" fill="#4f5ba9"/>
<text x="724.5" y="1169.8" font-size="24.9" textLength="50.7" lengthAdjust="spacingAndGlyphs">B.2.1</text>
<rect x="782.9" y="1151.9" width="17.7" height="17.7" fill="#2e3192"/>
<text x="803.4" y="1169.8" font-size="24.9" textLength="51.1" lengthAdjust="spacingAndGlyphs">B.2.2</text>
<text transform="translate(1015.24 822) scale(1.22 1)" font-size="31.5" font-weight="bold" stroke="#000" stroke-width="1.2">j</text>
<text x="1140.7" y="829.7" font-size="24.9" textLength="198.9" lengthAdjust="spacingAndGlyphs">Chr. 2 215,300 kb</text>
<text x="1401" y="829.7" font-size="24.9" textLength="123.8" lengthAdjust="spacingAndGlyphs">215,900 kb</text>
<text x="1586.2" y="829.7" font-size="24.9" textLength="124.1" lengthAdjust="spacingAndGlyphs">216,500 kb</text>
<text x="1774.3" y="829.7" font-size="24.9" textLength="123.8" lengthAdjust="spacingAndGlyphs">217,100 kb</text>
<line x1="1267.3" y1="847.6" x2="1824.3" y2="847.6" stroke="#000" stroke-width="1.8"/>
<path d="M1267.9 847.6V837.3M1329.66 847.6V837.3M1391.41 847.6V837.3M1453.17 847.6V837.3M1514.92 847.6V837.3M1576.68 847.6V837.3M1638.43 847.6V837.3M1700.19 847.6V837.3M1761.94 847.6V837.3M1823.7 847.6V837.3" fill="none" stroke="#000" stroke-width="1.2"/>
<rect x="1266.1" y="858.6" width="62.8" height="17.9" fill="#d9d6ea"/>
<rect x="1328.6" y="858.6" width="216.2" height="17.9" fill="#f28b8c"/>
<rect x="1544.5" y="858.6" width="278.7" height="17.9" fill="#ec1c24"/>
<rect x="1266.1" y="884.2" width="77.6" height="17.6" fill="#d9d6ea"/>
<rect x="1343.4" y="884.2" width="186" height="17.6" fill="#fad2d2"/>
<rect x="1529.1" y="884.2" width="185.8" height="17.6" fill="#ec1c24"/>
<rect x="1714.6" y="884.2" width="62.3" height="17.6" fill="#ee4b4e"/>
<rect x="1776.6" y="884.2" width="46.6" height="17.6" fill="#ec1c24"/>
<rect x="1266.1" y="910.3" width="77.6" height="18.4" fill="#4f5ba9"/>
<rect x="1343.4" y="910.3" width="47.1" height="18.4" fill="#fad2d2"/>
<rect x="1390.2" y="910.3" width="139.2" height="18.4" fill="#8b89c2"/>
<rect x="1529.1" y="910.3" width="185.8" height="18.4" fill="#ec1c24"/>
<rect x="1714.6" y="910.3" width="62.3" height="18.4" fill="#ee4b4e"/>
<rect x="1776.6" y="910.3" width="30.5" height="18.4" fill="#ec1c24"/>
<rect x="1806.8" y="910.3" width="16.4" height="18.4" fill="#ee4b4e"/>
<text x="1434.5" y="875.7" font-size="24.9" fill="#fff" textLength="53.7" lengthAdjust="spacingAndGlyphs">A.2.1</text>
<text x="1434.5" y="901.8" font-size="24.9" textLength="55" lengthAdjust="spacingAndGlyphs">A.2.2</text>
<text x="1434.5" y="928.2" font-size="24.9" fill="#fff" textLength="55" lengthAdjust="spacingAndGlyphs">B.1.2</text>
<text x="1176.2" y="876.5" font-size="24.9" textLength="80.5" lengthAdjust="spacingAndGlyphs">Control</text>
<text x="1199.1" y="901.8" font-size="24.9" textLength="57.6" lengthAdjust="spacingAndGlyphs">WGD</text>
<text x="1092.1" y="927.4" font-size="24.9" textLength="164.6" lengthAdjust="spacingAndGlyphs">20w-pWGD T1</text>
<text x="1176.2" y="969.9" font-size="24.9" textLength="80.5" lengthAdjust="spacingAndGlyphs">Control</text>
<text x="1092.1" y="1008.8" font-size="24.9" textLength="164.6" lengthAdjust="spacingAndGlyphs">20w-pWGD T1</text>
<text x="1176.2" y="1060.5" font-size="24.9" textLength="80.5" lengthAdjust="spacingAndGlyphs">Control</text>
<text x="1092.1" y="1098.3" font-size="24.9" textLength="164.6" lengthAdjust="spacingAndGlyphs">20w-pWGD T1</text>
<path d="M1266.1 969.6V969h3V968h1.5V965.5h1.5V969h1.5V968h3V966h1.5V966.5h1.5V969h1.5V968.5h1.5V967h1.5V965.5h1.5V967h1.5V968h1.5V965h1.5V969h1.5V967h3V965.5h1.5V966.5h1.5V969h1.5V964h1.5V967.5h1.5V969h1.5V965h1.5V968h1.5V965.5h3V965h1.5V962h1.5V963h1.5V967.5h1.5V965h1.5V966h1.5V966.5h1.5V967h1.5V965.5h1.5V966.5h1.5V964h1.5V965.5h1.5V960.5h1.5V961h1.5V967h1.5V963h1.5V964.5h1.5V965.5h1.5V960h3V966.5h1.5V964.5h1.5V964h1.5V966h1.5V959.5h1.5V960.5h1.5V967.5h1.5V960.5h1.5V964h1.5V967h1.5V963.5h1.5V965h1.5V967h1.5V966.5h3V960h1.5V968.5h1.5V966h1.5V968h1.5V969h1.5V966.5h1.5V968.5h1.5V968h1.5V967h1.5V968h1.5V969h1.5V967h1.5V968h1.5V967.5h1.5V966.5h1.5V967.5h1.5V968h1.5V967.5h1.5V967h1.5V968.5h1.5V968h3V967.5h1.5V966.5h1.5V968h1.5V969h1.5V967.5h1.5V967h1.5V968.5h1.5V967.5h1.5V958.5h3V965h1.5V966.5h1.5V969h3V968h1.5V967.5h1.5V966.5h1.5V969h1.5V968h1.5V966.5h1.5V967.5h1.5V968.5h1.5V967.5h1.5V968.5h1.5V967h1.5V969h1.5V966.5h1.5V969h3V968h1.5V967.5h3V969h1.5V966.5h1.5V967.5h1.5V966.5h1.5V968.5h1.5V967.5h1.5V967h1.5V969h3V965.5h6V963.5h1.5V967.5h1.5V962.5h1.5V967.5h1.5V961h1.5V960h1.5V965.5h3V969h1.5V966.5h1.5V967.5h1.5V968.5h1.5V966.5h1.5V967h1.5V967.5h1.5V965.5h1.5V968.5h1.5V967h1.5V966h1.5V964h1.5V965h1.5V964h1.5V966h1.5V968.5h1.5V966.5h1.5V965.5h1.5V969h1.5V966h1.5V968h1.5V969h1.5V967h1.5V963h1.5V965.5h1.5V968.5h1.5V969h1.5V968.5h1.5V967.5h1.5V967h1.5V969h1.5V965.5h3V968h1.5V966.5h1.5V965.5h1.5V967.5h1.5V965.5h1.5V964.5h1.5V966.5h3V962.5h1.5V963.5h1.5V966.5h1.5V964h1.5V966.5h1.5V967.5h1.5V963.5h1.5V967.5h1.5V966.5h3V967h1.5V968h3V969h1.5V965.5h1.5V969h1.5V968.5h3V968h1.5V967h3V968.5h1.5V969h1.5V968.5h1.5V968h1.5V968.5h1.5V969h1.5V967.5h1.5V968h1.5V967.5h1.5V968h1.5V967.5h4.5V969h1.5V967.5h1.5V968h1.5V966.5h1.5V965h1.5V966.5h1.5V964.5h1.5V967h1.5V964.5h1.5V961.5h1.5V966h1.5V969h1.5V963.5h1.5V966.5h1.5V965h1.5V962h1.5V968h1.5V968.5h1.5V968h1.5V966.5h1.5V966h1.5V967h1.5V967.5h1.5V966.5h3V967.5h1.5V968h1.5V967h1.5V967.5h1.5V965.5h1.5V964h1.5V962.5h1.5V968.5h1.5V965h1.5V967.5h1.5V966h1.5V965.5h1.5V963.5h1.5V966h1.5V969h1.5V967h1.5V961h1.5V959.5h1.5V968.5h1.5V951.5h1.5V965h3V968.5h3V966.5h1.5V968.5h1.5V966.5h1.5V969h3V966.5h1.5V967.5h1.5V966.5h1.5V962h1.5V964.5h1.5V967h1.5V966.5h1.5V967h1.5V961.5h1.5V959h1.5V967h1.5V957h1.5V964h1.5V959h1.5V956h1.5V961h4.5V967h3V967.5h4.5V967h1.5V968h1.5V969h1.5V968h1.5V967.5h1.5V968h1.5V965h1.5V964h1.5V965.5h1.5V968.5h1.5V963h1.5V967.5h1.5V966h1.5V967h1.5V966.5h1.5V968.5h1.5V967.5h1.5V967h1.5V966.5h1.5V967.5h1.5V962.5h1.5V958h1.5V955.5h1.5V941.5h3V966h1.5V959.5h1.5V953h1.5V960.5h1.5V966h1.5V963.5h1.5V961h1.5V962.5h1.5V964h1.5V951.5h3V969h1.5V966.5h1.5V966h1.5V966.5h1.5V965.5h1.5V967.5h1.5V968.5h1.5V969h1.5V967h3V965h1.5V966.5h1.5V968h4.5V962h1.5V955.5h1.5V967.5h1.5V964.5h1.5V967.5h1.5V968h3V968.5h1.5V966.5h1.5V966h1.5V965h1.5V968.5h1.5V965h1.5V966.5h1.5V969h1.5V968h1.5V965.5h1.5V966.5h1.5V965h1.5V966.5h1.5V968h3V965.5h1.5V966.5h1.5V967.5h1.5V965.5h1.5V960h1.5V968h1.5V967h1.5V966h1.5V969.6z" fill="#1b75bc"/>
<path d="M1266.1 1011.8V1008.5h1.5V1009h1.5V1005h1.5V1010h1.5V1011h1.5V1009h1.5V1011h3V1008.5h1.5V1011h1.5V1009.5h1.5V1010h1.5V1009h1.5V1010h1.5V1002h1.5V1009.5h1.5V1008.5h3V1010.5h1.5V1010h1.5V1011h1.5V1009h1.5V1010h1.5V1009.5h1.5V1009h1.5V1005h3V1009.5h1.5V1005h1.5V1000h1.5V1006.5h1.5V1010h1.5V1008.5h1.5V1007h1.5V1008.5h1.5V1010.5h1.5V1007.5h1.5V1011h1.5V1009h1.5V1010h1.5V1008.5h1.5V1005h1.5V1002h1.5V1008.5h1.5V1008h1.5V1007.5h1.5V1009.5h3V1009h1.5V1008.5h1.5V1011h1.5V1009h1.5V1010.5h1.5V1009.5h3V1008.5h1.5V1010h1.5V1009.5h1.5V1011h1.5V1010.5h1.5V1011h1.5V1010h1.5V1011h3V1009.5h1.5V1009h1.5V1009.5h1.5V1010.5h1.5V1008.5h1.5V1010.5h1.5V1009.5h1.5V1009h1.5V1008.5h3V1006.5h1.5V1009.5h1.5V1008h1.5V1005.5h1.5V999h1.5V1010h1.5V999h1.5V1007.5h1.5V1009h1.5V1010.5h1.5V1009h1.5V1010h1.5V1003.5h1.5V1004h1.5V1009.5h1.5V1006.5h1.5V997h1.5V1010.5h1.5V1007.5h3V1006h1.5V1011h1.5V1010h1.5V1006h1.5V1009.5h1.5V1010.5h1.5V1010h1.5V1011h1.5V1007h1.5V1008h1.5V1011h1.5V1008.5h1.5V1007h1.5V1008.5h1.5V1009h1.5V1011h1.5V1008.5h1.5V1005h1.5V1002.5h1.5V1007h1.5V1000h1.5V999.5h1.5V1006.5h1.5V1004.5h1.5V1007.5h1.5V1000.5h1.5V1003.5h1.5V1002h1.5V1006h1.5V1006.5h1.5V1008h1.5V1010.5h1.5V1006h4.5V1007h1.5V1009.5h1.5V1007h1.5V995h1.5V1009.5h1.5V1010h1.5V1006h3V1010h1.5V1005.5h1.5V1006.5h1.5V1008.5h1.5V1009h1.5V1007.5h3V1006.5h1.5V1008.5h1.5V1002.5h1.5V1008h1.5V995h1.5V1008.5h1.5V1007h1.5V1004.5h1.5V1000.5h1.5V1007h1.5V1006.5h1.5V1010h1.5V1006.5h1.5V1008.5h1.5V1011h1.5V1008.5h1.5V1009.5h3V1010h1.5V1009h1.5V1007.5h1.5V1006h1.5V1010h1.5V992h3V1000h1.5V992.5h1.5V1010h3V1011h3V1010h1.5V1010.5h1.5V1010h1.5V1010.5h1.5V1009.5h1.5V1011h1.5V1010.5h1.5V1011h3V1010h3V1011h11.99V1010.5h1.5V1011h8.99V1010.5h3V1011h1.5V1010h1.5V1011h3V1010.5h1.5V1010h4.5V1010.5h1.5V1011h1.5V1009.5h1.5V1010.5h1.5V1010h3V1011h1.5V1010h1.5V1010.5h1.5V1010h1.5V1011h3V1010.5h1.5V1011h3V1010.5h1.5V1010h3V1011h1.5V1010h1.5V1011h4.5V1010h1.5V1011h7.49V1010h1.5V1009.5h1.5V1010h1.5V1011h4.5V1010h1.5V1010.5h1.5V1011h4.5V1010.5h1.5V1011h7.49V1010.5h3V1011h6V1010.5h1.5V1011h3V1009.5h1.5V1010h1.5V1010.5h1.5V1009.5h1.5V1010.5h1.5V995h1.5V996.5h1.5V1010h1.5V995.5h1.5V1008.5h1.5V991.5h1.5V1001h1.5V1008.5h1.5V1005.5h1.5V1008h3V1008.5h1.5V1009.5h3V1010.5h1.5V1011h1.5V1010h3V1008h1.5V1009.5h1.5V1010h1.5V1008.5h1.5V1011h1.5V1010h1.5V1010.5h1.5V1011h1.5V1006h1.5V1010h1.5V1009.5h1.5V1008.5h1.5V1011h1.5V1010h1.5V1011h3V1008h1.5V1007h1.5V1000.5h1.5V1008h1.5V1006.5h1.5V1009.5h1.5V1009h1.5V1008h1.5V1000.5h3V1007.5h1.5V1009h1.5V1010.5h1.5V1009.5h1.5V1008h1.5V1010h1.5V1008.5h1.5V1010h1.5V1009.5h1.5V1011h3V1010.5h1.5V1009h1.5V1008.5h1.5V1011h1.5V1008h1.5V1011h1.5V1009h3V1008.5h3V1009h1.5V1008h1.5V1009.5h1.5V1010.5h1.5V999.5h1.5V989.5h1.5V1006h1.5V995h3V1010.5h1.5V1008.5h1.5V1010h1.5V1008.5h6V1007h1.5V1007.5h1.5V1003.5h3V1002.5h1.5V1010.5h1.5V1006.5h1.5V1009.5h1.5V1010h1.5V1009.5h1.5V1010.5h1.5V1010h1.5V1008h1.5V1009h1.5V1010h1.5V1008.5h1.5V1009.5h1.5V1010.5h1.5V1008.5h1.5V1008h1.5V1011.8z" fill="#1b75bc"/>
<path d="M1266.1 1059.9V1058h1.5V1055.5h3V1056h1.5V1053.5h1.5V1057h1.5V1047h1.5V1055h1.5V1046.5h1.5V1055h1.5V1055.5h1.5V1053h1.5V1055.5h1.5V1058h1.5V1056h1.5V1058.5h3V1055h1.5V1058.5h3V1057.5h1.5V1059h1.5V1055.5h1.5V1053.5h1.5V1044.5h3V1049.5h1.5V1055h1.5V1054.5h1.5V1055h1.5V1055.5h1.5V1052.5h1.5V1053h3V1050h1.5V1057.5h3V1058h1.5V1052.5h1.5V1054.5h1.5V1057.5h1.5V1054h1.5V1050.5h1.5V1047h1.5V1048.5h1.5V1051h1.5V1054h1.5V1056h1.5V1059h1.5V1057.5h1.5V1052.5h1.5V1053h1.5V1056h1.5V1057h1.5V1050h1.5V1056h3V1055.5h1.5V1057h1.5V1058h1.5V1059h1.5V1057h1.5V1059h1.5V1057h1.5V1059h1.5V1056.5h1.5V1058h1.5V1059h1.5V1057.5h3V1055.5h1.5V1056.5h1.5V1052h1.5V1059h1.5V1057h3V1058.5h1.5V1056.5h1.5V1057h1.5V1057.5h1.5V1057h1.5V1057.5h1.5V1058h3V1055h1.5V1056.5h4.5V1057.5h1.5V1057h1.5V1058h1.5V1053h1.5V1057.5h1.5V1055.5h1.5V1045.5h3V1059h1.5V1058h3V1057.5h1.5V1058.5h1.5V1057.5h3V1059h1.5V1058h1.5V1047h3V1057.5h1.5V1059h1.5V1057h1.5V1058h1.5V1057h1.5V1058h3V1059h3V1058.5h1.5V1057h1.5V1059h1.5V1054.5h1.5V1057h1.5V1058h1.5V1054.5h1.5V1057.5h3V1058.5h1.5V1059h4.5V1057h4.5V1059h4.5V1056.5h1.5V1058.5h1.5V1059h1.5V1054.5h1.5V1056.5h3V1059h1.5V1056h1.5V1056.5h1.5V1056h1.5V1059h3V1058.5h1.5V1056.5h3V1059h3V1057.5h1.5V1058.5h1.5V1056h1.5V1057h1.5V1059h1.5V1055.5h1.5V1056h1.5V1056.5h3V1049.5h1.5V1045.5h1.5V1052.5h1.5V1058h1.5V1056.5h1.5V1058h1.5V1058.5h1.5V1056h1.5V1056.5h1.5V1058h1.5V1059h1.5V1054.5h1.5V1050.5h1.5V1054.5h1.5V1053h1.5V1055.5h1.5V1043h1.5V1055.5h1.5V1057.5h1.5V1055.5h1.5V1057h1.5V1056h1.5V1052.5h1.5V1056h3V1050h1.5V1048h1.5V1058h1.5V1056h1.5V1058h1.5V1056h1.5V1059h1.5V1058h1.5V1056h1.5V1057.5h1.5V1056h1.5V1057.5h1.5V1053.5h1.5V1051.5h1.5V1053h1.5V1049h1.5V1059h1.5V1050h1.5V1058h1.5V1052h1.5V1058h1.5V1055.5h1.5V1058.5h1.5V1058h1.5V1056h1.5V1059h1.5V1058.5h3V1057.5h3V1056.5h1.5V1058h1.5V1056.5h1.5V1058.5h1.5V1057.5h1.5V1059h1.5V1056h1.5V1058.5h1.5V1059h3V1057.5h3V1056h1.5V1056.5h1.5V1055h1.5V1057h1.5V1056h1.5V1057h1.5V1052h1.5V1057h1.5V1056h1.5V1049.5h1.5V1057h1.5V1059h3V1058.5h1.5V1055.5h1.5V1058.5h1.5V1057h1.5V1051.5h1.5V1034h1.5V1046.5h1.5V1044.5h1.5V1052.5h1.5V1057.5h1.5V1058h1.5V1059h1.5V1058.5h1.5V1057h1.5V1057.5h1.5V1057h1.5V1058h1.5V1055h1.5V1057h1.5V1059h1.5V1058.5h1.5V1058h1.5V1057.5h1.5V1059h1.5V1058.5h1.5V1059h1.5V1057.5h1.5V1058.5h3V1055h1.5V1059h7.49V1057h1.5V1059h1.5V1058h1.5V1059h1.5V1058h1.5V1057.5h1.5V1058h1.5V1058.5h1.5V1045.5h3V1058h1.5V1059h1.5V1057.5h1.5V1059h1.5V1057h1.5V1057.5h1.5V1057h3V1059h1.5V1056.5h1.5V1059h1.5V1056.5h1.5V1058.5h1.5V1053.5h1.5V1059h1.5V1052h1.5V1055h1.5V1056.5h3V1056h1.5V1058.5h1.5V1058h1.5V1057h3V1058.5h1.5V1056h1.5V1055.5h1.5V1058.5h1.5V1059h3V1057h1.5V1058.5h1.5V1059h1.5V1057h1.5V1058.5h1.5V1056.5h1.5V1056h1.5V1055.5h1.5V1056h1.5V1057.5h1.5V1055h1.5V1053.5h1.5V1058h1.5V1050.5h1.5V1057.5h1.5V1058h1.5V1050h1.5V1057h1.5V1054.5h1.5V1057h1.5V1051.5h1.5V1055.5h1.5V1052.5h1.5V1053h1.5V1055.5h1.5V1054.5h1.5V1057.5h1.5V1053.5h3V1049.5h1.5V1056h1.5V1050.5h1.5V1055h1.5V1057h1.5V1049.5h1.5V1052.5h1.5V1043.5h1.5V1058.5h1.5V1043.5h1.5V1049h1.5V1056h1.5V1056.5h1.5V1042h1.5V1055.5h1.5V1056.5h1.5V1045.5h1.5V1056h1.5V1038.5h1.5V1048h1.5V1040h1.5V1056h1.5V1046h1.5V1049.5h1.5V1052h1.5V1053.5h1.5V1052h1.5V1059.9z" fill="#2e3192"/>
<path d="M1266.1 1100.1V1073h1.5V1084.5h1.5V1087.5h1.5V1076.5h1.5V1087h1.5V1087.5h1.5V1073h4.5V1095.5h1.5V1077h1.5V1080.5h1.5V1078h1.5V1073h1.5V1088h1.5V1083h1.5V1087h1.5V1077h1.5V1080h1.5V1089h1.5V1086h1.5V1085.5h1.5V1091.5h1.5V1088.5h1.5V1084h1.5V1086.5h1.5V1079.5h1.5V1082h1.5V1082.5h1.5V1073h3V1086h1.5V1089h1.5V1090h1.5V1091h3V1097.5h1.5V1087h1.5V1085.5h1.5V1089.5h1.5V1091h1.5V1084h1.5V1073h1.5V1080.5h1.5V1073h1.5V1086h1.5V1077h1.5V1083h1.5V1073h1.5V1090h1.5V1074h1.5V1085h1.5V1080.5h1.5V1085.5h1.5V1073h1.5V1086h1.5V1097h1.5V1097.5h1.5V1097h1.5V1098h1.5V1093.5h1.5V1096.5h1.5V1092.5h1.5V1098.5h1.5V1099.5h1.5V1095.5h1.5V1098h1.5V1096.5h1.5V1097h1.5V1099.5h1.5V1096.5h1.5V1096h1.5V1098h3V1096.5h1.5V1097.5h1.5V1096.5h1.5V1098h1.5V1095h3V1086.5h1.5V1088h1.5V1091.5h1.5V1090.5h1.5V1090h1.5V1088.5h1.5V1087.5h1.5V1093.5h1.5V1094h1.5V1088.5h1.5V1079.5h1.5V1095.5h1.5V1089h1.5V1089.5h1.5V1093h1.5V1082h1.5V1091.5h1.5V1088.5h1.5V1094.5h1.5V1091.5h1.5V1093h1.5V1096.5h3V1082.5h1.5V1095.5h1.5V1092.5h1.5V1090h1.5V1081h1.5V1089h1.5V1092.5h1.5V1094.5h1.5V1085h1.5V1089.5h1.5V1096.5h1.5V1093.5h1.5V1095.5h1.5V1090.5h1.5V1096.5h1.5V1091.5h1.5V1079.5h1.5V1089.5h1.5V1092h1.5V1094h1.5V1089.5h1.5V1095.5h1.5V1090h1.5V1092h1.5V1094h1.5V1094.5h1.5V1079.5h1.5V1094.5h1.5V1091.5h1.5V1094h1.5V1093h1.5V1089.5h1.5V1095.5h1.5V1093h1.5V1092.5h1.5V1091h1.5V1085h1.5V1093.5h1.5V1093h1.5V1097.5h1.5V1092h1.5V1094.5h1.5V1091.5h1.5V1080h1.5V1094h1.5V1091.5h1.5V1097h1.5V1092.5h1.5V1095h1.5V1089.5h1.5V1091h1.5V1098h1.5V1092h1.5V1087h1.5V1083.5h1.5V1085.5h1.5V1080.5h1.5V1082h1.5V1084.5h1.5V1091.5h1.5V1094h1.5V1095.5h1.5V1095h1.5V1087.5h1.5V1088.5h3V1093.5h1.5V1098.5h1.5V1092h3V1095h1.5V1092h1.5V1097h1.5V1099h1.5V1096.5h1.5V1092h1.5V1097h3V1096.5h1.5V1094h1.5V1097.5h1.5V1097h1.5V1097.5h1.5V1094.5h1.5V1094h1.5V1097.5h1.5V1091h1.5V1098.5h1.5V1099.5h1.5V1095h4.5V1096.5h1.5V1098.5h1.5V1095.5h1.5V1099h1.5V1095.5h1.5V1094h1.5V1097.5h1.5V1095h1.5V1096.5h3V1097h1.5V1094h1.5V1095h1.5V1095.5h1.5V1097.5h1.5V1094h1.5V1092h1.5V1097.5h1.5V1094.5h1.5V1096.5h1.5V1094.5h1.5V1091.5h1.5V1092h1.5V1095h1.5V1094.5h1.5V1096h1.5V1097h1.5V1098.5h1.5V1098h1.5V1096.5h1.5V1097h1.5V1099h3V1098.5h1.5V1095.5h3V1091h1.5V1097.5h1.5V1093h1.5V1097h1.5V1098.5h1.5V1097.5h1.5V1092h1.5V1095h1.5V1096h1.5V1097.5h3V1094.5h1.5V1098h1.5V1095h1.5V1076.5h1.5V1092.5h1.5V1087h1.5V1091.5h1.5V1096.5h1.5V1097.5h1.5V1091.5h1.5V1097h1.5V1096.5h1.5V1097h1.5V1097.5h3V1099.5h1.5V1096.5h1.5V1095.5h1.5V1099h1.5V1095h1.5V1092h1.5V1098h1.5V1094.5h1.5V1096.5h1.5V1096h1.5V1096.5h1.5V1095h1.5V1093.5h1.5V1097.5h1.5V1098h1.5V1099h1.5V1097.5h1.5V1088.5h1.5V1098.5h1.5V1095.5h1.5V1096.5h1.5V1093h1.5V1095h1.5V1096h1.5V1095h1.5V1095.5h3V1092h1.5V1093.5h1.5V1097.5h1.5V1097h1.5V1098.5h1.5V1091h1.5V1096h1.5V1095h1.5V1099h1.5V1090h1.5V1098h1.5V1097.5h1.5V1087h1.5V1097.5h1.5V1096.5h1.5V1099.5h1.5V1097.5h1.5V1094.5h1.5V1096.5h1.5V1091.5h1.5V1095h1.5V1090h1.5V1094.5h1.5V1096h1.5V1094h1.5V1096h1.5V1097.5h1.5V1095h1.5V1094h1.5V1091h1.5V1097h1.5V1096h1.5V1095.5h1.5V1096h3V1097.5h1.5V1097h1.5V1095h1.5V1097.5h1.5V1098h1.5V1092.5h1.5V1094h1.5V1090.5h1.5V1095.5h1.5V1097.5h1.5V1094.5h1.5V1092.5h1.5V1095h1.5V1099h1.5V1091h1.5V1092.5h1.5V1098.5h1.5V1097.5h1.5V1095.5h1.5V1095h1.5V1094.5h1.5V1096h3V1099.5h1.5V1094.5h1.5V1098.5h1.5V1096h1.5V1090h1.5V1094h1.5V1097.5h1.5V1094.5h3V1099h1.5V1095h1.5V1099h3V1095h3V1096.5h1.5V1098h1.5V1097h1.5V1090.5h1.5V1095.5h1.5V1093h1.5V1094h1.5V1096.5h1.5V1095.5h3V1097.5h1.5V1095h1.5V1097.5h1.5V1079.5h1.5V1094.5h1.5V1100.1z" fill="#2e3192"/>
<text x="1778.1" y="955.1" font-size="21.5" textLength="43.5" lengthAdjust="spacingAndGlyphs">[1–5]</text>
<text x="1778.1" y="993.5" font-size="21.5" textLength="43.5" lengthAdjust="spacingAndGlyphs">[1–5]</text>
<text x="1778.1" y="1040.6" font-size="21.5" textLength="43.5" lengthAdjust="spacingAndGlyphs">[1–5]</text>
<text x="1778.1" y="1079.2" font-size="21.5" textLength="43.5" lengthAdjust="spacingAndGlyphs">[1–5]</text>
<text x="1075.5" y="1003.7" font-size="24.9" transform="rotate(-90 1075.5 1003.7)" textLength="123.6" lengthAdjust="spacingAndGlyphs">H3K27me3</text>
<text x="1075.5" y="1122.9" font-size="24.9" transform="rotate(-90 1075.5 1122.9)" textLength="107.7" lengthAdjust="spacingAndGlyphs">H3K9me3</text>
<line x1="1084.4" y1="953.3" x2="1084.4" y2="1006.2" stroke="#231f20" stroke-width="1.4"/>
<line x1="1087" y1="1043.3" x2="1087" y2="1096.3" stroke="#231f20" stroke-width="1.4"/>
<path d="M1537.8 1111.6H1387.7V852.2H1536.8M1536.8 1112.6V852.2" fill="none" stroke="#000" stroke-width="2" stroke-dasharray="13 12.2"/>
<g transform="translate(1855 868.3)"><path d="M-13.2 -1.5V3.2C-13.2 5.6 -7 7.3 0 7.3S13.2 5.6 13.2 3.2V-1.5z" fill="#000" stroke="#000" stroke-width="0.8"/><path d="M-12.4 1.2C-9 3 -4 3.6 0 3.6S9 3 12.4 1.2C12.6 4.6 6 6.4 0 6.4S-12.6 4.6 -12.4 1.2z" fill="#f48b8b"/><path d="M-9 0.4C-5 1.2 5 1.2 9 0.4" stroke="#f9b7b7" stroke-width="0.7" fill="none"/><path d="M-13.9 -3.7V-2.2C-13.9 -0.3 -7 1 0 1S13.9 -0.3 13.9 -2.2V-3.7z" fill="#f4f4f4" stroke="#000" stroke-width="0.9"/><ellipse cx="0" cy="-3.8" rx="13.8" ry="3.1" fill="#f2f2f2" stroke="#000" stroke-width="1"/></g>
<g transform="translate(1855 892.7)"><path d="M-13.2 -1.5V3.2C-13.2 5.6 -7 7.3 0 7.3S13.2 5.6 13.2 3.2V-1.5z" fill="#000" stroke="#000" stroke-width="0.8"/><path d="M-12.4 1.2C-9 3 -4 3.6 0 3.6S9 3 12.4 1.2C12.6 4.6 6 6.4 0 6.4S-12.6 4.6 -12.4 1.2z" fill="#f48b8b"/><path d="M-9 0.4C-5 1.2 5 1.2 9 0.4" stroke="#f9b7b7" stroke-width="0.7" fill="none"/><path d="M-13.9 -3.7V-2.2C-13.9 -0.3 -7 1 0 1S13.9 -0.3 13.9 -2.2V-3.7z" fill="#f4f4f4" stroke="#000" stroke-width="0.9"/><ellipse cx="0" cy="-3.8" rx="13.8" ry="3.1" fill="#f2f2f2" stroke="#000" stroke-width="1"/></g>
<g transform="translate(1855 958.4)"><path d="M-13.2 -1.5V3.2C-13.2 5.6 -7 7.3 0 7.3S13.2 5.6 13.2 3.2V-1.5z" fill="#000" stroke="#000" stroke-width="0.8"/><path d="M-12.4 1.2C-9 3 -4 3.6 0 3.6S9 3 12.4 1.2C12.6 4.6 6 6.4 0 6.4S-12.6 4.6 -12.4 1.2z" fill="#f48b8b"/><path d="M-9 0.4C-5 1.2 5 1.2 9 0.4" stroke="#f9b7b7" stroke-width="0.7" fill="none"/><path d="M-13.9 -3.7V-2.2C-13.9 -0.3 -7 1 0 1S13.9 -0.3 13.9 -2.2V-3.7z" fill="#f4f4f4" stroke="#000" stroke-width="0.9"/><ellipse cx="0" cy="-3.8" rx="13.8" ry="3.1" fill="#f2f2f2" stroke="#000" stroke-width="1"/></g>
<g transform="translate(1855 1052.6)"><path d="M-13.2 -1.5V3.2C-13.2 5.6 -7 7.3 0 7.3S13.2 5.6 13.2 3.2V-1.5z" fill="#000" stroke="#000" stroke-width="0.8"/><path d="M-12.4 1.2C-9 3 -4 3.6 0 3.6S9 3 12.4 1.2C12.6 4.6 6 6.4 0 6.4S-12.6 4.6 -12.4 1.2z" fill="#f48b8b"/><path d="M-9 0.4C-5 1.2 5 1.2 9 0.4" stroke="#f9b7b7" stroke-width="0.7" fill="none"/><path d="M-13.9 -3.7V-2.2C-13.9 -0.3 -7 1 0 1S13.9 -0.3 13.9 -2.2V-3.7z" fill="#f4f4f4" stroke="#000" stroke-width="0.9"/><ellipse cx="0" cy="-3.8" rx="13.8" ry="3.1" fill="#f2f2f2" stroke="#000" stroke-width="1"/></g>
<g transform="translate(1836 905.5) scale(0.05070) translate(-225 -1240)" fill="none" stroke="#000" stroke-width="16" stroke-linecap="round" stroke-linejoin="round"><path d="M232 1600C270 1700 400 1760 560 1775C700 1788 850 1780 940 1787C850 1760 700 1765 580 1745C430 1720 320 1670 250 1595z" fill="#f4a3a3" stroke="#a45" stroke-width="9"/><path d="M240 1600C250 1480 320 1340 430 1290C520 1255 640 1265 715 1308" fill="#fff"/><path d="M240 1600C250 1480 320 1340 430 1290C520 1255 640 1265 715 1308C735 1275 760 1255 790 1248C820 1250 840 1275 850 1300C910 1365 990 1420 1045 1500C1030 1535 990 1552 945 1548C900 1550 850 1550 815 1560C780 1580 770 1600 785 1625L850 1655L780 1650C720 1650 660 1640 630 1580C600 1560 540 1600 520 1612L440 1625L300 1612z" fill="#fff" stroke-width="14"/><path d="M715 1308C720 1360 735 1400 765 1408C800 1400 805 1340 790 1290C780 1262 760 1262 740 1275" stroke-width="13"/><ellipse cx="806" cy="1283" rx="18" ry="34" transform="rotate(-28 806 1283)" fill="#fff" stroke-width="12"/><path d="M755 1450C770 1510 830 1550 900 1540" stroke-width="12"/><path d="M500 1500C485 1540 475 1580 450 1618" stroke-width="12"/><path d="M605 1565C615 1590 630 1610 650 1625" stroke-width="12"/><circle cx="915" cy="1440" r="24" fill="#000" stroke="none"/><path d="M942 1490L932 1528" stroke-width="20"/><ellipse cx="490" cy="1636" rx="52" ry="13" fill="#000" stroke="none"/><path d="M780 1620L855 1660" stroke-width="26"/></g>
<g transform="translate(1836 986) scale(0.05070) translate(-225 -1240)" fill="none" stroke="#000" stroke-width="16" stroke-linecap="round" stroke-linejoin="round"><path d="M232 1600C270 1700 400 1760 560 1775C700 1788 850 1780 940 1787C850 1760 700 1765 580 1745C430 1720 320 1670 250 1595z" fill="#f4a3a3" stroke="#a45" stroke-width="9"/><path d="M240 1600C250 1480 320 1340 430 1290C520 1255 640 1265 715 1308" fill="#fff"/><path d="M240 1600C250 1480 320 1340 430 1290C520 1255 640 1265 715 1308C735 1275 760 1255 790 1248C820 1250 840 1275 850 1300C910 1365 990 1420 1045 1500C1030 1535 990 1552 945 1548C900 1550 850 1550 815 1560C780 1580 770 1600 785 1625L850 1655L780 1650C720 1650 660 1640 630 1580C600 1560 540 1600 520 1612L440 1625L300 1612z" fill="#fff" stroke-width="14"/><path d="M715 1308C720 1360 735 1400 765 1408C800 1400 805 1340 790 1290C780 1262 760 1262 740 1275" stroke-width="13"/><ellipse cx="806" cy="1283" rx="18" ry="34" transform="rotate(-28 806 1283)" fill="#fff" stroke-width="12"/><path d="M755 1450C770 1510 830 1550 900 1540" stroke-width="12"/><path d="M500 1500C485 1540 475 1580 450 1618" stroke-width="12"/><path d="M605 1565C615 1590 630 1610 650 1625" stroke-width="12"/><circle cx="915" cy="1440" r="24" fill="#000" stroke="none"/><path d="M942 1490L932 1528" stroke-width="20"/><ellipse cx="490" cy="1636" rx="52" ry="13" fill="#000" stroke="none"/><path d="M780 1620L855 1660" stroke-width="26"/></g>
<g transform="translate(1836 1072.5) scale(0.05070) translate(-225 -1240)" fill="none" stroke="#000" stroke-width="16" stroke-linecap="round" stroke-linejoin="round"><path d="M232 1600C270 1700 400 1760 560 1775C700 1788 850 1780 940 1787C850 1760 700 1765 580 1745C430 1720 320 1670 250 1595z" fill="#f4a3a3" stroke="#a45" stroke-width="9"/><path d="M240 1600C250 1480 320 1340 430 1290C520 1255 640 1265 715 1308" fill="#fff"/><path d="M240 1600C250 1480 320 1340 430 1290C520 1255 640 1265 715 1308C735 1275 760 1255 790 1248C820 1250 840 1275 850 1300C910 1365 990 1420 1045 1500C1030 1535 990 1552 945 1548C900 1550 850 1550 815 1560C780 1580 770 1600 785 1625L850 1655L780 1650C720 1650 660 1640 630 1580C600 1560 540 1600 520 1612L440 1625L300 1612z" fill="#fff" stroke-width="14"/><path d="M715 1308C720 1360 735 1400 765 1408C800 1400 805 1340 790 1290C780 1262 760 1262 740 1275" stroke-width="13"/><ellipse cx="806" cy="1283" rx="18" ry="34" transform="rotate(-28 806 1283)" fill="#fff" stroke-width="12"/><path d="M755 1450C770 1510 830 1550 900 1540" stroke-width="12"/><path d="M500 1500C485 1540 475 1580 450 1618" stroke-width="12"/><path d="M605 1565C615 1590 630 1610 650 1625" stroke-width="12"/><circle cx="915" cy="1440" r="24" fill="#000" stroke="none"/><path d="M942 1490L932 1528" stroke-width="20"/><ellipse cx="490" cy="1636" rx="52" ry="13" fill="#000" stroke="none"/><path d="M780 1620L855 1660" stroke-width="26"/></g>
<rect x="1267.9" y="1107.6" width="43.5" height="3.9" fill="#9d9fa2"/>
<rect x="1354.4" y="1107.6" width="28.7" height="3.9" fill="#9d9fa2"/>
<rect x="1418.4" y="1107.6" width="66" height="3.9" fill="#9d9fa2"/>
<rect x="1552.7" y="1107.6" width="22.7" height="3.9" fill="#9d9fa2"/>
<rect x="1732.6" y="1107.6" width="22.2" height="3.9" fill="#9d9fa2"/>
<rect x="1780.4" y="1107.6" width="37.4" height="3.9" fill="#2e3192"/>
<text x="1236.7" y="1135.2" font-size="24.9" font-style="italic" textLength="81.4" lengthAdjust="spacingAndGlyphs">VWC2L</text>
<text x="1330.9" y="1135.2" font-size="24.9" font-style="italic" textLength="79.8" lengthAdjust="spacingAndGlyphs">BARD1</text>
<text x="1420.4" y="1135.2" font-size="24.9" font-style="italic" textLength="95.4" lengthAdjust="spacingAndGlyphs">ABCA12</text>
<text x="1547" y="1135.2" font-size="24.9" font-style="italic" textLength="44.1" lengthAdjust="spacingAndGlyphs">FN1</text>
<text x="1698.5" y="1135.2" font-size="24.9" font-style="italic" textLength="71.7" lengthAdjust="spacingAndGlyphs">MREG</text>
<text x="1775.3" y="1135.2" font-size="24.9" font-style="italic" textLength="81.9" lengthAdjust="spacingAndGlyphs">XRCC5</text>
<text x="1029.4" y="1167.7" font-size="24.9" textLength="172.7" lengthAdjust="spacingAndGlyphs">Compartments:</text>
<rect x="1209.3" y="1150.3" width="17.5" height="17.5" fill="#c62026"/>
<text x="1231.6" y="1167.7" font-size="24.9" textLength="51.2" lengthAdjust="spacingAndGlyphs">A.1.1</text>
<rect x="1291.2" y="1150.3" width="17.5" height="17.5" fill="#ee4b4e"/>
<text x="1312.7" y="1167.7" font-size="24.9" textLength="51.9" lengthAdjust="spacingAndGlyphs">A.1.2</text>
<rect x="1376.7" y="1150.3" width="17.5" height="17.5" fill="#f28b8c"/>
<text x="1396.6" y="1167.7" font-size="24.9" textLength="51.2" lengthAdjust="spacingAndGlyphs">A.2.1</text>
<rect x="1461.4" y="1150.3" width="17.5" height="17.5" fill="#f7b4b5"/>
<text x="1481.8" y="1167.7" font-size="24.9" textLength="53" lengthAdjust="spacingAndGlyphs">A.2.2</text>
<rect x="1547" y="1150.3" width="17.5" height="17.5" fill="#d9d6ea"/>
<text x="1567.5" y="1167.7" font-size="24.9" textLength="51.2" lengthAdjust="spacingAndGlyphs">B.1.1</text>
<rect x="1629.4" y="1150.3" width="17.5" height="17.5" fill="#8b89c2"/>
<text x="1649.9" y="1167.7" font-size="24.9" textLength="52" lengthAdjust="spacingAndGlyphs">B.1.2</text>
<rect x="1712.6" y="1150.3" width="17.5" height="17.5" fill="#4f5ba9"/>
<text x="1732.6" y="1167.7" font-size="24.9" textLength="50.4" lengthAdjust="spacingAndGlyphs">B.2.1</text>
<rect x="1790.9" y="1150.3" width="17.5" height="17.5" fill="#2e3192"/>
<text x="1811.1" y="1167.7" font-size="24.9" textLength="52" lengthAdjust="spacingAndGlyphs">B.2.2</text>
</g>
<g id="panel_i">
<text transform="translate(-1.66 1216.7) scale(1.22 1)" font-size="31.5" font-weight="bold" stroke="#000" stroke-width="1.2">i</text>
<text x="107.1" y="1227.3" font-size="24.9" textLength="80.8" lengthAdjust="spacingAndGlyphs">Control</text>
<clipPath id="c1"><path d="M138.6 1393.9L313.15 1216.73L487.7 1393.9z"/></clipPath>
<g clip-path="url(#c1)"><rect x="138.6" y="1216.73" width="349.1" height="177.17" fill="#3b528b"/><g transform="matrix(3.4910 3.5434 3.4910 -3.5434 138.6 1393.9) translate(.5 .5)" stroke-width="1.06" stroke-linecap="square" fill="none"><path d="M1 8h0M1 9h0" stroke="#450659"/><path d="M1 2h0M1 7h0M0 8h0M0 15h0M0 17h0" stroke="#461163"/><path d="M0 0h0M1 10h0M0 12h0" stroke="#471c6e"/><path d="M2 2h0M0 4h0M0 6h1M2 8h0M2 9h0M1 11h0M1 12h1M4 12h0M11 12h0M1 13h3M11 13h0M1 15h0M0 16h0M0 18h0M14 18h0M0 19h0M0 21h1" stroke="#472777"/><path d="M1 1h0M2 3h0M3 4h0M0 5h0M3 6h1M0 7h0M5 7h0M0 10h0M9 10h0M0 11h0M2 11h0M3 12h0M10 12h0M5 13h0M0 14h0M3 14h0M9 15h0M3 16h0M1 17h1M6 17h0M1 19h0M0 20h0M0 24h0M0 27h0M0 30h0M35 40h0M29 42h0M32 42h0M29 43h0M24 45h0M28 45h0M28 46h0M1 47h0M2 48h0M10 49h0" stroke="#45317c"/><path d="M0 1h0M0 3h0M2 4h0M4 4h0M4 5h1M5 6h0M2 7h2M7 7h0M4 8h0M0 9h0M3 9h0M3 11h0M7 11h0M6 13h0M1 14h1M4 14h1M2 15h0M4 15h0M1 16h1M6 16h0M9 16h0M3 17h0M14 17h0M1 18h1M1 20h0M0 22h0M1 23h0M1 24h0M26 26h0M26 33h0M23 34h0M0 35h0M0 37h0M36 37h0M35 38h0M21 39h0M31 39h0M32 40h0M39 40h0M0 42h1M24 44h0M43 44h0M43 45h0M46 46h0M2 47h0M23 48h0M37 48h2M0 49h0M25 49h0M32 49h0" stroke="#433b82"/><path d="M1 3h0M3 3h0M3 5h0M2 6h0M6 7h0M3 8h0M5 8h0M9 9h0M2 10h2M7 10h0M4 11h0M6 11h0M5 12h2M9 12h0M0 13h0M7 13h0M9 13h0M7 14h0M9 14h0M11 14h0M5 15h0M10 15h1M10 16h1M15 16h0M5 17h0M3 18h0M2 19h0M8 19h0M4 20h0M2 21h0M1 22h0M20 23h0M0 25h0M21 25h0M0 26h0M1 27h0M22 27h0M1 28h0M0 29h1M23 32h0M29 32h0M25 33h0M29 33h0M0 34h0M22 34h0M2 35h0M26 35h1M32 35h0M0 36h0M32 36h1M1 37h0M35 37h0M1 38h0M36 38h0M27 39h0M33 39h0M30 40h1M33 40h0M36 40h1M0 41h0M30 41h1M33 41h2M23 42h0M28 42h0M33 42h1M0 43h0M24 43h0M31 43h1M22 44h1M30 44h0M42 44h0M1 45h0M29 45h0M31 45h0M34 45h0M16 46h0M25 46h0M29 46h0M34 46h0M25 47h1M36 47h0M43 47h0M47 47h0M19 48h0M24 48h0M32 48h0M36 48h0M41 48h0M20 49h0M22 49h0M24 49h0M37 49h1M40 49h0" stroke="#414587"/><path d="M0 2h0M1 5h1M6 6h0M7 8h1M5 9h1M5 10h1M5 11h0M12 12h0M6 14h0M8 14h0M7 15h0M5 16h0M12 16h2M9 17h0M12 17h1M16 17h0M6 19h0M19 19h0M2 20h0M8 20h0M16 20h0M5 21h0M16 21h0M2 22h0M5 22h0M14 22h1M20 22h0M0 23h0M23 23h0M2 24h0M24 24h0M1 25h1M19 25h0M1 26h0M16 26h0M22 26h0M26 27h1M2 28h0M16 28h0M28 28h0M2 29h0M21 30h1M24 30h1M27 30h0M0 31h0M13 31h0M22 32h0M25 32h1M0 33h0M23 33h0M27 33h0M24 34h0M29 34h0M32 34h0M23 35h0M33 35h0M2 36h0M18 36h0M27 36h0M2 37h0M29 37h0M33 37h0M0 38h0M30 38h1M34 38h0M0 39h0M28 39h0M32 39h0M35 39h1M1 40h0M21 40h0M24 40h0M29 40h0M38 40h0M32 41h0M38 41h0M3 42h0M16 42h0M20 42h1M36 42h0M38 42h0M41 42h1M1 43h0M26 43h0M30 43h0M36 43h0M38 43h0M43 43h0M1 44h0M20 44h1M25 44h0M28 44h1M31 44h1M34 44h2M38 44h0M16 45h0M18 45h0M21 45h0M30 45h0M33 45h0M35 45h0M40 45h0M42 45h0M0 46h3M11 46h0M14 46h1M21 46h0M24 46h0M32 46h1M35 46h1M42 46h1M45 46h0M32 47h0M34 47h0M41 47h0M0 48h1M17 48h0M25 48h1M28 48h0M30 48h0M40 48h0M43 48h0M46 48h0M6 49h0M15 49h0M23 49h0M26 49h0M31 49h0M36 49h0M41 49h0M43 49h0M49 49h0" stroke="#3d4d89"/><path d="M4 9h0M8 9h0M8 10h0M10 10h0M8 13h0M10 13h0M12 13h0M10 14h0M13 14h0M3 15h0M12 15h0M15 15h0M4 16h0M7 16h1M4 17h0M7 17h1M15 17h0M4 18h2M9 18h0M16 18h0M3 19h0M7 19h0M10 19h1M14 19h0M3 20h0M5 20h0M14 20h1M18 20h0M3 21h0M15 21h0M18 21h0M20 21h0M3 22h0M7 22h0M13 22h0M19 22h0M21 22h1M2 23h0M11 23h0M13 23h0M19 23h0M5 24h0M15 24h0M19 24h3M5 25h0M15 25h0M20 25h0M25 25h0M8 26h0M12 26h0M23 26h0M2 27h0M14 27h0M25 27h0M0 28h0M18 28h2M24 28h0M26 28h1M15 29h0M21 29h0M25 29h1M14 30h0M17 30h0M26 30h0M28 30h1M1 31h2M12 31h0M14 31h0M20 31h2M25 31h0M29 31h1M0 32h0M14 32h0M24 32h0M28 32h0M32 32h0M1 33h1M24 33h0M30 33h1M1 34h0M10 34h0M25 34h3M31 34h0M33 34h0M1 35h0M3 35h0M18 35h0M20 35h0M24 35h0M28 35h0M34 35h0M13 36h0M36 36h0M13 37h1M31 37h1M2 38h0M15 38h0M23 38h0M28 38h0M38 38h0M1 39h1M30 39h0M34 39h0M39 39h0M2 40h0M22 40h0M27 40h0M34 40h0M40 40h0M1 41h0M20 41h0M25 41h0M29 41h0M36 41h1M39 41h0M41 41h0M2 42h0M11 42h0M15 42h0M22 42h0M24 42h0M26 42h0M30 42h1M35 42h0M15 43h0M22 43h1M25 43h0M27 43h1M34 43h1M37 43h0M2 44h0M33 44h0M40 44h0M0 45h0M3 45h0M11 45h0M17 45h0M26 45h1M32 45h0M36 45h2M17 46h1M22 46h0M26 46h1M31 46h0M37 46h4M44 46h0M0 47h0M3 47h0M16 47h0M18 47h0M20 47h3M27 47h1M35 47h0M40 47h0M42 47h0M45 47h1M10 48h0M18 48h0M22 48h0M31 48h0M34 48h0M42 48h0M45 48h0M48 48h0M1 49h1M4 49h0M7 49h0M12 49h0M16 49h3M21 49h0M29 49h0M33 49h0M39 49h0M46 49h2" stroke="#39568b"/><path d="M6 8h0M8 11h2M8 12h0M12 14h0M8 15h0M13 15h0M16 16h0M17 17h0M11 18h2M15 18h0M17 18h0M9 19h0M15 19h0M7 20h0M10 20h1M19 20h1M9 21h0M13 21h0M17 21h0M19 21h0M21 21h0M4 22h0M10 22h2M16 22h2M3 23h1M7 23h0M12 23h0M14 23h0M18 23h0M22 23h0M3 24h1M6 24h0M14 24h0M16 24h0M18 24h0M23 24h0M3 25h1M12 25h0M14 25h0M22 25h1M11 26h0M13 26h0M15 26h0M25 26h0M4 27h0M16 27h0M23 27h1M15 28h0M21 28h2M13 29h0M16 29h0M20 29h0M22 29h0M27 29h0M2 30h0M11 30h0M16 30h0M20 30h0M23 30h0M30 30h0M15 31h0M19 31h0M24 31h0M26 31h0M31 31h0M1 32h1M10 32h0M13 32h0M19 32h0M21 32h0M27 32h0M30 32h0M13 33h1M16 33h0M20 33h0M28 33h0M33 33h0M15 34h0M20 34h0M34 34h0M13 35h0M22 35h0M25 35h0M29 35h0M31 35h0M35 35h0M3 36h0M14 36h0M21 36h0M23 36h2M29 36h1M4 37h0M15 37h0M18 37h0M25 37h1M28 37h0M30 37h0M34 37h0M37 37h0M13 38h0M19 38h0M21 38h0M24 38h1M27 38h0M19 39h0M23 39h0M37 39h1M0 40h0M12 40h0M16 40h3M23 40h0M25 40h1M2 41h0M12 41h1M23 41h1M28 41h0M40 41h0M12 42h0M17 42h0M19 42h0M25 42h0M37 42h0M39 42h0M11 43h0M16 43h0M18 43h1M21 43h0M41 43h1M0 44h0M3 44h0M5 44h1M11 44h0M15 44h0M18 44h0M26 44h1M37 44h0M39 44h0M41 44h0M44 44h0M2 45h0M4 45h0M13 45h0M20 45h0M23 45h0M25 45h0M44 45h1M4 46h0M13 46h0M19 46h1M23 46h0M30 46h0M4 47h0M14 47h1M17 47h0M19 47h0M30 47h1M33 47h0M37 47h0M39 47h0M44 47h0M3 48h0M5 48h0M9 48h0M14 48h0M20 48h0M27 48h0M29 48h0M33 48h0M44 48h0M47 48h0M3 49h0M5 49h0M9 49h0M11 49h0M14 49h0M27 49h1M30 49h0M35 49h0M42 49h0M44 49h1" stroke="#355e8d"/><path d="M1 4h0M7 9h0M13 13h0M6 15h0M14 15h0M10 17h0M8 18h0M10 18h0M4 19h0M12 19h1M18 19h0M6 20h0M12 20h1M6 21h2M11 21h0M6 22h0M6 23h0M10 23h0M15 23h0M21 23h0M10 24h0M12 24h0M8 25h0M13 25h0M16 25h2M24 25h0M2 26h0M4 26h0M17 26h0M19 26h2M20 27h0M11 28h1M14 28h0M17 28h0M25 28h0M3 29h0M5 29h0M9 29h0M11 29h1M14 29h0M17 29h0M19 29h0M23 29h1M29 29h0M3 30h1M12 30h0M15 30h0M10 31h0M16 31h0M27 31h0M16 32h0M20 32h0M3 33h0M12 33h0M22 33h0M32 33h0M3 34h0M9 34h0M11 34h1M16 34h0M19 34h0M30 34h0M11 35h0M14 35h2M30 35h0M1 36h0M15 36h0M17 36h0M22 36h0M26 36h0M28 36h0M34 36h0M3 37h0M12 37h0M17 37h0M19 37h2M24 37h0M27 37h0M12 38h0M14 38h0M20 38h0M22 38h0M29 38h0M33 38h0M37 38h0M13 39h5M20 39h0M22 39h0M24 39h2M29 39h0M8 40h0M20 40h0M3 41h1M14 41h0M18 41h0M21 41h0M26 41h1M13 42h1M27 42h0M3 43h0M9 43h0M13 43h1M17 43h0M33 43h0M39 43h0M14 44h0M16 44h0M19 44h0M8 45h1M14 45h1M19 45h0M22 45h0M39 45h0M10 46h0M12 46h0M11 47h0M13 47h0M24 47h0M29 47h0M38 47h0M4 48h0M12 48h1M15 48h1M21 48h0M35 48h0M8 49h0M13 49h0" stroke="#32668d"/><path d="M11 11h0M11 17h0M7 18h0M18 18h0M16 19h1M9 20h0M17 20h0M4 21h0M12 21h0M14 21h0M8 22h1M5 23h0M8 23h1M11 24h0M13 24h0M9 25h2M3 26h0M5 26h0M9 26h0M14 26h0M24 26h0M3 27h0M5 27h1M9 27h0M12 27h1M15 27h0M19 27h0M21 27h0M3 28h0M13 28h0M6 29h0M8 29h0M10 29h0M28 29h0M13 30h0M4 31h1M9 31h0M11 31h0M17 31h0M23 31h0M28 31h0M6 32h0M17 32h1M31 32h0M9 33h0M15 33h0M17 33h0M19 33h0M21 33h0M4 34h0M13 34h1M18 34h0M4 35h0M19 35h0M9 36h0M19 36h0M31 36h0M35 36h0M9 38h0M17 38h1M26 38h0M32 38h0M3 39h0M9 39h1M12 39h0M3 40h0M11 40h0M28 40h0M5 41h1M9 41h2M15 41h0M17 41h0M19 41h0M22 41h0M4 42h2M9 42h0M40 42h0M2 43h0M12 43h0M20 43h0M40 43h0M4 44h0M9 44h0M13 44h0M12 45h0M9 46h0M5 47h0M9 47h1M12 47h0M7 48h0M34 49h0" stroke="#2e6e8e"/><path d="M14 14h0M10 21h0M16 23h1M7 24h2M6 25h1M7 26h0M10 26h0M18 26h0M8 27h0M17 27h1M4 29h0M18 29h0M1 30h0M7 30h0M18 30h0M18 31h0M4 32h0M9 32h0M12 32h0M15 32h0M6 33h0M2 34h0M8 34h0M17 34h0M21 34h0M10 35h0M12 35h0M21 35h0M4 36h0M12 36h0M16 36h0M16 37h0M22 37h0M3 38h1M10 38h0M6 39h0M8 39h0M11 39h0M4 40h1M10 40h0M14 40h1M8 41h0M16 41h0M8 42h0M18 42h0M4 43h1M7 43h0M10 44h0M12 44h0M7 45h0M10 45h0M41 45h0M8 46h0M8 47h0M11 48h0" stroke="#2b768e"/><path d="M5 19h0M17 24h0M6 26h0M7 27h0M5 28h2M10 28h0M7 29h0M5 30h0M8 30h2M19 30h0M6 31h2M3 32h0M5 32h0M11 32h0M4 33h1M10 33h1M5 35h0M8 35h1M17 35h0M8 36h0M10 36h0M20 36h0M5 37h0M8 37h1M23 37h0M5 38h0M8 38h0M11 38h0M16 38h0M4 39h0M7 39h0M6 40h0M9 40h0M13 40h0M7 42h0M10 42h0M8 43h0M7 44h1M17 44h0M5 45h1M5 46h0M6 48h0" stroke="#287d8e"/><path d="M11 27h0M4 28h0M9 28h0M6 30h0M8 32h0M7 33h1M18 33h0M5 34h0M6 35h1M7 36h0M11 36h0M6 38h1M5 39h0M7 40h0M7 41h0M6 43h0M7 46h0M8 48h0" stroke="#25858d"/><path d="M8 28h0M7 32h0M5 36h0M7 47h0" stroke="#228d8c"/><path d="M10 27h0M6 34h1M7 37h0M10 37h1M10 43h0" stroke="#21958b"/><path d="M6 47h0" stroke="#219c88"/><path d="M6 46h0" stroke="#22a386"/><path d="M6 36h0" stroke="#25aa82"/><path d="M6 37h0" stroke="#3ab976"/></g></g>
<clipPath id="c2"><path d="M544.7 1393.9L720.2 1216.64L895.7 1393.9z"/></clipPath>
<g clip-path="url(#c2)"><rect x="544.7" y="1216.64" width="351" height="177.25" fill="#3b528b"/><g transform="matrix(3.5100 3.5451 3.5100 -3.5451 544.7 1393.9) translate(.5 .5)" stroke-width="1.06" stroke-linecap="square" fill="none"><path d="M0 1h1M0 2h0M2 2h0M0 3h1M1 4h0M0 5h1M3 5h0M0 6h1M0 7h0M0 8h0M0 9h0M3 9h1M7 9h0M0 10h0M3 10h0M2 11h1M1 12h2M1 13h0M3 13h0M1 14h1M0 15h1M0 16h0M1 17h0M0 21h1" stroke="#45317c"/><path d="M0 0h0M1 2h0M3 3h0M0 4h0M2 4h2M2 5h0M2 6h0M4 6h0M1 7h0M3 7h1M6 7h0M1 8h3M6 8h1M1 9h1M5 9h1M1 10h1M4 10h1M0 11h1M4 11h0M0 12h0M4 12h0M6 12h0M0 13h0M2 13h0M4 13h0M0 14h0M3 14h1M7 14h0M2 15h1M1 16h3M0 17h0M0 18h1M0 19h1M0 20h1M1 22h0M0 23h0M0 25h0M0 26h0M0 28h0M0 32h0M32 32h0M0 35h0M31 35h0M0 36h0M31 36h0M0 37h0M0 38h0M25 38h2M32 38h0M37 38h0M0 39h0M32 39h1M0 40h0M0 41h0M35 41h0M0 42h0M23 42h0M29 42h0M32 42h0M29 43h0M32 43h1M43 43h0M29 44h1M41 44h0M44 44h0M0 45h0M36 45h0M40 45h1M43 45h0M0 46h0M34 46h0M41 46h3M0 47h0M33 47h1M47 47h0M0 48h0M33 48h0M43 48h1M0 49h0M33 49h0M38 49h0" stroke="#433b82"/><path d="M2 3h0M4 5h0M3 6h0M5 6h0M2 7h0M5 7h0M5 8h0M8 9h1M5 11h0M8 11h1M5 12h0M8 12h0M11 12h0M5 13h0M7 13h1M10 13h0M13 14h0M5 15h0M14 16h1M4 17h0M2 18h1M3 19h0M16 19h0M0 22h0M22 22h0M0 24h0M23 24h0M25 25h0M22 26h0M27 28h1M0 29h0M27 29h1M0 31h0M25 31h0M25 32h0M31 33h0M0 34h0M32 35h0M35 35h0M27 36h0M30 36h0M34 36h0M23 37h0M31 37h0M33 37h0M37 37h0M25 39h0M28 39h0M37 39h2M1 40h0M24 40h1M27 40h0M30 40h0M33 40h0M38 40h0M24 41h1M27 41h1M30 41h0M33 41h0M36 41h0M41 41h0M1 42h0M26 42h0M33 42h0M35 42h0M37 42h1M41 42h0M21 43h0M34 43h1M39 43h0M41 43h1M22 44h0M27 44h0M33 44h1M36 44h0M38 44h0M20 45h0M32 45h0M37 45h1M44 45h1M1 46h0M19 46h0M24 46h0M28 46h0M30 46h0M37 46h0M1 47h0M28 47h1M31 47h1M40 47h0M44 47h0M1 48h0M23 48h0M34 48h0M36 48h0M38 48h0M40 48h2M45 48h0M1 49h0M12 49h0M27 49h1M34 49h0M39 49h0M43 49h0M49 49h0" stroke="#414587"/><path d="M5 5h0M6 6h0M7 7h0M8 10h0M6 11h0M10 11h0M10 12h0M12 12h0M6 13h0M11 13h0M5 14h1M11 14h0M14 14h0M4 15h0M7 15h0M14 15h0M16 16h0M2 17h0M6 17h0M14 17h1M4 18h0M17 18h0M17 19h0M7 20h0M18 20h0M2 21h0M21 21h0M8 22h0M18 23h0M2 24h0M16 25h0M2 26h0M25 26h0M0 27h0M29 29h0M0 30h0M28 30h0M1 31h0M31 31h0M26 32h0M31 32h0M0 33h0M32 33h0M31 34h0M24 35h0M21 36h0M29 36h0M32 36h0M1 37h0M25 37h0M29 37h1M32 37h0M34 37h1M1 38h0M28 38h0M33 38h2M1 39h0M27 39h0M30 39h1M23 40h0M31 40h1M34 40h2M39 40h0M1 41h0M23 41h0M26 41h0M32 41h0M34 41h0M37 41h2M18 42h0M20 42h0M24 42h1M27 42h0M30 42h0M34 42h0M36 42h0M40 42h0M42 42h0M0 43h1M19 43h0M23 43h0M25 43h1M28 43h0M30 43h0M36 43h1M40 43h0M0 44h1M20 44h1M25 44h1M28 44h0M32 44h0M42 44h1M21 45h1M24 45h0M26 45h1M33 45h2M39 45h0M42 45h0M15 46h0M18 46h0M25 46h2M29 46h0M32 46h1M35 46h1M38 46h0M13 47h0M21 47h2M25 47h2M30 47h0M35 47h2M42 47h0M46 47h0M17 48h0M19 48h3M25 48h1M28 48h0M37 48h0M39 48h0M48 48h0M13 49h1M16 49h0M24 49h0M26 49h0M29 49h0M31 49h1M35 49h2M41 49h0M44 49h1M47 49h0" stroke="#3d4d89"/><path d="M8 8h0M6 10h0M10 10h0M11 11h0M9 12h0M9 13h0M12 13h1M8 14h0M12 14h0M6 15h0M12 15h1M15 15h0M5 16h1M8 16h0M13 16h0M5 17h0M8 17h0M11 17h0M16 17h0M16 18h0M18 18h0M2 19h0M10 19h1M15 19h0M18 19h1M2 20h0M6 20h0M14 20h0M16 20h1M19 20h0M3 21h0M11 21h0M18 22h0M21 22h0M2 23h0M20 23h0M23 23h0M1 24h0M3 24h0M18 24h0M20 24h2M24 24h0M1 25h1M1 26h0M3 26h0M23 26h0M26 26h0M1 27h0M21 27h0M23 27h0M27 27h0M1 28h0M22 28h0M26 28h0M25 29h1M1 30h0M29 30h1M23 31h1M26 31h1M1 32h0M24 32h0M27 32h0M1 33h0M24 33h0M26 33h2M33 33h0M26 34h0M28 34h0M32 34h0M25 35h5M33 35h1M1 36h0M20 36h0M23 36h0M26 36h0M28 36h0M33 36h0M35 36h1M24 37h0M27 37h1M36 37h0M20 38h1M23 38h0M31 38h0M36 38h0M38 38h0M20 39h0M23 39h1M26 39h0M29 39h0M36 39h0M18 40h0M21 40h0M26 40h0M28 40h1M37 40h0M31 41h0M19 42h0M21 42h0M28 42h0M39 42h0M14 43h0M18 43h0M20 43h0M24 43h0M31 43h0M38 43h0M19 44h0M23 44h1M31 44h0M35 44h0M37 44h0M40 44h0M1 45h0M10 45h0M18 45h0M23 45h0M25 45h0M28 45h0M30 45h0M10 46h0M13 46h1M16 46h1M20 46h0M31 46h0M45 46h1M17 47h0M24 47h0M39 47h0M41 47h0M43 47h0M45 47h0M2 48h0M16 48h0M27 48h0M29 48h0M31 48h1M35 48h0M46 48h1M10 49h1M22 49h1M40 49h0M42 49h0M46 49h0M48 49h0" stroke="#39568b"/><path d="M7 10h0M9 10h0M7 11h0M7 12h0M9 14h1M7 16h0M10 16h0M12 16h0M3 17h0M7 17h0M13 17h0M6 18h0M10 18h2M15 18h0M4 19h0M7 19h2M12 19h0M3 20h1M9 20h3M15 20h0M4 21h1M12 21h0M18 21h1M2 22h0M10 22h1M16 22h1M19 22h0M1 23h0M12 23h0M15 23h0M17 23h0M19 23h0M22 23h0M12 24h0M17 24h0M15 25h0M18 25h0M20 25h0M23 25h1M21 26h0M22 27h0M24 27h0M25 28h0M1 29h0M16 29h0M22 29h0M22 30h4M29 31h1M28 32h1M22 33h1M25 33h0M29 33h0M22 34h0M27 34h0M29 34h1M33 34h1M1 35h0M21 35h1M18 36h1M22 36h0M25 36h0M18 37h0M20 37h2M19 38h0M22 38h0M24 38h0M30 38h0M15 39h0M21 39h1M34 39h1M16 40h0M22 40h0M40 40h0M19 41h2M29 41h0M40 41h0M15 42h0M22 42h0M31 42h0M15 43h0M27 43h0M13 44h1M17 44h1M39 44h0M12 45h0M19 45h0M29 45h0M31 45h0M11 46h0M39 46h1M14 47h2M19 47h0M38 47h0M9 48h5M18 48h0M24 48h0M30 48h0M9 49h0M17 49h4M25 49h0M30 49h0" stroke="#355e8d"/><path d="M8 15h3M9 16h0M9 17h1M12 17h0M5 18h0M8 18h1M14 18h0M6 19h0M14 19h0M5 20h0M8 20h0M20 20h0M6 21h0M8 21h0M10 21h0M20 21h0M4 22h1M9 22h0M14 22h1M20 22h0M3 23h0M11 23h0M16 23h0M7 24h0M15 24h1M19 24h0M3 25h0M17 25h0M22 25h0M12 26h1M20 26h0M24 26h0M2 27h0M16 27h0M25 27h0M23 28h1M2 29h0M21 29h0M24 29h0M27 30h0M21 31h1M28 31h0M21 32h0M23 32h0M30 32h0M2 33h0M21 33h0M30 33h0M1 34h0M23 34h1M18 35h1M23 35h0M24 36h0M17 37h0M26 37h0M9 38h0M17 38h1M29 38h0M19 39h0M2 40h0M17 40h0M19 40h0M18 41h0M22 41h0M2 42h0M11 42h0M16 42h1M2 43h0M12 43h1M17 43h0M12 44h0M16 44h0M2 45h0M11 45h0M15 45h1M12 46h0M22 46h1M2 47h0M9 47h1M12 47h0M18 47h0M20 47h0M15 48h0" stroke="#32668d"/><path d="M17 17h0M7 18h0M13 18h0M5 19h0M13 19h0M9 21h0M13 21h1M16 21h1M12 22h1M4 23h1M8 23h2M13 23h1M21 23h0M9 24h2M14 24h0M9 25h1M12 25h0M19 25h0M21 25h0M15 26h2M19 26h0M18 27h0M26 27h0M13 28h0M21 28h0M17 29h0M20 29h0M23 29h0M13 30h1M17 30h0M21 30h0M2 31h0M16 31h0M2 32h0M16 32h0M22 32h0M17 34h0M21 34h0M25 34h0M20 35h0M17 36h0M16 37h0M19 37h0M2 38h0M15 38h1M2 39h0M13 39h0M10 40h0M15 40h0M20 40h0M2 41h1M10 41h0M16 41h1M12 42h0M14 42h0M11 43h0M16 43h0M22 43h0M2 44h0M15 44h0M9 45h0M13 45h1M17 45h0M9 46h0M21 46h0M11 47h0M8 48h0M2 49h0M15 49h0" stroke="#2e6e8e"/><path d="M11 16h0M13 20h0M7 21h0M15 21h0M3 22h0M6 22h0M6 23h1M5 24h1M8 24h0M13 24h0M4 25h0M7 25h0M11 25h0M11 26h0M14 26h0M3 27h0M10 27h2M17 27h0M20 27h0M14 28h2M20 28h0M11 29h1M14 29h1M19 29h0M15 30h1M9 31h1M14 31h0M17 31h0M19 31h1M12 32h0M17 32h0M14 33h0M18 33h1M2 34h0M14 34h2M20 34h0M2 35h0M14 35h1M2 37h0M14 37h0M14 38h0M12 39h0M14 39h0M16 39h0M18 39h0M11 40h1M9 41h0M12 41h0M15 41h0M10 42h0M13 42h0M3 43h0M9 43h0M8 44h3M2 46h1M8 49h0" stroke="#2b768e"/><path d="M7 22h0M4 24h0M8 25h0M13 25h1M10 26h0M18 26h0M9 27h0M13 27h2M2 28h1M10 28h0M12 28h0M18 28h0M13 29h0M18 29h0M2 30h0M9 30h0M11 30h1M18 30h0M20 30h0M10 32h1M19 32h1M10 33h0M12 33h1M15 33h2M20 33h0M12 34h1M18 34h1M16 35h1M2 36h0M10 36h0M13 36h1M16 36h0M15 37h0M11 38h2M10 39h0M17 39h0M3 40h0M9 40h0M14 40h0M11 41h0M13 41h1M9 42h0M3 44h0M3 45h0M8 45h0M8 47h0M3 48h0" stroke="#287d8e"/><path d="M5 25h0M4 26h0M9 26h0M4 27h1M19 27h0M9 28h0M17 28h0M3 29h0M10 29h0M3 30h0M10 30h0M19 30h0M15 31h0M13 32h0M15 32h0M18 32h0M11 33h0M3 35h0M12 35h0M11 36h0M15 36h0M13 37h0M3 38h0M3 42h0M10 43h0M3 47h0M3 49h0" stroke="#25858d"/><path d="M6 25h0M5 26h0M7 26h1M4 28h0M11 28h0M19 28h0M3 31h0M11 31h1M18 31h0M3 32h0M9 32h0M14 32h0M9 33h0M11 34h0M11 35h0M13 35h0M12 36h0M3 37h0M9 37h0M11 37h1M10 38h0M3 39h0M9 39h0M11 39h0M13 40h0M8 43h0M8 46h0" stroke="#228d8c"/><path d="M6 26h0M8 27h0M4 29h0M9 29h0M4 31h0M8 31h0M13 31h0M3 33h0M9 34h1M9 35h1M8 36h1M8 37h0M10 37h0M8 38h0M8 40h0M8 41h0M8 42h0M7 44h0M4 46h0M7 49h0" stroke="#21958b"/><path d="M6 28h0M8 28h0M7 29h0M4 30h0M7 30h1M3 34h0M3 36h0M8 39h0M4 41h0M4 44h0M7 45h0M7 48h0" stroke="#219c88"/><path d="M6 27h1M5 28h0M7 28h0M4 33h0M8 35h0M7 42h0M4 43h0M4 47h0M7 47h0M4 49h0" stroke="#22a386"/><path d="M8 29h0M7 31h0M8 32h0M8 34h0M4 40h0M4 42h0M7 43h0M4 45h0M7 46h0M6 47h0M5 49h1" stroke="#25aa82"/><path d="M5 29h1M5 30h0M5 31h0M4 32h0M8 33h0M4 39h0M7 41h0M5 43h0M5 44h1M6 46h0M4 48h1" stroke="#30b17c"/><path d="M4 34h0M7 36h0M4 37h0M7 37h0M4 38h0M7 38h0M7 39h0M7 40h0M6 43h0M5 45h1M5 47h0M6 48h0" stroke="#3ab976"/><path d="M7 32h0M7 33h0M7 34h0M4 35h0M7 35h0M4 36h0M5 41h0M5 42h0M5 46h0" stroke="#46c06f"/><path d="M6 30h0M5 32h1M5 33h0M5 34h0M5 40h0M6 42h0" stroke="#57c565"/><path d="M6 34h0M6 40h0M6 41h0" stroke="#67cb5c"/><path d="M6 31h0M6 33h0M5 35h0M5 39h0" stroke="#78d052"/><path d="M6 35h0" stroke="#a2d937"/><path d="M5 36h0M6 39h0" stroke="#b7de2a"/><path d="M6 36h0" stroke="#cbe126"/><path d="M5 37h1M5 38h1" stroke="#f3e625"/></g></g>
<text x="158.6" y="1388.6" font-size="24.9" fill="#fff" textLength="109.3" lengthAdjust="spacingAndGlyphs">40,500 kb</text>
<text x="356.3" y="1388.6" font-size="24.9" fill="#fff" textLength="109.6" lengthAdjust="spacingAndGlyphs">41,500 kb</text>
<text x="563.9" y="1388.6" font-size="24.9" fill="#fff" textLength="110.1" lengthAdjust="spacingAndGlyphs">40,500 kb</text>
<text x="765.7" y="1388.6" font-size="24.9" fill="#fff" textLength="109.5" lengthAdjust="spacingAndGlyphs">41,500 kb</text>
<path d="M139.9 1393.1L154.6 1387.2M471.2 1386.7L486.4 1392.6M881 1386L894.4 1392.2" fill="none" stroke="#fff" stroke-width="1.6"/>
<text x="764.6" y="1227.3" font-size="24.9" textLength="129.8" lengthAdjust="spacingAndGlyphs">20w-pWGD</text>
<text x="803.8" y="1257.4" font-size="24.9" textLength="90.6" lengthAdjust="spacingAndGlyphs">tumours</text>
<text x="58.6" y="1391.5" font-size="24.9" textLength="66.7" lengthAdjust="spacingAndGlyphs">Chr. 3</text>
<text x="125.3" y="1430.3" font-size="24.9" text-anchor="end" textLength="103.04" lengthAdjust="spacingAndGlyphs">H3K27ac</text>
<text x="125.3" y="1467.3" font-size="24.9" text-anchor="end" textLength="111.38" lengthAdjust="spacingAndGlyphs">H3K9me3</text>
<line x1="135.1" y1="1430.7" x2="489.1" y2="1430.7" stroke="#c8c8c8" stroke-width="1"/>
<path d="M135.1 1430.7V1412.5h1.5V1429h1.5V1430.5h1.5V1428.5h1.5V1428h1.5V1422h1.5V1430.5h6V1429h1.5V1430.5h1.5V1428.5h1.5V1430.5h4.5V1417h1.5V1429h1.5V1430.5h3V1428h1.5V1430.5h1.5V1429h1.5V1430.5h1.5V1424h1.5V1429h1.5V1430.5h16.5V1428.5h1.5V1430.5h3V1424h1.5V1430.5h7.5V1429h1.5V1430.5h3V1429.5h1.5V1429h1.5V1430.5h4.5V1429h1.5V1428.5h1.5V1430.5h4.5V1428.5h1.5V1427h1.5V1430.5h4.5V1429h1.5V1430.5h4.5V1424.5h1.5V1430.5h7.5V1430h1.5V1430.5h1.5V1426h1.5V1429.5h1.5V1428.5h1.5V1429.5h1.5V1429h1.5V1423h1.5V1430.5h1.5V1429.5h1.5V1430.5h1.5V1428.5h1.5V1430.5h24V1428h1.5V1430h1.5V1430.5h3V1430h1.5V1430.5h12V1429.5h1.5V1430.5h3V1429h1.5V1430h1.5V1426.5h1.5V1425h1.5V1429.5h1.5V1430.5h1.5V1424h1.5V1430.5h7.5V1429.5h1.5V1430.5h7.5V1428.5h1.5V1429h3V1430.5h1.5V1428.5h3V1430.5h18V1422h3V1428h1.5V1430.5h7.5V1430h1.5V1429h1.5V1430.5h4.5V1430h1.5V1430.5h9V1412.5h1.5V1424.5h1.5V1430.5h1.5V1429.5h1.5V1426h1.5V1429h1.5V1430.5h4.5V1428.5h1.5V1430h1.5V1430.5h7.5V1428.5h1.5V1428h1.5V1430.5h6V1429.5h1.5V1430.5h4.5V1429h1.5V1430.5h3V1428.5h1.5V1430.5h1.5V1430h1.5V1430.5h6V1426.5h1.5V1430.5h4.5V1430h1.5V1430.5h9V1426.5h1.5V1430h1.5V1430.5h18V1428h1.5V1430.7z" fill="#ed1c24"/>
<path d="M135.1 1469.9V1464.5h1.5V1467h1.5V1465h1.5V1467h3V1464.5h1.5V1462h1.5V1465h1.5V1463.5h1.5V1465h1.5V1464h1.5V1463.5h1.5V1465.5h1.5V1467h1.5V1464h1.5V1461h1.5V1465h1.5V1466h3V1463h1.5V1459h1.5V1460h1.5V1466.5h1.5V1465.5h1.5V1463h1.5V1465h1.5V1466.5h1.5V1463.5h3V1463h1.5V1463.5h1.5V1463h1.5V1461h3V1463h1.5V1459h1.5V1464.5h1.5V1459h1.5V1462.5h1.5V1464.5h1.5V1456h1.5V1444h1.5V1459.5h1.5V1468.5h1.5V1457.5h1.5V1457h1.5V1458h1.5V1464h1.5V1451h1.5V1462.5h1.5V1468.5h1.5V1467h1.5V1459h1.5V1456.5h1.5V1459.5h1.5V1459h1.5V1463.5h1.5V1448h1.5V1461h1.5V1464h1.5V1460h1.5V1446.5h1.5V1464h1.5V1459h1.5V1458.5h1.5V1460h1.5V1464h1.5V1453h1.5V1465.5h1.5V1461h6V1457.5h1.5V1461.5h1.5V1462h1.5V1458.5h1.5V1456h1.5V1459h1.5V1467h1.5V1458h1.5V1449h1.5V1459.5h3V1466h1.5V1463h1.5V1464h1.5V1462h1.5V1449h3V1456h1.5V1453h1.5V1462h1.5V1463h1.5V1460h1.5V1466.5h1.5V1457h1.5V1465h1.5V1454.5h1.5V1458.5h1.5V1466h1.5V1458h1.5V1468.5h1.5V1457.5h1.5V1458h1.5V1465h1.5V1449.5h1.5V1458h1.5V1456.5h1.5V1464h1.5V1462.5h1.5V1458h1.5V1460.5h1.5V1457.5h1.5V1458h1.5V1460h1.5V1446.5h1.5V1463h1.5V1461h1.5V1459h1.5V1456.5h1.5V1459h1.5V1458h1.5V1468.5h1.5V1461h1.5V1444h1.5V1464.5h1.5V1462.5h1.5V1465.5h1.5V1462.5h1.5V1450.5h1.5V1453.5h1.5V1464h1.5V1457h1.5V1450.5h1.5V1463h1.5V1463.5h1.5V1466.5h1.5V1464.5h1.5V1446.5h1.5V1447.5h1.5V1456h1.5V1461.5h1.5V1450.5h1.5V1461h1.5V1456h1.5V1468h1.5V1469h1.5V1466.5h3V1467h1.5V1466.5h3V1467.5h1.5V1465h1.5V1465.5h1.5V1468h1.5V1444h1.5V1467h3V1467.5h1.5V1465.5h1.5V1467h1.5V1463.5h1.5V1466h1.5V1466.5h1.5V1466h1.5V1469h1.5V1467.5h1.5V1466h1.5V1468h1.5V1467.5h1.5V1466h1.5V1465.5h1.5V1467.5h1.5V1464.5h1.5V1465.5h1.5V1466.5h1.5V1467h1.5V1465.5h1.5V1468h1.5V1466h1.5V1468.5h1.5V1465h1.5V1467h1.5V1463.5h1.5V1462.5h1.5V1467.5h1.5V1468.5h1.5V1466.5h1.5V1467h1.5V1465h1.5V1466h1.5V1467.5h1.5V1465h1.5V1466.5h1.5V1465h1.5V1468h1.5V1467h1.5V1464.5h1.5V1457h1.5V1463.5h1.5V1466.5h1.5V1462.5h1.5V1468h1.5V1462h1.5V1461.5h1.5V1468.5h1.5V1466h1.5V1463h1.5V1466.5h1.5V1461h1.5V1468.5h1.5V1454.5h1.5V1465.5h1.5V1463h1.5V1465.5h3V1464.5h1.5V1463h1.5V1457.5h1.5V1464.5h1.5V1463h1.5V1466.5h3V1461h1.5V1463.5h1.5V1464.5h1.5V1466h1.5V1466.5h3V1469h1.5V1465h1.5V1460.5h1.5V1465.5h1.5V1467.5h1.5V1469.9z" fill="#2e3192"/>
<line x1="544.7" y1="1430.7" x2="897.1" y2="1430.7" stroke="#c8c8c8" stroke-width="1"/>
<path d="M544.7 1430.7V1397.5h1.5V1428.5h1.5V1430h1.5V1430.5h3V1419h1.5V1430.5h9V1429.5h1.5V1430.5h3V1429h1.5V1406h1.5V1430.5h7.5V1429.5h1.5V1430.5h3V1429h1.5V1430.5h4.5V1430h1.5V1430.5h3V1430h1.5V1430.5h1.5V1428h1.5V1430.5h4.5V1428h1.5V1430.5h9V1428.5h1.5V1430.5h13.5V1428.5h1.5V1430.5h4.5V1428.5h1.5V1430h1.5V1430.5h9V1404.5h1.5V1423.5h1.5V1429h1.5V1430.5h1.5V1429.5h1.5V1416h3V1430h1.5V1397.5h3V1430.5h1.5V1428h1.5V1429h1.5V1397.5h3V1430.5h1.5V1430h1.5V1430.5h3V1426.5h1.5V1397.5h1.5V1427h1.5V1426.5h1.5V1411h1.5V1422h1.5V1430h1.5V1428.5h1.5V1430.5h4.5V1428h1.5V1402.5h1.5V1404.5h1.5V1430.5h4.5V1414h1.5V1430.5h3V1426.5h1.5V1430.5h1.5V1429.5h1.5V1428.5h1.5V1430.5h3V1419h3V1430.5h7.5V1427.5h1.5V1397.5h1.5V1422h1.5V1430.5h17.99V1429h1.5V1430.5h9V1429h1.5V1430.5h16.5V1425h1.5V1430.5h12V1429h1.5V1430.5h7.5V1428.5h1.5V1430.5h1.5V1428.5h1.5V1430.5h1.5V1430h1.5V1397.5h3V1423.5h1.5V1421h3V1424.5h1.5V1414h1.5V1426.5h1.5V1424.5h1.5V1424h1.5V1426h1.5V1428.5h1.5V1430.5h3V1430h1.5V1429.5h1.5V1410h1.5V1427.5h1.5V1430.5h6V1430h1.5V1430.5h7.5V1428h1.5V1430.5h7.5V1429.5h1.5V1430.5h7.5V1428.5h1.5V1430.5h3V1430h1.5V1429.5h1.5V1430.5h9V1424h3V1430.5h3V1429.5h1.5V1428h1.5V1430.5h6V1429.5h1.5V1430.7z" fill="#ed1c24"/>
<path d="M544.7 1469.9V1469h1.5V1467h1.5V1469h1.5V1466.5h1.5V1468h1.5V1468.5h1.5V1467.5h1.5V1452.5h3V1468h1.5V1465h1.5V1463h1.5V1467h1.5V1466.5h1.5V1465h1.5V1466h1.5V1465h1.5V1457.5h1.5V1467h1.5V1466h1.5V1468h1.5V1469h1.5V1465.5h1.5V1468.5h1.5V1462.5h1.5V1464.5h1.5V1465h1.5V1464.5h1.5V1466.5h1.5V1465h1.5V1466h1.5V1465.5h1.5V1466.5h3V1466h1.5V1457.5h1.5V1444.5h1.5V1462.5h1.5V1461h1.5V1466h1.5V1456h1.5V1467h3V1465h3V1464h1.5V1468.5h1.5V1469h1.5V1468h1.5V1469h1.5V1468.5h1.5V1453.5h3V1469h1.5V1466.5h1.5V1464.5h1.5V1463h1.5V1465.5h1.5V1460h1.5V1467h1.5V1465.5h1.5V1454.5h1.5V1462h1.5V1458h1.5V1452.5h1.5V1466h1.5V1453.5h1.5V1454.5h1.5V1460h1.5V1466h1.5V1465.5h1.5V1466.5h3V1465.5h1.5V1468h1.5V1467h1.5V1466h1.5V1467.5h1.5V1467h1.5V1466.5h1.5V1466h1.5V1465h1.5V1445h3V1461h1.5V1458h1.5V1457h1.5V1468h1.5V1456.5h1.5V1465.5h1.5V1467h1.5V1468.5h1.5V1467.5h1.5V1469h1.5V1467.5h1.5V1468.5h3V1467.5h1.5V1469h3V1466.5h1.5V1467.5h1.5V1469h1.5V1468.5h3V1451h1.5V1467h1.5V1465.5h1.5V1469h3V1464h1.5V1464.5h3V1468h1.5V1465.5h1.5V1447.5h1.5V1464h1.5V1443.5h1.5V1467.5h1.5V1468.5h1.5V1468h1.5V1469h3V1467h1.5V1467.5h1.5V1469h1.5V1468h3V1467.5h1.5V1467h1.5V1467.5h1.5V1468h1.5V1462h1.5V1466.5h1.5V1468.5h1.5V1466h1.5V1463.5h1.5V1465h1.5V1463h1.5V1467h1.5V1467.5h1.5V1464.5h1.5V1466.5h3V1462h1.5V1468.5h1.5V1464.5h1.5V1466.5h1.5V1469h1.5V1467.5h1.5V1466.5h4.5V1469h1.5V1467h1.5V1467.5h1.5V1465.5h1.5V1455h1.5V1467.5h1.5V1466h1.5V1461.5h1.5V1467h1.5V1466h1.5V1463.5h1.5V1468h1.5V1455h1.5V1464.5h1.5V1457.5h1.5V1461.5h1.5V1461h1.5V1457h1.5V1458h3V1456.5h1.5V1467h1.5V1464.5h1.5V1468h1.5V1462.5h1.5V1469h1.5V1466.5h1.5V1461.5h1.5V1467h1.5V1466h1.5V1469h1.5V1466h1.5V1468h1.5V1466.5h1.5V1465.5h1.5V1467h1.5V1460h1.5V1456h1.5V1467.5h1.5V1443.5h1.5V1466h1.5V1446h1.5V1465.5h1.5V1456h1.5V1467.5h1.5V1456h1.5V1469h1.5V1456.5h1.5V1466.5h1.5V1469h1.5V1467.5h1.5V1466h1.5V1465h1.5V1464.5h1.5V1465.5h1.5V1464.5h1.5V1467h1.5V1466.5h1.5V1467h1.5V1462.5h1.5V1464.5h1.5V1466h1.5V1469h3V1451h1.5V1467.5h1.5V1466.5h1.5V1468h1.5V1464.5h1.5V1466.5h3V1464.5h1.5V1465h1.5V1465.5h1.5V1468h1.5V1467h1.5V1465h1.5V1467h1.5V1451h1.5V1469h1.5V1467.5h1.5V1466h1.5V1469.9z" fill="#2e3192"/>
<text x="433.1" y="1415.2" font-size="21.5" textLength="54.6" lengthAdjust="spacingAndGlyphs">[1–20]</text>
<text x="444.6" y="1449.9" font-size="21.5" textLength="43.1" lengthAdjust="spacingAndGlyphs">[1–5]</text>
<text x="845.1" y="1415.2" font-size="21.5" textLength="54.6" lengthAdjust="spacingAndGlyphs">[1–20]</text>
<text x="856.6" y="1449.9" font-size="21.5" textLength="43.1" lengthAdjust="spacingAndGlyphs">[1–5]</text>
<rect x="151.1" y="1472.5" width="4.3" height="4" fill="#9d9fa2"/>
<rect x="157.2" y="1472.5" width="5.9" height="4" fill="#9d9fa2"/>
<rect x="395.3" y="1472.5" width="15.1" height="4" fill="#ed1c24"/>
<rect x="412.6" y="1472.5" width="74.6" height="4" fill="#9d9fa2"/>
<rect x="559.9" y="1472.5" width="4.3" height="4" fill="#9d9fa2"/>
<rect x="566" y="1472.5" width="5.9" height="4" fill="#9d9fa2"/>
<rect x="804.1" y="1472.5" width="15.1" height="4" fill="#ed1c24"/>
<rect x="821.4" y="1472.5" width="74.6" height="4" fill="#9d9fa2"/>
<text x="353.9" y="1494" font-size="20.5" font-style="italic" textLength="81.1" lengthAdjust="spacingAndGlyphs">CTNNB1</text>
<text x="767.3" y="1494" font-size="20.5" font-style="italic" textLength="81" lengthAdjust="spacingAndGlyphs">CTNNB1</text>
<clipPath id="c3"><path d="M136.5 1497L313.2 1673.7L489.9 1497z"/></clipPath>
<g clip-path="url(#c3)"><g transform="matrix(3.5340 -3.5340 3.5340 3.5340 136.5 1497) translate(.5 .5)" stroke-width="1.06" stroke-linecap="square" fill="none"><path d="M3 29h0M1 30h0M5 32h0M6 33h0M7 34h0M15 39h0M4 43h0M8 44h0M7 45h0M6 46h0M9 47h0" stroke="#97a2b1"/><path d="M7 21h0M7 26h0M7 27h0M16 33h0M6 34h0M8 34h0M7 35h0M10 38h0" stroke="#5685c7"/><path d="M6 20h0M5 27h0M7 32h0M11 40h0M5 44h0M5 45h1" stroke="#4d89d0"/><path d="M3 23h0M16 29h0M2 36h0M4 36h0M5 38h0M7 38h0M8 43h0" stroke="#519ad8"/><path d="M3 28h0M9 29h0M15 29h0M7 31h0M11 36h0M9 39h0M6 40h0M8 41h0" stroke="#56abe1"/><path d="M4 21h0M8 33h0M4 41h0M7 41h0M7 44h0M3 45h0M5 46h0M8 47h0M8 48h0" stroke="#5abce9"/><path d="M11 33h0M6 36h0M19 37h0" stroke="#75c7e9"/><path d="M10 25h0M8 26h0M5 37h0" stroke="#ccbfc5"/><path d="M6 38h0M6 42h0" stroke="#db9c9f"/><path d="M2 33h0M8 42h0M6 43h0" stroke="#ea7979"/><path d="M8 30h0M9 34h0M7 37h0M9 42h0M6 44h0M8 45h0" stroke="#ee322e"/></g></g>
<clipPath id="c4"><path d="M544.5 1497L721.05 1673.55L897.6 1497z"/></clipPath>
<g clip-path="url(#c4)"><g transform="matrix(3.5310 -3.5310 3.5310 3.5310 544.5 1497) translate(.5 .5)" stroke-width="1.06" stroke-linecap="square" fill="none"><path d="M7 26h0M9 28h0M12 28h0M1 29h0M9 29h0M7 32h0M13 32h0M8 33h0M12 33h1M16 34h0M0 35h0M7 37h0M13 37h0M8 38h0M4 42h0M11 42h0M13 42h0M16 43h0M0 44h0M7 44h0M13 45h0M6 46h1M5 47h0M10 47h0M9 48h0M16 49h0" stroke="#97a2b1"/><path d="M6 38h0M6 47h0M36 49h0M40 49h0" stroke="#7793bc"/><path d="M4 18h0M4 22h0M6 25h0M12 25h0M9 26h0M11 26h0M12 29h0M6 30h3M12 31h1M15 31h0M11 33h0M19 33h0M12 34h0M14 34h0M18 34h0M7 35h0M5 37h0M10 38h0M20 38h0M7 39h1M10 39h0M10 40h0M15 41h0M12 42h0M18 43h0M11 44h0M11 47h0M4 48h0M13 48h0M2 49h0" stroke="#5685c7"/><path d="M2 15h0M6 18h0M6 22h0M10 22h0M12 22h0M2 23h0M8 24h0M12 24h0M14 24h0M2 25h0M7 25h0M14 25h0M10 26h0M10 28h0M13 28h0M7 31h0M10 33h0M15 34h0M14 35h0M12 36h0M1 37h0M1 39h0M9 39h0M1 41h0M14 43h0M18 45h0M45 48h0M39 49h0" stroke="#4d89d0"/><path d="M4 15h0M4 16h1M9 19h0M7 20h0M9 22h0M11 22h0M13 24h0M1 26h0M6 26h0M3 27h0M11 27h0M18 27h0M6 29h0M17 29h0M14 30h0M5 31h0M12 32h0M16 33h0M18 33h0M2 34h0M13 34h0M17 34h0M12 35h0M7 38h0M12 38h0M14 39h0M12 43h0M20 43h0M9 46h0M31 47h0M9 49h0" stroke="#519ad8"/><path d="M4 17h0M11 24h0M15 24h0M7 27h0M14 28h0M19 28h0M16 29h0M1 30h0M14 31h0M8 32h0M10 34h1M15 36h0M8 37h0M9 41h0M21 41h0M17 45h0M42 45h0M14 46h0M19 46h0M0 47h0M44 47h0M5 48h0M32 49h0M35 49h0" stroke="#56abe1"/><path d="M3 15h0M3 17h0M5 20h0M13 23h0M8 26h0M14 26h0M15 28h0M10 29h1M14 29h0M13 30h0M10 31h0M16 31h0M14 32h1M9 33h0M14 33h0M13 35h0M9 36h0M12 37h0M12 39h0M15 39h0M12 40h0M8 41h0M12 41h0M17 42h0M2 43h0M5 43h0M8 43h2M19 43h0M5 44h0M15 46h0" stroke="#5abce9"/><path d="M7 22h0M0 25h0M8 25h1M11 25h0M16 25h0M15 26h0M1 28h0M16 28h0M2 30h0M15 30h0M10 32h0M15 33h0M17 33h0M8 34h0M2 36h0M16 36h0M18 36h0M6 37h0M11 37h0M9 38h0M8 40h0M7 41h0M10 41h0M9 42h0M14 42h0M13 43h0M9 44h0M5 46h0" stroke="#75c7e9"/><path d="M1 15h0M16 35h0M15 48h0M15 49h0" stroke="#b5d2e0"/><path d="M2 28h0M6 33h0M2 35h0M1 36h0M7 40h0M15 42h0M11 43h0" stroke="#ccbfc5"/><path d="M11 19h0M3 21h0M9 21h0M12 26h0M7 28h0M9 37h0M13 39h0M13 40h0M18 42h0M1 44h0M20 44h0M11 45h0" stroke="#db9c9f"/><path d="M9 20h0M12 21h0M5 25h0M4 26h1M4 27h0M14 27h0M5 28h0M3 29h0M8 31h0M2 32h1M16 32h0M6 35h0M19 37h0M18 40h0M17 41h0M5 45h0M3 47h0M4 49h0" stroke="#ea7979"/><path d="M7 15h0M17 28h0M7 29h0M18 30h0M15 38h0M4 44h0" stroke="#ee5e5d"/><path d="M1 19h0M5 19h0M5 21h0M3 23h0M4 24h0M4 28h0M4 30h0M11 31h0M4 32h0M2 33h0M5 33h0M5 34h0M3 35h1M5 38h0M5 39h0M3 43h1M2 48h0" stroke="#ee4846"/><path d="M5 15h0M3 16h0M6 19h0M4 20h0M4 21h0M5 22h0M4 23h1M3 24h0M5 24h0M4 25h0M5 27h0M3 28h0M4 29h1M3 30h0M5 30h0M3 31h1M1 32h0M5 32h1M3 33h1M7 33h0M3 34h1M5 35h0M3 36h2M4 37h0M3 38h1M2 39h2M3 40h1M3 41h2M5 42h1M3 44h0M4 45h0M3 46h1M2 47h0" stroke="#ee322e"/></g></g>
<path d="M136.5 1497H489.9L313.2 1673.2z" fill="none" stroke="#000" stroke-width="2" stroke-linejoin="miter"/>
<path d="M544.5 1497H897.6L721 1673.2z" fill="none" stroke="#000" stroke-width="2"/>
<text x="175.4" y="1674" font-size="24.9" textLength="81" lengthAdjust="spacingAndGlyphs">Control</text>
<text x="753.2" y="1674" font-size="24.9" textLength="161.2" lengthAdjust="spacingAndGlyphs">20w-pWGD T1</text>
<text x="454.1" y="1230.8" font-size="24.9" textLength="125" lengthAdjust="spacingAndGlyphs">Normalized</text>
<text x="455.4" y="1260.6" font-size="24.9" textLength="129" lengthAdjust="spacingAndGlyphs">interactions</text>
<defs><linearGradient id="gv1" x1="0" y1="0" x2="1" y2="0"><stop offset="0.000" stop-color="#440154"/><stop offset="0.100" stop-color="#482475"/><stop offset="0.200" stop-color="#414487"/><stop offset="0.300" stop-color="#355f8d"/><stop offset="0.400" stop-color="#2a788e"/><stop offset="0.500" stop-color="#21918c"/><stop offset="0.600" stop-color="#22a884"/><stop offset="0.700" stop-color="#44bf70"/><stop offset="0.800" stop-color="#7ad151"/><stop offset="0.900" stop-color="#bddf26"/><stop offset="1.000" stop-color="#fde725"/></linearGradient></defs>
<rect x="463.4" y="1269.4" width="101.9" height="25.1" fill="url(#gv1)" stroke="#000" stroke-width="2"/>
<path d="M463.4 1294.5v5.3M514.1 1294.5v5.3M565.3 1294.5v5.3" fill="none" stroke="#000" stroke-width="2"/>
<text x="464.2" y="1321.3" font-size="24.9" text-anchor="middle" textLength="13.93" lengthAdjust="spacingAndGlyphs">0</text>
<text x="518.6" y="1321.3" font-size="24.9" text-anchor="middle" textLength="34.82" lengthAdjust="spacingAndGlyphs">2.5</text>
<text x="565.3" y="1321.3" font-size="24.9" text-anchor="middle" textLength="13.93" lengthAdjust="spacingAndGlyphs">5</text>
<text x="430.7" y="1612.5" font-size="24.9" textLength="161.2" lengthAdjust="spacingAndGlyphs">−log<tspan font-size="70%" dy="0.3em">10</tspan><tspan dy="-0.21em">(</tspan><tspan font-style="italic">P</tspan> value)</text>
<defs><linearGradient id="gs1" x1="0" y1="0" x2="1" y2="0"><stop offset="0.000" stop-color="#a7a9ac"/><stop offset="0.180" stop-color="#4a7fcb"/><stop offset="0.420" stop-color="#5bc0eb"/><stop offset="0.580" stop-color="#b0d6e6"/><stop offset="0.660" stop-color="#cdbec3"/><stop offset="0.800" stop-color="#ee6e6e"/><stop offset="1.000" stop-color="#ee2722"/></linearGradient></defs>
<rect x="458.1" y="1625.3" width="101.8" height="23.1" fill="url(#gs1)" stroke="#000" stroke-width="2"/>
<path d="M475.4 1648.4v4.8M503.4 1648.4v4.8M531.9 1648.4v4.8M559.4 1648.4v4.8" fill="none" stroke="#000" stroke-width="2"/>
<text x="484" y="1691.9" font-size="24.9" transform="rotate(-90 484 1691.9)" textLength="30.7" lengthAdjust="spacingAndGlyphs">1.5</text>
<text x="512.5" y="1691.9" font-size="24.9" transform="rotate(-90 512.5 1691.9)" textLength="30.7" lengthAdjust="spacingAndGlyphs">2.0</text>
<text x="540.5" y="1691.9" font-size="24.9" transform="rotate(-90 540.5 1691.9)" textLength="30.7" lengthAdjust="spacingAndGlyphs">2.5</text>
<text x="568.7" y="1691.9" font-size="24.9" transform="rotate(-90 568.7 1691.9)" textLength="30.7" lengthAdjust="spacingAndGlyphs">3.0</text>
<text transform="translate(1005.02 1216.7) scale(1.22 1)" font-size="31.5" font-weight="bold" stroke="#000" stroke-width="1.2">k</text>
<text x="1080.8" y="1230.5" font-size="24.9" textLength="81" lengthAdjust="spacingAndGlyphs">Control</text>
<clipPath id="c5"><path d="M1114.6 1397.1L1289.85 1221.15L1465.1 1397.1z"/></clipPath>
<g clip-path="url(#c5)"><rect x="1114.6" y="1221.15" width="350.5" height="175.95" fill="#414487"/><g transform="matrix(1.9472 1.9550 1.9472 -1.9550 1114.6 1397.1) translate(.5 .5)" stroke-width="1.06" stroke-linecap="square" fill="none"><path d="M35 48h0M41 54h0M14 64h0" stroke="#461466"/><path d="M46 46h0M34 48h0M40 49h0M47 51h0M47 52h0M11 53h0M20 53h0M26 53h0M6 54h0M9 54h0M17 54h0M21 55h0M28 55h0M18 56h1M9 59h0M11 59h1M24 59h0M24 60h0M10 62h0M19 62h0M38 62h0M10 63h0M24 63h0M13 64h0M10 65h0M25 65h0M13 67h0M17 67h0M21 67h0M26 67h0M44 68h0M52 82h0M5 84h0M69 84h0M10 85h1M23 85h0M55 85h0M10 86h1M14 86h0M17 86h0M27 86h1M46 86h0M48 86h0M55 86h0M67 86h0M26 87h0M59 87h0M66 87h0M10 89h0M12 89h0M42 89h0" stroke="#482071"/><path d="M16 21h0M42 42h0M42 43h0M44 45h0M42 46h0M41 47h1M45 47h1M28 48h0M33 48h0M43 48h0M45 48h0M47 48h0M2 49h0M26 49h1M33 49h1M37 49h0M42 49h1M3 50h0M27 50h3M33 50h0M37 50h0M47 50h0M9 51h1M15 51h0M23 51h0M26 51h2M38 51h0M48 51h0M11 52h0M15 52h0M17 52h0M20 52h0M24 52h0M26 52h0M28 52h0M44 52h0M46 52h0M48 52h0M6 53h0M12 53h1M17 53h0M19 53h0M22 53h0M27 53h0M30 53h0M32 53h0M34 53h2M38 53h2M42 53h0M44 53h0M11 54h0M15 54h0M20 54h1M25 54h0M28 54h0M39 54h1M43 54h0M48 54h0M20 55h0M23 55h0M25 55h0M40 55h0M42 55h0M13 56h0M25 56h0M32 56h0M34 56h0M39 56h0M43 56h0M11 57h1M20 57h1M33 57h1M43 57h0M11 58h0M21 58h1M24 58h1M27 58h0M31 58h0M34 58h0M39 58h1M1 59h0M17 59h0M20 59h0M23 59h0M37 59h0M46 59h0M1 60h0M23 60h0M27 60h0M29 60h0M35 60h0M13 61h0M16 61h0M19 61h0M32 61h0M38 61h0M12 62h0M16 62h0M29 62h0M33 62h0M35 62h0M37 62h0M44 62h0M22 63h0M27 63h0M33 63h0M37 63h2M11 64h0M16 64h0M20 64h0M35 64h1M8 65h0M14 65h0M18 65h0M24 65h0M28 65h0M38 65h0M41 65h0M10 66h0M18 66h1M23 66h2M28 66h2M37 66h0M8 67h0M10 67h0M14 67h0M27 67h0M30 67h0M33 67h0M43 67h0M13 68h0M26 68h0M29 68h0M69 79h0M32 81h0M58 81h0M72 81h1M5 82h0M15 82h0M40 82h0M53 82h0M55 82h0M63 82h0M6 83h0M12 83h0M25 83h0M50 83h0M65 83h0M6 84h0M8 84h0M10 84h0M21 84h1M25 84h0M37 84h0M51 84h0M68 84h0M70 84h0M2 85h0M12 85h0M19 85h0M21 85h1M31 85h0M33 85h0M35 85h0M41 85h1M50 85h1M56 85h0M62 85h0M67 85h0M72 85h0M2 86h0M16 86h0M31 86h0M38 86h0M42 86h0M50 86h0M54 86h0M56 86h0M60 86h0M70 86h1M6 87h0M9 87h0M16 87h4M23 87h0M32 87h0M36 87h0M46 87h0M51 87h0M60 87h0M64 87h0M71 87h0M2 88h0M4 88h0M8 88h0M10 88h0M13 88h1M20 88h1M26 88h0M28 88h0M42 88h0M44 88h0M47 88h0M60 88h0M64 88h1M70 88h0M1 89h0M3 89h1M7 89h0M15 89h0M17 89h0M20 89h0M29 89h0M33 89h1M41 89h0M46 89h0M48 89h1M55 89h1M63 89h0M70 89h0" stroke="#462c7a"/><path d="M4 5h0M9 9h0M0 13h0M8 16h0M7 21h0M21 21h0M23 24h0M22 28h0M20 29h0M28 34h0M29 42h0M38 43h0M43 43h0M35 44h0M38 44h0M42 44h2M25 45h0M36 45h0M43 45h0M45 45h0M33 46h1M37 46h0M45 46h0M0 47h0M5 47h0M30 47h0M35 47h0M37 47h0M40 47h0M47 47h0M0 48h0M18 48h0M24 48h1M37 48h0M39 48h1M48 48h0M0 49h1M3 49h0M6 49h0M15 49h0M25 49h0M28 49h0M30 49h0M35 49h0M38 49h1M44 49h0M47 49h0M1 50h0M12 50h0M14 50h1M18 50h0M21 50h1M31 50h1M34 50h0M36 50h0M38 50h0M40 50h4M46 50h0M49 50h0M2 51h0M7 51h0M11 51h3M20 51h2M24 51h0M31 51h4M37 51h0M41 51h1M45 51h1M0 52h1M9 52h0M14 52h0M18 52h1M21 52h1M33 52h1M36 52h0M41 52h0M5 53h0M7 53h0M9 53h1M15 53h1M18 53h0M21 53h0M24 53h0M31 53h0M33 53h0M37 53h0M41 53h0M43 53h0M47 53h0M0 54h0M4 54h0M7 54h1M10 54h0M12 54h0M14 54h0M16 54h0M22 54h2M26 54h1M29 54h0M33 54h1M37 54h0M42 54h0M44 54h3M49 54h0M1 55h0M9 55h0M12 55h1M15 55h0M17 55h0M19 55h0M24 55h0M26 55h0M30 55h0M33 55h1M36 55h0M39 55h0M41 55h0M45 55h0M49 55h0M6 56h1M12 56h0M15 56h0M17 56h0M20 56h2M27 56h0M29 56h0M31 56h0M33 56h0M36 56h1M40 56h1M44 56h1M47 56h1M0 57h0M2 57h0M8 57h1M13 57h0M16 57h3M25 57h0M29 57h0M35 57h0M37 57h0M39 57h0M41 57h1M44 57h1M9 58h1M12 58h0M17 58h0M20 58h0M28 58h1M32 58h0M35 58h1M38 58h0M42 58h0M44 58h1M2 59h0M8 59h0M10 59h0M14 59h0M16 59h0M18 59h0M21 59h0M26 59h0M28 59h0M30 59h0M34 59h2M38 59h0M40 59h0M42 59h0M2 60h1M9 60h0M11 60h3M16 60h0M18 60h2M25 60h1M28 60h0M30 60h1M34 60h0M38 60h2M44 60h0M0 61h0M5 61h1M14 61h0M18 61h0M21 61h2M25 61h1M28 61h0M31 61h0M34 61h2M39 61h2M2 62h0M9 62h0M13 62h1M17 62h0M20 62h1M34 62h0M36 62h0M39 62h0M45 62h0M1 63h1M8 63h0M14 63h0M17 63h0M19 63h2M23 63h0M25 63h1M28 63h2M35 63h0M3 64h0M5 64h0M8 64h2M15 64h0M17 64h0M19 64h0M21 64h1M25 64h0M29 64h0M34 64h0M37 64h0M39 64h0M43 64h0M6 65h1M9 65h0M11 65h0M13 65h0M15 65h0M17 65h0M19 65h0M23 65h0M34 65h1M37 65h0M39 65h1M7 66h0M9 66h0M11 66h0M14 66h1M21 66h0M26 66h0M32 66h1M36 66h0M40 66h0M43 66h0M6 67h1M9 67h0M15 67h1M23 67h2M32 67h0M34 67h1M9 68h0M11 68h0M16 68h1M20 68h0M27 68h1M30 68h0M33 68h0M35 68h0M37 68h0M66 68h0M6 69h0M37 69h0M39 69h1M37 70h0M26 71h0M64 72h1M61 75h1M65 75h0M60 76h0M62 76h0M68 76h0M74 76h0M62 77h2M68 77h0M72 77h1M58 78h0M61 78h0M68 78h0M54 79h0M59 79h0M66 79h0M70 79h1M40 80h0M45 80h0M52 80h0M66 80h0M69 80h0M2 81h0M10 81h0M14 81h0M27 81h1M35 81h0M43 81h0M45 81h0M48 81h0M50 81h1M57 81h0M61 81h2M67 81h1M71 81h0M74 81h0M6 82h0M9 82h1M13 82h1M22 82h0M25 82h1M28 82h0M32 82h2M39 82h0M42 82h0M49 82h2M54 82h0M58 82h0M61 82h0M64 82h0M67 82h0M71 82h1M0 83h0M2 83h0M5 83h0M10 83h0M16 83h1M22 83h0M24 83h0M27 83h1M30 83h0M35 83h0M39 83h1M43 83h0M45 83h1M51 83h1M54 83h0M57 83h0M66 83h0M68 83h0M70 83h0M73 83h1M0 84h2M4 84h0M9 84h0M12 84h0M15 84h1M18 84h0M26 84h1M29 84h0M31 84h1M34 84h1M39 84h1M43 84h3M49 84h1M53 84h1M57 84h3M64 84h0M73 84h1M1 85h0M3 85h0M8 85h0M16 85h1M20 85h0M25 85h0M27 85h1M32 85h0M36 85h0M39 85h0M43 85h1M48 85h1M52 85h0M54 85h0M58 85h0M63 85h0M66 85h0M70 85h1M0 86h1M5 86h0M7 86h2M13 86h0M20 86h3M26 86h0M29 86h0M32 86h1M36 86h0M41 86h0M44 86h1M47 86h0M49 86h0M51 86h0M57 86h2M63 86h3M69 86h0M74 86h0M0 87h0M3 87h1M11 87h1M21 87h1M25 87h0M27 87h0M35 87h0M42 87h0M44 87h0M48 87h2M52 87h3M58 87h0M61 87h0M63 87h0M65 87h0M68 87h0M70 87h0M72 87h0M1 88h0M3 88h0M5 88h0M9 88h0M12 88h0M16 88h1M19 88h0M24 88h0M30 88h6M40 88h1M43 88h0M45 88h1M48 88h0M51 88h0M53 88h0M55 88h0M58 88h1M61 88h2M66 88h2M71 88h1M0 89h0M8 89h0M13 89h1M18 89h0M21 89h0M28 89h0M30 89h0M35 89h1M38 89h0M40 89h0M43 89h0M45 89h0M47 89h0M52 89h2M64 89h0M68 89h0M71 89h0" stroke="#443780"/><path d="M0 0h0M0 2h0M2 2h0M3 3h0M0 5h0M3 5h0M7 7h0M2 9h0M5 10h2M7 11h0M5 12h0M9 13h0M9 14h0M11 15h0M14 15h0M7 16h0M8 17h0M10 17h1M13 17h0M17 17h0M3 18h0M9 18h0M4 19h0M18 19h1M18 22h0M22 22h0M10 23h0M13 23h0M7 25h0M22 25h0M6 26h1M7 27h0M10 27h0M20 27h0M25 27h0M3 28h0M15 28h0M27 28h0M21 29h0M23 29h0M28 29h0M19 30h0M21 30h0M23 31h0M3 32h0M32 32h0M20 33h0M29 33h0M33 33h0M23 34h0M25 34h0M33 34h0M1 35h0M26 38h0M38 38h0M35 40h0M39 40h0M35 41h0M38 41h0M35 43h0M33 44h0M36 44h0M40 44h0M1 45h0M33 45h0M35 45h0M42 45h0M0 46h0M4 46h0M25 46h0M35 46h1M38 46h0M40 46h1M43 46h1M1 47h0M23 47h0M27 47h1M31 47h0M34 47h0M43 47h1M1 48h1M4 48h2M9 48h1M15 48h0M19 48h0M21 48h0M26 48h0M29 48h0M32 48h0M36 48h0M42 48h0M44 48h0M5 49h0M7 49h0M9 49h3M14 49h0M16 49h0M18 49h1M21 49h3M31 49h0M36 49h0M41 49h0M45 49h0M48 49h1M2 50h0M5 50h2M11 50h0M13 50h0M16 50h1M19 50h0M23 50h0M25 50h1M35 50h0M39 50h0M45 50h0M48 50h0M1 51h0M6 51h0M8 51h0M16 51h3M25 51h0M29 51h1M36 51h0M39 51h1M43 51h0M49 51h0M2 52h3M12 52h0M16 52h0M23 52h0M27 52h0M29 52h2M35 52h0M37 52h2M42 52h1M49 52h0M51 52h0M1 53h0M3 53h1M14 53h0M25 53h0M28 53h1M45 53h1M49 53h0M2 54h1M13 54h0M18 54h1M30 54h2M35 54h1M53 54h0M0 55h0M2 55h0M7 55h0M10 55h1M16 55h0M18 55h0M22 55h0M27 55h0M29 55h0M31 55h0M35 55h0M37 55h0M43 55h0M47 55h1M55 55h0M0 56h2M5 56h0M8 56h1M11 56h0M14 56h0M26 56h0M28 56h0M30 56h0M35 56h0M38 56h0M42 56h0M4 57h0M6 57h1M14 57h1M22 57h1M26 57h2M30 57h2M40 57h0M46 57h1M55 57h0M0 58h3M6 58h0M8 58h0M13 58h1M16 58h0M18 58h1M23 58h0M26 58h0M30 58h0M37 58h0M41 58h0M43 58h0M48 58h0M58 58h0M5 59h0M7 59h0M13 59h0M15 59h0M19 59h0M22 59h0M25 59h0M27 59h0M29 59h0M31 59h2M43 59h0M45 59h0M47 59h0M0 60h0M4 60h0M6 60h1M10 60h0M17 60h0M22 60h0M36 60h1M41 60h0M43 60h0M46 60h0M1 61h0M4 61h0M7 61h5M15 61h0M17 61h0M20 61h0M24 61h0M27 61h0M30 61h0M33 61h0M37 61h0M42 61h1M45 61h0M47 61h0M0 62h1M5 62h1M11 62h0M15 62h0M23 62h0M25 62h1M28 62h0M30 62h2M40 62h2M0 63h0M3 63h1M9 63h0M12 63h1M15 63h1M31 63h1M36 63h0M40 63h1M43 63h2M59 63h0M63 63h0M4 64h0M6 64h1M12 64h0M18 64h0M23 64h1M28 64h0M30 64h1M33 64h0M38 64h0M40 64h1M44 64h0M64 64h0M1 65h0M4 65h0M16 65h0M20 65h2M27 65h0M29 65h0M33 65h0M36 65h0M0 66h0M6 66h0M8 66h0M12 66h0M16 66h1M27 66h0M35 66h0M38 66h1M42 66h0M44 66h0M0 67h0M5 67h0M11 67h1M22 67h0M28 67h1M36 67h1M39 67h1M42 67h0M6 68h0M8 68h0M10 68h0M12 68h0M18 68h1M21 68h0M24 68h0M31 68h1M38 68h0M40 68h3M63 68h1M4 69h1M9 69h1M16 69h0M18 69h0M22 69h1M25 69h0M38 69h0M42 69h0M63 69h2M2 70h0M4 70h0M10 70h0M13 70h0M17 70h0M24 70h0M33 70h1M40 70h2M64 70h0M69 70h1M33 71h0M65 71h1M71 71h0M38 72h0M72 73h0M41 74h0M67 74h0M63 75h0M66 75h0M72 75h0M56 76h0M61 76h0M63 76h2M67 76h0M72 76h0M56 77h3M65 77h2M74 77h0M54 78h0M59 78h0M62 78h0M64 78h0M66 78h0M72 78h0M35 79h1M42 79h1M52 79h0M58 79h0M60 79h2M65 79h0M67 79h0M72 79h0M37 80h0M43 80h0M50 80h0M54 80h0M57 80h0M61 80h0M63 80h1M67 80h1M70 80h1M77 80h0M5 81h0M11 81h0M13 81h0M15 81h0M17 81h0M24 81h0M29 81h2M33 81h0M36 81h0M38 81h2M42 81h0M44 81h0M46 81h1M52 81h2M56 81h0M59 81h1M64 81h2M69 81h0M0 82h0M2 82h0M4 82h0M8 82h0M11 82h1M16 82h1M19 82h0M21 82h0M23 82h1M27 82h0M30 82h1M35 82h1M44 82h1M47 82h1M56 82h1M59 82h1M62 82h0M65 82h0M70 82h0M73 82h1M7 83h2M11 83h0M13 83h2M19 83h0M21 83h0M23 83h0M26 83h0M29 83h0M31 83h3M37 83h1M41 83h1M44 83h0M47 83h0M55 83h1M58 83h1M61 83h3M67 83h0M69 83h0M71 83h0M3 84h0M11 84h0M19 84h0M23 84h0M28 84h0M30 84h0M33 84h0M36 84h0M38 84h0M42 84h0M55 84h1M62 84h1M65 84h2M71 84h0M0 85h0M4 85h1M7 85h0M9 85h0M15 85h0M18 85h0M24 85h0M29 85h1M34 85h0M37 85h1M40 85h0M45 85h2M53 85h0M57 85h0M59 85h0M65 85h0M68 85h1M73 85h1M3 86h0M12 86h0M15 86h0M18 86h1M24 86h1M30 86h0M34 86h0M39 86h1M43 86h0M52 86h1M61 86h1M1 87h0M7 87h1M10 87h0M13 87h2M28 87h2M33 87h1M37 87h2M45 87h0M47 87h0M56 87h1M62 87h0M67 87h0M69 87h0M73 87h1M7 88h0M15 88h0M22 88h1M25 88h0M27 88h0M29 88h0M39 88h0M49 88h1M52 88h0M54 88h0M56 88h1M69 88h0M73 88h1M6 89h0M9 89h0M16 89h0M19 89h0M22 89h0M24 89h1M31 89h1M37 89h0M39 89h0M44 89h0M51 89h0M57 89h1M61 89h1M65 89h2M69 89h0M72 89h1" stroke="#414386"/><path d="M0 1h0M3 4h1M2 5h0M0 6h6M0 7h0M5 7h0M1 8h1M4 8h0M7 8h1M1 9h0M8 9h0M0 10h0M3 10h1M10 10h0M5 11h1M1 12h0M11 13h0M0 14h0M4 14h2M8 14h0M11 14h1M7 15h1M12 15h0M11 16h1M14 16h1M2 17h0M4 17h3M9 17h0M15 17h1M1 18h0M6 18h0M8 18h0M10 18h1M16 18h1M2 19h1M11 19h1M14 19h1M2 20h1M10 20h2M15 20h4M5 21h0M20 21h0M3 22h1M9 22h2M13 22h0M16 22h1M20 22h0M0 23h0M2 23h0M5 23h0M7 23h0M11 23h1M15 23h0M20 23h0M23 23h0M0 24h0M5 24h2M11 24h0M17 24h0M21 24h0M24 24h0M5 25h0M9 25h0M12 25h0M16 25h0M19 25h2M24 25h1M8 26h0M11 26h1M15 26h0M17 26h2M21 26h2M25 26h0M1 27h2M6 27h0M12 27h0M15 27h1M21 27h0M26 27h0M0 28h2M6 28h0M18 28h0M21 28h0M24 28h1M3 29h2M12 29h1M15 29h0M18 29h0M22 29h0M26 29h0M13 30h0M20 30h0M26 30h0M13 31h0M17 31h0M26 31h1M29 31h0M1 32h1M16 32h0M22 32h0M26 32h1M29 32h0M1 33h0M3 33h0M7 33h0M9 33h0M26 33h0M30 33h1M1 34h0M6 34h0M14 34h0M20 34h0M22 34h0M24 34h0M27 34h0M29 34h1M34 34h0M7 35h0M28 36h0M33 36h0M36 36h0M30 37h1M36 37h0M0 38h0M24 38h0M31 38h2M35 38h0M37 38h0M0 39h0M24 39h0M27 39h0M35 39h0M38 39h1M33 40h0M29 41h0M39 41h0M28 42h0M33 42h0M35 42h0M38 42h1M41 42h0M2 43h0M26 43h1M40 43h0M2 44h0M32 44h0M34 44h0M41 44h0M0 45h0M2 45h0M4 45h1M28 45h1M34 45h0M37 45h1M40 45h1M2 46h1M5 46h1M8 46h1M14 46h0M23 46h0M27 46h0M31 46h1M39 46h0M3 47h1M6 47h0M8 47h0M10 47h1M17 47h1M20 47h0M25 47h0M29 47h0M32 47h1M36 47h0M38 47h1M3 48h0M7 48h1M11 48h1M17 48h0M20 48h0M22 48h1M27 48h0M38 48h0M41 48h0M46 48h0M4 49h0M8 49h0M13 49h0M17 49h0M20 49h0M29 49h0M46 49h0M0 50h0M4 50h0M9 50h0M20 50h0M24 50h0M0 51h0M3 51h2M44 51h0M50 51h1M6 52h2M10 52h0M13 52h0M25 52h0M32 52h0M45 52h0M2 53h0M23 53h0M48 53h0M1 54h0M5 54h0M38 54h0M50 54h0M3 55h1M6 55h0M8 55h0M14 55h0M32 55h0M38 55h0M44 55h0M46 55h0M3 56h1M10 56h0M16 56h0M24 56h0M46 56h0M54 56h0M1 57h0M3 57h0M5 57h0M10 57h0M24 57h0M36 57h0M38 57h0M56 57h0M4 58h0M7 58h0M15 58h0M33 58h0M46 58h1M0 59h0M4 59h0M39 59h0M41 59h0M44 59h0M48 59h0M5 60h0M15 60h0M21 60h0M32 60h1M42 60h0M47 60h0M2 61h1M29 61h0M44 61h0M46 61h0M48 61h0M56 61h1M3 62h1M18 62h0M22 62h0M24 62h0M27 62h0M43 62h0M47 62h0M59 62h0M61 62h0M5 63h2M11 63h0M18 63h0M34 63h0M42 63h0M46 63h0M62 63h0M0 64h0M2 64h0M26 64h1M32 64h0M42 64h0M45 64h1M63 64h0M0 65h0M3 65h0M5 65h0M12 65h0M26 65h0M30 65h2M42 65h0M44 65h1M59 65h0M61 65h0M65 65h0M1 66h0M5 66h0M13 66h0M20 66h0M31 66h0M34 66h0M41 66h0M1 67h2M18 67h2M31 67h0M38 67h0M41 67h0M44 67h0M60 67h0M0 68h0M3 68h2M7 68h0M14 68h1M22 68h1M25 68h0M34 68h0M36 68h0M39 68h0M67 68h1M1 69h0M7 69h0M11 69h0M14 69h0M17 69h0M19 69h2M24 69h0M26 69h0M28 69h1M32 69h0M41 69h0M44 69h0M69 69h0M5 70h0M7 70h0M9 70h0M12 70h0M16 70h0M18 70h2M28 70h4M36 70h0M63 70h0M1 71h1M6 71h0M9 71h0M25 71h0M27 71h0M34 71h0M36 71h0M40 71h2M63 71h1M70 71h0M35 72h0M37 72h0M39 72h0M62 72h1M71 72h0M60 73h2M57 74h0M59 74h1M64 74h0M68 74h0M72 74h1M57 75h1M60 75h0M64 75h0M67 75h0M69 75h0M71 75h0M73 75h1M3 76h0M41 76h0M43 76h0M59 76h0M66 76h0M70 76h1M73 76h0M55 77h0M61 77h0M71 77h0M29 78h0M40 78h1M45 78h0M51 78h0M60 78h0M63 78h0M65 78h0M67 78h0M69 78h2M73 78h1M77 78h0M30 79h0M37 79h1M41 79h0M44 79h3M50 79h1M53 79h0M57 79h0M63 79h0M68 79h0M73 79h1M2 80h0M14 80h0M23 80h0M30 80h0M32 80h1M36 80h0M38 80h1M44 80h0M46 80h1M49 80h0M51 80h0M56 80h0M58 80h1M62 80h0M65 80h0M73 80h3M78 80h0M80 80h0M0 81h1M6 81h0M8 81h1M16 81h0M18 81h1M21 81h1M26 81h0M37 81h0M41 81h0M49 81h0M70 81h0M76 81h1M3 82h0M7 82h0M20 82h0M37 82h1M41 82h0M46 82h0M66 82h0M68 82h0M3 83h1M18 83h0M20 83h0M36 83h0M48 83h1M53 83h0M60 83h0M72 83h0M7 84h0M13 84h1M17 84h0M20 84h0M24 84h0M47 84h1M52 84h0M61 84h0M6 85h0M13 85h1M26 85h0M61 85h0M64 85h0M6 86h0M35 86h0M37 86h0M68 86h0M73 86h0M75 86h0M2 87h0M5 87h0M24 87h0M31 87h0M40 87h0M43 87h0M76 87h0M0 88h0M6 88h0M11 88h0M18 88h0M37 88h1M2 89h0M5 89h0M11 89h0M23 89h0M26 89h1M50 89h0M59 89h1M74 89h0M83 89h0" stroke="#3d4d89"/><path d="M1 1h0M1 2h0M0 3h2M2 4h0M1 5h0M5 5h0M1 7h1M6 7h0M0 8h0M5 8h0M4 9h0M6 9h1M1 10h1M8 10h1M1 11h0M8 11h1M11 11h0M0 12h0M2 12h0M4 12h0M6 12h1M10 12h1M1 13h5M8 13h0M10 13h0M13 13h0M1 14h2M7 14h0M13 14h0M0 15h2M4 15h2M9 15h0M13 15h0M15 15h0M1 16h0M13 16h0M16 16h0M0 17h1M12 17h0M4 18h1M12 18h2M18 18h0M1 19h0M5 19h0M8 19h2M16 19h1M0 20h1M4 20h0M7 20h1M13 20h1M20 20h0M4 21h0M6 21h0M8 21h2M12 21h1M15 21h0M17 21h2M2 22h0M5 22h0M14 22h1M19 22h0M21 22h0M1 23h0M4 23h0M8 23h1M14 23h0M18 23h1M21 23h0M2 24h0M4 24h0M8 24h2M12 24h1M16 24h0M18 24h1M22 24h0M2 25h2M6 25h0M13 25h0M15 25h0M23 25h0M1 26h2M5 26h0M13 26h1M20 26h0M24 26h0M26 26h0M0 27h0M4 27h1M8 27h1M11 27h0M13 27h1M17 27h2M22 27h2M4 28h0M7 28h1M10 28h3M17 28h0M20 28h0M23 28h0M26 28h0M28 28h0M2 29h0M7 29h0M10 29h1M14 29h0M16 29h1M19 29h0M25 29h0M27 29h0M29 29h0M0 30h0M6 30h0M8 30h0M10 30h2M16 30h1M22 30h1M27 30h0M29 30h1M1 31h1M11 31h0M15 31h1M20 31h1M24 31h1M30 31h0M0 32h0M5 32h0M7 32h0M12 32h1M15 32h0M17 32h0M21 32h0M25 32h0M2 33h0M10 33h0M12 33h0M17 33h0M19 33h0M21 33h4M27 33h1M32 33h0M5 34h0M10 34h0M12 34h1M15 34h3M26 34h0M31 34h0M0 35h0M2 35h0M13 35h0M16 35h0M18 35h0M20 35h0M23 35h0M26 35h1M30 35h5M1 36h0M4 36h0M8 36h1M14 36h0M20 36h2M25 36h0M31 36h0M34 36h1M0 37h0M4 37h0M11 37h0M23 37h1M28 37h1M33 37h0M35 37h0M37 37h0M1 38h0M6 38h0M25 38h0M30 38h0M34 38h0M36 38h0M23 39h0M28 39h2M32 39h1M37 39h0M1 40h0M37 40h0M40 40h0M28 41h0M32 41h1M36 41h0M40 41h1M1 42h0M26 42h0M32 42h0M36 42h0M40 42h0M21 43h1M25 43h0M29 43h0M32 43h2M36 43h0M41 43h0M3 44h2M26 44h0M28 44h0M31 44h0M37 44h0M39 44h0M6 45h1M26 45h0M30 45h0M32 45h0M7 46h0M11 46h0M19 46h0M22 46h0M24 46h0M26 46h0M28 46h2M2 47h0M9 47h0M13 47h0M15 47h1M19 47h0M21 47h0M24 47h0M26 47h0M13 48h0M16 48h0M30 48h1M8 50h0M50 50h0M40 52h0M52 52h0M0 53h0M8 53h0M50 53h0M53 53h0M52 54h0M5 55h0M51 55h1M54 55h0M23 56h0M49 56h1M53 56h0M55 56h0M48 57h0M5 58h0M3 59h0M6 59h0M53 59h0M45 60h0M58 60h0M55 61h0M58 61h1M7 62h0M46 62h0M58 62h0M60 62h0M62 62h0M47 63h0M56 63h1M1 64h0M59 64h3M2 65h0M43 65h0M3 66h1M22 66h0M45 66h0M59 66h0M65 66h0M4 67h0M59 67h0M62 67h2M66 67h0M45 68h0M62 68h0M65 68h0M0 69h0M2 69h1M8 69h0M15 69h0M27 69h0M30 69h1M33 69h3M43 69h0M45 69h0M59 69h3M66 69h0M68 69h0M1 70h0M3 70h0M6 70h0M11 70h0M14 70h1M21 70h1M25 70h1M38 70h1M43 70h0M59 70h2M65 70h3M0 71h0M4 71h1M8 71h0M10 71h0M15 71h0M18 71h0M23 71h0M30 71h2M35 71h0M37 71h2M45 71h0M58 71h0M68 71h1M0 72h3M9 72h0M31 72h0M40 72h2M58 72h0M60 72h1M66 72h0M69 72h1M72 72h0M1 73h0M6 73h0M29 73h1M37 73h0M40 73h1M56 73h0M63 73h0M65 73h0M67 73h0M69 73h0M71 73h0M73 73h0M30 74h0M36 74h0M38 74h0M40 74h0M42 74h0M58 74h0M65 74h0M70 74h1M74 74h0M56 75h0M59 75h0M68 75h0M42 76h0M53 76h2M57 76h1M2 77h0M29 77h1M37 77h0M40 77h0M42 77h7M52 77h2M60 77h0M69 77h1M77 77h0M39 78h0M42 78h0M44 78h0M46 78h2M52 78h0M55 78h2M75 78h1M78 78h0M0 79h0M2 79h1M6 79h0M10 79h0M29 79h0M34 79h0M39 79h0M49 79h0M55 79h1M64 79h0M75 79h2M1 80h0M3 80h1M6 80h1M9 80h0M11 80h0M15 80h4M24 80h0M31 80h0M34 80h1M42 80h0M48 80h0M53 80h0M55 80h0M72 80h0M3 81h1M12 81h0M20 81h0M23 81h0M25 81h0M34 81h0M55 81h0M78 81h0M29 82h0M69 82h0M78 82h2M82 82h0M1 83h0M78 83h0M41 84h0M72 84h0M78 84h1M60 85h0M75 85h0M78 85h0M81 85h1M4 86h0M72 86h0M77 86h0M82 86h2M86 86h0M41 87h0M75 87h0M77 87h0M81 87h0M86 87h0M75 88h0M79 88h0M84 88h2M77 89h1M80 89h0M84 89h2M88 89h0" stroke="#39568b"/><path d="M0 4h0M4 7h0M3 8h0M6 8h0M0 9h0M3 9h0M5 9h0M0 11h0M2 11h2M10 11h0M3 12h0M9 12h0M12 12h0M12 13h0M10 14h0M3 15h0M0 16h0M2 16h0M4 16h2M9 16h0M3 17h0M14 17h0M0 18h0M2 18h0M7 18h0M15 18h0M0 19h0M6 19h1M13 19h0M5 20h0M9 20h0M0 21h1M3 21h0M14 21h0M1 22h0M6 22h2M3 23h0M16 23h1M22 23h0M1 24h0M3 24h0M14 24h1M20 24h0M8 25h0M11 25h0M14 25h0M17 25h1M0 26h0M4 26h0M9 26h1M16 26h0M27 27h0M5 28h0M9 28h0M14 28h0M19 28h0M0 29h1M6 29h0M9 29h0M24 29h0M1 30h1M5 30h0M7 30h0M9 30h0M14 30h1M18 30h0M24 30h1M28 30h0M0 31h0M3 31h0M6 31h0M8 31h2M12 31h0M14 31h0M18 31h0M22 31h0M28 31h0M31 31h0M4 32h0M20 32h0M23 32h1M30 32h1M0 33h0M4 33h0M6 33h0M8 33h0M11 33h0M13 33h0M16 33h0M18 33h0M0 34h0M2 34h2M8 34h1M11 34h0M19 34h0M21 34h0M32 34h0M3 35h0M5 35h1M9 35h0M12 35h0M14 35h1M19 35h0M21 35h1M25 35h0M28 35h1M2 36h1M10 36h3M23 36h1M27 36h0M29 36h1M32 36h0M5 37h0M9 37h0M13 37h0M16 37h2M20 37h0M22 37h0M25 37h2M34 37h0M3 38h0M13 38h0M17 38h1M22 38h0M27 38h0M29 38h0M1 39h0M4 39h0M21 39h0M25 39h1M31 39h0M34 39h0M36 39h0M2 40h0M21 40h0M27 40h0M30 40h2M34 40h0M36 40h0M38 40h0M0 41h0M2 41h0M27 41h0M30 41h0M34 41h0M37 41h0M2 42h0M5 42h0M27 42h0M31 42h0M37 42h0M0 43h1M3 43h2M28 43h0M30 43h1M37 43h0M39 43h0M0 44h1M7 44h0M9 44h0M18 44h0M20 44h0M25 44h0M29 44h1M3 45h0M8 45h1M14 45h0M19 45h0M21 45h0M23 45h1M27 45h0M31 45h0M39 45h0M1 46h0M12 46h0M15 46h2M20 46h0M7 47h0M12 47h0M14 47h0M22 47h0M14 48h0M32 49h0M10 50h0M50 52h0M51 53h1M51 54h0M50 55h0M52 56h0M56 56h0M49 57h0M53 57h1M57 57h0M49 58h0M54 58h3M49 59h0M54 59h4M8 60h0M48 60h1M54 60h1M59 60h1M60 61h1M8 62h0M55 62h2M54 63h0M60 63h0M57 64h0M46 65h0M58 65h0M60 65h0M62 65h1M2 66h0M58 66h0M62 66h2M66 66h0M45 67h0M56 67h0M58 67h0M61 67h0M65 67h0M67 67h0M1 68h1M58 68h0M60 68h1M12 69h1M46 69h0M58 69h0M67 69h0M0 70h0M8 70h0M23 70h0M27 70h0M35 70h0M44 70h1M58 70h0M62 70h0M3 71h0M7 71h0M11 71h0M17 71h0M21 71h1M24 71h0M29 71h0M43 71h1M57 71h0M59 71h0M61 71h1M67 71h0M7 72h1M10 72h0M18 72h0M21 72h1M26 72h1M29 72h0M33 72h1M36 72h0M59 72h0M67 72h1M2 73h0M33 73h0M35 73h1M38 73h1M42 73h0M57 73h0M59 73h0M64 73h0M66 73h0M70 73h0M0 74h1M4 74h0M35 74h0M39 74h0M55 74h0M61 74h2M66 74h0M69 74h0M0 75h0M31 75h0M37 75h0M39 75h2M55 75h0M70 75h0M0 76h0M38 76h2M44 76h0M47 76h1M51 76h1M69 76h0M31 77h0M35 77h1M39 77h0M51 77h0M76 77h0M0 78h0M11 78h0M30 78h0M33 78h1M37 78h1M43 78h0M49 78h0M53 78h0M14 79h0M17 79h0M19 79h0M22 79h0M28 79h0M31 79h1M40 79h0M48 79h0M78 79h0M0 80h0M5 80h0M8 80h0M10 80h0M12 80h1M20 80h1M26 80h1M29 80h0M41 80h0M60 80h0M75 81h0M79 81h0M81 81h0M1 82h0M18 82h0M43 82h0M75 82h2M75 83h2M79 83h0M81 83h0M75 84h2M80 84h0M82 84h2M76 85h0M80 85h0M83 85h1M76 86h0M78 86h2M78 87h0M83 87h2M76 88h0M78 88h0M80 88h0M82 88h1M87 88h0M75 89h0M81 89h1M89 89h0" stroke="#35608d"/><path d="M1 4h0M3 7h0M8 12h0M7 13h0M14 14h0M10 15h0M3 16h0M10 16h0M6 20h0M2 21h0M11 21h0M0 22h0M12 22h0M6 23h0M0 25h1M10 25h0M16 28h0M8 29h0M4 31h1M7 31h0M19 31h0M6 32h0M9 32h2M14 32h0M18 32h0M28 32h0M5 33h0M14 33h1M7 34h0M4 35h0M8 35h0M11 35h0M17 35h0M24 35h0M0 36h0M6 36h0M15 36h2M19 36h0M26 36h0M2 37h1M6 37h2M12 37h0M14 37h0M19 37h0M21 37h0M2 38h0M5 38h0M8 38h0M16 38h0M20 38h0M23 38h0M28 38h0M3 39h0M5 39h1M17 39h1M20 39h0M0 40h0M5 40h0M8 40h0M15 40h0M24 40h0M26 40h0M28 40h1M3 41h0M6 41h0M26 41h0M31 41h0M3 42h0M6 42h2M22 42h0M30 42h0M34 42h0M10 43h0M19 43h0M23 43h1M6 44h0M19 44h0M21 44h0M23 44h1M27 44h0M13 45h0M17 45h1M20 45h0M22 45h0M10 46h0M13 46h0M18 46h0M54 54h0M53 55h0M53 58h0M52 59h0M59 59h0M53 60h0M56 60h1M49 61h0M48 62h0M48 63h0M55 63h0M61 63h0M47 64h0M56 64h0M58 64h0M57 65h0M46 66h0M48 66h0M60 66h1M46 67h1M46 68h0M57 68h0M59 68h0M46 70h0M57 70h0M12 71h2M16 71h0M28 71h0M46 71h1M60 71h0M4 72h0M11 72h1M15 72h0M19 72h0M23 72h0M28 72h0M32 72h0M43 72h0M5 73h0M7 73h0M11 73h0M13 73h0M15 73h0M21 73h0M28 73h0M34 73h0M58 73h0M68 73h0M5 74h0M13 74h0M22 74h1M56 74h0M1 75h0M6 75h0M19 75h0M32 75h4M38 75h0M42 75h0M53 75h1M2 76h0M4 76h0M6 76h1M23 76h1M30 76h1M33 76h1M37 76h0M46 76h0M49 76h0M75 76h1M0 77h0M3 77h1M6 77h0M20 77h0M22 77h1M33 77h0M41 77h0M50 77h0M75 77h0M2 78h0M4 78h0M6 78h0M8 78h0M20 78h1M25 78h0M31 78h0M50 78h0M8 79h0M15 79h0M20 79h0M23 79h2M33 79h0M79 79h0M25 80h0M28 80h0M79 80h0M7 81h0M80 81h0M81 82h0M80 83h0M82 83h0M81 84h0M77 85h0M79 85h0M81 86h0M79 87h1M82 87h0M87 87h0M77 88h0M81 88h0M88 88h0M76 89h0M79 89h0M87 89h0" stroke="#31698d"/><path d="M3 30h1M8 32h0M19 32h0M10 35h0M5 36h0M7 36h0M18 36h0M1 37h0M10 37h0M15 37h0M32 37h0M4 38h0M11 38h1M14 38h1M19 38h0M21 38h0M2 39h0M7 39h1M10 39h1M14 39h0M19 39h0M22 39h0M3 40h1M7 40h0M16 40h0M20 40h0M23 40h0M1 41h0M7 41h2M18 41h0M20 41h2M25 41h0M4 42h0M10 42h0M15 42h0M18 42h1M21 42h0M23 42h0M11 43h1M14 43h0M16 43h0M18 43h0M20 43h0M8 44h0M10 44h1M13 44h1M16 44h1M10 45h0M12 45h0M15 45h1M21 46h0M50 57h1M50 58h0M50 59h0M50 60h2M54 61h0M49 62h0M53 63h0M58 63h0M48 64h0M56 65h0M64 65h0M47 66h0M55 66h0M57 66h0M57 67h0M47 68h0M57 69h0M55 71h0M6 72h0M44 72h0M55 72h2M12 73h0M14 73h0M17 73h0M22 73h0M26 73h1M31 73h0M55 73h0M6 74h0M8 74h0M17 74h1M24 74h0M26 74h0M34 74h0M37 74h0M54 74h0M4 75h0M22 75h2M43 75h0M45 75h0M52 75h0M75 75h0M15 76h0M22 76h0M25 76h0M29 76h0M45 76h0M50 76h0M5 77h0M7 77h1M10 77h1M24 77h0M1 78h0M3 78h0M10 78h0M18 78h1M22 78h1M27 78h1M32 78h0M35 78h0M1 79h0M11 79h0M16 79h0M26 79h0M83 83h0M85 85h0M85 86h0" stroke="#2d728e"/><path d="M7 38h0M9 38h1M12 39h1M15 39h0M6 40h0M9 40h1M18 40h0M22 40h0M25 40h0M4 41h1M10 41h2M16 41h0M23 41h1M0 42h0M9 42h0M11 42h0M14 42h0M17 42h0M20 42h0M24 42h1M6 43h3M15 43h0M12 44h0M15 44h0M22 44h0M11 45h0M51 56h0M52 57h0M51 58h1M50 61h1M53 61h0M53 62h1M49 63h0M55 64h0M47 65h1M54 65h1M56 66h0M48 67h0M55 68h0M47 69h0M47 70h0M56 70h0M5 72h0M20 72h0M54 72h0M19 73h1M23 73h0M25 73h0M53 73h0M3 74h0M14 74h1M53 74h0M2 75h0M10 75h3M15 75h1M18 75h0M21 75h0M44 75h0M46 75h0M51 75h0M1 76h0M5 76h0M9 76h5M16 76h0M20 76h0M12 77h0M14 77h1M17 77h1M21 77h0M25 77h0M27 77h0M38 77h0M7 78h0M15 78h1M4 79h0M22 80h0" stroke="#297b8e"/><path d="M9 39h0M16 39h0M11 40h0M13 40h1M17 40h0M19 40h0M15 41h0M17 41h0M19 41h0M12 42h1M16 42h0M13 43h0M17 43h0M51 59h0M52 61h0M52 62h0M54 64h0M54 66h0M55 67h0M48 68h0M56 68h0M56 69h0M55 70h0M19 71h0M54 71h0M56 71h0M25 72h0M45 72h0M0 73h0M4 73h0M10 73h0M24 73h0M54 73h0M2 74h0M7 74h0M20 74h0M27 74h0M33 74h0M17 75h0M28 75h0M30 75h0M49 75h1M18 76h1M28 76h0M32 76h0M36 76h0M1 77h0M26 77h0M36 78h0M5 79h0M7 79h0M18 79h0M21 79h0M27 79h0" stroke="#26848d"/><path d="M12 40h0M14 41h0M51 62h0M52 63h0M49 64h0M52 64h1M53 66h0M54 67h0M48 69h0M55 69h0M54 70h0M16 72h1M30 72h0M46 72h0M3 73h0M32 73h0M10 74h0M19 74h0M31 74h1M5 75h0M7 75h0M47 75h1M35 76h0M28 77h0M32 77h0M34 77h0M26 78h0M9 79h0M12 79h1" stroke="#238d8c"/><path d="M13 41h0M50 62h0M53 65h0M54 68h0M54 69h0M48 70h0M53 70h0M20 71h0M48 71h0M53 71h0M13 72h1M8 73h1M16 73h0M18 73h0M16 74h0M21 74h0M28 74h1M3 75h0M20 75h0M26 75h0M29 75h0M8 76h0M9 77h0M19 77h0M24 78h0" stroke="#21958b"/><path d="M49 65h0M49 66h0M49 67h0M53 67h0M53 68h0M53 69h0M24 72h0M47 72h1M53 72h0M9 74h0M11 74h1M25 74h0M8 75h1M14 75h0M25 75h0M27 75h0M17 76h0M21 76h0M5 78h0M9 78h0M12 78h0M14 78h0M17 78h0" stroke="#229d88"/><path d="M50 63h1M50 64h1M52 66h0M49 69h0M52 71h0M52 72h0M52 74h0M26 76h0M13 77h0M16 77h0M13 78h0" stroke="#22a685"/><path d="M52 65h0M51 66h0M52 67h0M49 68h0M52 68h0M52 69h0M52 70h0M52 73h0" stroke="#2bae7f"/><path d="M51 65h0M50 66h0M49 70h0" stroke="#37b678"/><path d="M50 65h0M51 67h0M50 68h0M49 71h0M49 72h0M27 76h0" stroke="#43be71"/><path d="M50 67h0M50 69h1M50 71h0" stroke="#55c566"/><path d="M51 68h0M51 70h0M46 73h0" stroke="#69cb5b"/><path d="M50 70h0M51 71h0M43 73h0M43 74h0" stroke="#7cd24f"/><path d="M50 72h1M44 73h0M44 74h2" stroke="#94d640"/><path d="M45 73h0" stroke="#acdc31"/><path d="M47 73h0" stroke="#c4e026"/><path d="M47 74h1" stroke="#dbe326"/><path d="M48 73h3M49 74h2" stroke="#f2e625"/></g></g>
<clipPath id="c6"><path d="M1526.6 1397.1L1703.2 1219.79L1879.8 1397.1z"/></clipPath>
<g clip-path="url(#c6)"><rect x="1526.6" y="1219.79" width="353.2" height="177.31" fill="#414487"/><g transform="matrix(1.9622 1.9701 1.9622 -1.9701 1526.6 1397.1) translate(.5 .5)" stroke-width="1.06" stroke-linecap="square" fill="none"><path d="M20 61h0M62 84h0" stroke="#461466"/><path d="M14 49h0M31 49h0M26 50h0M44 51h0M22 52h0M27 52h1M47 52h0M3 53h0M34 53h0M9 54h0M34 54h0M18 55h0M29 55h0M43 55h0M40 56h0M37 57h0M43 57h1M23 58h0M30 58h0M19 59h0M23 59h0M31 60h0M40 61h0M25 62h0M10 63h0M20 63h1M18 64h0M19 65h0M15 66h0M29 66h0M67 78h0M57 81h0M67 82h0M20 83h0M54 84h0M60 84h0M14 85h0M57 85h0M17 86h0M63 86h0M14 87h0M23 87h0M30 87h0M55 88h0M6 89h0M22 89h0" stroke="#482071"/><path d="M43 45h0M45 45h0M46 46h0M10 48h0M12 48h0M26 48h0M34 48h0M36 48h0M6 49h0M29 49h0M33 49h0M37 49h0M45 49h0M10 50h0M13 50h0M29 50h0M34 50h0M39 50h0M45 50h0M0 51h0M13 51h0M15 51h0M34 51h0M39 51h1M47 51h1M12 52h0M17 52h0M20 52h0M25 52h0M38 52h0M48 52h0M10 53h1M14 53h1M23 53h1M32 53h0M35 53h0M45 53h0M49 53h0M4 54h0M12 54h1M18 54h0M20 54h0M32 54h1M35 54h0M37 54h0M39 54h0M45 54h0M49 54h0M0 55h1M3 55h0M11 55h0M19 55h0M30 55h0M35 55h0M42 55h0M45 55h0M7 56h0M10 56h0M13 56h1M17 56h1M29 56h0M31 56h0M38 56h0M42 56h0M29 57h0M33 57h0M36 57h0M41 57h0M17 58h0M24 58h0M27 58h0M38 58h0M43 58h0M47 58h0M11 59h0M17 59h0M24 59h1M30 59h3M39 59h1M42 59h0M3 60h0M11 60h0M15 60h0M18 60h0M28 60h1M32 60h0M42 60h0M45 60h0M12 61h0M27 61h0M42 61h0M45 61h0M15 62h0M17 62h0M22 62h0M30 62h0M32 62h0M34 62h0M37 62h0M9 63h0M11 63h0M18 63h0M24 63h0M33 63h0M36 63h0M40 63h0M10 64h0M14 64h0M20 64h0M23 64h0M26 64h0M34 64h0M40 64h0M12 65h0M14 65h0M38 65h0M41 65h0M7 66h0M14 66h0M16 66h0M19 66h0M31 66h0M42 66h0M14 67h0M21 67h0M25 67h0M38 67h0M12 68h0M18 68h0M28 68h0M31 68h0M37 68h0M40 68h1M12 69h0M62 78h0M40 79h0M70 80h0M73 80h0M8 81h0M41 81h0M43 81h0M60 81h0M67 81h0M73 81h0M2 82h0M10 82h0M20 82h0M25 82h1M28 82h0M40 82h0M43 82h0M49 82h0M66 82h0M71 82h0M1 83h1M10 83h1M15 83h0M19 83h0M25 83h0M32 83h0M40 83h0M43 83h0M49 83h0M55 83h0M60 83h1M66 83h0M68 83h0M71 83h0M73 83h0M10 84h0M17 84h0M19 84h1M25 84h1M29 84h0M37 84h0M41 84h0M43 84h0M61 84h0M66 84h0M74 84h0M2 85h0M18 85h1M22 85h0M25 85h0M34 85h0M56 85h0M58 85h0M63 85h1M69 85h2M73 85h0M1 86h0M5 86h1M8 86h0M18 86h1M21 86h1M27 86h0M29 86h1M53 86h0M55 86h0M66 86h0M16 87h0M50 87h0M52 87h0M60 87h1M73 87h0M1 88h0M7 88h0M12 88h0M20 88h0M23 88h0M29 88h0M31 88h0M33 88h0M35 88h0M38 88h0M53 88h0M61 88h0M65 88h0M73 88h1M13 89h1M26 89h0M40 89h1M51 89h0M55 89h0M63 89h0M66 89h0" stroke="#462c7a"/><path d="M8 15h1M9 18h0M7 19h0M0 24h0M22 31h0M42 43h0M44 44h0M35 45h0M39 45h0M42 45h0M44 46h1M1 47h0M30 47h0M38 47h1M45 47h1M7 48h0M21 48h0M30 48h3M38 48h0M43 48h0M48 48h0M0 49h0M3 49h1M7 49h0M12 49h1M15 49h0M26 49h0M30 49h0M32 49h0M34 49h0M36 49h0M42 49h2M47 49h1M5 50h0M11 50h1M14 50h1M23 50h0M25 50h0M27 50h0M30 50h0M33 50h0M35 50h3M40 50h0M42 50h0M46 50h3M1 51h2M5 51h0M8 51h0M12 51h0M14 51h0M16 51h3M21 51h0M25 51h1M28 51h1M33 51h0M35 51h1M38 51h0M41 51h0M43 51h0M46 51h0M49 51h0M3 52h0M9 52h0M11 52h0M14 52h2M19 52h0M26 52h0M29 52h2M34 52h0M37 52h0M42 52h0M46 52h0M49 52h0M0 53h0M5 53h0M9 53h0M12 53h0M16 53h0M21 53h1M28 53h1M33 53h0M43 53h0M48 53h0M3 54h0M5 54h0M8 54h0M10 54h1M14 54h0M19 54h0M21 54h0M24 54h5M36 54h0M40 54h1M43 54h0M7 55h0M9 55h0M12 55h0M17 55h0M20 55h1M24 55h0M26 55h1M38 55h3M46 55h0M2 56h0M5 56h0M8 56h1M11 56h1M19 56h1M22 56h0M26 56h1M32 56h1M35 56h1M39 56h0M41 56h0M43 56h2M48 56h0M0 57h0M3 57h0M10 57h0M12 57h1M18 57h0M21 57h2M26 57h1M30 57h1M34 57h0M38 57h0M40 57h0M42 57h0M46 57h0M48 57h0M0 58h0M4 58h0M9 58h0M13 58h1M16 58h0M19 58h0M22 58h0M28 58h1M31 58h0M34 58h1M40 58h0M45 58h1M48 58h0M10 59h0M15 59h0M21 59h1M26 59h1M29 59h0M34 59h0M38 59h0M41 59h0M43 59h0M0 60h0M2 60h0M4 60h0M7 60h0M9 60h1M14 60h0M19 60h1M22 60h3M27 60h0M33 60h0M36 60h1M39 60h2M46 60h0M0 61h0M2 61h0M9 61h2M21 61h4M28 61h3M34 61h0M36 61h1M41 61h0M43 61h1M0 62h0M4 62h0M14 62h0M16 62h0M20 62h0M24 62h0M26 62h0M28 62h0M33 62h0M36 62h0M38 62h0M5 63h0M7 63h0M15 63h0M23 63h0M26 63h0M29 63h0M34 63h0M37 63h0M39 63h0M41 63h0M43 63h0M11 64h0M16 64h1M21 64h0M24 64h0M27 64h2M31 64h1M35 64h0M37 64h0M41 64h0M43 64h0M3 65h1M8 65h2M13 65h0M17 65h1M21 65h3M32 65h2M39 65h0M42 65h2M13 66h0M18 66h0M20 66h1M25 66h0M27 66h0M30 66h0M33 66h1M41 66h0M4 67h0M10 67h0M13 67h0M17 67h2M22 67h2M26 67h0M31 67h0M33 67h0M37 67h0M41 67h1M10 68h1M13 68h2M17 68h0M19 68h1M22 68h2M27 68h0M30 68h0M32 68h0M34 68h0M36 68h0M38 68h1M3 69h0M7 69h1M13 69h0M36 69h1M39 69h2M12 70h0M14 70h0M63 76h1M69 76h0M58 77h0M65 77h0M68 77h2M53 79h0M60 79h0M66 79h0M70 79h0M73 79h0M25 80h0M49 80h0M66 80h0M68 80h1M72 80h0M74 80h0M0 81h2M4 81h0M6 81h1M10 81h0M29 81h0M34 81h1M37 81h1M44 81h0M47 81h2M52 81h0M58 81h1M64 81h1M70 81h0M74 81h0M0 82h1M8 82h0M11 82h1M15 82h0M17 82h0M21 82h0M27 82h0M29 82h0M32 82h0M34 82h1M41 82h0M45 82h1M51 82h1M58 82h0M63 82h2M68 82h0M70 82h0M0 83h0M3 83h2M8 83h1M17 83h1M21 83h0M23 83h0M29 83h0M31 83h0M35 83h0M41 83h1M44 83h0M50 83h0M62 83h1M67 83h0M70 83h0M74 83h0M4 84h1M8 84h0M11 84h2M18 84h0M21 84h1M24 84h0M32 84h0M36 84h0M42 84h0M48 84h3M55 84h0M59 84h0M63 84h0M68 84h3M0 85h1M6 85h0M12 85h0M15 85h1M21 85h0M31 85h0M35 85h1M38 85h0M40 85h3M49 85h1M59 85h3M65 85h0M72 85h0M0 86h0M11 86h0M23 86h3M28 86h0M31 86h0M35 86h0M37 86h0M39 86h3M51 86h1M56 86h0M60 86h2M65 86h0M67 86h0M70 86h2M0 87h1M3 87h1M6 87h0M8 87h0M10 87h2M17 87h1M20 87h1M26 87h3M31 87h0M34 87h3M40 87h0M51 87h0M66 87h0M68 87h0M71 87h1M0 88h0M2 88h0M5 88h1M8 88h3M14 88h1M17 88h2M22 88h0M24 88h1M28 88h0M30 88h0M32 88h0M34 88h0M37 88h0M39 88h2M49 88h1M52 88h0M56 88h2M64 88h0M68 88h0M1 89h2M5 89h0M7 89h1M11 89h1M19 89h0M25 89h0M32 89h1M35 89h1M38 89h1M44 89h6M52 89h0M54 89h0M56 89h0M59 89h0M65 89h0M67 89h1M71 89h2" stroke="#443780"/><path d="M0 3h0M1 4h1M0 5h1M4 5h0M6 6h0M5 7h0M7 7h0M0 8h0M0 9h0M4 9h0M0 10h2M9 10h0M0 11h0M2 11h0M7 12h0M7 13h0M13 13h0M0 15h0M10 15h0M4 16h0M10 16h0M1 17h1M9 17h0M13 17h0M12 19h0M14 19h0M16 19h0M9 20h0M11 20h0M18 20h0M3 21h0M11 21h0M13 21h0M21 21h0M11 22h0M17 22h0M0 23h0M6 23h0M16 24h0M20 24h0M24 25h1M2 26h0M24 26h0M25 27h0M13 28h0M19 28h0M17 29h0M26 29h1M17 30h0M22 30h0M25 30h0M29 30h0M4 31h0M28 33h0M24 34h1M32 34h1M30 35h0M33 35h0M34 36h0M36 36h0M34 37h3M35 38h0M38 38h0M37 39h1M34 40h1M30 41h1M33 41h0M42 42h0M35 43h0M43 43h0M40 44h0M42 44h1M25 45h1M28 45h0M32 45h0M36 45h0M41 45h0M44 45h0M1 46h0M3 46h0M25 46h0M28 46h0M31 46h0M34 46h1M37 46h0M40 46h0M42 46h1M2 47h0M8 47h0M14 47h0M19 47h0M29 47h0M31 47h1M34 47h2M40 47h0M42 47h1M47 47h0M1 48h0M3 48h0M8 48h1M20 48h0M22 48h0M28 48h1M35 48h0M37 48h0M40 48h1M44 48h1M47 48h0M5 49h0M8 49h1M11 49h0M17 49h0M19 49h2M28 49h0M35 49h0M39 49h2M46 49h0M49 49h0M1 50h3M7 50h2M17 50h0M19 50h0M21 50h1M24 50h0M28 50h0M31 50h0M41 50h0M43 50h0M9 51h2M20 51h0M22 51h1M27 51h0M30 51h1M42 51h0M45 51h0M2 52h0M10 52h0M13 52h0M21 52h0M23 52h0M32 52h0M35 52h0M39 52h2M43 52h2M2 53h0M4 53h0M6 53h2M13 53h0M18 53h1M25 53h0M27 53h0M30 53h0M36 53h3M41 53h1M46 53h1M0 54h0M6 54h1M15 54h2M22 54h0M30 54h0M38 54h0M42 54h0M44 54h0M46 54h0M54 54h0M2 55h0M4 55h2M10 55h0M13 55h3M22 55h1M25 55h0M28 55h0M31 55h2M36 55h0M44 55h0M51 55h0M0 56h0M3 56h1M6 56h0M16 56h0M21 56h0M23 56h0M28 56h0M30 56h0M34 56h0M37 56h0M46 56h1M6 57h0M15 57h0M19 57h1M25 57h0M28 57h0M35 57h0M39 57h0M45 57h0M47 57h0M5 58h0M7 58h0M10 58h0M12 58h0M15 58h0M18 58h0M20 58h1M25 58h1M32 58h1M39 58h0M44 58h0M0 59h0M3 59h1M6 59h0M8 59h0M12 59h1M16 59h0M18 59h0M20 59h0M35 59h2M45 59h2M5 60h0M8 60h0M12 60h1M16 60h1M30 60h0M34 60h1M38 60h0M43 60h0M1 61h0M4 61h0M7 61h1M14 61h1M17 61h0M19 61h0M26 61h0M32 61h1M35 61h0M39 61h0M46 61h0M1 62h0M5 62h1M8 62h4M18 62h1M21 62h0M23 62h0M29 62h0M41 62h1M45 62h0M0 63h3M6 63h0M12 63h2M16 63h0M19 63h0M22 63h0M27 63h1M30 63h0M35 63h0M38 63h0M44 63h2M58 63h0M2 64h0M4 64h1M7 64h1M12 64h0M19 64h0M22 64h0M30 64h0M33 64h0M36 64h0M38 64h1M42 64h0M44 64h0M62 64h0M0 65h0M15 65h1M20 65h0M25 65h2M30 65h1M35 65h2M40 65h0M0 66h1M3 66h1M6 66h0M9 66h3M22 66h1M26 66h0M28 66h0M32 66h0M35 66h1M43 66h0M63 66h0M0 67h0M3 67h0M7 67h0M9 67h0M11 67h1M16 67h0M20 67h0M27 67h0M29 67h1M32 67h0M34 67h0M36 67h0M40 67h0M43 67h0M1 68h1M7 68h0M9 68h0M16 68h0M21 68h0M26 68h0M33 68h0M35 68h0M42 68h0M44 68h0M1 69h1M10 69h1M15 69h0M18 69h0M20 69h0M22 69h1M25 69h0M27 69h0M30 69h1M38 69h0M65 69h0M6 70h2M11 70h0M15 70h0M20 70h0M24 70h0M37 70h0M41 70h0M6 71h1M21 71h1M29 71h1M33 71h1M38 71h0M28 72h0M35 72h1M40 72h1M68 72h0M62 73h0M57 75h3M66 75h0M69 75h1M72 75h1M57 76h0M62 76h0M65 76h1M70 76h0M72 76h0M74 76h0M59 77h0M61 77h3M67 77h0M73 77h1M60 78h1M64 78h2M68 78h5M0 79h1M6 79h0M11 79h0M33 79h0M42 79h1M46 79h0M50 79h0M55 79h0M57 79h0M62 79h0M68 79h0M72 79h0M74 79h0M0 80h0M10 80h0M26 80h0M38 80h0M40 80h0M43 80h0M52 80h0M60 80h0M62 80h0M71 80h0M75 80h0M9 81h0M13 81h1M16 81h1M26 81h2M30 81h0M32 81h0M36 81h0M39 81h1M42 81h0M46 81h0M50 81h1M54 81h2M61 81h0M63 81h0M71 81h1M3 82h0M5 82h0M9 82h0M18 82h1M23 82h1M30 82h1M33 82h0M37 82h0M42 82h0M44 82h0M47 82h0M53 82h4M59 82h2M69 82h0M72 82h2M6 83h1M12 83h1M16 83h0M22 83h0M24 83h0M26 83h2M33 83h1M37 83h2M45 83h3M53 83h1M56 83h1M59 83h0M64 83h0M72 83h0M1 84h1M6 84h0M9 84h0M14 84h2M27 84h0M31 84h0M33 84h0M35 84h0M38 84h2M44 84h0M47 84h0M53 84h0M56 84h2M67 84h0M73 84h0M3 85h2M7 85h0M9 85h0M11 85h0M13 85h0M20 85h0M23 85h0M26 85h1M29 85h0M32 85h1M37 85h0M39 85h0M44 85h0M52 85h3M67 85h1M74 85h0M2 86h0M4 86h0M7 86h0M9 86h1M12 86h1M15 86h1M20 86h0M33 86h0M36 86h0M38 86h0M43 86h1M50 86h0M54 86h0M57 86h0M59 86h0M64 86h0M68 86h1M2 87h0M7 87h0M9 87h0M13 87h0M15 87h0M19 87h0M22 87h0M24 87h1M32 87h1M38 87h0M41 87h3M48 87h0M53 87h2M57 87h0M59 87h0M63 87h0M69 87h1M74 87h0M3 88h1M13 88h0M16 88h0M45 88h0M51 88h0M54 88h0M60 88h0M63 88h0M66 88h1M69 88h3M0 89h0M4 89h0M9 89h1M15 89h0M17 89h1M21 89h0M23 89h0M27 89h2M31 89h0M37 89h0M42 89h1M53 89h0M57 89h1M60 89h2M64 89h0M69 89h1M74 89h0" stroke="#414386"/><path d="M0 1h1M0 2h2M3 3h0M0 4h0M4 6h1M0 7h0M2 7h0M4 7h0M1 8h0M3 8h1M8 8h0M1 9h0M3 10h1M10 10h0M3 11h1M8 11h0M11 11h0M4 12h0M6 12h0M8 12h0M11 12h0M0 13h0M9 13h3M1 14h1M10 14h0M3 15h2M11 15h0M14 15h0M2 16h1M6 16h0M8 16h1M14 16h0M16 16h0M0 17h0M3 17h1M8 17h0M15 17h1M1 18h0M7 18h1M17 18h0M0 19h0M5 19h1M8 19h1M11 19h0M13 19h0M18 19h1M5 20h0M7 20h0M19 20h0M4 21h0M8 21h2M12 21h0M16 21h0M19 21h1M15 22h1M19 22h0M7 23h0M12 23h0M14 23h1M20 23h0M3 24h4M15 24h0M17 24h0M19 24h0M3 25h0M5 25h0M10 25h0M18 25h3M23 25h0M3 26h0M12 26h1M15 26h3M21 26h0M23 26h0M25 26h0M3 27h1M8 27h1M12 27h1M15 27h0M18 27h0M22 27h0M26 27h0M5 28h0M8 28h0M20 28h0M24 28h1M28 28h0M1 29h0M11 29h0M22 29h0M1 30h0M14 30h0M18 30h1M23 30h1M27 30h1M30 30h0M8 31h0M10 31h0M16 31h0M21 31h0M23 31h0M26 31h0M8 32h0M11 32h0M16 32h1M19 32h0M23 32h1M26 32h0M28 32h0M3 33h0M13 33h0M16 33h1M23 33h1M10 34h0M13 34h0M22 34h0M26 34h0M28 34h0M30 34h1M5 35h0M14 35h0M16 35h0M24 35h0M27 35h0M31 35h0M35 35h0M20 36h0M25 36h1M33 36h0M30 37h0M33 37h0M34 38h0M36 38h0M35 39h1M29 40h1M32 40h0M36 40h0M35 41h1M30 42h0M33 42h0M35 42h0M37 42h1M29 43h1M34 43h0M40 43h0M28 44h0M30 44h0M32 44h0M34 44h5M41 44h0M3 45h0M19 45h0M21 45h0M27 45h0M29 45h1M33 45h1M37 45h1M40 45h0M0 46h0M2 46h0M23 46h1M27 46h0M29 46h1M36 46h0M39 46h0M41 46h0M0 47h0M3 47h0M6 47h0M11 47h2M17 47h1M20 47h0M25 47h3M33 47h0M37 47h0M41 47h0M44 47h0M0 48h0M4 48h2M11 48h0M13 48h0M18 48h1M23 48h2M27 48h0M39 48h0M42 48h0M46 48h0M2 49h0M10 49h0M16 49h0M18 49h0M23 49h2M27 49h0M38 49h0M0 50h0M16 50h0M20 50h0M32 50h0M44 50h0M4 51h0M24 51h0M32 51h0M37 51h0M0 52h1M5 52h1M8 52h0M18 52h0M24 52h0M33 52h0M1 53h0M17 53h0M20 53h0M31 53h0M40 53h0M44 53h0M53 53h0M2 54h0M23 54h0M31 54h0M47 54h1M8 55h0M34 55h0M37 55h0M47 55h2M54 55h0M1 56h0M56 56h0M1 57h0M4 57h0M7 57h2M11 57h0M14 57h0M16 57h1M24 57h0M32 57h0M49 57h0M6 58h0M8 58h0M11 58h0M36 58h1M41 58h1M1 59h1M5 59h0M7 59h0M9 59h0M14 59h0M28 59h0M56 59h0M1 60h0M21 60h0M26 60h0M44 60h0M47 60h0M3 61h0M13 61h0M16 61h0M18 61h0M38 61h0M47 61h0M7 62h0M13 62h0M27 62h0M31 62h0M35 62h0M39 62h1M43 62h1M46 62h0M4 63h0M8 63h0M17 63h0M25 63h0M31 63h1M42 63h0M47 63h0M0 64h0M3 64h0M6 64h0M9 64h0M13 64h0M15 64h0M25 64h0M59 64h0M63 64h1M1 65h0M5 65h0M7 65h0M11 65h0M28 65h1M8 66h0M17 66h0M24 66h0M37 66h3M44 66h0M62 66h0M66 66h0M1 67h1M5 67h1M8 67h0M15 67h0M28 67h0M35 67h0M39 67h0M63 67h0M67 67h0M0 68h0M3 68h0M25 68h0M29 68h0M67 68h0M4 69h0M14 69h0M16 69h1M19 69h0M21 69h0M24 69h0M26 69h0M28 69h0M32 69h0M34 69h0M44 69h0M1 70h1M5 70h0M13 70h0M18 70h0M21 70h0M23 70h0M26 70h1M29 70h3M34 70h2M38 70h1M42 70h1M63 70h0M70 70h0M1 71h0M5 71h0M8 71h1M12 71h0M20 71h0M26 71h2M31 71h0M35 71h2M39 71h0M41 71h0M43 71h0M69 71h0M12 72h0M22 72h0M30 72h0M33 72h0M37 72h1M42 72h0M65 72h0M18 73h0M32 73h0M35 73h2M64 73h1M68 73h0M73 73h0M36 74h0M40 74h0M42 74h0M60 74h2M68 74h2M72 74h1M36 75h0M38 75h4M61 75h0M64 75h1M71 75h0M29 76h0M39 76h0M43 76h0M56 76h0M58 76h0M71 76h0M1 77h0M36 77h0M45 77h1M52 77h1M56 77h0M60 77h0M66 77h0M72 77h0M35 78h0M39 78h1M48 78h0M54 78h0M57 78h2M63 78h0M74 78h0M7 79h0M9 79h1M31 79h0M37 79h1M41 79h0M44 79h0M52 79h0M54 79h0M56 79h0M59 79h0M61 79h0M64 79h1M67 79h0M69 79h0M71 79h0M77 79h0M1 80h0M6 80h0M8 80h0M11 80h0M13 80h0M17 80h0M23 80h0M31 80h1M34 80h0M39 80h0M42 80h0M44 80h0M47 80h1M50 80h1M54 80h1M59 80h0M61 80h0M63 80h0M65 80h0M67 80h0M77 80h0M3 81h0M5 81h0M11 81h1M18 81h1M21 81h2M25 81h0M31 81h0M33 81h0M45 81h0M53 81h0M62 81h0M66 81h0M68 81h1M4 82h0M6 82h0M14 82h0M16 82h0M22 82h0M36 82h0M38 82h1M48 82h0M62 82h0M75 82h0M77 82h0M14 83h0M30 83h0M36 83h0M51 83h0M58 83h0M65 83h0M69 83h0M83 83h0M0 84h0M3 84h0M7 84h0M23 84h0M28 84h0M30 84h0M34 84h0M45 84h0M52 84h0M64 84h0M8 85h0M10 85h0M17 85h0M24 85h0M28 85h0M48 85h0M51 85h0M66 85h0M77 85h0M3 86h0M14 86h0M32 86h0M49 86h0M58 86h0M73 86h1M5 87h0M39 87h0M49 87h0M56 87h0M58 87h0M62 87h0M64 87h1M67 87h0M80 87h0M85 87h2M21 88h0M26 88h1M36 88h0M42 88h2M47 88h0M59 88h0M62 88h0M79 88h1M87 88h0M20 89h0M24 89h0M30 89h0M34 89h0" stroke="#3d4d89"/><path d="M0 0h0M1 3h1M3 4h1M2 5h1M5 5h0M0 6h1M3 6h0M3 7h0M6 7h0M2 8h0M5 8h2M5 9h1M8 9h1M5 10h1M1 11h0M7 11h0M9 11h1M0 12h0M3 12h0M5 12h0M9 12h1M12 12h0M1 13h1M6 13h0M8 13h0M0 14h0M3 14h0M6 14h1M9 14h0M11 14h2M2 15h0M6 15h0M13 15h0M0 16h1M5 16h0M11 16h2M5 17h0M10 17h1M14 17h0M0 18h0M2 18h1M5 18h0M10 18h1M14 18h2M10 19h0M15 19h0M0 20h1M3 20h0M6 20h0M8 20h0M10 20h0M12 20h1M15 20h2M20 20h0M0 21h0M6 21h1M14 21h0M17 21h0M0 22h0M3 22h0M6 22h1M9 22h1M12 22h2M22 22h0M2 23h1M5 23h0M13 23h0M16 23h3M23 23h0M1 24h0M8 24h0M10 24h3M18 24h0M21 24h2M4 25h0M9 25h0M11 25h0M14 25h3M4 26h0M8 26h1M11 26h0M14 26h0M22 26h0M26 26h0M1 27h1M6 27h1M14 27h0M16 27h0M19 27h2M24 27h0M27 27h0M0 28h0M3 28h1M6 28h0M10 28h2M15 28h1M18 28h0M21 28h2M26 28h1M0 29h0M2 29h0M7 29h3M13 29h3M21 29h0M29 29h0M8 30h0M10 30h0M13 30h0M15 30h1M21 30h0M26 30h0M9 31h0M12 31h0M15 31h0M17 31h0M29 31h0M5 32h0M7 32h0M12 32h0M15 32h0M25 32h0M29 32h3M4 33h0M6 33h2M11 33h0M18 33h1M21 33h1M26 33h1M30 33h2M1 34h0M12 34h0M16 34h3M23 34h0M27 34h0M29 34h0M34 34h0M0 35h1M4 35h0M8 35h0M13 35h0M17 35h0M22 35h1M25 35h1M29 35h0M34 35h0M0 36h0M3 36h1M19 36h0M21 36h0M24 36h0M29 36h1M32 36h0M35 36h0M1 37h1M11 37h0M23 37h3M29 37h0M31 37h0M0 38h0M31 38h0M33 38h0M37 38h0M0 39h0M25 39h0M28 39h1M32 39h1M3 40h0M28 40h0M31 40h0M33 40h0M37 40h1M29 41h0M32 41h0M34 41h0M37 41h0M41 41h0M0 42h0M24 42h0M28 42h1M32 42h0M34 42h0M0 43h0M28 43h0M38 43h1M41 43h0M2 44h2M21 44h0M23 44h1M26 44h1M33 44h0M2 45h0M4 45h0M22 45h1M31 45h0M4 46h2M9 46h2M16 46h1M20 46h2M26 46h0M32 46h1M38 46h0M4 47h0M7 47h0M10 47h0M16 47h0M21 47h3M2 48h0M14 48h0M16 48h1M1 49h0M22 49h0M6 50h0M18 50h0M6 51h1M4 52h0M7 52h0M36 52h0M50 52h0M52 52h0M26 53h0M51 53h1M1 54h0M51 54h0M50 55h0M55 55h0M15 56h0M25 56h0M49 56h0M55 56h0M2 57h0M5 57h0M55 57h0M57 57h0M1 58h2M55 58h3M57 59h0M6 60h0M54 60h0M56 60h0M59 60h0M5 61h1M60 61h0M2 62h1M47 62h0M60 62h1M48 63h0M57 63h0M59 63h0M61 63h0M63 63h0M1 64h0M45 64h0M47 64h0M56 64h0M58 64h0M61 64h0M2 65h0M6 65h0M45 65h0M60 65h2M2 66h0M5 66h0M58 66h1M61 66h0M44 67h1M57 67h0M60 67h2M64 67h0M4 68h0M8 68h0M43 68h0M45 68h0M60 68h1M63 68h0M65 68h1M0 69h0M5 69h1M9 69h0M33 69h0M42 69h1M63 69h0M66 69h0M3 70h0M9 70h0M16 70h1M19 70h0M25 70h0M28 70h0M33 70h0M40 70h0M60 70h0M62 70h0M64 70h0M66 70h0M69 70h0M0 71h0M3 71h1M10 71h0M13 71h2M19 71h0M23 71h0M32 71h0M42 71h0M62 71h6M71 71h0M1 72h1M7 72h0M13 72h0M26 72h0M31 72h1M39 72h0M62 72h0M64 72h0M67 72h0M69 72h1M72 72h0M0 73h0M3 73h0M10 73h2M15 73h2M25 73h0M28 73h0M38 73h2M42 73h0M60 73h1M66 73h0M70 73h0M4 74h0M8 74h0M14 74h0M24 74h1M37 74h0M41 74h0M64 74h0M67 74h0M71 74h0M29 75h0M37 75h0M55 75h1M62 75h1M67 75h1M74 75h0M4 76h0M7 76h0M15 76h0M30 76h3M36 76h0M40 76h0M44 76h1M51 76h0M53 76h1M59 76h2M67 76h1M73 76h0M33 77h0M37 77h0M39 77h5M47 77h1M50 77h1M54 77h1M57 77h0M71 77h0M2 78h0M6 78h0M10 78h0M16 78h1M29 78h0M36 78h0M38 78h0M41 78h0M43 78h2M49 78h0M52 78h1M55 78h0M75 78h0M8 79h0M12 79h1M16 79h1M19 79h0M24 79h0M27 79h1M30 79h0M32 79h0M34 79h2M39 79h0M45 79h0M47 79h2M63 79h0M75 79h0M4 80h1M9 80h0M12 80h0M15 80h0M18 80h1M21 80h1M27 80h3M33 80h0M37 80h0M41 80h0M45 80h1M56 80h2M64 80h0M76 80h0M80 80h0M24 81h0M75 81h0M81 81h0M7 82h0M13 82h0M50 82h0M80 82h0M52 83h0M77 83h0M46 84h0M65 84h0M72 84h0M30 85h0M34 86h0M77 86h1M45 87h0M76 87h1M46 88h0M48 88h0M78 88h0M84 88h0M86 88h0M88 88h0M16 89h0M77 89h0M79 89h2M85 89h0M88 89h1" stroke="#39568b"/><path d="M2 6h0M1 7h0M2 9h1M7 9h0M7 10h1M5 11h0M1 12h1M3 13h0M5 13h0M4 14h1M8 14h0M14 14h0M1 15h0M7 15h0M12 15h0M15 15h0M7 16h0M15 16h0M6 17h1M12 17h0M17 17h0M4 18h0M6 18h0M12 18h1M18 18h0M1 19h0M3 19h1M17 19h0M2 20h0M4 20h0M14 20h0M1 21h1M5 21h0M15 21h0M18 21h0M2 22h0M4 22h1M8 22h0M18 22h0M20 22h1M1 23h0M4 23h0M8 23h0M11 23h0M22 23h0M2 24h0M9 24h0M24 24h0M0 25h2M6 25h2M12 25h1M22 25h0M1 26h0M19 26h1M5 27h0M10 27h1M17 27h0M23 27h0M1 28h1M7 28h0M9 28h0M14 28h0M17 28h0M3 29h3M12 29h0M18 29h0M20 29h0M23 29h2M28 29h0M0 30h0M2 30h0M4 30h0M6 30h1M9 30h0M20 30h0M0 31h3M5 31h2M11 31h0M13 31h0M18 31h2M24 31h1M27 31h0M30 31h0M0 32h0M3 32h1M6 32h0M9 32h1M13 32h0M18 32h0M20 32h2M27 32h0M0 33h2M5 33h0M10 33h0M12 33h0M14 33h0M20 33h0M25 33h0M33 33h0M3 34h0M5 34h3M14 34h1M20 34h1M6 35h1M9 35h1M12 35h0M15 35h0M18 35h2M28 35h0M32 35h0M1 36h0M5 36h0M9 36h0M16 36h0M18 36h0M22 36h1M4 37h0M14 37h1M18 37h0M21 37h1M1 38h0M3 38h1M6 38h0M20 38h0M22 38h0M24 38h0M27 38h3M1 39h2M6 39h0M18 39h0M20 39h0M22 39h2M27 39h0M30 39h1M34 39h0M39 39h0M1 40h1M8 40h0M23 40h2M27 40h0M0 41h2M24 41h0M26 41h2M38 41h0M1 42h0M4 42h1M25 42h0M31 42h0M36 42h0M39 42h0M41 42h0M1 43h0M4 43h1M23 43h0M25 43h1M31 43h2M36 43h1M0 44h0M5 44h0M19 44h0M22 44h0M25 44h0M29 44h0M31 44h0M0 45h1M5 45h1M8 45h3M20 45h0M24 45h0M7 46h1M13 46h0M19 46h0M5 47h0M9 47h0M15 47h0M15 48h0M50 51h0M51 52h0M50 53h0M50 54h0M53 54h0M53 55h0M24 56h0M53 56h1M54 57h0M54 58h0M44 59h0M48 59h1M54 59h1M55 60h0M57 60h1M60 60h0M48 61h0M55 61h4M61 61h0M48 62h0M58 62h1M56 63h0M60 63h0M62 63h0M46 64h0M55 64h0M57 64h0M60 64h0M46 65h0M58 65h1M63 65h2M45 66h1M64 66h1M46 67h0M58 67h0M66 67h0M5 68h0M46 68h0M57 68h2M62 68h0M64 68h0M29 69h0M35 69h0M57 69h1M60 69h2M68 69h0M0 70h0M4 70h0M10 70h0M22 70h0M44 70h0M57 70h0M65 70h0M67 70h0M2 71h0M11 71h0M18 71h0M25 71h0M40 71h0M44 71h0M59 71h0M61 71h0M70 71h0M0 72h0M3 72h2M8 72h0M11 72h0M21 72h0M34 72h0M58 72h1M61 72h0M63 72h0M71 72h0M5 73h0M7 73h0M9 73h0M14 73h0M19 73h1M26 73h1M30 73h0M33 73h1M41 73h0M58 73h0M63 73h0M67 73h0M69 73h0M71 73h1M0 74h3M6 74h1M9 74h0M21 74h1M27 74h3M32 74h3M38 74h1M57 74h1M63 74h0M65 74h1M74 74h0M4 75h0M6 75h0M9 75h0M14 75h0M23 75h1M28 75h0M34 75h0M53 75h0M0 76h0M5 76h1M14 76h0M23 76h0M26 76h2M34 76h1M37 76h0M41 76h1M46 76h0M48 76h0M52 76h0M55 76h0M75 76h0M0 77h0M2 77h2M14 77h1M34 77h0M75 77h0M3 78h1M9 78h0M28 78h0M31 78h0M42 78h0M46 78h1M50 78h1M56 78h0M2 79h3M18 79h0M21 79h0M23 79h0M26 79h0M58 79h0M78 79h1M2 80h0M7 80h0M14 80h0M16 80h0M24 80h0M35 80h1M53 80h0M78 80h0M15 81h0M20 81h0M76 81h1M79 82h0M81 82h0M75 83h0M78 83h1M77 84h1M81 84h0M84 84h0M45 85h0M47 85h0M75 85h0M78 85h2M45 86h0M48 86h0M80 86h0M83 86h1M86 86h0M46 87h0M75 87h0M78 87h1M83 87h1M77 88h0M82 88h1M83 89h1M87 89h0" stroke="#35608d"/><path d="M6 11h0M4 13h0M2 19h0M1 22h0M9 23h1M21 23h0M14 24h0M0 26h0M5 26h2M10 26h0M0 27h0M19 29h0M3 30h0M5 30h0M11 30h1M14 31h0M28 31h0M31 31h0M14 32h0M29 33h0M0 34h0M4 34h0M9 34h0M11 34h0M2 35h1M11 35h0M2 36h0M6 36h1M11 36h1M14 36h1M17 36h0M27 36h1M31 36h0M0 37h0M3 37h0M5 37h2M9 37h1M12 37h0M17 37h0M20 37h0M27 37h1M2 38h0M5 38h0M7 38h1M10 38h2M14 38h4M23 38h0M25 38h1M32 38h0M4 39h0M7 39h1M15 39h0M19 39h0M21 39h0M4 40h0M21 40h0M26 40h0M3 41h0M5 41h0M7 41h0M10 41h0M22 41h1M2 42h1M10 42h0M19 42h0M21 42h2M27 42h0M40 42h0M2 43h1M8 43h0M16 43h0M24 43h0M27 43h0M1 44h0M6 44h0M8 44h0M11 44h0M20 44h0M7 45h0M12 45h1M18 45h0M12 46h0M14 46h1M18 46h0M50 50h0M51 51h0M52 54h0M52 55h0M51 56h0M53 57h0M49 58h0M53 58h0M53 59h0M58 59h1M48 60h0M53 60h0M53 61h1M54 62h3M62 62h0M48 64h0M57 65h0M57 66h0M60 66h0M59 67h0M65 67h0M6 68h0M68 68h0M45 69h0M59 69h0M64 69h0M67 69h0M69 69h0M56 70h0M58 70h1M61 70h0M68 70h0M16 71h0M24 71h0M45 71h1M58 71h0M15 72h1M23 72h0M25 72h0M29 72h0M43 72h0M57 72h0M60 72h0M66 72h0M2 73h0M22 73h1M57 73h0M59 73h0M5 74h0M10 74h0M15 74h0M18 74h1M23 74h0M26 74h0M31 74h0M56 74h0M59 74h0M1 75h0M5 75h0M8 75h0M12 75h0M21 75h1M25 75h2M33 75h0M35 75h0M52 75h0M75 75h0M1 76h0M3 76h0M12 76h0M17 76h0M19 76h2M25 76h0M47 76h0M49 76h1M5 77h1M8 77h0M10 77h1M13 77h0M18 77h0M20 77h1M23 77h1M27 77h1M31 77h0M49 77h0M76 77h1M7 78h0M15 78h0M18 78h0M20 78h0M24 78h0M30 78h0M33 78h0M37 78h0M76 78h2M20 79h0M51 79h0M79 80h0M78 81h2M76 82h0M78 82h0M82 82h0M80 83h2M75 84h1M79 84h1M83 84h0M76 85h0M81 85h1M84 85h1M75 86h1M85 86h0M47 87h0M81 87h1M76 88h0M81 88h0M85 88h0M75 89h1M78 89h0M86 89h0" stroke="#31698d"/><path d="M1 32h1M9 33h0M15 33h0M2 34h0M21 35h0M8 36h0M10 36h0M13 36h0M8 37h0M13 37h0M16 37h0M19 37h0M32 37h0M9 38h0M13 38h0M21 38h0M5 39h0M9 39h0M13 39h1M16 39h1M26 39h0M0 40h0M5 40h2M10 40h0M14 40h0M17 40h1M20 40h0M22 40h0M4 41h0M6 41h0M8 41h1M15 41h0M17 41h0M20 41h0M25 41h0M8 42h0M14 42h3M20 42h0M26 42h0M6 43h0M9 43h0M11 43h0M15 43h0M18 43h0M20 43h0M7 44h0M9 44h1M13 44h0M17 44h1M16 45h1M52 56h0M52 57h0M56 57h0M52 58h0M52 59h0M49 60h0M52 60h0M53 62h0M55 63h0M47 65h1M56 65h0M55 66h1M47 67h0M56 67h0M47 68h0M56 68h0M46 69h0M55 69h1M55 70h0M57 71h0M9 72h0M14 72h0M17 72h0M20 72h0M24 72h0M44 72h0M1 73h0M13 73h0M21 73h0M24 73h0M56 73h0M16 74h1M20 74h0M55 74h0M3 75h0M7 75h0M16 75h4M30 75h1M43 75h2M49 75h0M54 75h0M2 76h0M8 76h1M13 76h0M22 76h0M76 76h0M7 77h0M12 77h0M16 77h0M22 77h0M25 77h0M29 77h0M0 78h0M8 78h0M12 78h1M22 78h1M26 78h1M34 78h0M15 79h0M25 79h0M76 79h0M3 80h0M20 80h0M76 83h0M82 84h0M83 85h0M47 86h0M79 86h0M81 86h1M75 88h0M82 89h0" stroke="#2d728e"/><path d="M19 38h0M11 39h1M9 40h0M11 40h0M13 40h0M15 40h1M19 40h0M11 41h1M14 41h0M16 41h0M18 41h0M21 41h0M39 41h0M6 42h1M9 42h0M12 42h1M18 42h0M10 43h0M12 43h2M17 43h0M21 43h1M12 44h0M14 44h2M14 45h1M54 63h0M54 64h0M55 65h0M47 66h1M55 68h0M47 69h0M45 70h1M47 71h0M55 71h0M60 71h0M10 72h0M56 72h0M4 73h0M6 73h0M55 73h0M54 74h0M0 75h0M32 75h0M16 76h0M38 76h0M32 77h0M35 77h0M1 78h0M14 79h0" stroke="#297b8e"/><path d="M10 39h0M12 40h0M13 41h0M19 41h0M40 41h0M7 43h0M19 43h0M50 58h0M51 59h0M49 61h0M52 61h0M52 62h0M49 63h0M53 63h0M54 65h0M55 67h0M48 68h0M47 70h0M17 71h0M54 71h0M56 71h0M6 72h0M18 72h1M45 72h0M54 72h1M29 73h0M31 73h0M54 73h0M53 74h0M2 75h0M46 75h2M24 76h0M17 77h0M38 77h0M14 78h0M21 78h0M32 78h0M22 79h0M29 79h0M46 85h0" stroke="#26848d"/><path d="M39 40h1M11 42h0M50 56h0M51 57h0M51 58h0M50 59h0M51 60h0M49 62h0M53 64h0M49 65h0M53 65h0M54 66h0M48 67h0M54 67h0M54 68h0M48 69h0M54 69h0M54 70h0M27 72h0M46 72h0M53 72h0M8 73h0M10 75h1M13 75h0M15 75h0M50 75h1M9 77h0M19 77h0M30 77h0M5 78h0M19 78h0M25 78h0M46 86h0" stroke="#238d8c"/><path d="M50 57h0M50 60h0M50 61h1M49 64h0M53 69h0M48 70h0M11 74h1M10 76h0M26 77h0M11 78h0" stroke="#21958b"/><path d="M52 63h0M52 64h0M53 66h0M53 67h0M53 68h0M53 70h0M47 72h0M53 73h0M13 74h0M11 76h0M18 76h0" stroke="#229d88"/><path d="M48 71h0" stroke="#22a685"/><path d="M50 62h1M52 65h0M49 66h0M49 67h0M53 71h0M48 72h0M52 73h0" stroke="#2bae7f"/><path d="M50 63h1M52 66h0M52 67h0M52 69h0M49 71h0M52 74h0" stroke="#37b678"/><path d="M49 68h0M52 68h0M49 69h0M49 70h0M52 70h0M52 72h0" stroke="#43be71"/><path d="M50 64h1M52 71h0" stroke="#55c566"/><path d="M50 65h0M43 74h0" stroke="#69cb5b"/><path d="M51 65h0M50 66h1M49 72h0M43 73h2M45 74h0" stroke="#7cd24f"/><path d="M50 67h1M51 69h0M51 70h0M44 74h0" stroke="#94d640"/><path d="M51 68h0M51 71h0M47 73h0M46 74h1" stroke="#acdc31"/><path d="M50 70h0M50 71h0M46 73h0" stroke="#c4e026"/><path d="M50 68h0M50 69h0" stroke="#dbe326"/><path d="M50 72h1M48 73h3M48 74h3" stroke="#f2e625"/></g></g>
<text x="1137.3" y="1389.4" font-size="24.9" fill="#fff" textLength="123.9" lengthAdjust="spacingAndGlyphs">215,300 kb</text>
<text x="1318" y="1389.4" font-size="24.9" fill="#fff" textLength="123.6" lengthAdjust="spacingAndGlyphs">217,100 kb</text>
<text x="1551.9" y="1389.4" font-size="24.9" fill="#fff" textLength="124" lengthAdjust="spacingAndGlyphs">215,300 kb</text>
<text x="1731.8" y="1389.4" font-size="24.9" fill="#fff" textLength="124.5" lengthAdjust="spacingAndGlyphs">217,100 kb</text>
<path d="M1115.1 1395.8L1130.6 1389.4M1527.5 1395.8L1543 1389.4M1863.5 1389.4L1878.5 1395.5" fill="none" stroke="#fff" stroke-width="1.6"/>
<ellipse cx="1295.8" cy="1284.6" rx="49" ry="31" transform="rotate(49 1295.8 1284.6)" fill="none" stroke="#fff" stroke-width="1.8" stroke-dasharray="8.5 5"/>
<ellipse cx="1713.2" cy="1283.8" rx="49" ry="31" transform="rotate(49 1713.2 1283.8)" fill="none" stroke="#fff" stroke-width="1.8" stroke-dasharray="8.5 5"/>
<text x="1747" y="1230.5" font-size="24.9" textLength="130.1" lengthAdjust="spacingAndGlyphs">20w-pWGD</text>
<text x="1786" y="1260.6" font-size="24.9" textLength="91.1" lengthAdjust="spacingAndGlyphs">tumours</text>
<text x="1035.4" y="1390.4" font-size="24.9" textLength="66.7" lengthAdjust="spacingAndGlyphs">Chr. 2</text>
<text x="1102.1" y="1436.6" font-size="24.9" text-anchor="end" textLength="125.31" lengthAdjust="spacingAndGlyphs">H3K27me3</text>
<text x="1102.1" y="1474" font-size="24.9" text-anchor="end" textLength="111.38" lengthAdjust="spacingAndGlyphs">H3K9me3</text>
<path d="M1111.9 1433.9V1431.5h1.5V1430.5h1.5V1431.5h1.5V1432.5h1.5V1429.5h1.5V1432.5h1.5V1425h1.5V1433h1.5V1430h1.5V1429.5h1.5V1431.5h1.5V1433h1.5V1431h1.5V1432h1.5V1433h1.5V1431h1.5V1429h1.5V1430h1.5V1426h1.5V1424.5h1.5V1430.5h1.5V1428h1.5V1431h1.5V1427h1.5V1429h1.5V1433h1.5V1430.5h1.5V1430h1.5V1431h1.5V1432h1.5V1430h1.5V1428.5h1.5V1427h1.5V1428.5h1.5V1431h1.5V1428h1.5V1424h1.5V1432h1.5V1428h1.5V1432h1.5V1431h1.5V1431.5h1.5V1433h1.5V1431h1.5V1432.5h1.5V1430h1.5V1431h1.5V1433h1.5V1431h1.5V1430h1.5V1431.5h1.5V1433h1.5V1431.5h1.5V1431h1.5V1432.5h4.51V1432h1.5V1431.5h1.5V1433h1.5V1431h1.5V1432.5h1.5V1431.5h1.5V1433h1.5V1432.5h1.5V1431h1.5V1430h1.5V1432h1.5V1429.5h1.5V1431h1.5V1433h1.5V1431.5h3.01V1433h1.5V1430h1.5V1427h1.5V1431h1.5V1430.5h1.5V1431.5h1.5V1430.5h1.5V1432h1.5V1431h3.01V1432h1.5V1427.5h1.5V1426.5h1.5V1423h1.5V1428.5h1.5V1427h1.5V1426.5h3.01V1430.5h1.5V1428h1.5V1432.5h1.5V1428h1.5V1432.5h3.01V1430h1.5V1429h1.5V1430h1.5V1422.5h1.5V1423h1.5V1425h1.5V1424h1.5V1427.5h1.5V1429.5h1.5V1432.5h1.5V1431h3.01V1431.5h1.5V1432h1.5V1431.5h1.5V1432h1.5V1432.5h1.5V1432h1.5V1431h4.51V1431.5h1.5V1433h1.5V1432h1.5V1431h1.5V1432.5h1.5V1430h1.5V1432h1.5V1430.5h1.5V1432h1.5V1433h1.5V1431h1.5V1432h1.5V1430h1.5V1428h1.5V1431.5h3.01V1430.5h3.01V1432.5h1.5V1428.5h3.01V1431.5h1.5V1429.5h1.5V1431.5h1.5V1432h3.01V1431h1.5V1430.5h1.5V1429.5h1.5V1431h1.5V1430.5h1.5V1425h1.5V1427h1.5V1431h1.5V1433h1.5V1430.5h1.5V1433h1.5V1430h1.5V1432.5h1.5V1430.5h3.01V1433h1.5V1430.5h1.5V1431h1.5V1430h1.5V1432h1.5V1431h1.5V1427.5h1.5V1429h1.5V1430h1.5V1420.5h1.5V1430.5h1.5V1430h1.5V1422.5h1.5V1422h1.5V1427.5h1.5V1423h1.5V1428h1.5V1430.5h1.5V1426.5h1.5V1429h1.5V1430h1.5V1432.5h1.5V1433h1.5V1429h1.5V1430.5h1.5V1432.5h1.5V1431.5h1.5V1433h3.01V1429.5h1.5V1431.5h1.5V1433h3.01V1432.5h3.01V1431.5h3.01V1429.5h1.5V1422h1.5V1421h1.5V1408h1.5V1432.5h1.5V1430h1.5V1418.5h3.01V1431h1.5V1430h1.5V1433h1.5V1429.5h1.5V1433h1.5V1431.5h1.5V1418.5h3.01V1432h1.5V1432.5h1.5V1433h1.5V1431h3.01V1431.5h1.5V1421h1.5V1430h1.5V1430.5h1.5V1431h1.5V1432.5h1.5V1430.5h1.5V1431.5h1.5V1433h1.5V1429h1.5V1429.5h1.5V1430.5h1.5V1431h1.5V1428h1.5V1431.5h1.5V1431h1.5V1430.5h3.01V1433.9z" fill="#1b75bc"/>
<path d="M1111.9 1473V1469h1.5V1468.5h1.5V1471.5h1.5V1470.5h1.5V1469.5h1.5V1469h1.5V1469.5h3.01V1472h3.01V1468.5h1.5V1468h1.5V1471h3.01V1471.5h1.5V1469h1.5V1459h1.5V1468.5h1.5V1469h1.5V1471.5h1.5V1468.5h1.5V1472h1.5V1469.5h1.5V1468.5h1.5V1470h1.5V1471.5h1.5V1470h3.01V1471h1.5V1470h1.5V1469.5h1.5V1468.5h1.5V1472h1.5V1471.5h3.01V1471h1.5V1472h1.5V1469.5h1.5V1471h1.5V1470.5h1.5V1471h1.5V1471.5h3.01V1470h1.5V1471h3.01V1471.5h1.5V1471h1.5V1472h7.51V1470.5h1.5V1472h3.01V1471.5h3.01V1470h1.5V1471.5h1.5V1471h1.5V1469.5h1.5V1472h1.5V1470.5h1.5V1471.5h1.5V1470.5h1.5V1472h1.5V1471.5h1.5V1470h3.01V1469.5h1.5V1471h1.5V1467h1.5V1470.5h1.5V1472h1.5V1471h1.5V1472h1.5V1466.5h1.5V1469.5h1.5V1472h1.5V1470h1.5V1469h1.5V1467.5h1.5V1465h1.5V1472h1.5V1468.5h1.5V1465h1.5V1467.5h1.5V1472h3.01V1469.5h1.5V1470.5h1.5V1471.5h1.5V1470.5h1.5V1471.5h1.5V1472h1.5V1471h1.5V1471.5h1.5V1470.5h1.5V1472h1.5V1464.5h1.5V1471.5h1.5V1466.5h1.5V1460h1.5V1470h1.5V1471.5h1.5V1464h1.5V1468.5h1.5V1463h1.5V1469.5h1.5V1469h3.01V1458h1.5V1469.5h1.5V1472h1.5V1471h1.5V1470h1.5V1469.5h1.5V1472h3.01V1470.5h1.5V1472h1.5V1469.5h1.5V1471h1.5V1472h1.5V1469h1.5V1470h1.5V1469.5h1.5V1470h1.5V1469.5h1.5V1470h1.5V1468.5h1.5V1472h1.5V1470h1.5V1471h1.5V1470.5h1.5V1469h1.5V1472h1.5V1471.5h1.5V1467h1.5V1471.5h1.5V1468h1.5V1471h1.5V1471.5h3.01V1470.5h1.5V1472h1.5V1470.5h1.5V1471.5h1.5V1471h1.5V1468.5h1.5V1472h1.5V1471h1.5V1471.5h1.5V1472h1.5V1467.5h1.5V1448h1.5V1458h1.5V1470h3.01V1472h1.5V1470.5h1.5V1470h1.5V1470.5h1.5V1469.5h1.5V1468h1.5V1467.5h1.5V1468.5h1.5V1471.5h1.5V1468.5h1.5V1470.5h1.5V1472h1.5V1470.5h1.5V1472h1.5V1471h1.5V1471.5h1.5V1471h1.5V1470h1.5V1471h1.5V1471.5h1.5V1459h1.5V1468.5h1.5V1469h1.5V1470h1.5V1468.5h1.5V1470.5h1.5V1472h1.5V1466h1.5V1465h1.5V1468.5h1.5V1465h1.5V1471.5h1.5V1466h1.5V1467.5h1.5V1469h1.5V1471h1.5V1472h3.01V1470h1.5V1467h1.5V1472h3.01V1470h1.5V1471h1.5V1466h1.5V1468.5h1.5V1470h1.5V1472h1.5V1470h1.5V1468h1.5V1472h1.5V1471h1.5V1470.5h1.5V1472h1.5V1470h1.5V1470.5h1.5V1469.5h1.5V1471.5h1.5V1470.5h1.5V1472h1.5V1470h1.5V1469.5h1.5V1471h1.5V1467.5h1.5V1465h1.5V1470h1.5V1468.5h1.5V1470h1.5V1472h3.01V1468.5h1.5V1470h1.5V1470.5h1.5V1468.5h1.5V1468h1.5V1473z" fill="#2e3192"/>
<path d="M1526.1 1433.9V1432.5h1.5V1431h4.5V1431.5h1.5V1430.5h1.5V1428h1.5V1425h1.5V1428h1.5V1429h1.5V1431.5h1.5V1430.5h1.5V1432.5h1.5V1431.5h1.5V1432h1.5V1433h1.5V1431.5h1.5V1431h1.5V1432.5h1.5V1431h1.5V1433h1.5V1432h1.5V1431.5h1.5V1432h1.5V1431h1.5V1431.5h1.5V1432.5h1.5V1430h1.5V1431h1.5V1431.5h1.5V1433h1.5V1431h1.5V1433h1.5V1431.5h1.5V1432.5h1.5V1433h7.49V1431h1.5V1427.5h1.5V1429.5h1.5V1429h1.5V1427.5h1.5V1429.5h1.5V1423.5h1.5V1423h1.5V1426.5h3V1431.5h1.5V1429.5h1.5V1423.5h1.5V1432.5h1.5V1432h1.5V1430.5h1.5V1429.5h1.5V1429h1.5V1428.5h1.5V1426h1.5V1429h1.5V1430.5h1.5V1432.5h1.5V1429.5h1.5V1429h1.5V1432.5h1.5V1430h1.5V1432.5h1.5V1429.5h1.5V1432h1.5V1428.5h1.5V1429.5h1.5V1433h1.5V1430h1.5V1433h1.5V1430h1.5V1429h1.5V1433h3V1429h1.5V1432.5h1.5V1429.5h1.5V1431.5h1.5V1429.5h1.5V1430.5h1.5V1429h1.5V1433h1.5V1430h1.5V1428h1.5V1429h1.5V1422.5h1.5V1430h1.5V1426.5h1.5V1429h1.5V1421h1.5V1432.5h1.5V1428.5h4.5V1431.5h1.5V1429h3V1431h1.5V1433h1.5V1430.5h1.5V1431h1.5V1417h1.5V1428h1.5V1431h1.5V1432h1.5V1432.5h4.5V1433h1.5V1432h1.5V1432.5h3V1433h1.5V1432.5h1.5V1432h3V1433h10.49V1432.5h3V1433h8.99V1432.5h1.5V1432h1.5V1432.5h4.5V1433h1.5V1432.5h1.5V1433h1.5V1432.5h1.5V1433h5.99V1432h1.5V1432.5h1.5V1433h5.99V1432h1.5V1433h3V1432.5h1.5V1433h4.5V1432h1.5V1433h5.99V1432h1.5V1433h1.5V1432.5h1.5V1426h1.5V1429h1.5V1426.5h1.5V1424h1.5V1431h1.5V1425h1.5V1423.5h1.5V1432.5h1.5V1420h1.5V1417.5h1.5V1427.5h1.5V1417.5h1.5V1423h1.5V1430.5h1.5V1424h1.5V1425.5h1.5V1430h1.5V1428h1.5V1426.5h1.5V1425h1.5V1426h1.5V1428.5h1.5V1431h1.5V1430h1.5V1425.5h1.5V1424h1.5V1426.5h1.5V1420h1.5V1422.5h1.5V1426.5h1.5V1424h1.5V1430h1.5V1430.5h1.5V1432h1.5V1432.5h1.5V1428.5h1.5V1432.5h1.5V1427.5h1.5V1430h1.5V1431h1.5V1423.5h1.5V1430h1.5V1431.5h1.5V1432h1.5V1432.5h1.5V1431.5h1.5V1413h1.5V1418.5h1.5V1430.5h1.5V1431.5h1.5V1433h1.5V1431.5h1.5V1430.5h1.5V1432h1.5V1431h1.5V1432h1.5V1433h3V1430.5h1.5V1433h1.5V1430.5h1.5V1430h1.5V1429.5h1.5V1430.5h1.5V1433h1.5V1425h1.5V1433.9z" fill="#1b75bc"/>
<path d="M1526.1 1473V1447h1.5V1457.5h1.5V1464.5h1.5V1451h1.5V1452.5h3V1470.5h1.5V1461h1.5V1458h1.5V1466.5h1.5V1463.5h1.5V1456h1.5V1452h1.5V1459.5h1.5V1453h1.5V1447h1.5V1461.5h1.5V1457h1.5V1466h1.5V1447h1.5V1469h1.5V1463.5h1.5V1452h1.5V1459h1.5V1457h1.5V1460h1.5V1458.5h1.5V1464.5h1.5V1456.5h1.5V1462.5h1.5V1456h1.5V1447h1.5V1461h1.5V1448h1.5V1463h1.5V1447h3V1462.5h1.5V1471h1.5V1467h1.5V1468h1.5V1467.5h1.5V1468h1.5V1467.5h1.5V1469h3V1469.5h1.5V1465.5h1.5V1466.5h1.5V1465h1.5V1467h1.5V1466h1.5V1455.5h1.5V1461.5h1.5V1462h1.5V1461h1.5V1470h1.5V1461.5h1.5V1466.5h1.5V1461.5h1.5V1462.5h1.5V1455.5h1.5V1466h1.5V1467h1.5V1467.5h3V1466h1.5V1462h1.5V1468.5h1.5V1462.5h1.5V1463.5h1.5V1461h1.5V1468.5h1.5V1467h1.5V1468h1.5V1465.5h1.5V1459h1.5V1471h1.5V1461.5h1.5V1467h1.5V1468h1.5V1462.5h1.5V1455.5h1.5V1462.5h1.5V1465h1.5V1465.5h1.5V1464.5h1.5V1454h1.5V1464.5h1.5V1454.5h1.5V1467h1.5V1457h1.5V1463h1.5V1468.5h1.5V1465h1.5V1470.5h1.5V1472h1.5V1465h1.5V1464.5h1.5V1466.5h1.5V1463h1.5V1455.5h1.5V1462h1.5V1453.5h1.5V1462h1.5V1453h1.5V1470h1.5V1455.5h1.5V1461h1.5V1468.5h1.5V1466h1.5V1469.5h1.5V1466h1.5V1464.5h1.5V1469.5h1.5V1469h1.5V1466.5h1.5V1472h1.5V1470h3V1471.5h1.5V1470h1.5V1468h1.5V1467h1.5V1470h1.5V1465h1.5V1468.5h1.5V1466h1.5V1470h1.5V1461h1.5V1469.5h1.5V1466h1.5V1469.5h1.5V1468.5h3V1472h1.5V1465h1.5V1472h1.5V1467.5h1.5V1461h1.5V1469.5h1.5V1467.5h1.5V1466.5h1.5V1469h1.5V1469.5h1.5V1471.5h1.5V1465.5h1.5V1466.5h1.5V1464.5h1.5V1460.5h1.5V1467.5h1.5V1470h1.5V1469.5h3V1467.5h1.5V1450.5h1.5V1468.5h3V1468h1.5V1466.5h3V1467h1.5V1465.5h1.5V1467h1.5V1471h1.5V1470h1.5V1471.5h1.5V1467h1.5V1471h1.5V1467h1.5V1468.5h1.5V1470.5h1.5V1466.5h1.5V1468.5h1.5V1472h1.5V1468.5h1.5V1471.5h1.5V1466.5h1.5V1470h3V1465.5h1.5V1470h1.5V1466h1.5V1469.5h1.5V1468.5h1.5V1467.5h1.5V1468.5h1.5V1469h1.5V1470h3V1469h1.5V1469.5h1.5V1471.5h1.5V1470h1.5V1461.5h1.5V1466h1.5V1471.5h1.5V1467h1.5V1470h1.5V1470.5h1.5V1471h1.5V1470h1.5V1468h1.5V1467h1.5V1469.5h1.5V1470h1.5V1470.5h1.5V1469.5h1.5V1471.5h1.5V1468h1.5V1472h1.5V1463h1.5V1469.5h1.5V1470h4.5V1469h1.5V1469.5h3V1470h1.5V1469.5h1.5V1470h1.5V1467.5h1.5V1470h1.5V1466h1.5V1468h1.5V1470h4.5V1461.5h1.5V1471.5h3V1466h1.5V1469.5h1.5V1453h1.5V1467h1.5V1473z" fill="#2e3192"/>
<text x="1420.8" y="1418.4" font-size="21.5" textLength="43.5" lengthAdjust="spacingAndGlyphs">[1–5]</text>
<text x="1420.8" y="1453.9" font-size="21.5" textLength="43.5" lengthAdjust="spacingAndGlyphs">[1–5]</text>
<text x="1836.8" y="1418.4" font-size="21.5" textLength="43.5" lengthAdjust="spacingAndGlyphs">[1–5]</text>
<text x="1836.8" y="1453.9" font-size="21.5" textLength="43.5" lengthAdjust="spacingAndGlyphs">[1–5]</text>
<rect x="1111.9" y="1476" width="28" height="4" fill="#9d9fa2"/>
<rect x="1167.4" y="1476" width="18.6" height="4" fill="#9d9fa2"/>
<rect x="1208.7" y="1476" width="42.6" height="4" fill="#9d9fa2"/>
<rect x="1295.3" y="1476" width="14.7" height="4" fill="#9d9fa2"/>
<rect x="1411.2" y="1476" width="14.7" height="4" fill="#9d9fa2"/>
<rect x="1441.6" y="1476" width="25.4" height="4" fill="#2e3192"/>
<rect x="1526.1" y="1476" width="28" height="4" fill="#9d9fa2"/>
<rect x="1581.6" y="1476" width="18.6" height="4" fill="#9d9fa2"/>
<rect x="1622.9" y="1476" width="42.6" height="4" fill="#9d9fa2"/>
<rect x="1709.5" y="1476" width="14.7" height="4" fill="#9d9fa2"/>
<rect x="1825.4" y="1476" width="14.7" height="4" fill="#9d9fa2"/>
<rect x="1855.8" y="1476" width="25.4" height="4" fill="#2e3192"/>
<text x="1398.5" y="1496.5" font-size="20.5" font-style="italic" textLength="68.5" lengthAdjust="spacingAndGlyphs">XRCC5</text>
<text x="1813.1" y="1496.5" font-size="20.5" font-style="italic" textLength="68" lengthAdjust="spacingAndGlyphs">XRCC5</text>
<clipPath id="c7"><path d="M1111.9 1500.5L1288.5 1677.1L1465.1 1500.5z"/></clipPath>
<g clip-path="url(#c7)"><g transform="matrix(1.9622 -1.9622 1.9622 1.9622 1111.9 1500.5) translate(.5 .5)" stroke-width="1.06" stroke-linecap="square" fill="none"><path d="M10 22h0M2 25h0M16 27h0M5 31h0M9 31h0M1 35h0M12 42h0M45 57h0M48 58h0M52 58h0M43 63h0M55 63h0M57 63h0M47 64h0M44 65h0M53 65h0M49 67h0M57 68h0M62 68h0M56 69h0M58 69h0M55 70h0M64 70h0M46 72h0M50 72h0M29 73h0M37 73h0M54 73h0M54 74h0M22 75h0M32 75h0M22 76h0M25 76h0M30 76h0M12 78h0M19 79h0M31 79h1M29 80h0M17 81h0M32 81h0M30 82h0" stroke="#97a2b1"/><path d="M5 32h0M11 37h0M25 40h0M49 56h0M45 58h0M51 58h0M43 59h0M46 59h0M48 60h0M48 61h0M46 62h0M56 63h0M49 65h0M44 66h0M55 66h0M47 67h0M55 67h0M49 68h0M43 69h0M48 71h0M65 73h0M47 74h0M49 74h0M54 75h0M21 76h0M48 76h0M20 77h0M30 77h0M35 77h0M13 78h0M17 78h0M34 78h0M36 78h0M37 79h0M12 80h0M32 82h0M6 83h0" stroke="#5685c7"/><path d="M18 28h0M12 31h0M52 60h0M44 61h0M54 62h0M47 63h0M60 66h0M46 68h0M61 70h0M57 71h0M30 72h0M55 72h0M49 73h0M11 74h0M13 74h0M63 74h0M51 75h0M64 75h0M33 76h0M44 77h0M18 79h0M23 79h0M38 79h0M2 80h0M38 80h0" stroke="#4d89d0"/><path d="M18 33h0M26 40h0M29 40h0M6 45h0M4 53h0M42 57h0M51 59h0M54 60h0M51 61h0M55 61h0M44 63h0M45 66h0M56 66h0M59 66h0M47 68h0M44 69h1M54 70h0M54 71h0M32 72h0M1 73h0M4 73h0M46 73h0M67 73h0M50 74h0M6 75h0M36 75h0M50 75h0M17 76h0M24 76h0M57 76h0M1 78h0M5 80h0M33 80h0M30 81h0M32 84h0" stroke="#519ad8"/><path d="M1 33h0M29 41h0M48 56h0M44 59h0M46 60h0M52 65h0M57 66h0M52 67h1M43 68h0M50 69h0M63 69h0M41 70h0M52 70h0M3 71h0M63 71h0M59 75h0M40 76h0M24 78h0M26 78h0M28 78h0M38 78h0M16 79h0M25 80h0M27 80h0" stroke="#56abe1"/><path d="M0 34h0M18 36h0M19 37h0M27 39h0M12 51h0M25 57h0M50 60h0M49 62h0M53 63h0M56 64h0M58 64h0M46 65h0M43 66h0M54 69h0M51 70h0M16 74h0M18 74h0M38 75h0M1 76h0M28 76h0M60 76h0M18 77h0M27 78h0M15 79h0M29 79h0M9 81h0" stroke="#5abce9"/><path d="M10 35h0M11 36h0M17 45h0M53 60h0M52 63h0M54 65h0M54 67h0M62 70h0M58 71h1M33 75h0M35 75h0M8 76h0M18 76h0M52 76h0M63 76h0M10 78h0M12 79h0M13 80h0M37 80h0M24 81h0M11 82h0" stroke="#75c7e9"/><path d="M56 62h0M60 67h0M49 71h0M39 75h0M29 77h0M39 79h0" stroke="#ccbfc5"/><path d="M50 61h0M58 65h0M56 71h0M49 76h0M0 82h0M19 86h0" stroke="#db9c9f"/><path d="M27 40h0M50 71h0M27 75h0M31 75h0M10 77h0" stroke="#ea7979"/><path d="M27 72h0M8 77h0" stroke="#ee5e5d"/><path d="M5 18h0M14 29h0M25 39h0M25 41h0M49 58h1M52 59h1M51 60h0M52 61h1M48 62h0M50 62h3M55 62h0M49 63h0M51 63h0M49 64h4M55 64h0M48 65h0M50 65h1M56 65h1M41 66h0M47 66h0M49 66h5M58 66h0M51 67h0M56 67h2M61 67h0M45 68h0M48 68h0M50 68h6M58 68h2M46 69h3M51 69h2M55 69h0M57 69h0M59 69h3M45 70h5M53 70h0M56 70h4M63 70h0M45 71h2M51 71h2M55 71h0M60 71h2M64 71h1M45 72h0M47 72h2M51 72h2M56 72h0M58 72h1M62 72h2M31 73h0M45 73h0M47 73h0M51 73h2M55 73h0M35 74h0M51 74h2M57 74h0M59 74h0M52 75h1M55 75h0M38 76h0M47 76h0M51 76h0M53 76h2M11 77h0M15 77h0M33 77h0M43 77h0M49 77h6M60 77h0M39 78h0M14 81h0M29 81h0" stroke="#ee322e"/></g></g>
<clipPath id="c8"><path d="M1526.6 1500.5L1703.2 1677.1L1879.8 1500.5z"/></clipPath>
<g clip-path="url(#c8)"><g transform="matrix(1.9622 -1.9622 1.9622 1.9622 1526.6 1500.5) translate(.5 .5)" stroke-width="1.06" stroke-linecap="square" fill="none"><path d="M9 19h0M13 32h0M13 38h0M46 56h0M46 57h0M48 58h0M41 61h0M46 61h1M54 63h0M48 64h0M55 64h0M50 65h0M58 65h0M43 66h0M59 66h0M48 67h0M62 69h0M49 70h0M44 71h0M60 71h0M62 71h1M58 72h0M21 73h0M61 73h0M67 74h0M9 75h0M54 75h0M58 76h0M64 76h0M40 78h0M27 79h0M39 82h0M51 85h0M48 87h0" stroke="#97a2b1"/><path d="M46 58h0" stroke="#7793bc"/><path d="M18 31h0M29 37h0M5 41h0M6 42h0M52 58h0M41 59h0M41 62h0M49 62h0M45 63h0M52 63h0M51 64h0M59 68h0M60 70h0M19 74h0M34 74h0M49 75h0M57 75h0M2 76h0M52 77h0M24 79h0M32 79h0M49 84h0" stroke="#5685c7"/><path d="M50 57h0M45 59h0M49 66h0M52 67h0M57 69h0M44 70h0M55 75h0M4 77h0M26 77h0M29 77h0M40 77h0" stroke="#4d89d0"/><path d="M17 35h0M2 37h0M42 59h0M48 59h0M48 63h0M46 64h0M53 65h0M42 67h0M49 67h0M47 68h0M57 68h0M47 69h0M51 69h0M60 69h0M30 72h0M44 72h0M17 73h0M49 73h0M22 75h0M24 75h0M36 75h0M59 75h0M59 76h0M1 77h0M24 82h0" stroke="#519ad8"/><path d="M25 30h0M6 38h0M48 57h0M51 57h0M51 58h0M54 60h0M44 65h0M55 65h0M42 66h0M44 67h0M55 69h0M51 71h0M26 73h0M9 74h0M25 75h0M32 75h0M48 75h0M32 76h0M51 76h0M8 77h0M51 77h0M29 78h0M26 80h0M36 80h0M0 84h0" stroke="#56abe1"/><path d="M21 27h0M42 56h1M41 57h0M55 61h0M44 62h0M46 62h0M52 64h0M56 64h0M54 66h1M58 67h0M54 68h0M49 69h0M59 69h0M52 70h0M13 73h0M56 73h0M33 74h0M55 76h0M30 79h0M50 85h0" stroke="#5abce9"/><path d="M4 27h0M10 30h0M28 38h0M1 40h0M45 57h0M49 60h0M55 62h1M43 63h0M41 64h0M45 67h0M50 67h1M56 67h0M59 67h0M6 73h0M40 74h0M54 74h0M24 76h0M17 77h0M35 78h0M14 79h0" stroke="#75c7e9"/><path d="M54 76h0M33 81h0" stroke="#b5d2e0"/><path d="M13 17h0M12 41h0M47 59h0M46 68h0M36 72h0" stroke="#ccbfc5"/><path d="M49 56h0M45 66h0M58 66h0M61 67h0M62 75h0M64 75h0M30 77h0" stroke="#db9c9f"/><path d="M52 62h0M50 73h0M47 74h0M33 75h0M53 76h0M31 78h0M49 86h0" stroke="#ea7979"/><path d="M56 65h0M44 69h0M31 79h0M50 84h0" stroke="#ee5e5d"/><path d="M14 29h0M49 58h1M49 59h0M51 59h2M41 60h0M43 60h0M48 60h0M50 60h3M51 61h3M48 62h0M50 62h1M44 63h0M49 63h2M53 63h0M55 63h1M44 64h0M50 64h0M53 64h0M46 65h0M48 65h0M51 65h1M54 65h0M57 65h0M48 66h0M50 66h3M56 66h1M53 67h2M57 67h0M45 68h0M49 68h4M55 68h1M60 68h0M62 68h0M43 69h0M45 69h1M48 69h0M50 69h0M52 69h2M56 69h0M58 69h0M61 69h0M45 70h3M50 70h1M53 70h6M61 70h2M45 71h5M52 71h7M61 71h0M64 71h0M45 72h1M48 72h7M60 72h0M46 73h1M51 73h1M54 73h1M50 74h2M55 74h0M50 75h2M48 76h2M52 76h0M67 76h0M12 77h0M35 77h0M49 77h1M53 77h0M50 82h0" stroke="#ee322e"/></g></g>
<path d="M1111.9 1500.5H1465.1L1288.5 1677.2z" fill="none" stroke="#000" stroke-width="2"/>
<path d="M1526.6 1500.5H1879.8L1703.2 1677.2z" fill="none" stroke="#000" stroke-width="2"/>
<ellipse cx="1295" cy="1617.8" rx="47" ry="27" transform="rotate(-47 1295 1617.8)" fill="none" stroke="#000" stroke-width="1.8" stroke-dasharray="8.5 5"/>
<ellipse cx="1714.5" cy="1617.8" rx="47" ry="27" transform="rotate(-47 1714.5 1617.8)" fill="none" stroke="#000" stroke-width="1.8" stroke-dasharray="8.5 5"/>
<text x="1155.4" y="1674" font-size="24.9" textLength="81.3" lengthAdjust="spacingAndGlyphs">Control</text>
<text x="1747.8" y="1674" font-size="24.9" textLength="161.8" lengthAdjust="spacingAndGlyphs">20w-pWGD T1</text>
<text x="1432" y="1230.5" font-size="24.9" textLength="125.3" lengthAdjust="spacingAndGlyphs">Normalized</text>
<text x="1433.3" y="1260.6" font-size="24.9" textLength="129.3" lengthAdjust="spacingAndGlyphs">interactions</text>
<defs><linearGradient id="gv2" x1="0" y1="0" x2="1" y2="0"><stop offset="0.000" stop-color="#440154"/><stop offset="0.100" stop-color="#482475"/><stop offset="0.200" stop-color="#414487"/><stop offset="0.300" stop-color="#355f8d"/><stop offset="0.400" stop-color="#2a788e"/><stop offset="0.500" stop-color="#21918c"/><stop offset="0.600" stop-color="#22a884"/><stop offset="0.700" stop-color="#44bf70"/><stop offset="0.800" stop-color="#7ad151"/><stop offset="0.900" stop-color="#bddf26"/><stop offset="1.000" stop-color="#fde725"/></linearGradient></defs>
<rect x="1445.9" y="1273.4" width="101.5" height="24.5" fill="url(#gv2)" stroke="#000" stroke-width="2"/>
<path d="M1445.9 1297.9v5.3M1496.5 1297.9v5.3M1547.4 1297.9v5.3" fill="none" stroke="#000" stroke-width="2"/>
<text x="1445.9" y="1323.3" font-size="24.9" text-anchor="middle" textLength="13.93" lengthAdjust="spacingAndGlyphs">0</text>
<text x="1500.8" y="1323.3" font-size="24.9" text-anchor="middle" textLength="34.82" lengthAdjust="spacingAndGlyphs">2.5</text>
<text x="1546.6" y="1323.3" font-size="24.9" text-anchor="middle" textLength="13.93" lengthAdjust="spacingAndGlyphs">5</text>
<text x="1420" y="1613.3" font-size="24.9" textLength="161.2" lengthAdjust="spacingAndGlyphs">−log<tspan font-size="70%" dy="0.3em">10</tspan><tspan dy="-0.21em">(</tspan><tspan font-style="italic">P</tspan> value)</text>
<defs><linearGradient id="gs2" x1="0" y1="0" x2="1" y2="0"><stop offset="0.000" stop-color="#a7a9ac"/><stop offset="0.180" stop-color="#4a7fcb"/><stop offset="0.420" stop-color="#5bc0eb"/><stop offset="0.580" stop-color="#b0d6e6"/><stop offset="0.660" stop-color="#cdbec3"/><stop offset="0.800" stop-color="#ee6e6e"/><stop offset="1.000" stop-color="#ee2722"/></linearGradient></defs>
<rect x="1447.5" y="1626.6" width="101.8" height="23.2" fill="url(#gs2)" stroke="#000" stroke-width="2"/>
<path d="M1464.8 1649.8v4.8M1492.8 1649.8v4.8M1520.7 1649.8v4.8M1548.7 1649.8v4.8" fill="none" stroke="#000" stroke-width="2"/>
<text x="1473.3" y="1693.2" font-size="24.9" transform="rotate(-90 1473.3 1693.2)" textLength="30.7" lengthAdjust="spacingAndGlyphs">1.5</text>
<text x="1501.3" y="1693.2" font-size="24.9" transform="rotate(-90 1501.3 1693.2)" textLength="30.7" lengthAdjust="spacingAndGlyphs">2.0</text>
<text x="1529.3" y="1693.2" font-size="24.9" transform="rotate(-90 1529.3 1693.2)" textLength="30.7" lengthAdjust="spacingAndGlyphs">2.5</text>
<text x="1557.3" y="1693.2" font-size="24.9" transform="rotate(-90 1557.3 1693.2)" textLength="30.7" lengthAdjust="spacingAndGlyphs">3.0</text>
</g>
<g id="panel_l">
<text transform="translate(-2.26 1735.5) scale(1.22 1)" font-size="31.5" font-weight="bold" stroke="#000" stroke-width="1.2">l</text>
<path d="M257.6 1727.2H262.8V1943.9H257.6M257.6 1900.56H262.8M257.6 1857.22H262.8M257.6 1813.88H262.8M257.6 1770.54H262.8" fill="none" stroke="#000" stroke-width="2"/>
<text x="252.8" y="1951" font-size="24.9" text-anchor="end" textLength="13.93" lengthAdjust="spacingAndGlyphs">0</text>
<text x="252.8" y="1907.66" font-size="24.9" text-anchor="end" textLength="34.82" lengthAdjust="spacingAndGlyphs">0.2</text>
<text x="252.8" y="1864.32" font-size="24.9" text-anchor="end" textLength="34.82" lengthAdjust="spacingAndGlyphs">0.4</text>
<text x="252.8" y="1820.98" font-size="24.9" text-anchor="end" textLength="34.82" lengthAdjust="spacingAndGlyphs">0.6</text>
<text x="252.8" y="1777.64" font-size="24.9" text-anchor="end" textLength="34.82" lengthAdjust="spacingAndGlyphs">0.8</text>
<text x="252.8" y="1734.3" font-size="24.9" text-anchor="end" textLength="34.82" lengthAdjust="spacingAndGlyphs">1.0</text>
<text x="201.8" y="1832.4" font-size="24.9" text-anchor="middle" transform="rotate(-90 201.8 1832.4)" textLength="129.47" lengthAdjust="spacingAndGlyphs">Calder rank</text>
<defs><linearGradient id="gab" x1="0" y1="0" x2="0" y2="1"><stop offset="0" stop-color="#ec1c24"/><stop offset="0.5" stop-color="#8d5b7c"/><stop offset="1" stop-color="#1c75bc"/></linearGradient></defs>
<rect x="270.3" y="1727.2" width="25.7" height="216.7" fill="url(#gab)"/>
<text x="283.1" y="1747.7" font-size="21.5" text-anchor="middle" fill="#fff" textLength="14.43" lengthAdjust="spacingAndGlyphs">A</text>
<text x="283.1" y="1938.9" font-size="21.5" text-anchor="middle" fill="#fff" textLength="14.43" lengthAdjust="spacingAndGlyphs">B</text>
<path d="M336.8 1794.2L413 1807.8L489.8 1814.7M336.8 1770.1L413 1797.9L489.8 1864.4M336.8 1827.2L413 1861.3L489.8 1932.8M336.8 1857.5L413 1884.3L489.8 1911.7M336.8 1752.5L413 1781.2L489.8 1839.9M336.8 1787.2L413 1802.5L489.8 1845.8M336.8 1758.4L413 1781.5L489.8 1825.1M336.8 1745.9L413 1756.6L489.8 1772M336.8 1733.6L413 1752.7L489.8 1827.5M336.8 1857.1L413 1882.2L489.8 1888M336.8 1743.3L413 1755.5L489.8 1834.4M336.8 1751L413 1789.9L489.8 1854.4M336.8 1747.2L413 1784.5L489.8 1850.1M336.8 1823.2L413 1858.6L489.8 1922.9M336.8 1849.3L413 1875.7L489.8 1932.8M336.8 1733L413 1752.7L489.8 1820.8M336.8 1759.8L413 1777.7L489.8 1872.6M336.8 1734L413 1766L489.8 1798.4M336.8 1782.4L413 1804.6L489.8 1820.3M336.8 1781.8L413 1802.2L489.8 1903.5M336.8 1754L413 1769.5L489.8 1875.8M336.8 1866.1L413 1879.3L489.8 1932.8M336.8 1784L413 1823.6L489.8 1840.4M336.8 1770.2L413 1800.5L489.8 1872.1M336.8 1827.3L413 1850.4L489.8 1872M336.8 1836.6L413 1863.8L489.8 1907.2M336.8 1775.2L413 1786.1L489.8 1838.5M336.8 1793.3L413 1814.9L489.8 1888.6M336.8 1860.6L413 1884.3L489.8 1932.8M336.8 1805.3L413 1832.3L489.8 1857.9M336.8 1739.5L413 1763.3L489.8 1786.3M336.8 1744.7L413 1765.9L489.8 1828M336.8 1773.4L413 1793.5L489.8 1817.4M336.8 1830.8L413 1869.9L489.8 1932.8M336.8 1814.8L413 1838.1L489.8 1864.4M336.8 1756.8L413 1779.2L489.8 1793.5M336.8 1734.1L413 1752.7L489.8 1772M336.8 1811.7L413 1853.3L489.8 1862.2M336.8 1745.1L413 1759.3L489.8 1807M336.8 1747L413 1785.1L489.8 1813.5M336.8 1832.4L413 1860.2L489.8 1918.2M336.8 1762.4L413 1800.3L489.8 1847.5M336.8 1749.8L413 1784.1L489.8 1843.3M336.8 1771.8L413 1811.1L489.8 1831.6M336.8 1854.5L413 1884.3L489.8 1932.8M336.8 1764.5L413 1787.9L489.8 1839.9M336.8 1845.6L413 1864.1L489.8 1875M336.8 1808.7L413 1824.6L489.8 1870.3M336.8 1769.4L413 1783.4L489.8 1867.2M336.8 1777L413 1804.7L489.8 1862.8M336.8 1852L413 1870.9L489.8 1932.8M336.8 1795.2L413 1814.8L489.8 1827.8M336.8 1781L413 1798.7L489.8 1903.2M336.8 1743.9L413 1753.7L489.8 1772M336.8 1867.3L413 1884.3L489.8 1932.8M336.8 1754.5L413 1774L489.8 1856.9M336.8 1849.9L413 1862.2L489.8 1869.3M336.8 1849.5L413 1884.3L489.8 1895.3M336.8 1763.2L413 1792.7L489.8 1800.5M336.8 1778.3L413 1804.2L489.8 1842M336.8 1785.2L413 1815.3L489.8 1893.4M336.8 1746.6L413 1775.4L489.8 1791M336.8 1846.9L413 1884.3L489.8 1932.8M336.8 1785.3L413 1814.3L489.8 1861.8M336.8 1806.9L413 1847.6L489.8 1882.3M336.8 1836L413 1853.3L489.8 1875.4M336.8 1858.8L413 1884.3L489.8 1932.8M336.8 1788.8L413 1806.8L489.8 1867.6M336.8 1735.5L413 1766.7L489.8 1818.8M336.8 1750.3L413 1763.7L489.8 1795.7M336.8 1802.4L413 1839.1L489.8 1905.6M336.8 1862.6L413 1884.3L489.8 1932.8M336.8 1755.4L413 1783L489.8 1868.3M336.8 1765.4L413 1803.5L489.8 1862.5M336.8 1736.9L413 1760.2L489.8 1801.2M336.8 1753.8L413 1768.2L489.8 1852.7M336.8 1859.2L413 1884.3L489.8 1925.7M336.8 1734.5L413 1752.7L489.8 1794.1M336.8 1846L413 1869.3L489.8 1932.8M336.8 1828L413 1840.7L489.8 1865.8M336.8 1800.4L413 1821.6L489.8 1867.9M336.8 1801.4L413 1812L489.8 1885.1M336.8 1773.5L413 1790.9L489.8 1808.8M336.8 1744.8L413 1777.8L489.8 1826.6M336.8 1763.3L413 1773L489.8 1814.3M336.8 1755.7L413 1788.5L489.8 1803.7M336.8 1762.2L413 1782.3L489.8 1882.7M336.8 1735L413 1752.7L489.8 1801M336.8 1773.9L413 1794.3L489.8 1896.1M336.8 1802.9L413 1817.2L489.8 1920.4M336.8 1764.7L413 1793.3L489.8 1860M336.8 1773.7L413 1806.6L489.8 1820.6M336.8 1900.1L413 1926.7L489.8 1924M336.8 1871.9L413 1884.3L489.8 1949.5M336.8 1740L413 1760L489.8 1757.4" fill="none" stroke="#3953a4" stroke-width="1.1" stroke-linejoin="round"/>
<path d="M336.8 1733v7M336.8 1743.5v3.5M336.8 1750v15.5M336.8 1769.5v19.5M336.8 1793.5v1.5M336.8 1800.5v8M336.8 1811.5v0M336.8 1815v0M336.8 1823v0M336.8 1827v1M336.8 1831v1.5M336.8 1836v0.5M336.8 1845.5v17M336.8 1866v1.5M336.8 1872v0M336.8 1900v0M413 1752.5v4M413 1759.5v0.5M413 1763.5v6M413 1773v21.5M413 1798v10M413 1811v6M413 1821.5v3M413 1832.5v0M413 1838v2.5M413 1847.5v0M413 1850.5v0M413 1853.5v0M413 1858.5v5.5M413 1869.5v1.5M413 1875.5v0M413 1879.5v5M413 1926.5v0M489.8 1757.5v0M489.8 1772v0M489.8 1786.5v0M489.8 1791v4.5M489.8 1798.5v5M489.8 1807v2M489.8 1813.5v1M489.8 1817.5v3.5M489.8 1825v3M489.8 1831.5v0M489.8 1834.5v0M489.8 1838.5v37.5M489.8 1882.5v2.5M489.8 1888v0.5M489.8 1893.5v2.5M489.8 1903v4M489.8 1911.5v0M489.8 1918v7.5M489.8 1933v0M489.8 1949.5v0" fill="none" stroke="#3953a4" stroke-width="6.6" stroke-linecap="round"/>
<path d="M336.8 1966.9V1961.9H489.8V1966.9M413 1961.9v5" fill="none" stroke="#000" stroke-width="2"/>
<text x="344.3" y="1985.4" font-size="24.9" text-anchor="end" transform="rotate(-45 344.3 1985.4)" textLength="80.75" lengthAdjust="spacingAndGlyphs">Control</text>
<text x="420.5" y="1985.4" font-size="24.9" text-anchor="end" transform="rotate(-45 420.5 1985.4)" textLength="61.22" lengthAdjust="spacingAndGlyphs">WGD</text>
<text x="497.3" y="1985.4" font-size="24.9" text-anchor="end" transform="rotate(-45 497.3 1985.4)" textLength="97.89" lengthAdjust="spacingAndGlyphs">Tumours</text>
<text x="315.2" y="1953" font-size="24.9" textLength="141.6" lengthAdjust="spacingAndGlyphs">82% (<tspan font-style="italic">n</tspan> = 94)</text>
<path d="M608.7 1759.6L685.2 1733.3L761.4 1808.1M608.7 1763.8L685.2 1751.3L761.4 1799.8M608.7 1770.7L685.2 1759L761.4 1810.9M608.7 1774.8L685.2 1767.9L761.4 1848.3M608.7 1780.4L685.2 1769.3L761.4 1844.1M608.7 1789.3L685.2 1776.2L761.4 1837.8M608.7 1789.5L685.2 1785.9L761.4 1862.2M608.7 1804.8L685.2 1790.1L761.4 1866.3M608.7 1809.5L685.2 1795.6L761.4 1870.5M608.7 1813.1L685.2 1799.2L761.4 1863.5M608.7 1815L685.2 1800.3L761.4 1880.2M608.7 1816.4L685.2 1801.2L761.4 1871.9M608.7 1820L685.2 1813.6L761.4 1889M608.7 1830.3L685.2 1815.9L761.4 1894.9M608.7 1834.4L685.2 1817.8L761.4 1866.3M608.7 1838.6L685.2 1818.6L761.4 1907.9M608.7 1842.8L685.2 1830.3L761.4 1913.4M608.7 1848.3L685.2 1832.5L761.4 1877.4M608.7 1851.9L685.2 1835.8L761.4 1927.8M608.7 1852.5L685.2 1836.7L761.4 1937.8M608.7 1869.1L685.2 1853L761.4 1862.2" fill="none" stroke="#a7a9ac" stroke-width="1.2" stroke-linejoin="round"/>
<path d="M608.7 1759.5v0M608.7 1764v0M608.7 1770.5v0M608.7 1775v0M608.7 1780.5v0M608.7 1789.5v0M608.7 1805v0M608.7 1809.5v0M608.7 1813v3.5M608.7 1820v0M608.7 1830.5v0M608.7 1834.5v0M608.7 1838.5v0M608.7 1843v0M608.7 1848.5v0M608.7 1852v0.5M608.7 1869v0M685.2 1733.5v0M685.2 1751.5v0M685.2 1759v0M685.2 1768v1.5M685.2 1776v0M685.2 1786v0M685.2 1790v0M685.2 1795.5v0M685.2 1799v2M685.2 1813.5v5M685.2 1830.5v2M685.2 1836v0.5M685.2 1853v0M761.4 1800v0M761.4 1808v0M761.4 1811v0M761.4 1838v0M761.4 1844v0M761.4 1848.5v0M761.4 1862v1.5M761.4 1866.5v0M761.4 1870.5v1.5M761.4 1877.5v2.5M761.4 1889v0M761.4 1895v0M761.4 1908v0M761.4 1913.5v0M761.4 1928v0M761.4 1938v0" fill="none" stroke="#a7a9ac" stroke-width="6.2" stroke-linecap="round"/>
<path d="M608.7 1966.9V1961.9H761.4V1966.9M685.2 1961.9v5" fill="none" stroke="#000" stroke-width="2"/>
<text x="616.2" y="1985.4" font-size="24.9" text-anchor="end" transform="rotate(-45 616.2 1985.4)" textLength="80.75" lengthAdjust="spacingAndGlyphs">Control</text>
<text x="692.7" y="1985.4" font-size="24.9" text-anchor="end" transform="rotate(-45 692.7 1985.4)" textLength="61.22" lengthAdjust="spacingAndGlyphs">WGD</text>
<text x="768.9" y="1985.4" font-size="24.9" text-anchor="end" transform="rotate(-45 768.9 1985.4)" textLength="97.89" lengthAdjust="spacingAndGlyphs">Tumours</text>
<text x="603.9" y="1949.5" font-size="24.9" textLength="142" lengthAdjust="spacingAndGlyphs">18% (<tspan font-style="italic">n</tspan> = 21)</text>
<path d="M873.4 1766.5L949.6 1783.2L1025.9 1741.6M873.4 1769.9L949.6 1786.5L1025.9 1737.4M873.4 1777.1L949.6 1792.3L1025.9 1750.7M873.4 1788.1L949.6 1806.2L1025.9 1744.3M873.4 1790.1L949.6 1806.7L1025.9 1767.9M873.4 1793.7L949.6 1808.7L1025.9 1753.5M873.4 1810L949.6 1815.9L1025.9 1727.7M873.4 1820.6L949.6 1840.8L1025.9 1763.8M873.4 1823.3L949.6 1842.8L1025.9 1776.2M873.4 1828.9L949.6 1844.1L1025.9 1772.6M873.4 1830.3L949.6 1845L1025.9 1741.6M873.4 1832.5L949.6 1855.2L1025.9 1794.2M873.4 1848.8L949.6 1867.1L1025.9 1807.3M873.4 1857.2L949.6 1869.6L1025.9 1822M873.4 1858L949.6 1890.7L1025.9 1751.3M873.4 1866.3L949.6 1878L1025.9 1827M873.4 1878.8L949.6 1891.3L1025.9 1774.8M873.4 1890.7L949.6 1902.3L1025.9 1848.3" fill="none" stroke="#a7a9ac" stroke-width="1.2" stroke-linejoin="round"/>
<path d="M873.4 1766.5v0M873.4 1770v0M873.4 1777v0M873.4 1788v2M873.4 1793.5v0M873.4 1810v0M873.4 1820.5v0M873.4 1823.5v0M873.4 1829v3.5M873.4 1849v0M873.4 1857v1M873.4 1866.5v0M873.4 1879v0M873.4 1890.5v0M949.6 1783v0M949.6 1786.5v0M949.6 1792.5v0M949.6 1806v2.5M949.6 1816v0M949.6 1841v4M949.6 1855v0M949.6 1867v2.5M949.6 1878v0M949.6 1890.5v1M949.6 1902.5v0M1025.9 1727.5v0M1025.9 1737.5v0M1025.9 1741.5v0M1025.9 1744.5v0M1025.9 1750.5v3M1025.9 1764v0M1025.9 1768v0M1025.9 1772.5v3.5M1025.9 1794v0M1025.9 1807.5v0M1025.9 1822v0M1025.9 1827v0M1025.9 1848.5v0" fill="none" stroke="#a7a9ac" stroke-width="6.2" stroke-linecap="round"/>
<path d="M873.4 1966.9V1961.9H1025.9V1966.9M949.6 1961.9v5" fill="none" stroke="#000" stroke-width="2"/>
<text x="880.9" y="1985.4" font-size="24.9" text-anchor="end" transform="rotate(-45 880.9 1985.4)" textLength="80.75" lengthAdjust="spacingAndGlyphs">Control</text>
<text x="957.1" y="1985.4" font-size="24.9" text-anchor="end" transform="rotate(-45 957.1 1985.4)" textLength="61.22" lengthAdjust="spacingAndGlyphs">WGD</text>
<text x="1033.4" y="1985.4" font-size="24.9" text-anchor="end" transform="rotate(-45 1033.4 1985.4)" textLength="97.89" lengthAdjust="spacingAndGlyphs">Tumours</text>
<text x="876.8" y="1949.5" font-size="24.9" textLength="142.8" lengthAdjust="spacingAndGlyphs">22% (<tspan font-style="italic">n</tspan> = 18)</text>
<path d="M1147.9 1883.2L1224.1 1856.4L1300.9 1838.5M1147.9 1909.8L1224.1 1878.4L1300.9 1810.2M1147.9 1882.9L1224.1 1858.9L1300.9 1826.1M1147.9 1875.5L1224.1 1841.1L1300.9 1797.3M1147.9 1801.5L1224.1 1790.7L1300.9 1783.5M1147.9 1898.6L1224.1 1867.1L1300.9 1836.5M1147.9 1923.2L1224.1 1896.6L1300.9 1844.1M1147.9 1852.4L1224.1 1824.4L1300.9 1758.2M1147.9 1898.2L1224.1 1878.7L1300.9 1804.2M1147.9 1898.6L1224.1 1863.2L1300.9 1844.1M1147.9 1835.9L1224.1 1808.6L1300.9 1758.2M1147.9 1863.6L1224.1 1833.5L1300.9 1790.4M1147.9 1805.7L1224.1 1796.6L1300.9 1758.2M1147.9 1811.1L1224.1 1786.3L1300.9 1758.2M1147.9 1840.4L1224.1 1821.1L1300.9 1815.2M1147.9 1822.3L1224.1 1815.1L1300.9 1800.9M1147.9 1813.4L1224.1 1788.8L1300.9 1775.3M1147.9 1831.3L1224.1 1806.7L1300.9 1779.3M1147.9 1905L1224.1 1880.3L1300.9 1842.4M1147.9 1837.9L1224.1 1825.2L1300.9 1813.9M1147.9 1835.8L1224.1 1803.3L1300.9 1758.2M1147.9 1818.7L1224.1 1800.7L1300.9 1775.6M1147.9 1914.1L1224.1 1891.5L1300.9 1834.6M1147.9 1914.1L1224.1 1892.3L1300.9 1844.1M1147.9 1811.7L1224.1 1805.4L1300.9 1776.9M1147.9 1831L1224.1 1813.4L1300.9 1780.8M1147.9 1932.3L1224.1 1901.8L1300.9 1844.1M1147.9 1912.2L1224.1 1893L1300.9 1797.4M1147.9 1817.1L1224.1 1806.3L1300.9 1760.5M1147.9 1825.4L1224.1 1818.4L1300.9 1758.2M1147.9 1817.9L1224.1 1794.2L1300.9 1774.1M1147.9 1858.6L1224.1 1843.3L1300.9 1796.9M1147.9 1821.1L1224.1 1803.5L1300.9 1798.4M1147.9 1880L1224.1 1853.2L1300.9 1816.7M1147.9 1800L1224.1 1785.9L1300.9 1758.2M1147.9 1919.3L1224.1 1881.3L1300.9 1838.2M1147.9 1847.5L1224.1 1840.2L1300.9 1778.2M1147.9 1800.7L1224.1 1785.9L1300.9 1768.5M1147.9 1900.6L1224.1 1888.1L1300.9 1844.1M1147.9 1890.8L1224.1 1865.8L1300.9 1840.3M1147.9 1938.4L1224.1 1907.9L1300.9 1844.1M1147.9 1805.1L1224.1 1785.9L1300.9 1758.2M1147.9 1838.6L1224.1 1822.8L1300.9 1758.2M1147.9 1820.1L1224.1 1814.4L1300.9 1768.3M1147.9 1920.3L1224.1 1887L1300.9 1844.1M1147.9 1880L1224.1 1865.8L1300.9 1786.3M1147.9 1860.1L1224.1 1833.2L1300.9 1791.8M1147.9 1903.4L1224.1 1873.5L1300.9 1844.1M1147.9 1844.7L1224.1 1818.5L1300.9 1758.2M1147.9 1862.3L1224.1 1841.6L1300.9 1775.8M1147.9 1866.3L1224.1 1846.6L1300.9 1842.4M1147.9 1894.5L1224.1 1880.3L1300.9 1844.1M1147.9 1809.7L1224.1 1799L1300.9 1758.2M1147.9 1933.5L1224.1 1893.6L1300.9 1812.4M1147.9 1917.1L1224.1 1890.8L1300.9 1844.1M1147.9 1806.6L1224.1 1785.9L1300.9 1764.4M1147.9 1809.3L1224.1 1785.9L1300.9 1758.2M1147.9 1923.6L1224.1 1892.7L1300.9 1844.1M1147.9 1825.6L1224.1 1800.9L1300.9 1758.2M1147.9 1832.9L1224.1 1820L1300.9 1812.9M1147.9 1754.1L1224.1 1742.4L1300.9 1725.8M1147.9 1765.7L1224.1 1742.4L1300.9 1741.6M1147.9 1780.4L1224.1 1754.6L1300.9 1751.3M1147.9 1783.2L1224.1 1771.5L1300.9 1745.7M1147.9 1941.2L1224.1 1928.7L1300.9 1898.2M1147.9 1939.8L1224.1 1928.7L1300.9 1846.9M1147.9 1928.7L1224.1 1907.9L1300.9 1892.6M1147.9 1919L1224.1 1905.1L1300.9 1880.2M1147.9 1910.7L1224.1 1894L1300.9 1869.1M1147.9 1905.1L1224.1 1888.5L1300.9 1866.3M1147.9 1894L1224.1 1880.2L1300.9 1860.8" fill="none" stroke="#ed1c24" stroke-width="1.1" stroke-linejoin="round"/>
<path d="M1147.9 1754v0M1147.9 1765.5v0M1147.9 1780.5v2.5M1147.9 1800v1.5M1147.9 1805v1.5M1147.9 1809.5v4M1147.9 1817v5.5M1147.9 1825.5v0M1147.9 1831v2M1147.9 1836v4.5M1147.9 1844.5v0M1147.9 1847.5v0M1147.9 1852.5v0M1147.9 1858.5v5M1147.9 1866.5v0M1147.9 1875.5v0M1147.9 1880v0M1147.9 1883v0M1147.9 1891v0M1147.9 1894v0.5M1147.9 1898v2.5M1147.9 1903.5v1.5M1147.9 1910v4M1147.9 1917v6.5M1147.9 1928.5v0M1147.9 1932.5v1M1147.9 1938.5v2.5M1224.1 1742.5v0M1224.1 1754.5v0M1224.1 1771.5v0M1224.1 1786v4.5M1224.1 1794v14.5M1224.1 1813.5v1.5M1224.1 1818.5v6.5M1224.1 1833v0.5M1224.1 1840v3.5M1224.1 1846.5v0M1224.1 1853v0M1224.1 1856.5v2.5M1224.1 1863v0M1224.1 1866v1M1224.1 1873.5v0M1224.1 1878.5v3M1224.1 1887v9.5M1224.1 1902v0M1224.1 1905v0M1224.1 1908v0M1224.1 1928.5v0M1300.9 1726v0M1300.9 1741.5v0M1300.9 1745.5v0M1300.9 1751.5v0M1300.9 1758v2.5M1300.9 1764.5v0M1300.9 1768.5v0M1300.9 1774v9.5M1300.9 1786.5v0M1300.9 1790.5v1.5M1300.9 1797v4M1300.9 1804v0M1300.9 1810v6.5M1300.9 1826v0M1300.9 1834.5v9.5M1300.9 1847v0M1300.9 1861v0M1300.9 1866.5v2.5M1300.9 1880v0M1300.9 1892.5v0M1300.9 1898v0" fill="none" stroke="#ed1c24" stroke-width="6.6" stroke-linecap="round"/>
<path d="M1147.9 1966.9V1961.9H1300.9V1966.9M1224.1 1961.9v5" fill="none" stroke="#000" stroke-width="2"/>
<text x="1155.4" y="1985.4" font-size="24.9" text-anchor="end" transform="rotate(-45 1155.4 1985.4)" textLength="80.75" lengthAdjust="spacingAndGlyphs">Control</text>
<text x="1231.6" y="1985.4" font-size="24.9" text-anchor="end" transform="rotate(-45 1231.6 1985.4)" textLength="61.22" lengthAdjust="spacingAndGlyphs">WGD</text>
<text x="1308.4" y="1985.4" font-size="24.9" text-anchor="end" transform="rotate(-45 1308.4 1985.4)" textLength="97.89" lengthAdjust="spacingAndGlyphs">Tumours</text>
<text x="1198.9" y="1955" font-size="24.9" textLength="142.2" lengthAdjust="spacingAndGlyphs">78% (<tspan font-style="italic">n</tspan> = 65)</text>
<line x1="1428.7" y1="1743.5" x2="1455.11" y2="1757.86" stroke="#2e3192" stroke-width="1.2"/>
<polygon points="1463.02,1762.16 1452.82,1762.08 1457.41,1753.65" fill="#2e3192"/>
<line x1="1467.5" y1="1764.6" x2="1493.94" y2="1779.11" stroke="#2e3192" stroke-width="1.2"/>
<polygon points="1501.83,1783.45 1491.63,1783.32 1496.25,1774.91" fill="#2e3192"/>
<circle cx="1428.7" cy="1743.5" r="5.6" fill="#2e3192"/>
<circle cx="1467.5" cy="1764.6" r="5.6" fill="#2e3192"/>
<circle cx="1506.3" cy="1785.9" r="5.6" fill="#2e3192"/>
<line x1="1651" y1="1768.7" x2="1677.23" y2="1759.89" stroke="#a7a9ac" stroke-width="1.2"/>
<polygon points="1685.77,1757.02 1678.76,1764.44 1675.71,1755.34" fill="#a7a9ac"/>
<line x1="1690.6" y1="1755.4" x2="1718.93" y2="1776.16" stroke="#a7a9ac" stroke-width="1.2"/>
<polygon points="1726.19,1781.48 1716.09,1780.04 1721.77,1772.29" fill="#a7a9ac"/>
<circle cx="1651" cy="1768.7" r="5.6" fill="#a7a9ac"/>
<circle cx="1690.6" cy="1755.4" r="5.6" fill="#a7a9ac"/>
<circle cx="1730.3" cy="1784.5" r="5.6" fill="#a7a9ac"/>
<line x1="1424.5" y1="1918.4" x2="1450.52" y2="1927.05" stroke="#a7a9ac" stroke-width="1.2"/>
<polygon points="1459.06,1929.89 1449.01,1931.61 1452.03,1922.5" fill="#a7a9ac"/>
<line x1="1463.9" y1="1931.5" x2="1492.07" y2="1911.16" stroke="#a7a9ac" stroke-width="1.2"/>
<polygon points="1499.37,1905.89 1494.88,1915.05 1489.26,1907.26" fill="#a7a9ac"/>
<circle cx="1424.5" cy="1918.4" r="5.6" fill="#a7a9ac"/>
<circle cx="1463.9" cy="1931.5" r="5.6" fill="#a7a9ac"/>
<circle cx="1503.5" cy="1902.9" r="5.6" fill="#a7a9ac"/>
<line x1="1651.3" y1="1926.5" x2="1677.71" y2="1912.14" stroke="#ed1c24" stroke-width="1.2"/>
<polygon points="1685.62,1907.84 1680.01,1916.35 1675.42,1907.92" fill="#ed1c24"/>
<line x1="1690.1" y1="1905.4" x2="1716.79" y2="1891" stroke="#ed1c24" stroke-width="1.2"/>
<polygon points="1724.71,1886.72 1719.07,1895.22 1714.51,1886.77" fill="#ed1c24"/>
<circle cx="1651.3" cy="1926.5" r="5.6" fill="#ed1c24"/>
<circle cx="1690.1" cy="1905.4" r="5.6" fill="#ed1c24"/>
<circle cx="1729.2" cy="1884.3" r="5.6" fill="#ed1c24"/>
<text x="1402.4" y="1822" font-size="24.9" textLength="119.2" lengthAdjust="spacingAndGlyphs">Consistent</text>
<text x="1398.8" y="1846.9" font-size="24.9" textLength="125.5" lengthAdjust="spacingAndGlyphs">inactivation</text>
<text x="1625" y="1822" font-size="24.9" textLength="134.1" lengthAdjust="spacingAndGlyphs">Inconsistent</text>
<text x="1629.1" y="1846.9" font-size="24.9" textLength="125.9" lengthAdjust="spacingAndGlyphs">inactivation</text>
<text x="1396.8" y="1962.5" font-size="24.9" textLength="134.5" lengthAdjust="spacingAndGlyphs">Inconsistent</text>
<text x="1410.7" y="1987.4" font-size="24.9" textLength="106.7" lengthAdjust="spacingAndGlyphs">activation</text>
<text x="1636" y="1962.5" font-size="24.9" textLength="119" lengthAdjust="spacingAndGlyphs">Consistent</text>
<text x="1642.1" y="1987.4" font-size="24.9" textLength="106.7" lengthAdjust="spacingAndGlyphs">activation</text>
</g>
</svg>
</body></html>
